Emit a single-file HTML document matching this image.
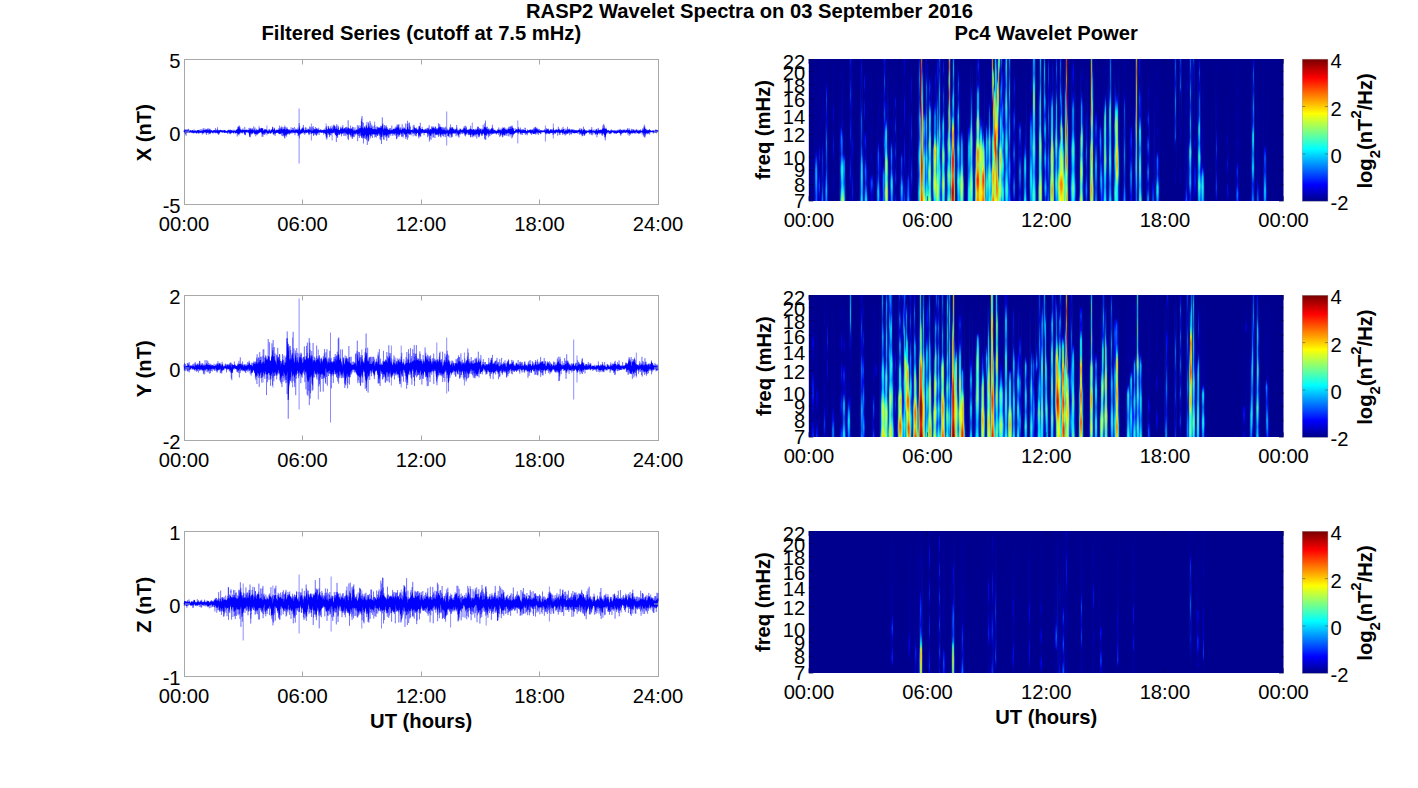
<!DOCTYPE html><html><head><meta charset="utf-8"><style>html,body{margin:0;padding:0;background:#fff;width:1418px;height:788px;overflow:hidden;position:relative}i{position:absolute;width:1px;display:block}</style></head><body><svg width="1418" height="788" viewBox="0 0 1418 788" font-family='"Liberation Sans", sans-serif' style="position:absolute;left:0;top:0">
<rect width="1418" height="788" fill="#fff"/>
<defs><linearGradient id="cb" x1="0" y1="0" x2="0" y2="1"><stop offset="0.0078" stop-color="#800000"/><stop offset="0.0234" stop-color="#8f0000"/><stop offset="0.0391" stop-color="#9f0000"/><stop offset="0.0547" stop-color="#af0000"/><stop offset="0.0703" stop-color="#bf0000"/><stop offset="0.0859" stop-color="#cf0000"/><stop offset="0.1016" stop-color="#df0000"/><stop offset="0.1172" stop-color="#ef0000"/><stop offset="0.1328" stop-color="#ff0000"/><stop offset="0.1484" stop-color="#ff1000"/><stop offset="0.1641" stop-color="#ff2000"/><stop offset="0.1797" stop-color="#ff3000"/><stop offset="0.1953" stop-color="#ff4000"/><stop offset="0.2109" stop-color="#ff5000"/><stop offset="0.2266" stop-color="#ff6000"/><stop offset="0.2422" stop-color="#ff7000"/><stop offset="0.2578" stop-color="#ff8000"/><stop offset="0.2734" stop-color="#ff8f00"/><stop offset="0.2891" stop-color="#ff9f00"/><stop offset="0.3047" stop-color="#ffaf00"/><stop offset="0.3203" stop-color="#ffbf00"/><stop offset="0.3359" stop-color="#ffcf00"/><stop offset="0.3516" stop-color="#ffdf00"/><stop offset="0.3672" stop-color="#ffef00"/><stop offset="0.3828" stop-color="#ffff00"/><stop offset="0.3984" stop-color="#efff10"/><stop offset="0.4141" stop-color="#dfff20"/><stop offset="0.4297" stop-color="#cfff30"/><stop offset="0.4453" stop-color="#bfff40"/><stop offset="0.4609" stop-color="#afff50"/><stop offset="0.4766" stop-color="#9fff60"/><stop offset="0.4922" stop-color="#8fff70"/><stop offset="0.5078" stop-color="#80ff80"/><stop offset="0.5234" stop-color="#70ff8f"/><stop offset="0.5391" stop-color="#60ff9f"/><stop offset="0.5547" stop-color="#50ffaf"/><stop offset="0.5703" stop-color="#40ffbf"/><stop offset="0.5859" stop-color="#30ffcf"/><stop offset="0.6016" stop-color="#20ffdf"/><stop offset="0.6172" stop-color="#10ffef"/><stop offset="0.6328" stop-color="#00ffff"/><stop offset="0.6484" stop-color="#00efff"/><stop offset="0.6641" stop-color="#00dfff"/><stop offset="0.6797" stop-color="#00cfff"/><stop offset="0.6953" stop-color="#00bfff"/><stop offset="0.7109" stop-color="#00afff"/><stop offset="0.7266" stop-color="#009fff"/><stop offset="0.7422" stop-color="#008fff"/><stop offset="0.7578" stop-color="#0080ff"/><stop offset="0.7734" stop-color="#0070ff"/><stop offset="0.7891" stop-color="#0060ff"/><stop offset="0.8047" stop-color="#0050ff"/><stop offset="0.8203" stop-color="#0040ff"/><stop offset="0.8359" stop-color="#0030ff"/><stop offset="0.8516" stop-color="#0020ff"/><stop offset="0.8672" stop-color="#0010ff"/><stop offset="0.8828" stop-color="#0000ff"/><stop offset="0.8984" stop-color="#0000ef"/><stop offset="0.9141" stop-color="#0000df"/><stop offset="0.9297" stop-color="#0000cf"/><stop offset="0.9453" stop-color="#0000bf"/><stop offset="0.9609" stop-color="#0000af"/><stop offset="0.9766" stop-color="#00009f"/><stop offset="0.9922" stop-color="#00008f"/></linearGradient></defs>
<text x="749.5" y="17.6" font-size="20.2" font-weight="bold" text-anchor="middle">RASP2 Wavelet Spectra on 03 September 2016</text>
<text x="421.3" y="39.7" font-size="20.2" font-weight="bold" text-anchor="middle">Filtered Series (cutoff at 7.5 mHz)</text>
<text x="1046.2" y="39.7" font-size="20.2" font-weight="bold" text-anchor="middle">Pc4 Wavelet Power</text>
<rect x="184.5" y="59.5" width="474.0" height="145.0" fill="none" stroke="#a8a8a8" stroke-width="1"/>
<polygon points="184.5,130.5 185.5,130.4 186.5,130.5 187.5,130.5 188.5,131.0 189.5,131.1 190.5,130.7 191.5,131.2 192.5,130.4 193.5,131.0 194.5,131.1 195.5,131.0 196.5,131.3 197.5,130.4 198.5,130.5 199.5,131.0 200.5,131.1 201.5,131.3 202.5,130.8 203.5,130.2 204.5,130.2 205.5,130.3 206.5,129.7 207.5,130.3 208.5,130.6 209.5,130.3 210.5,130.9 211.5,130.7 212.5,131.2 213.5,130.6 214.5,130.7 215.5,130.7 216.5,130.8 217.5,129.9 218.5,131.0 219.5,130.6 220.5,130.3 221.5,130.7 222.5,130.8 223.5,130.7 224.5,130.2 225.5,130.9 226.5,131.4 227.5,131.4 228.5,130.2 229.5,131.2 230.5,130.3 231.5,130.6 232.5,131.2 233.5,131.1 234.5,130.8 235.5,131.3 236.5,130.3 237.5,129.8 238.5,127.9 239.5,128.8 240.5,129.8 241.5,130.5 242.5,130.3 243.5,130.1 244.5,130.0 245.5,130.6 246.5,130.5 247.5,130.5 248.5,130.4 249.5,130.2 250.5,129.8 251.5,130.0 252.5,129.9 253.5,131.0 254.5,130.4 255.5,131.0 256.5,130.3 257.5,130.5 258.5,130.7 259.5,128.6 260.5,130.4 261.5,128.3 262.5,128.7 263.5,131.3 264.5,130.1 265.5,129.8 266.5,130.3 267.5,131.1 268.5,131.1 269.5,130.3 270.5,131.4 271.5,130.1 272.5,128.7 273.5,130.6 274.5,129.1 275.5,131.3 276.5,130.3 277.5,130.2 278.5,130.3 279.5,129.5 280.5,130.0 281.5,128.7 282.5,130.3 283.5,129.5 284.5,129.0 285.5,130.0 286.5,129.3 287.5,129.6 288.5,130.2 289.5,130.7 290.5,130.9 291.5,129.8 292.5,130.6 293.5,130.4 294.5,131.0 295.5,130.1 296.5,130.1 297.5,129.8 298.5,130.7 299.5,126.8 300.5,131.0 301.5,130.3 302.5,128.7 303.5,128.5 304.5,130.9 305.5,129.9 306.5,130.1 307.5,130.8 308.5,129.8 309.5,129.8 310.5,129.9 311.5,131.5 312.5,131.3 313.5,130.0 314.5,129.7 315.5,129.5 316.5,129.1 317.5,130.0 318.5,129.8 319.5,131.0 320.5,130.2 321.5,130.5 322.5,130.4 323.5,130.4 324.5,130.0 325.5,130.5 326.5,129.0 327.5,130.4 328.5,127.9 329.5,129.4 330.5,129.7 331.5,129.0 332.5,130.6 333.5,129.1 334.5,127.0 335.5,129.4 336.5,128.5 337.5,129.4 338.5,130.2 339.5,130.5 340.5,128.7 341.5,129.5 342.5,128.2 343.5,129.9 344.5,128.6 345.5,129.7 346.5,130.0 347.5,129.3 348.5,127.8 349.5,129.4 350.5,129.6 351.5,128.7 352.5,129.8 353.5,131.0 354.5,130.4 355.5,131.1 356.5,130.0 357.5,130.0 358.5,129.7 359.5,128.6 360.5,128.2 361.5,127.8 362.5,127.2 363.5,129.0 364.5,127.5 365.5,129.2 366.5,126.1 367.5,129.2 368.5,126.8 369.5,127.4 370.5,128.8 371.5,127.4 372.5,129.2 373.5,129.6 374.5,129.3 375.5,129.5 376.5,130.1 377.5,128.8 378.5,128.5 379.5,128.4 380.5,128.1 381.5,127.7 382.5,124.7 383.5,130.0 384.5,128.2 385.5,129.0 386.5,128.5 387.5,129.4 388.5,130.3 389.5,130.2 390.5,130.6 391.5,130.2 392.5,130.4 393.5,129.0 394.5,129.7 395.5,128.9 396.5,128.2 397.5,128.1 398.5,126.9 399.5,130.4 400.5,129.6 401.5,130.6 402.5,128.5 403.5,129.2 404.5,128.7 405.5,129.7 406.5,131.1 407.5,126.5 408.5,129.6 409.5,129.9 410.5,130.5 411.5,130.3 412.5,130.5 413.5,130.3 414.5,127.7 415.5,129.0 416.5,129.3 417.5,130.3 418.5,130.7 419.5,126.6 420.5,128.8 421.5,129.9 422.5,129.1 423.5,130.6 424.5,130.5 425.5,130.4 426.5,130.2 427.5,130.0 428.5,129.3 429.5,130.7 430.5,129.5 431.5,130.0 432.5,128.4 433.5,128.0 434.5,129.1 435.5,128.7 436.5,129.8 437.5,129.8 438.5,128.4 439.5,127.4 440.5,128.0 441.5,129.4 442.5,130.3 443.5,129.7 444.5,130.1 445.5,130.6 446.5,131.0 447.5,130.6 448.5,130.9 449.5,130.2 450.5,128.3 451.5,129.3 452.5,127.8 453.5,129.4 454.5,130.7 455.5,130.1 456.5,129.1 457.5,131.4 458.5,131.3 459.5,130.7 460.5,129.1 461.5,130.6 462.5,130.6 463.5,129.7 464.5,128.3 465.5,129.7 466.5,129.8 467.5,130.5 468.5,130.8 469.5,129.9 470.5,128.9 471.5,130.4 472.5,130.4 473.5,129.7 474.5,130.7 475.5,130.7 476.5,130.0 477.5,129.3 478.5,129.6 479.5,130.1 480.5,129.2 481.5,131.0 482.5,130.0 483.5,129.6 484.5,127.3 485.5,127.9 486.5,129.3 487.5,129.8 488.5,130.1 489.5,131.0 490.5,130.4 491.5,129.0 492.5,129.0 493.5,130.6 494.5,130.2 495.5,131.2 496.5,131.2 497.5,131.0 498.5,129.9 499.5,130.5 500.5,130.5 501.5,131.0 502.5,129.1 503.5,128.3 504.5,129.3 505.5,130.1 506.5,130.3 507.5,130.6 508.5,129.6 509.5,129.2 510.5,129.1 511.5,129.0 512.5,127.7 513.5,130.1 514.5,131.5 515.5,130.4 516.5,130.3 517.5,130.3 518.5,129.1 519.5,130.2 520.5,130.1 521.5,130.7 522.5,130.7 523.5,130.0 524.5,130.4 525.5,129.5 526.5,131.5 527.5,130.9 528.5,130.8 529.5,130.4 530.5,129.9 531.5,130.7 532.5,130.1 533.5,131.0 534.5,130.3 535.5,129.2 536.5,129.2 537.5,129.9 538.5,131.2 539.5,130.9 540.5,130.6 541.5,130.8 542.5,131.1 543.5,130.9 544.5,130.7 545.5,130.7 546.5,129.5 547.5,129.7 548.5,130.1 549.5,131.3 550.5,129.8 551.5,130.6 552.5,131.0 553.5,129.8 554.5,131.0 555.5,130.6 556.5,129.9 557.5,130.8 558.5,129.2 559.5,130.3 560.5,130.5 561.5,130.3 562.5,130.0 563.5,129.2 564.5,132.0 565.5,130.9 566.5,130.4 567.5,130.6 568.5,130.2 569.5,129.6 570.5,130.9 571.5,130.6 572.5,130.3 573.5,130.8 574.5,130.8 575.5,130.4 576.5,130.7 577.5,131.0 578.5,130.4 579.5,129.9 580.5,131.1 581.5,129.8 582.5,131.7 583.5,129.9 584.5,130.0 585.5,131.1 586.5,131.5 587.5,131.1 588.5,130.7 589.5,131.1 590.5,130.0 591.5,129.9 592.5,130.9 593.5,131.0 594.5,131.1 595.5,130.9 596.5,129.8 597.5,131.0 598.5,130.6 599.5,130.4 600.5,130.1 601.5,130.3 602.5,129.0 603.5,128.9 604.5,129.0 605.5,128.9 606.5,129.8 607.5,130.7 608.5,130.7 609.5,131.1 610.5,131.3 611.5,130.7 612.5,131.0 613.5,131.2 614.5,130.7 615.5,131.1 616.5,131.8 617.5,130.4 618.5,131.4 619.5,130.6 620.5,130.8 621.5,130.3 622.5,131.1 623.5,130.3 624.5,130.7 625.5,130.7 626.5,130.2 627.5,130.7 628.5,130.5 629.5,130.2 630.5,131.6 631.5,130.8 632.5,131.1 633.5,130.3 634.5,130.8 635.5,131.0 636.5,130.2 637.5,130.9 638.5,131.0 639.5,130.7 640.5,130.7 641.5,131.1 642.5,130.8 643.5,130.3 644.5,126.9 645.5,129.4 646.5,131.0 647.5,130.6 648.5,130.8 649.5,130.4 650.5,130.8 651.5,131.2 652.5,131.0 653.5,131.0 654.5,131.4 655.5,130.5 656.5,130.5 657.5,130.5 657.5,131.8 656.5,132.5 655.5,132.4 654.5,132.3 653.5,132.1 652.5,131.9 651.5,132.0 650.5,132.0 649.5,131.9 648.5,133.1 647.5,133.1 646.5,132.6 645.5,133.7 644.5,132.6 643.5,133.6 642.5,132.6 641.5,131.8 640.5,132.2 639.5,133.2 638.5,132.7 637.5,132.9 636.5,131.6 635.5,132.2 634.5,132.8 633.5,132.4 632.5,132.6 631.5,132.6 630.5,133.1 629.5,133.4 628.5,132.7 627.5,132.0 626.5,132.1 625.5,132.2 624.5,132.3 623.5,131.4 622.5,132.4 621.5,132.2 620.5,133.9 619.5,132.6 618.5,132.0 617.5,132.5 616.5,133.2 615.5,132.6 614.5,133.1 613.5,132.0 612.5,131.9 611.5,132.2 610.5,133.1 609.5,132.5 608.5,131.5 607.5,132.0 606.5,132.9 605.5,136.8 604.5,135.0 603.5,132.6 602.5,133.9 601.5,132.5 600.5,132.4 599.5,132.5 598.5,132.5 597.5,134.2 596.5,133.2 595.5,133.4 594.5,132.4 593.5,131.8 592.5,132.2 591.5,133.1 590.5,132.6 589.5,132.4 588.5,132.0 587.5,132.0 586.5,132.8 585.5,132.8 584.5,134.9 583.5,133.3 582.5,134.1 581.5,132.8 580.5,133.1 579.5,132.0 578.5,131.8 577.5,132.4 576.5,132.7 575.5,132.8 574.5,133.1 573.5,132.8 572.5,132.2 571.5,132.3 570.5,132.0 569.5,132.3 568.5,131.8 567.5,133.3 566.5,133.2 565.5,132.7 564.5,133.4 563.5,132.3 562.5,133.1 561.5,131.8 560.5,132.6 559.5,132.7 558.5,131.4 557.5,132.6 556.5,131.9 555.5,132.8 554.5,132.8 553.5,131.9 552.5,132.3 551.5,132.9 550.5,132.2 549.5,133.1 548.5,133.1 547.5,132.5 546.5,133.0 545.5,133.2 544.5,131.8 543.5,132.0 542.5,131.9 541.5,132.1 540.5,132.5 539.5,132.4 538.5,132.6 537.5,132.3 536.5,131.9 535.5,133.1 534.5,133.2 533.5,133.4 532.5,132.2 531.5,132.8 530.5,133.0 529.5,132.0 528.5,132.3 527.5,132.6 526.5,132.5 525.5,132.4 524.5,132.7 523.5,132.6 522.5,132.6 521.5,132.9 520.5,133.0 519.5,131.6 518.5,132.5 517.5,132.1 516.5,131.6 515.5,132.3 514.5,133.2 513.5,133.5 512.5,134.3 511.5,133.4 510.5,134.0 509.5,132.7 508.5,132.7 507.5,132.6 506.5,133.8 505.5,132.4 504.5,134.7 503.5,133.8 502.5,134.9 501.5,132.8 500.5,134.6 499.5,132.4 498.5,132.7 497.5,132.8 496.5,133.3 495.5,133.0 494.5,132.2 493.5,133.0 492.5,133.3 491.5,132.9 490.5,133.3 489.5,133.5 488.5,133.9 487.5,132.6 486.5,134.4 485.5,135.0 484.5,134.7 483.5,132.8 482.5,133.7 481.5,133.5 480.5,132.5 479.5,135.1 478.5,134.5 477.5,133.2 476.5,134.3 475.5,133.4 474.5,134.0 473.5,135.3 472.5,134.3 471.5,133.1 470.5,135.0 469.5,133.6 468.5,133.6 467.5,132.1 466.5,133.3 465.5,134.3 464.5,133.2 463.5,132.3 462.5,132.2 461.5,132.2 460.5,131.7 459.5,133.7 458.5,135.1 457.5,133.2 456.5,132.1 455.5,133.3 454.5,132.6 453.5,132.8 452.5,133.0 451.5,134.0 450.5,133.2 449.5,133.1 448.5,135.6 447.5,132.7 446.5,132.7 445.5,133.8 444.5,133.5 443.5,133.1 442.5,134.0 441.5,134.0 440.5,134.9 439.5,132.8 438.5,134.6 437.5,133.3 436.5,134.3 435.5,133.4 434.5,132.1 433.5,133.1 432.5,133.1 431.5,133.0 430.5,135.6 429.5,134.6 428.5,133.1 427.5,133.5 426.5,132.3 425.5,132.6 424.5,132.9 423.5,132.0 422.5,132.6 421.5,132.5 420.5,132.1 419.5,134.9 418.5,134.5 417.5,132.2 416.5,133.6 415.5,132.9 414.5,132.2 413.5,132.7 412.5,132.1 411.5,131.9 410.5,133.2 409.5,133.5 408.5,133.4 407.5,133.0 406.5,134.1 405.5,134.1 404.5,133.2 403.5,132.6 402.5,132.2 401.5,133.9 400.5,132.2 399.5,134.8 398.5,133.3 397.5,133.1 396.5,134.5 395.5,132.7 394.5,133.3 393.5,133.2 392.5,133.0 391.5,133.1 390.5,133.6 389.5,133.6 388.5,134.1 387.5,134.2 386.5,136.1 385.5,134.5 384.5,134.8 383.5,135.0 382.5,130.7 381.5,137.0 380.5,134.1 379.5,133.0 378.5,132.8 377.5,134.8 376.5,133.8 375.5,134.5 374.5,133.8 373.5,133.9 372.5,134.0 371.5,134.0 370.5,134.6 369.5,133.7 368.5,138.5 367.5,135.6 366.5,136.4 365.5,134.3 364.5,135.2 363.5,136.6 362.5,134.7 361.5,136.3 360.5,131.9 359.5,133.7 358.5,133.3 357.5,134.1 356.5,132.6 355.5,133.3 354.5,133.5 353.5,133.6 352.5,136.6 351.5,132.1 350.5,135.0 349.5,133.0 348.5,133.5 347.5,134.0 346.5,133.2 345.5,132.5 344.5,132.3 343.5,132.7 342.5,132.8 341.5,133.4 340.5,132.4 339.5,134.2 338.5,132.7 337.5,135.1 336.5,136.0 335.5,134.6 334.5,131.2 333.5,132.2 332.5,132.5 331.5,133.1 330.5,132.6 329.5,134.0 328.5,133.0 327.5,132.2 326.5,135.8 325.5,133.3 324.5,132.4 323.5,132.5 322.5,132.1 321.5,132.5 320.5,132.0 319.5,132.2 318.5,132.0 317.5,133.1 316.5,133.0 315.5,132.8 314.5,133.0 313.5,133.0 312.5,133.0 311.5,132.6 310.5,131.9 309.5,132.1 308.5,133.1 307.5,131.7 306.5,132.5 305.5,132.6 304.5,132.7 303.5,131.9 302.5,132.2 301.5,132.9 300.5,133.3 299.5,133.7 298.5,133.7 297.5,132.7 296.5,131.7 295.5,132.4 294.5,132.4 293.5,132.3 292.5,131.8 291.5,131.9 290.5,133.0 289.5,133.1 288.5,132.5 287.5,133.2 286.5,134.3 285.5,134.3 284.5,135.4 283.5,133.6 282.5,132.6 281.5,132.5 280.5,133.4 279.5,133.5 278.5,132.9 277.5,132.2 276.5,132.4 275.5,133.4 274.5,132.8 273.5,133.6 272.5,131.4 271.5,132.4 270.5,133.0 269.5,132.0 268.5,133.4 267.5,132.7 266.5,131.3 265.5,132.2 264.5,133.2 263.5,133.0 262.5,134.3 261.5,132.2 260.5,131.8 259.5,132.3 258.5,132.8 257.5,133.4 256.5,133.5 255.5,133.8 254.5,132.9 253.5,132.2 252.5,133.2 251.5,132.7 250.5,133.0 249.5,134.9 248.5,131.8 247.5,131.6 246.5,131.8 245.5,132.3 244.5,133.2 243.5,132.0 242.5,132.0 241.5,132.4 240.5,131.7 239.5,132.9 238.5,134.1 237.5,132.9 236.5,132.4 235.5,133.0 234.5,132.1 233.5,133.0 232.5,131.9 231.5,132.6 230.5,132.8 229.5,132.8 228.5,131.8 227.5,132.5 226.5,132.3 225.5,132.1 224.5,132.6 223.5,131.9 222.5,132.0 221.5,132.0 220.5,131.7 219.5,132.5 218.5,133.2 217.5,132.8 216.5,132.1 215.5,132.4 214.5,132.0 213.5,132.1 212.5,132.6 211.5,131.8 210.5,132.8 209.5,132.9 208.5,131.7 207.5,132.6 206.5,132.8 205.5,132.1 204.5,131.7 203.5,132.5 202.5,133.2 201.5,132.3 200.5,132.4 199.5,131.9 198.5,132.9 197.5,132.2 196.5,132.8 195.5,132.4 194.5,132.2 193.5,132.5 192.5,132.3 191.5,132.2 190.5,132.1 189.5,132.3 188.5,132.0 187.5,132.0 186.5,132.9 185.5,132.8 184.5,131.7" fill="#0000ff"/><path transform="translate(184.0 131.50) scale(0.071439 0.1)" vector-effect="non-scaling-stroke" d="M0 -3l1 9 1 -13 1 7 1 -16 1 10 1 9 1 -5 1 12 1 -11 1 -2 1 -7 1 -12 1 15 1 16 1 -13 1 16 1 9 1 -32 1 -1 1 9 1 31 1 -39 1 8 1 17 1 -26 1 7 1 5 1 -12 1 -11 1 66 1 -44 1 8 1 8 1 -26 1 25 1 -17 1 0 1 -5 1 14 1 8 1 -19 1 0 1 5 1 4 1 -8 1 -6 1 24 1 -23 1 -14 1 3 1 17 1 3 1 6 1 -10 1 9 1 8 1 -16 1 4 1 0 1 1 1 -8 1 8 1 -29 1 25 1 -7 1 12 1 -4 1 7 1 -1 1 -23 1 34 1 -19 1 11 1 -8 1 1 1 -5 1 12 1 -9 1 8 1 -7 1 -1 1 -1 1 -5 1 -1 1 14 1 -5 1 -13 1 8 1 10 1 -6 1 -3 1 -11 1 11 1 17 1 -8 1 -14 1 10 1 -1 1 -4 1 2 1 -13 1 15 1 2 1 4 1 -1 1 -8 1 -2 1 3 1 3 1 10 1 1 1 4 1 -15 1 10 1 -23 1 5 1 -4 1 8 1 12 1 -9 1 -12 1 5 1 -9 1 0 1 12 1 14 1 -10 1 -5 1 13 1 -11 1 17 1 -21 1 1 1 6 1 19 1 -15 1 3 1 -5 1 -12 1 22 1 -18 1 17 1 -32 1 21 1 -1 1 5 1 -3 1 -3 1 0 1 8 1 -19 1 14 1 -2 1 16 1 -7 1 -6 1 4 1 3 1 -11 1 -3 1 6 1 -2 1 -9 1 9 1 -5 1 -5 1 17 1 -15 1 5 1 12 1 -4 1 12 1 -14 1 -4 1 5 1 3 1 15 1 -26 1 18 1 -7 1 -2 1 -3 1 10 1 -22 1 -4 1 7 1 14 1 -2 1 -11 1 -1 1 -4 1 -4 1 11 1 11 1 -10 1 -9 1 23 1 -27 1 25 1 13 1 -30 1 -2 1 14 1 -14 1 9 1 19 1 -28 1 24 1 -8 1 -11 1 9 1 -15 1 8 1 -2 1 2 1 -10 1 28 1 4 1 -15 1 -6 1 2 1 -4 1 1 1 -1 1 15 1 -14 1 2 1 -22 1 28 1 2 1 2 1 -11 1 10 1 -14 1 13 1 3 1 -13 1 15 1 -12 1 1 1 5 1 -9 1 4 1 8 1 -1 1 -10 1 -20 1 21 1 -1 1 7 1 -6 1 -5 1 6 1 -6 1 30 1 6 1 -35 1 -2 1 -2 1 12 1 -1 1 4 1 11 1 0 1 -37 1 13 1 2 1 4 1 11 1 -45 1 16 1 39 1 -21 1 15 1 -29 1 23 1 -6 1 -7 1 -4 1 5 1 9 1 -2 1 -5 1 -1 1 0 1 -10 1 8 1 -8 1 4 1 -3 1 24 1 -14 1 -29 1 38 1 -12 1 26 1 -33 1 15 1 -19 1 11 1 -6 1 9 1 5 1 4 1 -9 1 7 1 -17 1 -12 1 38 1 -4 1 -10 1 0 1 11 1 -30 1 33 1 21 1 -33 1 -19 1 12 1 -13 1 12 1 -4 1 9 1 -11 1 28 1 0 1 -18 1 2 1 -3 1 -22 1 36 1 -2 1 -12 1 -5 1 -9 1 -18 1 35 1 -9 1 9 1 12 1 -17 1 -1 1 8 1 -8 1 35 1 -36 1 4 1 -20 1 25 1 -10 1 -2 1 22 1 -17 1 -2 1 8 1 -22 1 14 1 -5 1 26 1 -43 1 46 1 10 1 -14 1 -15 1 26 1 -29 1 -2 1 21 1 -4 1 -28 1 31 1 -13 1 5 1 -24 1 14 1 5 1 3 1 -9 1 5 1 -11 1 15 1 -7 1 2 1 -2 1 2 1 -13 1 24 1 -18 1 7 1 14 1 -11 1 -10 1 3 1 15 1 -8 1 -1 1 8 1 7 1 -3 1 -3 1 -9 1 -4 1 8 1 -1 1 20 1 -28 1 4 1 -10 1 2 1 4 1 15 1 -15 1 2 1 10 1 -7 1 -14 1 5 1 5 1 17 1 -7 1 -9 1 -1 1 10 1 -22 1 14 1 -2 1 6 1 8 1 -15 1 -8 1 5 1 2 1 0 1 16 1 -1 1 -24 1 11 1 22 1 -26 1 11 1 -37 1 26 1 6 1 18 1 -18 1 1 1 7 1 -4 1 2 1 -5 1 3 1 3 1 -8 1 7 1 6 1 -6 1 -14 1 19 1 -29 1 26 1 -13 1 20 1 -6 1 -4 1 1 1 18 1 -40 1 11 1 -25 1 -10 1 55 1 -10 1 -1 1 11 1 -21 1 13 1 -15 1 24 1 -13 1 -1 1 29 1 -11 1 -19 1 7 1 25 1 -47 1 10 1 20 1 -1 1 -7 1 -14 1 2 1 2 1 -7 1 22 1 12 1 -13 1 -19 1 0 1 0 1 21 1 -9 1 -4 1 4 1 -5 1 6 1 -22 1 14 1 8 1 -5 1 -4 1 2 1 -12 1 14 1 -12 1 11 1 -7 1 13 1 -8 1 7 1 -3 1 5 1 -9 1 -2 1 5 1 -11 1 3 1 -5 1 27 1 -4 1 -8 1 2 1 -7 1 9 1 -16 1 13 1 -11 1 2 1 20 1 -7 1 -2 1 -4 1 2 1 -4 1 4 1 9 1 -13 1 5 1 -4 1 -5 1 10 1 -7 1 -4 1 3 1 0 1 -5 1 15 1 -16 1 2 1 19 1 -7 1 -18 1 19 1 -10 1 19 1 -3 1 -1 1 -23 1 27 1 -26 1 10 1 -13 1 25 1 -17 1 4 1 -2 1 -1 1 7 1 13 1 -14 1 -1 1 -1 1 14 1 -16 1 -4 1 3 1 12 1 -10 1 9 1 2 1 -1 1 -1 1 -7 1 4 1 6 1 -9 1 9 1 -14 1 10 1 3 1 0 1 -3 1 5 1 1 1 -6 1 2 1 -3 1 -17 1 20 1 -7 1 -4 1 7 1 23 1 -28 1 12 1 -11 1 -14 1 18 1 -5 1 13 1 -9 1 -12 1 -4 1 2 1 7 1 -13 1 22 1 -4 1 -3 1 2 1 8 1 -6 1 16 1 -5 1 -5 1 -11 1 24 1 -23 1 -11 1 12 1 15 1 -30 1 17 1 -10 1 -9 1 2 1 45 1 -40 1 21 1 5 1 -21 1 6 1 5 1 -2 1 -2 1 23 1 -28 1 -1 1 3 1 4 1 14 1 -25 1 -3 1 14 1 12 1 -11 1 -8 1 -7 1 9 1 -2 1 21 1 -27 1 -1 1 10 1 8 1 -6 1 -2 1 3 1 -1 1 6 1 -3 1 9 1 -8 1 -6 1 0 1 9 1 -8 1 -16 1 31 1 -15 1 -6 1 20 1 3 1 0 1 6 1 -13 1 -13 1 10 1 -6 1 5 1 0 1 -21 1 8 1 9 1 0 1 6 1 2 1 0 1 -11 1 5 1 -2 1 -2 1 -6 1 10 1 1 1 -5 1 23 1 -30 1 12 1 4 1 -9 1 0 1 19 1 -15 1 10 1 4 1 -28 1 18 1 -7 1 2 1 9 1 -16 1 -7 1 2 1 -1 1 22 1 -34 1 36 1 -16 1 -7 1 0 1 4 1 7 1 -10 1 60 1 -53 1 -20 1 16 1 26 1 -22 1 -7 1 -9 1 37 1 -21 1 -44 1 77 1 -71 1 63 1 -15 1 3 1 -27 1 31 1 0 1 -22 1 -36 1 71 1 -7 1 -70 1 89 1 -88 1 65 1 -36 1 -41 1 56 1 11 1 15 1 -25 1 12 1 -35 1 28 1 -9 1 -19 1 47 1 -38 1 -24 1 42 1 -17 1 19 1 -15 1 21 1 -23 1 11 1 1 1 -5 1 9 1 16 1 -24 1 7 1 11 1 -23 1 7 1 -11 1 14 1 7 1 -9 1 8 1 -10 1 11 1 7 1 -2 1 -30 1 14 1 1 1 -2 1 26 1 -25 1 -13 1 36 1 -30 1 9 1 10 1 -14 1 -6 1 19 1 -7 1 -29 1 22 1 2 1 13 1 0 1 -18 1 -2 1 12 1 8 1 -2 1 -12 1 12 1 -18 1 17 1 -10 1 19 1 6 1 -22 1 -12 1 11 1 4 1 28 1 -16 1 -21 1 7 1 -43 1 18 1 62 1 -29 1 25 1 -40 1 4 1 14 1 29 1 -35 1 -2 1 -3 1 -9 1 16 1 -22 1 24 1 -4 1 -14 1 8 1 8 1 -7 1 -5 1 12 1 9 1 -31 1 11 1 6 1 0 1 -9 1 0 1 3 1 7 1 0 1 -19 1 21 1 -8 1 0 1 2 1 3 1 2 1 -2 1 -3 1 -10 1 3 1 22 1 -27 1 8 1 25 1 -28 1 0 1 4 1 0 1 3 1 0 1 -1 1 10 1 -8 1 -30 1 52 1 -9 1 -8 1 -12 1 13 1 1 1 7 1 -4 1 44 1 -65 1 -7 1 62 1 -50 1 -29 1 90 1 -42 1 48 1 -61 1 -14 1 36 1 -33 1 -13 1 18 1 -7 1 30 1 -45 1 47 1 -26 1 16 1 6 1 -17 1 26 1 -20 1 31 1 -53 1 5 1 4 1 6 1 5 1 10 1 -2 1 -7 1 -19 1 38 1 -51 1 54 1 -25 1 14 1 10 1 -49 1 29 1 -4 1 1 1 -2 1 8 1 -23 1 18 1 6 1 -5 1 8 1 -17 1 16 1 -12 1 3 1 4 1 -2 1 -51 1 48 1 -2 1 14 1 -13 1 -10 1 22 1 -9 1 -11 1 12 1 27 1 -55 1 42 1 -5 1 19 1 -19 1 4 1 -7 1 -15 1 16 1 -47 1 64 1 -22 1 -2 1 -15 1 8 1 24 1 8 1 -6 1 -16 1 45 1 -34 1 -15 1 -7 1 0 1 32 1 -24 1 -7 1 -6 1 12 1 -15 1 -11 1 32 1 29 1 -38 1 28 1 -17 1 -4 1 -13 1 26 1 -10 1 -7 1 20 1 -8 1 -12 1 33 1 -45 1 5 1 4 1 25 1 -39 1 7 1 9 1 16 1 -22 1 14 1 -8 1 -18 1 31 1 9 1 -23 1 20 1 -19 1 -5 1 11 1 5 1 -61 1 49 1 17 1 -31 1 28 1 -15 1 -25 1 1 1 34 1 -12 1 -24 1 28 1 -5 1 -1 1 -21 1 30 1 -8 1 -2 1 5 1 10 1 2 1 -32 1 27 1 -2 1 1 1 -13 1 4 1 -29 1 52 1 -28 1 -24 1 12 1 31 1 0 1 -8 1 -23 1 31 1 -8 1 -4 1 9 1 -38 1 27 1 60 1 -38 1 14 1 -58 1 39 1 -11 1 -24 1 -7 1 28 1 28 1 -10 1 -45 1 83 1 -52 1 21 1 -9 1 3 1 -22 1 -7 1 13 1 29 1 -15 1 -8 1 10 1 -1 1 -15 1 -2 1 -9 1 8 1 37 1 -26 1 -3 1 -12 1 -7 1 20 1 14 1 -45 1 30 1 28 1 -49 1 18 1 3 1 -22 1 9 1 5 1 19 1 -36 1 27 1 1 1 -19 1 35 1 -16 1 -25 1 22 1 -6 1 -10 1 10 1 -15 1 12 1 19 1 -23 1 5 1 -16 1 17 1 -7 1 0 1 7 1 -8 1 22 1 -16 1 17 1 0 1 -6 1 -5 1 6 1 -6 1 23 1 -29 1 12 1 4 1 0 1 -12 1 -11 1 13 1 -2 1 24 1 -28 1 -1 1 12 1 10 1 -16 1 -5 1 11 1 -7 1 15 1 9 1 -3 1 -46 1 30 1 -3 1 0 1 -15 1 20 1 -26 1 21 1 3 1 7 1 -16 1 5 1 0 1 10 1 8 1 -13 1 8 1 -5 1 -2 1 1 1 -15 1 23 1 10 1 -27 1 -9 1 23 1 -7 1 -1 1 -6 1 -3 1 3 1 -17 1 30 1 -26 1 7 1 -9 1 18 1 -2 1 13 1 5 1 -18 1 -1 1 -6 1 7 1 -3 1 1 1 -1 1 -19 1 12 1 -35 1 40 1 -40 1 50 1 -3 1 -1 1 -30 1 40 1 13 1 -29 1 -4 1 11 1 18 1 -32 1 22 1 22 1 -41 1 4 1 27 1 -18 1 -6 1 36 1 -51 1 -8 1 34 1 -8 1 -38 1 23 1 22 1 -37 1 25 1 27 1 -16 1 -14 1 23 1 -22 1 52 1 -39 1 -1 1 1 1 -20 1 27 1 -15 1 24 1 -2 1 -19 1 8 1 -10 1 7 1 -9 1 4 1 9 1 -4 1 -23 1 9 1 18 1 -7 1 -17 1 27 1 -32 1 26 1 -9 1 5 1 2 1 4 1 -25 1 6 1 18 1 3 1 -28 1 12 1 0 1 -3 1 2 1 -7 1 18 1 -1 1 6 1 -22 1 13 1 14 1 -25 1 15 1 -21 1 15 1 18 1 -23 1 1 1 -25 1 36 1 11 1 8 1 -44 1 -13 1 32 1 28 1 -24 1 -1 1 5 1 -67 1 51 1 31 1 -14 1 -29 1 9 1 5 1 -10 1 31 1 -13 1 -4 1 -3 1 25 1 -59 1 28 1 23 1 8 1 -9 1 -39 1 56 1 -40 1 16 1 2 1 4 1 -4 1 4 1 -18 1 -21 1 -22 1 92 1 -78 1 33 1 15 1 -37 1 37 1 -13 1 -6 1 -5 1 15 1 8 1 2 1 -3 1 -10 1 -12 1 8 1 48 1 -89 1 41 1 -22 1 75 1 -70 1 23 1 -11 1 5 1 8 1 -4 1 -25 1 49 1 14 1 -25 1 -25 1 -2 1 -6 1 13 1 -9 1 59 1 -86 1 48 1 57 1 -87 1 51 1 -20 1 17 1 48 1 -129 1 54 1 -5 1 27 1 14 1 -38 1 -36 1 36 1 53 1 -58 1 -4 1 1 1 2 1 6 1 12 1 33 1 0 1 -22 1 -30 1 23 1 -6 1 -31 1 -11 1 45 1 46 1 -75 1 21 1 21 1 11 1 -29 1 3 1 -23 1 37 1 -27 1 -31 1 65 1 -23 1 9 1 -30 1 47 1 -41 1 -10 1 29 1 -9 1 -6 1 14 1 -16 1 18 1 -15 1 9 1 19 1 -33 1 6 1 30 1 -12 1 -22 1 -13 1 6 1 23 1 -5 1 8 1 -6 1 29 1 -52 1 21 1 -11 1 3 1 13 1 12 1 9 1 -15 1 -19 1 29 1 -5 1 -21 1 -1 1 15 1 5 1 -14 1 10 1 5 1 -32 1 21 1 -11 1 14 1 -6 1 -4 1 -39 1 23 1 1 1 23 1 -2 1 -15 1 -3 1 28 1 -29 1 13 1 2 1 20 1 -32 1 11 1 5 1 -11 1 27 1 -29 1 6 1 -5 1 -28 1 35 1 -6 1 2 1 -2 1 9 1 8 1 -5 1 -10 1 22 1 -27 1 -24 1 38 1 6 1 -6 1 -8 1 -18 1 18 1 1 1 16 1 -23 1 16 1 5 1 -13 1 7 1 -6 1 -43 1 40 1 -5 1 22 1 -9 1 -8 1 2 1 8 1 32 1 -43 1 3 1 13 1 1 1 -5 1 -15 1 15 1 -21 1 -3 1 -11 1 46 1 -21 1 -1 1 13 1 -30 1 20 1 2 1 3 1 -6 1 1 1 15 1 -5 1 -31 1 12 1 8 1 -5 1 -6 1 6 1 20 1 -21 1 17 1 10 1 -24 1 -6 1 13 1 -13 1 29 1 -10 1 -19 1 -11 1 4 1 -20 1 62 1 23 1 -35 1 -19 1 15 1 -8 1 -1 1 22 1 21 1 -23 1 -26 1 -17 1 18 1 27 1 12 1 -103 1 -12 1 74 1 5 1 15 1 57 1 -55 1 -70 1 81 1 -14 1 7 1 -19 1 3 1 -19 1 52 1 -20 1 -24 1 12 1 5 1 -14 1 24 1 -7 1 0 1 7 1 -14 1 17 1 -2 1 -13 1 -17 1 7 1 -17 1 13 1 29 1 -47 1 31 1 11 1 -27 1 16 1 -4 1 15 1 -1 1 -27 1 31 1 -31 1 -23 1 35 1 -26 1 -4 1 40 1 -13 1 12 1 -2 1 -35 1 10 1 -4 1 -23 1 34 1 30 1 -48 1 36 1 -72 1 67 1 -10 1 1 1 12 1 -1 1 -33 1 25 1 -2 1 28 1 -13 1 -10 1 5 1 0 1 -2 1 -8 1 12 1 5 1 -20 1 13 1 30 1 -21 1 -20 1 6 1 3 1 -7 1 12 1 -17 1 -28 1 27 1 8 1 15 1 -1 1 9 1 -8 1 -53 1 25 1 21 1 -5 1 -1 1 -12 1 -2 1 29 1 -16 1 -9 1 21 1 6 1 -6 1 0 1 1 1 -39 1 11 1 17 1 0 1 -4 1 11 1 -6 1 3 1 -4 1 -15 1 11 1 -2 1 0 1 23 1 -18 1 -25 1 22 1 -8 1 0 1 21 1 -26 1 4 1 16 1 -29 1 39 1 6 1 -22 1 21 1 10 1 -33 1 43 1 -36 1 -7 1 -12 1 19 1 21 1 -15 1 -20 1 4 1 -42 1 54 1 -20 1 1 1 14 1 -4 1 -12 1 2 1 -27 1 46 1 4 1 -6 1 -1 1 -16 1 12 1 8 1 0 1 21 1 -21 1 -4 1 5 1 -4 1 23 1 -13 1 -9 1 7 1 -15 1 23 1 -12 1 -33 1 30 1 2 1 13 1 -17 1 -47 1 57 1 -24 1 23 1 6 1 -2 1 -2 1 8 1 -21 1 7 1 0 1 -6 1 16 1 -14 1 -55 1 50 1 17 1 -14 1 -33 1 80 1 -55 1 41 1 -44 1 -4 1 6 1 -4 1 19 1 -14 1 -7 1 -2 1 -9 1 43 1 1 1 -38 1 28 1 -12 1 12 1 4 1 25 1 -34 1 3 1 -22 1 8 1 12 1 -25 1 -23 1 31 1 -7 1 15 1 30 1 -38 1 0 1 29 1 17 1 -58 1 10 1 53 1 -24 1 -2 1 4 1 -5 1 32 1 -49 1 7 1 -36 1 31 1 -26 1 13 1 7 1 -3 1 35 1 -26 1 -7 1 5 1 -17 1 40 1 -3 1 -13 1 30 1 -46 1 3 1 -3 1 20 1 5 1 -12 1 -3 1 8 1 -22 1 24 1 9 1 -8 1 -34 1 -8 1 29 1 8 1 -8 1 13 1 -9 1 38 1 -39 1 9 1 -16 1 9 1 0 1 10 1 -4 1 6 1 -7 1 -15 1 10 1 -9 1 -5 1 23 1 -20 1 18 1 -2 1 -6 1 -17 1 30 1 -18 1 -1 1 1 1 16 1 -10 1 -5 1 21 1 -30 1 7 1 -7 1 13 1 15 1 -10 1 1 1 11 1 -14 1 -1 1 5 1 -2 1 1 1 8 1 -11 1 7 1 -12 1 -7 1 23 1 -17 1 -9 1 15 1 -12 1 12 1 -6 1 12 1 -16 1 7 1 12 1 -10 1 12 1 -20 1 -4 1 -6 1 51 1 -27 1 -10 1 6 1 10 1 -19 1 6 1 13 1 -12 1 10 1 -25 1 30 1 -22 1 15 1 -2 1 13 1 -15 1 3 1 -35 1 10 1 7 1 19 1 18 1 -26 1 -13 1 36 1 -32 1 17 1 2 1 -13 1 0 1 2 1 31 1 -36 1 40 1 15 1 -99 1 50 1 -28 1 22 1 -35 1 46 1 -5 1 58 1 -64 1 88 1 -78 1 25 1 34 1 -50 1 -22 1 2 1 3 1 14 1 -5 1 -9 1 1 1 -20 1 29 1 -8 1 -20 1 14 1 22 1 -17 1 -51 1 90 1 -34 1 17 1 -36 1 -19 1 42 1 -55 1 67 1 -34 1 -7 1 22 1 -21 1 51 1 -42 1 16 1 -2 1 -10 1 -19 1 85 1 -68 1 50 1 -55 1 7 1 26 1 -37 1 3 1 25 1 -6 1 6 1 -43 1 74 1 -14 1 -10 1 -12 1 -54 1 51 1 -10 1 10 1 -11 1 52 1 -51 1 -14 1 44 1 -4 1 -9 1 -16 1 -15 1 3 1 -11 1 51 1 -27 1 9 1 -9 1 18 1 10 1 -7 1 -14 1 10 1 7 1 -15 1 -41 1 50 1 -8 1 7 1 -17 1 14 1 -20 1 -1 1 32 1 -20 1 -3 1 2 1 0 1 -15 1 31 1 -35 1 42 1 -74 1 52 1 -63 1 52 1 -16 1 -9 1 -22 1 76 1 -53 1 38 1 -53 1 19 1 22 1 -18 1 27 1 -17 1 -24 1 69 1 -73 1 48 1 31 1 -54 1 18 1 10 1 3 1 1 1 25 1 -57 1 42 1 22 1 -8 1 0 1 -14 1 -69 1 26 1 1 1 111 1 19 1 -64 1 -11 1 -2 1 -101 1 119 1 -77 1 15 1 13 1 5 1 -23 1 28 1 -30 1 2 1 86 1 -31 1 -47 1 68 1 -19 1 -42 1 -55 1 91 1 -23 1 -1 1 -21 1 14 1 -4 1 38 1 -69 1 51 1 -7 1 -58 1 58 1 -12 1 7 1 -3 1 13 1 -25 1 14 1 27 1 -9 1 11 1 -39 1 44 1 -24 1 -21 1 -2 1 15 1 -8 1 26 1 -39 1 0 1 10 1 -4 1 11 1 11 1 -26 1 14 1 -36 1 5 1 23 1 27 1 -67 1 41 1 35 1 -36 1 -13 1 17 1 -20 1 22 1 16 1 -27 1 62 1 -80 1 24 1 -2 1 37 1 -18 1 11 1 -5 1 -25 1 -29 1 45 1 -19 1 10 1 -4 1 25 1 -62 1 42 1 22 1 -85 1 65 1 -4 1 25 1 -30 1 -9 1 15 1 15 1 -13 1 4 1 -9 1 8 1 -25 1 16 1 19 1 33 1 -69 1 15 1 -25 1 53 1 -45 1 -7 1 15 1 22 1 -34 1 12 1 19 1 -9 1 14 1 2 1 30 1 -31 1 3 1 7 1 -9 1 -7 1 6 1 -50 1 40 1 -6 1 19 1 -47 1 20 1 64 1 -65 1 30 1 -16 1 -35 1 56 1 -11 1 3 1 -9 1 22 1 -15 1 -25 1 -29 1 63 1 14 1 -23 1 -23 1 -20 1 30 1 -18 1 0 1 38 1 12 1 7 1 -22 1 -5 1 14 1 -1 1 -12 1 64 1 -112 1 18 1 -89 1 36 1 70 1 92 1 -89 1 -21 1 22 1 38 1 -50 1 36 1 -11 1 -28 1 6 1 -11 1 23 1 -10 1 21 1 17 1 -26 1 -32 1 14 1 29 1 2 1 3 1 -37 1 -16 1 13 1 27 1 29 1 2 1 -41 1 29 1 -35 1 -11 1 -38 1 112 1 -47 1 -8 1 1 1 36 1 -44 1 52 1 -64 1 2 1 15 1 11 1 -19 1 11 1 1 1 3 1 -34 1 2 1 -6 1 105 1 -66 1 49 1 -61 1 49 1 -44 1 1 1 1 1 -47 1 103 1 18 1 -49 1 -44 1 -6 1 41 1 -30 1 8 1 60 1 -52 1 -45 1 52 1 9 1 -2 1 35 1 -41 1 -2 1 15 1 -7 1 -10 1 0 1 18 1 -15 1 -10 1 31 1 25 1 -61 1 -5 1 7 1 8 1 -22 1 27 1 0 1 -49 1 47 1 -10 1 2 1 -1 1 23 1 -16 1 7 1 26 1 -44 1 6 1 26 1 -28 1 -2 1 11 1 -18 1 7 1 -11 1 12 1 17 1 3 1 -17 1 -15 1 22 1 -2 1 -3 1 2 1 19 1 -48 1 31 1 10 1 21 1 -40 1 28 1 -88 1 63 1 27 1 -13 1 84 1 -115 1 -4 1 30 1 6 1 -20 1 24 1 -21 1 30 1 -18 1 -56 1 44 1 7 1 40 1 -29 1 -36 1 34 1 0 1 -40 1 -36 1 72 1 -44 1 30 1 31 1 39 1 -96 1 41 1 -28 1 23 1 -3 1 45 1 -41 1 5 1 -10 1 3 1 -6 1 8 1 -7 1 42 1 -38 1 -46 1 -14 1 51 1 -21 1 16 1 -24 1 37 1 -2 1 31 1 -11 1 30 1 -16 1 -139 1 118 1 -54 1 -88 1 194 1 -22 1 -36 1 52 1 -79 1 -135 1 110 1 70 1 -118 1 115 1 48 1 -104 1 1 1 67 1 -17 1 -42 1 63 1 -49 1 29 1 34 1 -11 1 -49 1 24 1 -64 1 -41 1 209 1 -73 1 1 1 -56 1 -5 1 77 1 -32 1 -60 1 68 1 -27 1 56 1 -108 1 89 1 -24 1 -10 1 -56 1 -12 1 73 1 -28 1 -39 1 37 1 15 1 64 1 -106 1 67 1 -44 1 -2 1 -13 1 3 1 17 1 28 1 -4 1 59 1 -61 1 -25 1 8 1 11 1 -76 1 78 1 -56 1 63 1 41 1 -114 1 142 1 -88 1 13 1 -48 1 32 1 72 1 -163 1 121 1 -38 1 4 1 5 1 138 1 -88 1 2 1 -46 1 -26 1 21 1 -29 1 40 1 -43 1 16 1 35 1 -55 1 -9 1 66 1 77 1 -64 1 -122 1 86 1 105 1 -86 1 -93 1 65 1 42 1 52 1 -88 1 -35 1 -16 1 24 1 32 1 -3 1 28 1 -15 1 22 1 7 1 -47 1 33 1 -53 1 -76 1 79 1 25 1 -1 1 7 1 -25 1 58 1 -52 1 12 1 8 1 45 1 -83 1 46 1 -45 1 82 1 -38 1 -3 1 10 1 8 1 -55 1 7 1 12 1 52 1 -7 1 -88 1 9 1 -25 1 88 1 -36 1 -6 1 54 1 -76 1 3 1 37 1 20 1 7 1 42 1 -39 1 -47 1 1 1 45 1 -18 1 -16 1 14 1 -14 1 -41 1 -2 1 79 1 -45 1 30 1 9 1 -39 1 10 1 34 1 -43 1 52 1 -29 1 -20 1 30 1 0 1 15 1 0 1 -36 1 -17 1 -2 1 19 1 -13 1 44 1 -91 1 76 1 1 1 6 1 -7 1 2 1 -35 1 14 1 27 1 -38 1 74 1 -21 1 -50 1 20 1 35 1 -81 1 39 1 9 1 -30 1 39 1 -29 1 76 1 -45 1 -32 1 40 1 -12 1 -23 1 18 1 -2 1 18 1 11 1 -86 1 56 1 1 1 3 1 26 1 9 1 -56 1 -1 1 -13 1 71 1 -71 1 11 1 -28 1 75 1 -76 1 56 1 -27 1 16 1 -36 1 41 1 -37 1 9 1 37 1 13 1 -18 1 -14 1 8 1 18 1 -4 1 -49 1 39 1 -41 1 19 1 58 1 -87 1 17 1 10 1 52 1 -62 1 13 1 -1 1 15 1 77 1 -98 1 21 1 6 1 2 1 2 1 -14 1 -13 1 104 1 -144 1 23 1 2 1 -9 1 71 1 27 1 -92 1 40 1 -47 1 -14 1 112 1 -62 1 132 1 -87 1 -8 1 -61 1 -9 1 31 1 62 1 -65 1 62 1 -59 1 1 1 -134 1 113 1 -42 1 42 1 -16 1 78 1 -87 1 -8 1 22 1 -42 1 61 1 -9 1 14 1 39 1 -10 1 -28 1 92 1 -42 1 -5 1 -31 1 -15 1 33 1 28 1 -36 1 -43 1 116 1 -81 1 36 1 -40 1 18 1 -45 1 -36 1 52 1 23 1 -7 1 -46 1 81 1 -33 1 -29 1 13 1 38 1 -52 1 55 1 4 1 22 1 -26 1 -22 1 -64 1 -1 1 84 1 -45 1 44 1 -59 1 31 1 11 1 9 1 -78 1 81 1 27 1 -20 1 11 1 -51 1 106 1 -137 1 28 1 77 1 -22 1 -78 1 38 1 -21 1 0 1 26 1 24 1 -18 1 -2 1 36 1 -68 1 35 1 -33 1 44 1 -36 1 28 1 -8 1 21 1 -29 1 5 1 3 1 -22 1 77 1 -42 1 -11 1 -23 1 75 1 -69 1 16 1 -23 1 18 1 -36 1 27 1 35 1 -17 1 -15 1 -24 1 54 1 -23 1 -3 1 22 1 -31 1 8 1 0 1 -9 1 51 1 -3 1 -30 1 -18 1 1 1 -27 1 31 1 8 1 -21 1 41 1 -15 1 4 1 -16 1 15 1 -9 1 -1 1 -9 1 31 1 -8 1 -16 1 17 1 -48 1 -28 1 48 1 -2 1 20 1 4 1 -26 1 59 1 -63 1 17 1 17 1 -23 1 22 1 14 1 -40 1 9 1 2 1 9 1 4 1 6 1 -31 1 -6 1 -7 1 49 1 -49 1 13 1 -14 1 35 1 -12 1 -18 1 10 1 52 1 -49 1 15 1 -9 1 28 1 -52 1 8 1 -7 1 57 1 -14 1 -27 1 1 1 28 1 -34 1 12 1 8 1 -46 1 52 1 10 1 -24 1 -26 1 15 1 -13 1 31 1 8 1 -4 1 35 1 -64 1 34 1 -63 1 24 1 10 1 4 1 45 1 -37 1 81 1 -66 1 -46 1 -7 1 37 1 77 1 -92 1 37 1 2 1 -89 1 65 1 9 1 -39 1 30 1 -4 1 37 1 -36 1 -20 1 3 1 23 1 -59 1 96 1 -40 1 -11 1 -24 1 -28 1 43 1 0 1 3 1 6 1 64 1 -96 1 55 1 13 1 8 1 -101 1 126 1 -69 1 38 1 -10 1 -42 1 53 1 -19 1 4 1 -22 1 19 1 31 1 -37 1 36 1 -29 1 -19 1 -2 1 -6 1 -14 1 42 1 -4 1 -1 1 -2 1 16 1 -15 1 -44 1 63 1 -13 1 -2 1 7 1 -22 1 12 1 -9 1 5 1 -16 1 13 1 30 1 -15 1 11 1 32 1 -71 1 28 1 38 1 -46 1 -40 1 -34 1 48 1 31 1 12 1 -11 1 -23 1 -16 1 35 1 -21 1 -8 1 71 1 -48 1 -21 1 83 1 -86 1 26 1 -22 1 30 1 -7 1 -3 1 -10 1 13 1 -8 1 19 1 -58 1 67 1 -56 1 53 1 -20 1 -17 1 29 1 -38 1 53 1 -34 1 -9 1 52 1 -43 1 -18 1 -2 1 15 1 -15 1 29 1 -4 1 1 1 1 1 30 1 -30 1 19 1 -20 1 -77 1 137 1 -46 1 64 1 -97 1 65 1 -55 1 38 1 -26 1 26 1 28 1 -73 1 25 1 -9 1 7 1 -9 1 17 1 -4 1 3 1 -22 1 17 1 10 1 -93 1 26 1 133 1 -45 1 -144 1 94 1 -31 1 56 1 -24 1 13 1 1 1 7 1 36 1 16 1 -74 1 20 1 -6 1 -15 1 35 1 -22 1 -20 1 14 1 7 1 -84 1 51 1 39 1 -4 1 14 1 8 1 -16 1 -97 1 87 1 -15 1 33 1 -27 1 46 1 -95 1 53 1 28 1 -20 1 -3 1 17 1 16 1 -34 1 -44 1 64 1 -4 1 10 1 -33 1 -3 1 25 1 -15 1 -7 1 5 1 -5 1 49 1 -53 1 15 1 -14 1 -1 1 17 1 1 1 1 1 -13 1 6 1 0 1 -5 1 10 1 3 1 -13 1 32 1 -26 1 -24 1 15 1 4 1 -6 1 10 1 16 1 -23 1 2 1 -1 1 3 1 11 1 -2 1 -17 1 2 1 30 1 -5 1 -19 1 4 1 21 1 -15 1 -12 1 -24 1 -36 1 24 1 42 1 -46 1 53 1 -14 1 -26 1 17 1 38 1 -60 1 25 1 22 1 -44 1 77 1 -45 1 33 1 -23 1 -21 1 30 1 -11 1 -29 1 -8 1 28 1 -16 1 32 1 -40 1 6 1 24 1 42 1 -28 1 33 1 -37 1 -22 1 33 1 -8 1 9 1 -31 1 -18 1 -13 1 46 1 -34 1 35 1 12 1 -18 1 8 1 -29 1 28 1 -9 1 -6 1 -11 1 4 1 9 1 -3 1 -4 1 19 1 -10 1 -2 1 3 1 -6 1 19 1 -17 1 -3 1 11 1 46 1 -77 1 12 1 30 1 -19 1 39 1 34 1 -62 1 -59 1 70 1 34 1 -101 1 54 1 -49 1 82 1 -91 1 75 1 -49 1 29 1 -25 1 67 1 -52 1 -1 1 2 1 1 1 -67 1 -13 1 133 1 -75 1 8 1 22 1 53 1 -65 1 13 1 5 1 -13 1 14 1 -15 1 -5 1 29 1 -30 1 35 1 -46 1 14 1 -12 1 32 1 -7 1 -20 1 12 1 1 1 21 1 -63 1 4 1 36 1 3 1 13 1 -34 1 20 1 -17 1 13 1 -16 1 20 1 15 1 3 1 -12 1 0 1 -2 1 18 1 -28 1 16 1 -16 1 5 1 0 1 5 1 3 1 2 1 -21 1 20 1 -11 1 45 1 -63 1 40 1 -27 1 17 1 -2 1 1 1 10 1 -8 1 -16 1 1 1 21 1 -4 1 -4 1 7 1 -1 1 -17 1 22 1 -42 1 30 1 2 1 4 1 7 1 -42 1 34 1 -20 1 8 1 20 1 -19 1 -2 1 -17 1 20 1 6 1 -7 1 -12 1 16 1 0 1 8 1 -12 1 -30 1 46 1 0 1 4 1 -35 1 16 1 23 1 -9 1 -7 1 52 1 -32 1 -8 1 -52 1 12 1 21 1 -1 1 7 1 -43 1 25 1 4 1 57 1 -46 1 -29 1 42 1 -28 1 10 1 23 1 -43 1 40 1 -19 1 35 1 -41 1 -54 1 88 1 -23 1 99 1 -107 1 6 1 0 1 1 1 -21 1 31 1 -9 1 76 1 -93 1 28 1 -22 1 50 1 -2 1 -27 1 -31 1 -3 1 35 1 -40 1 70 1 -63 1 63 1 -9 1 -52 1 101 1 -94 1 13 1 4 1 -22 1 18 1 1 1 -8 1 -2 1 25 1 -69 1 50 1 32 1 -79 1 67 1 -23 1 -1 1 -28 1 40 1 -33 1 24 1 19 1 -17 1 14 1 -29 1 76 1 -94 1 33 1 -49 1 59 1 -42 1 57 1 -60 1 40 1 13 1 -34 1 74 1 -56 1 -49 1 54 1 -17 1 6 1 9 1 -23 1 -18 1 18 1 -1 1 20 1 11 1 -6 1 -20 1 -14 1 31 1 -29 1 91 1 -68 1 28 1 -18 1 23 1 -24 1 -56 1 72 1 -30 1 -38 1 17 1 28 1 -8 1 -16 1 31 1 31 1 -17 1 15 1 -58 1 6 1 48 1 -12 1 -21 1 6 1 1 1 -22 1 -13 1 33 1 17 1 -54 1 16 1 8 1 7 1 21 1 -15 1 -13 1 26 1 -37 1 17 1 41 1 -49 1 37 1 -31 1 30 1 -46 1 59 1 -74 1 70 1 -23 1 -93 1 137 1 -48 1 -40 1 26 1 21 1 -16 1 11 1 -58 1 29 1 13 1 10 1 14 1 -32 1 38 1 -31 1 12 1 -78 1 78 1 -49 1 26 1 64 1 -51 1 -38 1 38 1 44 1 -6 1 -82 1 103 1 -18 1 -74 1 35 1 35 1 -30 1 -15 1 17 1 59 1 -20 1 -35 1 -47 1 37 1 -39 1 62 1 -15 1 3 1 7 1 -19 1 32 1 -51 1 14 1 -3 1 8 1 19 1 -12 1 -42 1 67 1 -35 1 25 1 -19 1 3 1 40 1 -27 1 -27 1 57 1 -89 1 43 1 5 1 -21 1 -14 1 40 1 -9 1 -8 1 36 1 -43 1 33 1 -32 1 69 1 -62 1 5 1 12 1 -38 1 13 1 42 1 -65 1 32 1 26 1 -19 1 12 1 -15 1 23 1 6 1 -23 1 19 1 12 1 -43 1 0 1 3 1 1 1 28 1 -11 1 44 1 -56 1 -49 1 37 1 9 1 9 1 -44 1 49 1 -2 1 -13 1 31 1 -32 1 22 1 -13 1 -22 1 27 1 3 1 -15 1 12 1 -10 1 7 1 -10 1 5 1 0 1 14 1 -2 1 -6 1 -17 1 55 1 -72 1 26 1 -1 1 -13 1 27 1 -8 1 -15 1 16 1 4 1 40 1 -45 1 42 1 -22 1 -33 1 14 1 46 1 -68 1 37 1 -15 1 23 1 -21 1 -4 1 13 1 -27 1 14 1 -17 1 -9 1 14 1 -34 1 59 1 -22 1 7 1 61 1 -59 1 14 1 -22 1 -29 1 50 1 -24 1 40 1 -103 1 54 1 29 1 -38 1 -9 1 61 1 -23 1 -22 1 4 1 -10 1 28 1 -8 1 10 1 -28 1 82 1 -54 1 -47 1 89 1 -63 1 46 1 -30 1 -43 1 10 1 90 1 -39 1 -39 1 13 1 -31 1 45 1 -29 1 -17 1 60 1 -35 1 -6 1 25 1 6 1 -23 1 27 1 -35 1 39 1 -19 1 7 1 12 1 -22 1 -18 1 18 1 -25 1 9 1 1 1 31 1 -3 1 -13 1 -4 1 32 1 -30 1 11 1 -5 1 -11 1 -1 1 8 1 21 1 -13 1 6 1 -36 1 30 1 -17 1 35 1 -8 1 -9 1 -3 1 -16 1 20 1 -28 1 20 1 -6 1 27 1 6 1 22 1 -74 1 23 1 -12 1 22 1 -11 1 35 1 -37 1 -58 1 70 1 -8 1 4 1 -3 1 -38 1 48 1 -9 1 4 1 4 1 10 1 -27 1 22 1 16 1 -11 1 -1 1 -3 1 -35 1 22 1 -1 1 41 1 -3 1 -16 1 29 1 -39 1 17 1 4 1 -2 1 -43 1 14 1 -13 1 24 1 1 1 -15 1 63 1 -40 1 -30 1 6 1 1 1 5 1 -7 1 26 1 -38 1 31 1 -15 1 -11 1 4 1 30 1 -52 1 25 1 -12 1 -11 1 5 1 52 1 -43 1 5 1 19 1 -13 1 2 1 2 1 -1 1 -25 1 25 1 -16 1 23 1 -16 1 -1 1 12 1 -8 1 3 1 -1 1 5 1 6 1 -4 1 20 1 -37 1 14 1 -1 1 -8 1 9 1 -8 1 33 1 -36 1 4 1 15 1 -29 1 11 1 5 1 11 1 -1 1 -13 1 3 1 -24 1 36 1 6 1 -8 1 -6 1 -20 1 -13 1 22 1 13 1 1 1 -5 1 19 1 -67 1 38 1 39 1 -18 1 -31 1 4 1 -13 1 24 1 17 1 -43 1 51 1 23 1 -45 1 -52 1 25 1 26 1 10 1 4 1 1 1 21 1 -8 1 26 1 -24 1 -7 1 -35 1 -40 1 86 1 -48 1 14 1 -30 1 31 1 -40 1 49 1 15 1 -7 1 1 1 5 1 -32 1 -5 1 48 1 -28 1 6 1 -5 1 13 1 -13 1 -8 1 -9 1 23 1 -5 1 -14 1 12 1 -6 1 -5 1 4 1 -16 1 27 1 -21 1 8 1 17 1 23 1 -22 1 9 1 -25 1 8 1 2 1 -27 1 36 1 23 1 -41 1 25 1 1 1 -34 1 18 1 -22 1 28 1 -28 1 -3 1 46 1 -24 1 33 1 -17 1 -1 1 -15 1 -32 1 28 1 23 1 -48 1 59 1 -25 1 18 1 -47 1 79 1 -50 1 -65 1 93 1 -63 1 81 1 -79 1 13 1 -13 1 18 1 9 1 8 1 23 1 -27 1 -1 1 5 1 6 1 -30 1 32 1 -20 1 18 1 -36 1 26 1 -17 1 3 1 -3 1 33 1 -37 1 44 1 -31 1 -1 1 -7 1 21 1 40 1 -13 1 -39 1 0 1 40 1 10 1 -45 1 -27 1 57 1 -13 1 -46 1 22 1 -17 1 9 1 54 1 -38 1 -4 1 -24 1 37 1 -13 1 8 1 -24 1 42 1 -12 1 17 1 -40 1 13 1 -12 1 8 1 37 1 -32 1 46 1 -56 1 0 1 -14 1 13 1 15 1 2 1 -20 1 20 1 23 1 -63 1 49 1 -21 1 -14 1 16 1 -18 1 26 1 -12 1 17 1 15 1 -12 1 -34 1 27 1 59 1 -15 1 -54 1 -19 1 11 1 12 1 -13 1 -20 1 24 1 15 1 -55 1 21 1 47 1 -1 1 -33 1 28 1 -36 1 31 1 -64 1 69 1 19 1 -36 1 51 1 -46 1 -50 1 25 1 2 1 -1 1 50 1 -10 1 -38 1 9 1 65 1 -43 1 -3 1 27 1 -51 1 39 1 22 1 -84 1 21 1 -1 1 41 1 -17 1 -18 1 10 1 10 1 -2 1 15 1 -39 1 -9 1 32 1 -22 1 23 1 -34 1 21 1 -8 1 -17 1 13 1 32 1 -7 1 -17 1 39 1 -16 1 -17 1 9 1 -10 1 21 1 22 1 -20 1 -9 1 -16 1 19 1 -43 1 51 1 23 1 -24 1 -3 1 -22 1 -13 1 47 1 -35 1 26 1 -14 1 -3 1 -26 1 -1 1 18 1 25 1 -13 1 -75 1 45 1 1 1 15 1 5 1 -1 1 16 1 -2 1 11 1 -8 1 -6 1 -16 1 36 1 -23 1 -19 1 -30 1 38 1 5 1 -33 1 106 1 -70 1 38 1 -122 1 115 1 -82 1 61 1 -45 1 114 1 -112 1 -10 1 45 1 -41 1 36 1 -108 1 99 1 11 1 83 1 -62 1 16 1 -18 1 0 1 12 1 -54 1 21 1 -37 1 17 1 52 1 12 1 -19 1 -8 1 -61 1 69 1 -44 1 3 1 11 1 29 1 -20 1 -52 1 62 1 -30 1 5 1 32 1 -18 1 -4 1 2 1 -24 1 8 1 15 1 -1 1 41 1 -14 1 -28 1 3 1 58 1 -62 1 -25 1 13 1 19 1 -21 1 39 1 -5 1 -13 1 8 1 -40 1 42 1 -15 1 6 1 9 1 -21 1 3 1 1 1 43 1 -17 1 25 1 -48 1 -3 1 19 1 4 1 -5 1 -25 1 -10 1 24 1 -14 1 32 1 -11 1 1 1 8 1 -20 1 -20 1 23 1 -24 1 42 1 -36 1 25 1 -29 1 36 1 -44 1 3 1 -9 1 69 1 -31 1 -26 1 21 1 -20 1 36 1 10 1 -64 1 20 1 18 1 -67 1 48 1 18 1 26 1 -51 1 28 1 -19 1 37 1 -15 1 12 1 5 1 -16 1 -17 1 -20 1 38 1 -15 1 18 1 -3 1 17 1 -28 1 -3 1 21 1 -3 1 1 1 -10 1 -17 1 16 1 5 1 2 1 10 1 -9 1 -6 1 -15 1 2 1 8 1 -15 1 16 1 27 1 -7 1 -7 1 -5 1 -1 1 -5 1 10 1 -21 1 5 1 22 1 -3 1 -15 1 14 1 -15 1 8 1 11 1 1 1 -5 1 16 1 -10 1 -21 1 0 1 18 1 12 1 -30 1 2 1 -7 1 25 1 2 1 -10 1 -5 1 -10 1 -10 1 28 1 2 1 -15 1 8 1 -28 1 30 1 -1 1 9 1 -17 1 0 1 -15 1 5 1 13 1 9 1 -3 1 -25 1 40 1 10 1 -29 1 -45 1 5 1 46 1 -15 1 -21 1 34 1 -2 1 -14 1 7 1 -1 1 -10 1 9 1 6 1 45 1 6 1 -61 1 -9 1 17 1 -7 1 -9 1 19 1 -13 1 14 1 -13 1 22 1 31 1 -41 1 -11 1 41 1 1 1 -64 1 17 1 6 1 -6 1 24 1 -1 1 -14 1 -6 1 29 1 -13 1 -6 1 2 1 -5 1 8 1 -10 1 41 1 -63 1 32 1 -29 1 -17 1 44 1 19 1 34 1 -63 1 19 1 -4 1 27 1 -61 1 6 1 71 1 -55 1 26 1 -66 1 9 1 42 1 -37 1 59 1 -43 1 38 1 -30 1 -27 1 30 1 -31 1 52 1 -21 1 11 1 -9 1 28 1 11 1 -43 1 7 1 29 1 -75 1 81 1 -64 1 13 1 -15 1 39 1 -2 1 -19 1 28 1 -33 1 20 1 33 1 -45 1 -2 1 8 1 -12 1 7 1 -25 1 -2 1 37 1 3 1 -20 1 40 1 -18 1 -1 1 -29 1 10 1 -2 1 21 1 -6 1 12 1 29 1 -18 1 -46 1 27 1 14 1 3 1 -25 1 3 1 -11 1 6 1 15 1 -32 1 18 1 7 1 -8 1 -4 1 -22 1 38 1 -14 1 -11 1 35 1 29 1 -90 1 37 1 -14 1 6 1 -5 1 27 1 3 1 -4 1 -36 1 47 1 -44 1 40 1 -26 1 -37 1 42 1 36 1 -30 1 2 1 -8 1 -8 1 -12 1 29 1 -7 1 -1 1 55 1 -48 1 -53 1 74 1 -47 1 10 1 3 1 35 1 -67 1 69 1 -49 1 35 1 21 1 -48 1 -10 1 -31 1 76 1 -4 1 -24 1 -9 1 -7 1 49 1 -49 1 18 1 -40 1 115 1 -59 1 19 1 -34 1 -55 1 75 1 7 1 7 1 -22 1 47 1 -43 1 -50 1 -1 1 35 1 0 1 -28 1 34 1 -31 1 56 1 -19 1 -17 1 32 1 16 1 -38 1 -2 1 -26 1 13 1 12 1 2 1 12 1 7 1 -13 1 -8 1 26 1 -6 1 -7 1 -10 1 13 1 -5 1 -10 1 4 1 1 1 14 1 -7 1 1 1 5 1 -15 1 -33 1 21 1 14 1 7 1 -19 1 7 1 -11 1 5 1 8 1 -4 1 5 1 13 1 -28 1 8 1 1 1 -17 1 21 1 3 1 -27 1 32 1 -10 1 -4 1 3 1 4 1 -7 1 21 1 -32 1 8 1 18 1 -14 1 -7 1 7 1 17 1 -13 1 -6 1 8 1 -7 1 -17 1 19 1 -21 1 15 1 21 1 17 1 -24 1 -47 1 42 1 -26 1 38 1 1 1 -11 1 -16 1 11 1 -8 1 0 1 0 1 16 1 -5 1 -18 1 32 1 -24 1 12 1 -13 1 2 1 4 1 9 1 -29 1 23 1 1 1 -5 1 12 1 22 1 -58 1 -7 1 52 1 -13 1 4 1 -1 1 -17 1 30 1 -27 1 44 1 -40 1 18 1 -1 1 -12 1 -6 1 27 1 -1 1 -24 1 0 1 5 1 15 1 -31 1 21 1 -29 1 18 1 15 1 -10 1 37 1 -42 1 12 1 1 1 -5 1 15 1 -16 1 -15 1 6 1 21 1 -20 1 -10 1 31 1 -19 1 -17 1 39 1 -19 1 -13 1 22 1 -19 1 27 1 -20 1 7 1 -2 1 -5 1 11 1 -7 1 -7 1 16 1 -5 1 3 1 -16 1 5 1 24 1 -27 1 23 1 -1 1 -27 1 -24 1 14 1 -1 1 -8 1 27 1 39 1 -36 1 8 1 -10 1 14 1 13 1 -27 1 10 1 -10 1 14 1 -9 1 1 1 -1 1 10 1 -3 1 -1 1 8 1 -17 1 0 1 30 1 -27 1 1 1 4 1 4 1 13 1 -14 1 3 1 27 1 -60 1 33 1 -20 1 3 1 0 1 3 1 -3 1 0 1 6 1 9 1 -4 1 -19 1 30 1 -13 1 -1 1 -2 1 -6 1 15 1 -15 1 4 1 -5 1 6 1 11 1 -23 1 8 1 -7 1 5 1 4 1 6 1 -6 1 8 1 -10 1 -2 1 -9 1 25 1 -7 1 -14 1 21 1 -28 1 38 1 -17 1 1 1 -17 1 2 1 17 1 -13 1 -10 1 25 1 -23 1 33 1 5 1 -18 1 -1 1 12 1 -34 1 25 1 -1 1 29 1 -39 1 -4 1 13 1 0 1 -7 1 21 1 -29 1 7 1 3 1 10 1 -6 1 -10 1 -8 1 22 1 -26 1 25 1 -8 1 -1 1 3 1 5 1 21 1 -49 1 18 1 25 1 -19 1 2 1 -8 1 11 1 -10 1 28 1 -16 1 9 1 -46 1 55 1 -15 1 -7 1 14 1 -58 1 47 1 4 1 9 1 -24 1 -9 1 25 1 10 1 -50 1 29 1 13 1 -9 1 -11 1 17 1 -52 1 31 1 1 1 -18 1 39 1 -16 1 -43 1 72 1 -20 1 -6 1 33 1 -28 1 13 1 -37 1 27 1 -45 1 42 1 -1 1 -32 1 10 1 5 1 9 1 3 1 -2 1 13 1 -12 1 -21 1 20 1 -33 1 45 1 16 1 -17 1 3 1 -1 1 -29 1 8 1 17 1 -15 1 3 1 -7 1 -2 1 24 1 -11 1 13 1 1 1 25 1 -62 1 23 1 -14 1 16 1 0 1 2 1 1 1 11 1 -15 1 11 1 -7 1 7 1 5 1 -20 1 1 1 9 1 -30 1 22 1 -3 1 2 1 13 1 0 1 -8 1 9 1 -1 1 -17 1 -2 1 38 1 -35 1 -3 1 6 1 0 1 1 1 14 1 15 1 -22 1 -5 1 -5 1 14 1 -20 1 14 1 8 1 -5 1 -8 1 1 1 -9 1 7 1 10 1 -5 1 2 1 5 1 -4 1 -12 1 11 1 4 1 -7 1 10 1 -6 1 -15 1 9 1 6 1 1 1 -9 1 7 1 0 1 -6 1 12 1 -14 1 1 1 -6 1 10 1 7 1 -11 1 -1 1 4 1 0 1 7 1 -14 1 10 1 3 1 -11 1 -1 1 14 1 -3 1 -26 1 27 1 -17 1 9 1 5 1 2 1 -5 1 -1 1 0 1 11 1 2 1 -17 1 24 1 1 1 -25 1 -1 1 3 1 19 1 -7 1 11 1 -1 1 -32 1 7 1 24 1 -14 1 27 1 -64 1 14 1 0 1 35 1 -7 1 -26 1 34 1 -14 1 -16 1 26 1 -10 1 -10 1 8 1 24 1 -24 1 -18 1 17 1 7 1 6 1 -34 1 27 1 -2 1 -17 1 28 1 -39 1 8 1 14 1 -3 1 -22 1 55 1 -7 1 -12 1 -5 1 -11 1 -5 1 7 1 -3 1 10 1 22 1 -27 1 9 1 0 1 6 1 8 1 -20 1 4 1 24 1 -24 1 5 1 2 1 -10 1 -5 1 24 1 -9 1 -28 1 27 1 -6 1 -6 1 20 1 -17 1 -19 1 19 1 -9 1 7 1 6 1 -7 1 -19 1 1 1 38 1 0 1 -1 1 -18 1 -18 1 23 1 -1 1 3 1 -10 1 7 1 11 1 -12 1 -9 1 11 1 3 1 4 1 -10 1 -8 1 12 1 -2 1 13 1 -36 1 16 1 17 1 -13 1 2 1 1 1 32 1 -36 1 9 1 24 1 -51 1 10 1 -7 1 -19 1 26 1 -2 1 0 1 2 1 9 1 -4 1 -5 1 7 1 -1 1 17 1 -13 1 4 1 16 1 -6 1 -25 1 8 1 1 1 15 1 -18 1 26 1 -23 1 15 1 -21 1 8 1 -19 1 40 1 -20 1 8 1 -19 1 9 1 3 1 17 1 -4 1 -21 1 2 1 11 1 -10 1 -16 1 16 1 8 1 -6 1 4 1 -9 1 -12 1 20 1 -23 1 23 1 8 1 -15 1 -6 1 9 1 -12 1 7 1 3 1 3 1 11 1 -2 1 35 1 -23 1 -7 1 -5 1 -6 1 -2 1 14 1 -21 1 -39 1 13 1 28 1 -6 1 -13 1 16 1 5 1 -10 1 -4 1 12 1 21 1 -44 1 42 1 -25 1 12 1 -11 1 42 1 -12 1 -38 1 24 1 -8 1 -1 1 11 1 -4 1 5 1 26 1 -35 1 -3 1 -1 1 2 1 3 1 -5 1 2 1 -9 1 26 1 -31 1 5 1 7 1 20 1 -22 1 1 1 6 1 -7 1 14 1 -5 1 -1 1 -7 1 10 1 -5 1 -13 1 24 1 -33 1 -7 1 36 1 -28 1 14 1 15 1 9 1 -31 1 19 1 11 1 1 1 -18 1 36 1 -47 1 25 1 -38 1 -21 1 29 1 41 1 1 1 -28 1 13 1 -14 1 -20 1 8 1 -7 1 23 1 -1 1 -7 1 11 1 4 1 0 1 -1 1 -10 1 22 1 9 1 -19 1 7 1 11 1 -52 1 33 1 13 1 -2 1 -12 1 -5 1 40 1 -42 1 16 1 -14 1 2 1 -9 1 14 1 -12 1 5 1 -15 1 11 1 38 1 -63 1 9 1 20 1 -12 1 6 1 25 1 2 1 -15 1 14 1 -29 1 -4 1 21 1 0 1 -10 1 10 1 -1 1 11 1 -20 1 21 1 -15 1 -28 1 37 1 -60 1 65 1 -27 1 30 1 -15 1 9 1 -20 1 -3 1 27 1 -32 1 -6 1 29 1 -15 1 -3 1 -14 1 14 1 4 1 -9 1 13 1 4 1 -13 1 24 1 -39 1 34 1 -9 1 -22 1 -8 1 29 1 -8 1 45 1 -38 1 -6 1 9 1 -12 1 -1 1 9 1 0 1 2 1 -6 1 10 1 1 1 18 1 -20 1 -24 1 17 1 6 1 9 1 -25 1 13 1 5 1 -5 1 -3 1 26 1 -23 1 -15 1 17 1 -6 1 35 1 -24 1 -16 1 -14 1 33 1 -8 1 -5 1 -2 1 7 1 2 1 -24 1 29 1 -23 1 10 1 14 1 -22 1 12 1 -2 1 2 1 11 1 -19 1 12 1 10 1 -34 1 28 1 -4 1 5 1 -20 1 26 1 -11 1 -4 1 13 1 6 1 2 1 -2 1 -27 1 -9 1 25 1 -5 1 -3 1 9 1 -22 1 31 1 -3 1 3 1 -8 1 4 1 -13 1 -3 1 13 1 -5 1 -19 1 0 1 16 1 14 1 0 1 -12 1 1 1 8 1 -27 1 17 1 -4 1 -8 1 24 1 2 1 -17 1 -9 1 7 1 3 1 1 1 10 1 -11 1 5 1 6 1 -27 1 8 1 17 1 -6 1 -17 1 18 1 0 1 -1 1 -6 1 -6 1 11 1 -7 1 4 1 -5 1 21 1 8 1 -25 1 -6 1 2 1 2 1 -9 1 6 1 -7 1 21 1 -10 1 -1 1 7 1 -8 1 -12 1 25 1 -17 1 -4 1 -10 1 25 1 1 1 -21 1 49 1 -42 1 15 1 -6 1 -3 1 10 1 -41 1 33 1 -12 1 17 1 9 1 15 1 -39 1 12 1 14 1 -4 1 7 1 -11 1 14 1 -11 1 -12 1 -1 1 -14 1 16 1 3 1 8 1 21 1 -57 1 14 1 2 1 22 1 2 1 -41 1 27 1 37 1 -32 1 -4 1 -18 1 30 1 36 1 -40 1 18 1 -24 1 23 1 -8 1 28 1 -28 1 -15 1 12 1 -12 1 -1 1 -15 1 38 1 -11 1 -10 1 -19 1 -32 1 53 1 14 1 -11 1 -25 1 37 1 -23 1 13 1 -8 1 40 1 -48 1 -15 1 55 1 -2 1 -58 1 67 1 -57 1 33 1 -11 1 -19 1 23 1 -13 1 -10 1 12 1 15 1 -11 1 4 1 9 1 12 1 -38 1 5 1 3 1 -1 1 7 1 2 1 2 1 -7 1 3 1 10 1 -11 1 19 1 -22 1 12 1 -6 1 1 1 4 1 -25 1 18 1 9 1 -14 1 -8 1 10 1 -9 1 10 1 -4 1 3 1 1 1 4 1 -10 1 2 1 -2 1 1 1 8 1 1 1 -9 1 2 1 8 1 -1 1 -6 1 3 1 -4 1 14 1 -16 1 1 1 -17 1 9 1 -3 1 12 1 3 1 -6 1 12 1 -8 1 -3 1 12 1 4 1 13 1 -47 1 22 1 -15 1 18 1 -3 1 8 1 4 1 17 1 -30 1 -7 1 -2 1 20 1 -26 1 -1 1 7 1 9 1 -15 1 25 1 0 1 -25 1 28 1 -8 1 -11 1 -13 1 21 1 -6 1 35 1 -9 1 -41 1 20 1 -45 1 60 1 -6 1 2 1 -9 1 35 1 -31 1 -2 1 -8 1 -3 1 9 1 -8 1 -1 1 -4 1 9 1 -4 1 7 1 27 1 -27 1 -5 1 -16 1 21 1 1 1 -8 1 7 1 12 1 -25 1 14 1 -5 1 -3 1 6 1 -1 1 4 1 -4 1 7 1 -1 1 -4 1 -1 1 9 1 -10 1 16 1 -21 1 19 1 -34 1 21 1 -6 1 1 1 7 1 17 1 11 1 -24 1 -10 1 8 1 25 1 -13 1 -25 1 2 1 17 1 -4 1 -21 1 32 1 -36 1 28 1 -3 1 6 1 -7 1 10 1 -22 1 -8 1 -10 1 44 1 -47 1 85 1 -59 1 10 1 -8 1 -9 1 37 1 -30 1 19 1 13 1 -18 1 15 1 -32 1 -1 1 5 1 -8 1 32 1 -19 1 -1 1 8 1 -48 1 30 1 0 1 -13 1 33 1 -16 1 -6 1 20 1 -22 1 9 1 4 1 -5 1 11 1 -25 1 2 1 24 1 -26 1 22 1 -9 1 6 1 25 1 -30 1 11 1 9 1 -15 1 -18 1 24 1 -9 1 -7 1 7 1 18 1 -30 1 27 1 -32 1 25 1 -28 1 11 1 5 1 2 1 20 1 -16 1 -8 1 2 1 9 1 2 1 -24 1 20 1 -16 1 45 1 -45 1 16 1 1 1 6 1 2 1 -26 1 37 1 22 1 -54 1 9 1 -28 1 17 1 9 1 15 1 11 1 -58 1 -26 1 92 1 -17 1 -9 1 -42 1 35 1 -27 1 15 1 20 1 -19 1 -8 1 -55 1 87 1 -8 1 -16 1 35 1 -59 1 55 1 -4 1 -16 1 -58 1 70 1 47 1 -2 1 -58 1 35 1 -64 1 65 1 -29 1 30 1 -40 1 6 1 -17 1 105 1 -52 1 24 1 -4 1 -41 1 -25 1 43 1 -66 1 3 1 -9 1 37 1 -17 1 8 1 15 1 -17 1 -14 1 40 1 -36 1 16 1 8 1 9 1 10 1 -22 1 13 1 4 1 -18 1 4 1 -6 1 10 1 3 1 -16 1 8 1 -9 1 0 1 3 1 -4 1 -1 1 11 1 5 1 -4 1 -18 1 15 1 16 1 -22 1 7 1 -1 1 0 1 -7 1 2 1 -1 1 -3 1 10 1 -8 1 15 1 -13 1 30 1 -29 1 14 1 15 1 -22 1 2 1 -9 1 12 1 -10 1 13 1 -1 1 0 1 -8 1 2 1 -5 1 21 1 -11 1 -10 1 1 1 -11 1 11 1 5 1 23 1 -25 1 -5 1 22 1 -14 1 -26 1 28 1 1 1 4 1 -15 1 -14 1 20 1 0 1 -10 1 12 1 9 1 -22 1 9 1 -7 1 8 1 -4 1 6 1 -19 1 22 1 -14 1 11 1 -8 1 5 1 2 1 -1 1 6 1 -3 1 -1 1 -2 1 -1 1 -3 1 4 1 -13 1 21 1 -14 1 16 1 -15 1 -6 1 12 1 -6 1 8 1 13 1 2 1 -28 1 -5 1 20 1 -3 1 0 1 3 1 -6 1 1 1 -7 1 -3 1 14 1 18 1 -6 1 -15 1 -14 1 30 1 -11 1 4 1 -10 1 -6 1 5 1 4 1 -6 1 4 1 -7 1 -5 1 25 1 -8 1 -4 1 -1 1 14 1 -18 1 4 1 16 1 -11 1 13 1 -14 1 0 1 -15 1 20 1 -16 1 -10 1 19 1 -10 1 0 1 16 1 -14 1 16 1 -12 1 0 1 -12 1 1 1 -7 1 31 1 -15 1 4 1 7 1 -11 1 3 1 3 1 -22 1 20 1 1 1 -2 1 -1 1 6 1 -5 1 -14 1 26 1 -3 1 -8 1 -5 1 13 1 -16 1 13 1 -26 1 22 1 -1 1 5 1 -24 1 31 1 -26 1 13 1 -9 1 -19 1 56 1 -2 1 -23 1 -16 1 22 1 -16 1 0 1 47 1 -37 1 -5 1 6 1 -12 1 -4 1 17 1 -23 1 19 1 2 1 -18 1 35 1 -26 1 10 1 21 1 -20 1 -2 1 -18 1 15 1 -8 1 2 1 14 1 -10 1 -1 1 16 1 -18 1 8 1 9 1 -16 1 3 1 -14 1 17 1 -16 1 -10 1 13 1 22 1 -25 1 28 1 -23 1 0 1 1 1 -1 1 6 1 -3 1 3 1 -15 1 16 1 5 1 -13 1 -1 1 11 1 3 1 -14 1 10 1 -7 1 -16 1 34 1 -13 1 15 1 -6 1 -15 1 -4 1 5 1 13 1 -2 1 -7 1 18 1 -26 1 2 1 8 1 -4 1 13 1 -7 1 -3 1 12 1 -23 1 2 1 6 1 -6 1 10 1 -13 1 1 1 16 1 -10 1 12 1 8 1 -29 1 -5 1 15 1 13 1 -3 1 -1 1 -10 1 -25 1 29 1 -6 1 6 1 -2 1 9 1 25 1 -36 1 -25 1 20 1 28 1 -30 1 15 1 -1 1 1 1 -19 1 22 1 9 1 4 1 -27 1 9 1 -7 1 4 1 -10 1 7 1 49 1 -46 1 -5 1 -22 1 52 1 2 1 -19 1 -13 1 16 1 -21 1 2 1 -4 1 32 1 -14 1 0 1 6 1 -4 1 27 1 -27 1 3 1 -9 1 5 1 -11 1 7 1 20 1 -10 1 3 1 -11 1 7 1 -16 1 19 1 -39 1 44 1 -19 1 -4 1 -8 1 9 1 6 1 4 1 -6 1 0 1 3 1 18 1 -29 1 9 1 11 1 -5 1 -30 1 22 1 22 1 -23 1 -2 1 10 1 6 1 -11 1 -6 1 13 1 6 1 -21 1 -5 1 -6 1 18 1 8 1 -29 1 30 1 1 1 1 1 -6 1 -12 1 3 1 7 1 9 1 6 1 5 1 -15 1 7 1 -24 1 13 1 -3 1 10 1 1 1 -26 1 21 1 -4 1 4 1 -1 1 -11 1 14 1 -7 1 6 1 -7 1 -6 1 30 1 -29 1 11 1 -10 1 -9 1 5 1 6 1 -24 1 24 1 -12 1 1 1 21 1 -7 1 -5 1 6 1 0 1 -3 1 -10 1 27 1 -7 1 -12 1 -2 1 -5 1 18 1 -14 1 14 1 2 1 -4 1 11 1 -2 1 -34 1 30 1 -6 1 12 1 -18 1 3 1 -7 1 1 1 10 1 20 1 -19 1 6 1 -21 1 8 1 -3 1 -6 1 23 1 -8 1 -5 1 10 1 -20 1 10 1 10 1 -10 1 17 1 1 1 -35 1 36 1 -28 1 0 1 -1 1 4 1 -5 1 14 1 -9 1 4 1 9 1 7 1 -36 1 22 1 7 1 -13 1 -1 1 9 1 -3 1 0 1 1 1 9 1 -10 1 -5 1 4 1 4 1 -2 1 1 1 -4 1 -8 1 4 1 11 1 -7 1 -5 1 37 1 -31 1 2 1 -8 1 5 1 7 1 11 1 -48 1 28 1 -15 1 12 1 19 1 -2 1 -11 1 5 1 -3 1 -20 1 68 1 -58 1 15 1 18 1 -26 1 -10 1 -31 1 77 1 -45 1 23 1 -17 1 -47 1 -16 1 65 1 59 1 -74 1 7 1 -12 1 33 1 -63 1 55 1 -27 1 86 1 -60 1 42 1 -33 1 17 1 -43 1 -8 1 1 1 16 1 0 1 12 1 21 1 -55 1 32 1 -7 1 13 1 -10 1 0 1 9 1 -4 1 -4 1 -17 1 28 1 -9 1 -8 1 21 1 -35 1 49 1 -27 1 8 1 -20 1 -1 1 31 1 -27 1 25 1 -22 1 12 1 -1 1 11 1 -14 1 -1 1 -14 1 20 1 -7 1 -13 1 14 1 -4 1 10 1 -18 1 20 1 -12 1 -14 1 37 1 -20 1 17 1 -2 1 -4 1 -21 1 8 1 -12 1 2 1 -14 1 30 1 -3 1 -23 1 51 1 -40 1 13 1 -9 1 -1 1 2 1 13 1 -24 1 17 1 -9 1 5 1 6 1 -9 1 11 1 -13 1 13 1 -14 1 3 1 1 1 9 1 -9 1 6 1 6 1 -4 1 -3 1 2 1 -6 1 7 1 3 1 -14 1 7 1 3 1 2 1 -4 1 -4 1 7 1 -6 1 -2 1 -10 1 21 1 -4 1 2 1 -1 1 -9 1 4 1 1 1 -6 1 7 1 -1 1 18 1 -18 1 0 1 -1 1 -14 1 20 1 -11 1 24 1 -12 1 -9 1 -2 1 0 1 10 1 3 1 -2 1 1 1 2 1 -2 1 -3 1 -3 1 10 1 -12 1 -5 1 -7 1 16 1 0 1 2 1 -14 1 -1 1 20 1 0 1 -13 1 8 1 7 1 -23 1 3 1 -13 1 24 1 2 1 -9 1 12 1 -1 1 -23 1 32 1 -11 1 -1 1 7 1 -6 1 12 1 -33 1 15 1 -2 1 8 1 -17 1 8 1 -9 1 8 1 5 1 0 1 -10 1 15 1 -1 1 -5 1 4 1 -11 1 5 1 -9 1 2 1 11" fill="none" stroke="#0000ff" stroke-width="0.55" stroke-opacity="0.6"/><path d="M299.1 108.5V163.5M311.4 123.5V140.5M332.1 125.5V140.5M370.6 122.5V138.5M374.6 121.5V137.5M446.7 111.5V145.5M472.3 122.5V137.5M517.8 120.5V143.5M545.4 125.5V141.5M553.3 123.5V138.5M266.9 125.5V135.5M326.2 123.5V138.5M397.3 126.5V137.5M413.1 125.5V136.5" stroke="#0000ff" stroke-width="0.6" stroke-opacity="0.75" fill="none"/>
<path d="M184.5 60.0v4.5M184.5 204.0v-4.5" stroke="#a8a8a8" stroke-width="1"/>
<text x="184.0" y="230.7" font-size="20.2" font-weight="normal" text-anchor="middle">00:00</text>
<path d="M302.5 60.0v4.5M302.5 204.0v-4.5" stroke="#a8a8a8" stroke-width="1"/>
<text x="302.5" y="230.7" font-size="20.2" font-weight="normal" text-anchor="middle">06:00</text>
<path d="M421.5 60.0v4.5M421.5 204.0v-4.5" stroke="#a8a8a8" stroke-width="1"/>
<text x="421.0" y="230.7" font-size="20.2" font-weight="normal" text-anchor="middle">12:00</text>
<path d="M539.5 60.0v4.5M539.5 204.0v-4.5" stroke="#a8a8a8" stroke-width="1"/>
<text x="539.5" y="230.7" font-size="20.2" font-weight="normal" text-anchor="middle">18:00</text>
<path d="M658.5 60.0v4.5M658.5 204.0v-4.5" stroke="#a8a8a8" stroke-width="1"/>
<text x="658.0" y="230.7" font-size="20.2" font-weight="normal" text-anchor="middle">24:00</text>
<path d="M185.0 59.5h4.5M658.5 59.5h-4.5" stroke="#a8a8a8" stroke-width="1"/>
<text x="180.6" y="68.1" font-size="20.2" font-weight="normal" text-anchor="end">5</text>
<path d="M185.0 132.0h4.5M658.5 132.0h-4.5" stroke="#a8a8a8" stroke-width="1"/>
<text x="180.6" y="140.6" font-size="20.2" font-weight="normal" text-anchor="end">0</text>
<path d="M185.0 204.5h4.5M658.5 204.5h-4.5" stroke="#a8a8a8" stroke-width="1"/>
<text x="180.6" y="213.1" font-size="20.2" font-weight="normal" text-anchor="end">-5</text>
<text x="151.3" y="132.7" font-size="20.2" font-weight="bold" text-anchor="middle" transform="rotate(-90 151.3 132.7)">X (nT)</text>
<rect x="184.5" y="295.5" width="474.0" height="145.0" fill="none" stroke="#a8a8a8" stroke-width="1"/>
<polygon points="184.5,365.6 185.5,367.5 186.5,366.3 187.5,366.1 188.5,365.3 189.5,366.9 190.5,366.1 191.5,366.4 192.5,366.4 193.5,366.1 194.5,367.0 195.5,365.3 196.5,365.7 197.5,365.3 198.5,365.7 199.5,364.3 200.5,366.3 201.5,364.8 202.5,365.7 203.5,366.6 204.5,365.7 205.5,365.8 206.5,364.5 207.5,365.1 208.5,365.4 209.5,365.1 210.5,365.6 211.5,366.3 212.5,365.5 213.5,366.2 214.5,365.9 215.5,366.1 216.5,365.8 217.5,364.0 218.5,365.8 219.5,364.0 220.5,365.7 221.5,366.1 222.5,364.5 223.5,367.0 224.5,366.5 225.5,365.7 226.5,366.9 227.5,365.1 228.5,366.1 229.5,365.3 230.5,364.9 231.5,368.1 232.5,365.2 233.5,365.5 234.5,365.2 235.5,365.8 236.5,366.1 237.5,365.9 238.5,364.2 239.5,364.2 240.5,364.5 241.5,365.0 242.5,365.2 243.5,366.9 244.5,365.2 245.5,365.9 246.5,366.6 247.5,365.3 248.5,365.1 249.5,363.7 250.5,365.6 251.5,365.5 252.5,366.8 253.5,364.6 254.5,363.6 255.5,364.8 256.5,363.2 257.5,364.2 258.5,362.1 259.5,362.9 260.5,360.8 261.5,364.0 262.5,364.3 263.5,362.3 264.5,364.1 265.5,358.6 266.5,360.1 267.5,360.8 268.5,356.3 269.5,360.8 270.5,361.5 271.5,358.3 272.5,354.9 273.5,357.4 274.5,360.0 275.5,361.8 276.5,365.4 277.5,357.5 278.5,361.0 279.5,358.9 280.5,367.3 281.5,363.9 282.5,360.7 283.5,365.1 284.5,365.4 285.5,363.0 286.5,362.0 287.5,343.5 288.5,352.3 289.5,361.6 290.5,359.8 291.5,360.1 292.5,355.0 293.5,359.7 294.5,363.3 295.5,355.8 296.5,363.1 297.5,359.2 298.5,364.0 299.5,358.5 300.5,357.9 301.5,360.1 302.5,363.5 303.5,362.2 304.5,359.2 305.5,361.0 306.5,357.0 307.5,359.1 308.5,360.1 309.5,353.9 310.5,359.0 311.5,356.5 312.5,364.0 313.5,360.5 314.5,360.6 315.5,363.0 316.5,360.5 317.5,360.0 318.5,360.1 319.5,361.3 320.5,364.4 321.5,360.3 322.5,363.9 323.5,359.5 324.5,359.4 325.5,357.5 326.5,360.2 327.5,364.7 328.5,361.7 329.5,363.5 330.5,362.8 331.5,361.8 332.5,363.3 333.5,362.2 334.5,360.9 335.5,364.5 336.5,360.2 337.5,359.4 338.5,352.6 339.5,361.1 340.5,358.3 341.5,363.2 342.5,366.9 343.5,359.0 344.5,365.6 345.5,360.6 346.5,359.2 347.5,361.8 348.5,362.8 349.5,362.5 350.5,363.6 351.5,364.8 352.5,365.3 353.5,365.0 354.5,363.8 355.5,363.7 356.5,366.7 357.5,355.4 358.5,362.1 359.5,359.1 360.5,365.9 361.5,360.9 362.5,361.9 363.5,362.8 364.5,363.4 365.5,356.0 366.5,355.2 367.5,361.6 368.5,361.2 369.5,364.3 370.5,363.6 371.5,364.6 372.5,363.0 373.5,360.7 374.5,366.3 375.5,364.4 376.5,361.5 377.5,365.2 378.5,360.7 379.5,365.7 380.5,364.7 381.5,364.9 382.5,365.3 383.5,362.0 384.5,361.9 385.5,362.3 386.5,361.3 387.5,363.6 388.5,358.8 389.5,357.1 390.5,363.1 391.5,363.2 392.5,365.4 393.5,362.8 394.5,363.5 395.5,364.9 396.5,362.7 397.5,365.2 398.5,361.6 399.5,362.4 400.5,362.4 401.5,360.4 402.5,364.4 403.5,363.1 404.5,366.0 405.5,363.7 406.5,362.7 407.5,363.7 408.5,360.1 409.5,364.0 410.5,361.5 411.5,363.2 412.5,360.8 413.5,361.8 414.5,360.6 415.5,360.8 416.5,359.8 417.5,360.6 418.5,360.6 419.5,361.2 420.5,360.3 421.5,362.3 422.5,364.6 423.5,361.5 424.5,363.8 425.5,354.6 426.5,360.7 427.5,359.8 428.5,361.4 429.5,362.2 430.5,360.0 431.5,364.1 432.5,364.8 433.5,361.6 434.5,361.9 435.5,361.4 436.5,363.5 437.5,360.0 438.5,364.0 439.5,359.3 440.5,362.8 441.5,362.6 442.5,367.0 443.5,365.8 444.5,361.0 445.5,363.1 446.5,360.6 447.5,363.1 448.5,360.1 449.5,363.8 450.5,365.8 451.5,363.6 452.5,367.2 453.5,363.6 454.5,366.9 455.5,363.6 456.5,363.3 457.5,365.2 458.5,361.8 459.5,361.4 460.5,362.5 461.5,366.4 462.5,363.9 463.5,363.9 464.5,365.1 465.5,364.2 466.5,362.0 467.5,358.7 468.5,363.1 469.5,363.1 470.5,364.4 471.5,362.8 472.5,364.0 473.5,364.5 474.5,363.1 475.5,363.5 476.5,361.9 477.5,363.8 478.5,360.5 479.5,362.9 480.5,361.6 481.5,367.3 482.5,365.3 483.5,364.3 484.5,366.2 485.5,366.2 486.5,365.1 487.5,365.7 488.5,363.8 489.5,365.3 490.5,363.4 491.5,359.7 492.5,365.0 493.5,363.9 494.5,364.0 495.5,365.4 496.5,364.9 497.5,364.1 498.5,366.2 499.5,366.7 500.5,365.4 501.5,364.3 502.5,366.0 503.5,364.3 504.5,363.6 505.5,366.9 506.5,367.3 507.5,364.0 508.5,361.4 509.5,365.8 510.5,364.6 511.5,363.9 512.5,363.4 513.5,365.0 514.5,365.9 515.5,366.6 516.5,363.4 517.5,365.1 518.5,364.7 519.5,366.1 520.5,365.5 521.5,365.9 522.5,366.2 523.5,366.3 524.5,364.0 525.5,365.9 526.5,366.0 527.5,366.9 528.5,364.9 529.5,364.7 530.5,364.2 531.5,366.5 532.5,364.3 533.5,366.0 534.5,365.9 535.5,362.7 536.5,365.5 537.5,365.0 538.5,364.8 539.5,364.1 540.5,363.1 541.5,363.4 542.5,361.9 543.5,364.4 544.5,363.2 545.5,366.1 546.5,366.3 547.5,364.0 548.5,363.7 549.5,364.7 550.5,366.4 551.5,364.5 552.5,366.7 553.5,364.8 554.5,366.0 555.5,365.7 556.5,365.8 557.5,362.9 558.5,361.4 559.5,364.6 560.5,364.2 561.5,366.3 562.5,366.5 563.5,365.0 564.5,365.4 565.5,364.4 566.5,364.8 567.5,362.6 568.5,364.7 569.5,365.8 570.5,365.9 571.5,367.2 572.5,365.5 573.5,363.8 574.5,366.2 575.5,365.1 576.5,366.7 577.5,365.9 578.5,364.9 579.5,364.6 580.5,365.1 581.5,363.8 582.5,361.9 583.5,363.9 584.5,366.6 585.5,366.4 586.5,365.2 587.5,366.6 588.5,365.9 589.5,365.7 590.5,364.5 591.5,367.3 592.5,366.1 593.5,366.5 594.5,366.5 595.5,367.0 596.5,365.9 597.5,366.1 598.5,365.2 599.5,366.5 600.5,366.4 601.5,366.0 602.5,364.2 603.5,366.5 604.5,365.7 605.5,367.1 606.5,367.6 607.5,364.9 608.5,366.3 609.5,367.1 610.5,366.7 611.5,366.2 612.5,366.1 613.5,364.6 614.5,364.3 615.5,363.9 616.5,366.1 617.5,365.3 618.5,364.8 619.5,365.5 620.5,366.2 621.5,366.6 622.5,366.6 623.5,366.2 624.5,365.9 625.5,364.8 626.5,365.0 627.5,364.5 628.5,362.0 629.5,360.8 630.5,362.1 631.5,366.4 632.5,362.3 633.5,362.0 634.5,361.8 635.5,363.4 636.5,365.7 637.5,364.9 638.5,366.1 639.5,366.1 640.5,365.4 641.5,364.9 642.5,364.7 643.5,365.6 644.5,365.6 645.5,365.1 646.5,364.5 647.5,366.3 648.5,364.8 649.5,366.9 650.5,365.5 651.5,362.0 652.5,364.9 653.5,365.9 654.5,365.9 655.5,366.0 656.5,366.2 657.5,367.8 657.5,369.3 656.5,369.4 655.5,368.5 654.5,368.6 653.5,369.0 652.5,369.6 651.5,369.9 650.5,368.5 649.5,368.6 648.5,369.5 647.5,371.1 646.5,372.7 645.5,370.3 644.5,371.4 643.5,370.1 642.5,369.6 641.5,370.2 640.5,368.3 639.5,369.1 638.5,370.0 637.5,368.4 636.5,369.9 635.5,370.0 634.5,371.5 633.5,373.4 632.5,370.9 631.5,372.3 630.5,372.5 629.5,370.6 628.5,369.3 627.5,369.9 626.5,368.7 625.5,367.8 624.5,368.6 623.5,368.7 622.5,368.0 621.5,367.9 620.5,369.5 619.5,369.6 618.5,368.6 617.5,368.9 616.5,367.4 615.5,369.8 614.5,371.4 613.5,370.1 612.5,369.8 611.5,368.4 610.5,369.5 609.5,368.5 608.5,368.9 607.5,368.1 606.5,369.3 605.5,368.6 604.5,369.1 603.5,370.8 602.5,368.4 601.5,369.7 600.5,370.0 599.5,370.3 598.5,368.4 597.5,368.5 596.5,368.6 595.5,369.3 594.5,369.3 593.5,368.6 592.5,368.9 591.5,368.2 590.5,369.2 589.5,367.7 588.5,368.7 587.5,369.3 586.5,369.0 585.5,369.3 584.5,368.4 583.5,369.7 582.5,369.3 581.5,371.3 580.5,369.9 579.5,368.1 578.5,369.8 577.5,371.2 576.5,369.8 575.5,368.4 574.5,369.6 573.5,369.2 572.5,369.1 571.5,369.6 570.5,370.0 569.5,369.9 568.5,368.3 567.5,369.1 566.5,371.8 565.5,369.3 564.5,369.9 563.5,368.5 562.5,368.4 561.5,369.6 560.5,369.6 559.5,372.9 558.5,371.3 557.5,369.9 556.5,370.3 555.5,371.3 554.5,369.6 553.5,368.7 552.5,368.5 551.5,370.9 550.5,370.7 549.5,370.4 548.5,368.4 547.5,369.0 546.5,369.4 545.5,370.4 544.5,368.9 543.5,370.6 542.5,369.7 541.5,370.0 540.5,369.3 539.5,368.5 538.5,369.9 537.5,370.0 536.5,369.6 535.5,368.4 534.5,371.3 533.5,368.6 532.5,368.9 531.5,372.2 530.5,369.3 529.5,371.9 528.5,370.2 527.5,370.9 526.5,369.0 525.5,369.3 524.5,370.5 523.5,369.0 522.5,369.6 521.5,369.7 520.5,368.6 519.5,368.6 518.5,368.9 517.5,369.5 516.5,369.8 515.5,370.2 514.5,370.2 513.5,369.7 512.5,370.0 511.5,369.4 510.5,368.4 509.5,369.9 508.5,371.2 507.5,369.3 506.5,373.7 505.5,370.5 504.5,369.6 503.5,369.4 502.5,372.4 501.5,369.1 500.5,369.9 499.5,371.6 498.5,373.3 497.5,370.0 496.5,369.7 495.5,371.0 494.5,371.5 493.5,373.1 492.5,370.7 491.5,372.0 490.5,371.5 489.5,372.1 488.5,370.5 487.5,369.3 486.5,372.5 485.5,370.5 484.5,368.9 483.5,368.1 482.5,371.0 481.5,371.5 480.5,373.1 479.5,367.7 478.5,371.9 477.5,373.9 476.5,374.3 475.5,372.6 474.5,370.1 473.5,370.8 472.5,370.4 471.5,368.4 470.5,369.1 469.5,372.1 468.5,374.2 467.5,372.5 466.5,370.8 465.5,372.6 464.5,370.5 463.5,374.3 462.5,369.9 461.5,372.3 460.5,370.3 459.5,371.6 458.5,368.5 457.5,373.7 456.5,369.8 455.5,371.8 454.5,370.6 453.5,369.8 452.5,371.4 451.5,373.0 450.5,371.4 449.5,374.2 448.5,382.2 447.5,373.7 446.5,369.8 445.5,370.2 444.5,371.6 443.5,373.9 442.5,373.5 441.5,373.5 440.5,372.2 439.5,372.7 438.5,369.4 437.5,374.1 436.5,377.8 435.5,369.2 434.5,369.2 433.5,371.0 432.5,368.9 431.5,370.3 430.5,372.0 429.5,371.5 428.5,371.4 427.5,377.1 426.5,376.2 425.5,372.5 424.5,370.9 423.5,374.4 422.5,372.6 421.5,376.5 420.5,369.7 419.5,373.7 418.5,372.5 417.5,371.4 416.5,369.1 415.5,371.9 414.5,373.5 413.5,369.9 412.5,368.8 411.5,374.2 410.5,371.5 409.5,369.8 408.5,373.3 407.5,380.7 406.5,376.0 405.5,373.6 404.5,369.7 403.5,369.1 402.5,371.4 401.5,373.3 400.5,369.7 399.5,379.4 398.5,374.1 397.5,373.7 396.5,370.4 395.5,372.9 394.5,371.7 393.5,371.8 392.5,374.4 391.5,375.5 390.5,370.1 389.5,372.9 388.5,374.3 387.5,371.8 386.5,371.8 385.5,379.1 384.5,373.6 383.5,374.1 382.5,371.6 381.5,371.6 380.5,369.1 379.5,377.8 378.5,378.1 377.5,371.8 376.5,369.7 375.5,370.2 374.5,374.7 373.5,372.7 372.5,368.2 371.5,371.2 370.5,370.1 369.5,372.3 368.5,376.0 367.5,372.8 366.5,384.8 365.5,378.0 364.5,371.6 363.5,369.1 362.5,375.6 361.5,371.4 360.5,378.1 359.5,376.7 358.5,375.3 357.5,374.8 356.5,373.3 355.5,369.9 354.5,369.6 353.5,369.3 352.5,368.4 351.5,370.5 350.5,372.0 349.5,375.3 348.5,375.1 347.5,373.0 346.5,374.7 345.5,381.6 344.5,375.7 343.5,369.7 342.5,373.3 341.5,374.7 340.5,372.0 339.5,370.2 338.5,376.2 337.5,372.0 336.5,372.7 335.5,372.0 334.5,369.1 333.5,375.1 332.5,371.3 331.5,375.0 330.5,371.5 329.5,369.8 328.5,371.1 327.5,372.6 326.5,368.9 325.5,367.8 324.5,376.0 323.5,374.7 322.5,373.5 321.5,373.5 320.5,375.2 319.5,372.6 318.5,373.7 317.5,371.2 316.5,373.4 315.5,372.9 314.5,370.0 313.5,372.5 312.5,385.0 311.5,374.3 310.5,376.8 309.5,377.0 308.5,382.0 307.5,381.5 306.5,371.1 305.5,372.2 304.5,369.1 303.5,370.4 302.5,372.5 301.5,374.6 300.5,373.2 299.5,370.4 298.5,372.6 297.5,369.9 296.5,373.7 295.5,372.4 294.5,377.5 293.5,373.7 292.5,374.8 291.5,368.1 290.5,376.8 289.5,379.3 288.5,399.9 287.5,370.1 286.5,375.2 285.5,375.7 284.5,372.7 283.5,371.6 282.5,375.2 281.5,376.0 280.5,378.4 279.5,372.4 278.5,369.3 277.5,372.9 276.5,374.8 275.5,371.6 274.5,371.4 273.5,373.0 272.5,371.1 271.5,374.0 270.5,375.4 269.5,372.5 268.5,372.7 267.5,374.6 266.5,374.0 265.5,371.1 264.5,374.1 263.5,371.1 262.5,374.9 261.5,371.2 260.5,372.9 259.5,377.1 258.5,373.8 257.5,372.5 256.5,375.7 255.5,375.3 254.5,371.5 253.5,369.4 252.5,371.1 251.5,373.2 250.5,368.3 249.5,370.1 248.5,368.0 247.5,369.2 246.5,369.7 245.5,369.0 244.5,370.2 243.5,369.9 242.5,369.2 241.5,369.3 240.5,367.9 239.5,369.2 238.5,370.4 237.5,369.2 236.5,369.1 235.5,368.5 234.5,367.8 233.5,368.4 232.5,371.0 231.5,373.1 230.5,369.5 229.5,369.3 228.5,369.0 227.5,368.1 226.5,368.8 225.5,367.8 224.5,368.0 223.5,369.5 222.5,368.7 221.5,370.7 220.5,368.3 219.5,368.8 218.5,369.3 217.5,370.0 216.5,369.6 215.5,367.6 214.5,368.5 213.5,368.6 212.5,368.4 211.5,368.8 210.5,369.4 209.5,369.0 208.5,370.1 207.5,368.7 206.5,368.7 205.5,369.5 204.5,369.3 203.5,370.1 202.5,369.4 201.5,368.6 200.5,368.9 199.5,369.2 198.5,369.1 197.5,368.7 196.5,369.8 195.5,368.7 194.5,369.6 193.5,368.2 192.5,368.8 191.5,367.7 190.5,368.6 189.5,369.4 188.5,368.5 187.5,368.5 186.5,368.7 185.5,369.1 184.5,368.5" fill="#0000ff"/><path transform="translate(184.0 367.50) scale(0.071439 0.1)" vector-effect="non-scaling-stroke" d="M0 -2l1 -28 1 9 1 21 1 13 1 17 1 -34 1 -40 1 42 1 0 1 4 1 27 1 -31 1 -10 1 14 1 -3 1 15 1 -10 1 7 1 -7 1 4 1 -43 1 38 1 0 1 14 1 20 1 -53 1 33 1 -29 1 25 1 -14 1 8 1 -6 1 5 1 12 1 -32 1 22 1 10 1 -30 1 5 1 -7 1 18 1 7 1 -23 1 18 1 -7 1 -42 1 52 1 -23 1 10 1 1 1 -7 1 43 1 -75 1 80 1 -52 1 54 1 -50 1 11 1 -4 1 13 1 -33 1 13 1 -8 1 7 1 -27 1 57 1 -10 1 -10 1 -27 1 31 1 4 1 -61 1 103 1 -37 1 5 1 3 1 -20 1 -13 1 14 1 7 1 -4 1 23 1 -35 1 -3 1 28 1 -7 1 -24 1 25 1 -6 1 -5 1 3 1 4 1 -5 1 -23 1 7 1 -7 1 42 1 -17 1 -7 1 -11 1 6 1 -8 1 18 1 -7 1 2 1 2 1 -11 1 19 1 -7 1 -7 1 9 1 -8 1 2 1 -19 1 18 1 1 1 17 1 6 1 -31 1 29 1 -12 1 -2 1 -3 1 -14 1 28 1 -45 1 32 1 -37 1 33 1 -4 1 -7 1 24 1 -15 1 5 1 7 1 -17 1 14 1 2 1 15 1 -21 1 -3 1 28 1 -24 1 -15 1 -28 1 54 1 -17 1 1 1 6 1 21 1 2 1 -14 1 -4 1 -29 1 59 1 -15 1 -42 1 -34 1 40 1 27 1 -12 1 2 1 -40 1 37 1 8 1 -11 1 -5 1 -6 1 4 1 7 1 -4 1 34 1 -39 1 -3 1 46 1 12 1 -69 1 7 1 28 1 -12 1 -24 1 27 1 11 1 -47 1 46 1 19 1 -17 1 -21 1 -16 1 60 1 -67 1 41 1 -19 1 14 1 6 1 -54 1 61 1 -15 1 -1 1 -4 1 54 1 -26 1 -29 1 -3 1 11 1 -25 1 34 1 -33 1 10 1 24 1 -35 1 14 1 -27 1 24 1 10 1 27 1 -93 1 84 1 16 1 -48 1 18 1 -68 1 76 1 -3 1 3 1 -52 1 50 1 -31 1 7 1 25 1 -15 1 18 1 -15 1 23 1 -9 1 8 1 -23 1 9 1 24 1 -20 1 -15 1 26 1 -47 1 -3 1 39 1 -10 1 0 1 -34 1 -10 1 26 1 -3 1 1 1 27 1 -26 1 28 1 9 1 11 1 -17 1 -23 1 -20 1 61 1 -74 1 43 1 19 1 -28 1 19 1 -17 1 -2 1 11 1 24 1 -44 1 85 1 -90 1 41 1 0 1 6 1 -4 1 30 1 -36 1 -13 1 -33 1 61 1 -47 1 0 1 20 1 -16 1 17 1 18 1 -14 1 61 1 -79 1 -17 1 31 1 17 1 -94 1 57 1 2 1 22 1 -8 1 28 1 -7 1 -1 1 12 1 -44 1 -9 1 13 1 -2 1 -12 1 2 1 4 1 7 1 -21 1 41 1 -54 1 16 1 40 1 -37 1 44 1 -1 1 -91 1 68 1 50 1 -74 1 42 1 -9 1 -9 1 2 1 5 1 -32 1 26 1 0 1 36 1 -28 1 -66 1 70 1 -11 1 24 1 29 1 -73 1 43 1 6 1 -25 1 -5 1 -19 1 54 1 -76 1 29 1 42 1 0 1 7 1 -17 1 -15 1 10 1 -14 1 -22 1 31 1 -11 1 -14 1 8 1 15 1 58 1 -88 1 -12 1 49 1 -31 1 -4 1 23 1 56 1 -43 1 -13 1 -13 1 7 1 6 1 14 1 8 1 12 1 -69 1 25 1 23 1 1 1 20 1 -38 1 9 1 1 1 -30 1 26 1 8 1 7 1 -18 1 -11 1 -4 1 1 1 -7 1 27 1 -30 1 65 1 -29 1 -25 1 17 1 -8 1 -7 1 -7 1 32 1 -7 1 -7 1 -18 1 29 1 -21 1 -1 1 3 1 22 1 -14 1 6 1 17 1 -25 1 21 1 -9 1 -25 1 16 1 -37 1 38 1 -19 1 3 1 22 1 -8 1 34 1 -26 1 5 1 -20 1 -1 1 9 1 -15 1 34 1 -21 1 35 1 -32 1 18 1 -17 1 -16 1 -16 1 25 1 -4 1 -8 1 14 1 3 1 -9 1 3 1 0 1 -13 1 12 1 -13 1 40 1 13 1 6 1 -43 1 11 1 -45 1 45 1 9 1 -5 1 12 1 -37 1 66 1 -40 1 28 1 -76 1 15 1 -14 1 31 1 17 1 -4 1 -13 1 34 1 -62 1 -29 1 76 1 -9 1 21 1 -40 1 8 1 -13 1 15 1 -35 1 67 1 -40 1 10 1 -7 1 28 1 -37 1 19 1 5 1 -1 1 -10 1 -40 1 64 1 -57 1 52 1 -47 1 41 1 17 1 -61 1 47 1 -9 1 8 1 -57 1 32 1 17 1 53 1 -67 1 8 1 -5 1 -3 1 -24 1 17 1 8 1 -2 1 71 1 -52 1 -6 1 -14 1 13 1 -26 1 4 1 61 1 -52 1 4 1 24 1 -2 1 47 1 -59 1 37 1 -67 1 10 1 -36 1 68 1 -40 1 37 1 -19 1 18 1 24 1 -69 1 7 1 22 1 33 1 -27 1 -4 1 -14 1 40 1 -26 1 2 1 21 1 -22 1 1 1 4 1 1 1 20 1 -15 1 5 1 18 1 -34 1 -5 1 -6 1 7 1 -4 1 17 1 -1 1 -4 1 5 1 -5 1 6 1 -2 1 4 1 6 1 -33 1 21 1 -3 1 -29 1 42 1 1 1 -51 1 39 1 -9 1 5 1 7 1 -14 1 14 1 -11 1 9 1 12 1 -1 1 -14 1 6 1 -23 1 -6 1 74 1 -36 1 -19 1 0 1 30 1 -30 1 18 1 -45 1 31 1 -31 1 40 1 -8 1 -7 1 3 1 19 1 -34 1 4 1 26 1 -35 1 27 1 -13 1 34 1 -11 1 3 1 0 1 -33 1 17 1 -33 1 24 1 7 1 9 1 7 1 -11 1 5 1 -22 1 17 1 -24 1 0 1 15 1 -1 1 47 1 -18 1 -40 1 48 1 -60 1 12 1 -23 1 47 1 -21 1 8 1 -7 1 -6 1 -5 1 1 1 -24 1 95 1 -65 1 43 1 -30 1 13 1 -17 1 37 1 -76 1 86 1 11 1 8 1 -58 1 110 1 -103 1 13 1 4 1 -61 1 71 1 -19 1 113 1 -72 1 -44 1 6 1 -16 1 -25 1 80 1 -91 1 72 1 -51 1 31 1 38 1 -84 1 35 1 8 1 15 1 -9 1 -2 1 -38 1 15 1 5 1 -16 1 22 1 4 1 -22 1 28 1 -8 1 -29 1 27 1 -30 1 17 1 -12 1 -4 1 20 1 1 1 8 1 -65 1 42 1 5 1 6 1 -25 1 53 1 -23 1 2 1 4 1 -23 1 33 1 -4 1 -16 1 -22 1 11 1 16 1 10 1 -22 1 27 1 -16 1 -7 1 9 1 0 1 -14 1 14 1 -13 1 15 1 -17 1 16 1 7 1 10 1 -10 1 -26 1 11 1 48 1 -1 1 -49 1 0 1 23 1 -31 1 16 1 34 1 -38 1 -2 1 24 1 30 1 -46 1 -2 1 -25 1 26 1 -37 1 35 1 19 1 -56 1 8 1 83 1 2 1 -42 1 14 1 -19 1 -5 1 28 1 -45 1 -19 1 -33 1 30 1 -3 1 20 1 11 1 56 1 53 1 -113 1 15 1 -30 1 41 1 4 1 -52 1 28 1 -18 1 18 1 -19 1 82 1 -55 1 -103 1 67 1 6 1 1 1 32 1 -17 1 49 1 -67 1 30 1 -24 1 14 1 -33 1 47 1 -9 1 35 1 -18 1 -12 1 -32 1 4 1 19 1 33 1 -29 1 -5 1 32 1 -12 1 -35 1 45 1 -8 1 -24 1 11 1 23 1 -35 1 -47 1 50 1 16 1 31 1 -50 1 -19 1 26 1 -12 1 56 1 -12 1 -5 1 -24 1 -6 1 27 1 -2 1 12 1 -24 1 2 1 -1 1 -7 1 -21 1 5 1 10 1 -16 1 40 1 -50 1 13 1 56 1 -31 1 -11 1 -1 1 40 1 -42 1 50 1 -56 1 -1 1 33 1 28 1 -50 1 20 1 -8 1 -1 1 -35 1 21 1 66 1 -44 1 2 1 -4 1 -14 1 23 1 -29 1 42 1 -38 1 -25 1 54 1 -29 1 -3 1 27 1 -14 1 28 1 -19 1 -12 1 -18 1 36 1 -23 1 -20 1 8 1 12 1 -48 1 18 1 29 1 15 1 18 1 -41 1 6 1 53 1 -48 1 10 1 -15 1 3 1 -20 1 30 1 14 1 -38 1 -31 1 47 1 -22 1 25 1 -29 1 17 1 45 1 -44 1 -58 1 44 1 10 1 21 1 -48 1 43 1 25 1 -77 1 71 1 -27 1 -11 1 51 1 -32 1 -22 1 68 1 13 1 -74 1 20 1 1 1 -1 1 -16 1 8 1 -23 1 15 1 10 1 -30 1 79 1 31 1 -22 1 -79 1 33 1 -34 1 6 1 5 1 -8 1 77 1 -106 1 70 1 -17 1 -23 1 35 1 7 1 -32 1 -4 1 57 1 -28 1 15 1 21 1 -52 1 35 1 -29 1 9 1 -25 1 -40 1 65 1 3 1 -49 1 -13 1 67 1 -15 1 4 1 -53 1 52 1 -42 1 46 1 -8 1 28 1 -54 1 -45 1 20 1 32 1 -42 1 41 1 28 1 -10 1 45 1 6 1 -75 1 56 1 1 1 -68 1 5 1 4 1 65 1 7 1 -101 1 19 1 132 1 -77 1 2 1 -19 1 1 1 75 1 -146 1 187 1 -98 1 -19 1 52 1 -116 1 122 1 -113 1 130 1 9 1 -124 1 103 1 -11 1 -160 1 95 1 29 1 140 1 -248 1 95 1 -145 1 133 1 0 1 53 1 30 1 -60 1 29 1 -55 1 -2 1 28 1 18 1 -82 1 7 1 -2 1 35 1 77 1 28 1 -8 1 -197 1 42 1 54 1 -15 1 -11 1 33 1 -99 1 108 1 -2 1 -55 1 61 1 179 1 -48 1 -46 1 -52 1 -33 1 -56 1 15 1 -128 1 231 1 -121 1 -32 1 134 1 50 1 -39 1 -144 1 50 1 31 1 31 1 -78 1 -35 1 46 1 -6 1 69 1 -141 1 147 1 -7 1 -139 1 100 1 -24 1 18 1 -23 1 22 1 119 1 -98 1 31 1 113 1 -137 1 -19 1 -46 1 150 1 -91 1 4 1 -31 1 -13 1 130 1 -130 1 -23 1 61 1 0 1 79 1 -112 1 61 1 -106 1 -46 1 147 1 -19 1 -22 1 -39 1 105 1 3 1 -109 1 49 1 16 1 24 1 -220 1 192 1 -10 1 92 1 -155 1 87 1 1 1 1 1 19 1 -32 1 60 1 -71 1 -44 1 -57 1 101 1 113 1 -106 1 60 1 -15 1 -42 1 26 1 -13 1 -113 1 2 1 -13 1 133 1 -156 1 157 1 -33 1 5 1 -30 1 -88 1 59 1 86 1 32 1 -88 1 -56 1 -12 1 367 1 -316 1 52 1 56 1 -103 1 99 1 -41 1 51 1 -65 1 25 1 78 1 -55 1 -125 1 215 1 -227 1 59 1 48 1 -111 1 82 1 -63 1 57 1 -110 1 174 1 -88 1 -253 1 296 1 40 1 -23 1 19 1 -153 1 158 1 -55 1 -27 1 -83 1 195 1 45 1 -76 1 -156 1 51 1 61 1 41 1 -300 1 285 1 -19 1 15 1 42 1 -141 1 28 1 68 1 47 1 -79 1 -3 1 90 1 -131 1 163 1 -61 1 -118 1 249 1 -151 1 -99 1 118 1 -91 1 -23 1 183 1 -54 1 -12 1 -118 1 54 1 66 1 -2 1 -165 1 140 1 57 1 -185 1 159 1 -51 1 -251 1 220 1 -48 1 100 1 -158 1 166 1 -20 1 54 1 107 1 -300 1 -52 1 150 1 5 1 -144 1 62 1 49 1 95 1 -319 1 377 1 -192 1 -11 1 13 1 146 1 -146 1 -26 1 16 1 98 1 137 1 -124 1 -37 1 -44 1 154 1 -290 1 184 1 104 1 -160 1 -36 1 66 1 0 1 100 1 -91 1 18 1 -6 1 -117 1 180 1 -116 1 104 1 35 1 -48 1 29 1 -8 1 -75 1 60 1 -12 1 -20 1 86 1 -135 1 91 1 56 1 -101 1 4 1 -10 1 -106 1 60 1 60 1 1 1 125 1 -34 1 -94 1 42 1 -25 1 14 1 -48 1 -94 1 72 1 128 1 -15 1 -5 1 -99 1 -17 1 -22 1 -117 1 227 1 -21 1 -115 1 160 1 -88 1 5 1 47 1 -7 1 -77 1 -34 1 112 1 -74 1 -2 1 -43 1 97 1 15 1 63 1 -38 1 -26 1 51 1 -16 1 1 1 -6 1 -122 1 -48 1 143 1 13 1 -151 1 181 1 -133 1 161 1 52 1 -88 1 -46 1 72 1 50 1 -54 1 -126 1 208 1 -143 1 25 1 -94 1 88 1 7 1 5 1 -39 1 23 1 -84 1 18 1 208 1 -188 1 -11 1 140 1 -82 1 -46 1 23 1 9 1 -5 1 195 1 -118 1 -119 1 87 1 28 1 -58 1 68 1 -116 1 -103 1 126 1 -71 1 100 1 -96 1 49 1 172 1 -136 1 34 1 -64 1 15 1 92 1 -91 1 28 1 9 1 -56 1 36 1 -84 1 22 1 156 1 -95 1 -130 1 139 1 -8 1 120 1 -116 1 50 1 -92 1 38 1 -4 1 3 1 1 1 -62 1 111 1 -64 1 41 1 5 1 -32 1 81 1 -145 1 88 1 2 1 -32 1 -22 1 140 1 -220 1 254 1 -143 1 -124 1 188 1 -110 1 68 1 -52 1 139 1 -46 1 -138 1 82 1 -312 1 339 1 -39 1 -3 1 -130 1 274 1 -123 1 239 1 -243 1 -384 1 225 1 74 1 -131 1 -100 1 172 1 -132 1 170 1 41 1 96 1 -181 1 451 1 -380 1 12 1 556 1 -109 1 -507 1 -131 1 557 1 -487 1 167 1 25 1 -231 1 384 1 -252 1 104 1 24 1 -274 1 377 1 -169 1 98 1 35 1 -135 1 -60 1 171 1 -187 1 84 1 80 1 61 1 -131 1 42 1 -60 1 -8 1 -195 1 351 1 -163 1 71 1 -134 1 190 1 -276 1 241 1 62 1 -127 1 -65 1 7 1 -31 1 92 1 -13 1 -59 1 113 1 -120 1 -45 1 127 1 -8 1 -26 1 180 1 -177 1 80 1 -81 1 -113 1 93 1 123 1 -225 1 67 1 53 1 116 1 -114 1 113 1 -26 1 -194 1 40 1 68 1 26 1 -358 1 492 1 -129 1 62 1 -5 1 -5 1 -41 1 -16 1 -93 1 102 1 -36 1 -166 1 88 1 129 1 -63 1 114 1 -28 1 -72 1 125 1 -5 1 -144 1 243 1 -184 1 141 1 -113 1 -83 1 29 1 43 1 4 1 -173 1 174 1 -203 1 249 1 -134 1 -66 1 175 1 223 1 -279 1 -83 1 -14 1 171 1 -66 1 106 1 -142 1 11 1 97 1 -53 1 -44 1 -29 1 -4 1 -142 1 208 1 2 1 -42 1 -12 1 -62 1 43 1 -89 1 56 1 153 1 -83 1 17 1 26 1 -58 1 68 1 -67 1 58 1 -52 1 -25 1 21 1 25 1 24 1 10 1 79 1 -88 1 36 1 -92 1 79 1 -77 1 39 1 57 1 -35 1 -165 1 225 1 -114 1 -73 1 84 1 73 1 -58 1 36 1 -51 1 31 1 -8 1 -8 1 -104 1 62 1 82 1 -72 1 -18 1 -54 1 49 1 124 1 -74 1 58 1 -36 1 -143 1 131 1 155 1 -306 1 208 1 -68 1 -52 1 -16 1 92 1 -115 1 175 1 -90 1 21 1 -145 1 230 1 -109 1 1 1 84 1 5 1 -46 1 -69 1 124 1 21 1 -64 1 -130 1 88 1 26 1 -24 1 45 1 -89 1 97 1 -54 1 -27 1 13 1 47 1 30 1 -84 1 20 1 -101 1 95 1 -9 1 57 1 -11 1 -80 1 -51 1 61 1 -9 1 56 1 -14 1 -96 1 96 1 -61 1 -140 1 288 1 -92 1 31 1 -2 1 -80 1 -20 1 233 1 -167 1 70 1 -15 1 -90 1 90 1 -40 1 21 1 -36 1 -49 1 15 1 -26 1 12 1 32 1 100 1 155 1 -332 1 99 1 49 1 27 1 -54 1 -124 1 43 1 -143 1 211 1 -20 1 20 1 19 1 23 1 64 1 -151 1 196 1 124 1 -416 1 177 1 -280 1 254 1 -66 1 41 1 -70 1 209 1 -118 1 -53 1 335 1 -379 1 26 1 42 1 -3 1 6 1 -66 1 50 1 157 1 -192 1 33 1 23 1 241 1 13 1 -81 1 -70 1 37 1 -234 1 -180 1 670 1 -314 1 -51 1 -153 1 240 1 -131 1 20 1 -236 1 214 1 35 1 -78 1 -100 1 489 1 -306 1 -1 1 -14 1 99 1 -130 1 297 1 -209 1 47 1 -214 1 91 1 -58 1 51 1 -17 1 89 1 -118 1 163 1 -5 1 -190 1 139 1 12 1 -135 1 -67 1 130 1 196 1 -287 1 113 1 -28 1 55 1 219 1 -76 1 -234 1 118 1 -24 1 163 1 -290 1 131 1 45 1 -16 1 172 1 -294 1 -173 1 129 1 55 1 136 1 -93 1 69 1 -13 1 11 1 -68 1 67 1 -65 1 116 1 -84 1 -91 1 176 1 -166 1 76 1 23 1 -55 1 -11 1 21 1 -96 1 114 1 9 1 -85 1 48 1 50 1 29 1 -78 1 -72 1 124 1 -92 1 75 1 -23 1 3 1 75 1 -32 1 2 1 -67 1 92 1 -114 1 21 1 47 1 50 1 -143 1 53 1 117 1 -128 1 25 1 -43 1 -169 1 243 1 -24 1 -110 1 230 1 -80 1 6 1 -14 1 -103 1 -18 1 162 1 -64 1 -25 1 -59 1 4 1 60 1 15 1 -90 1 32 1 117 1 -108 1 95 1 -141 1 63 1 -11 1 20 1 -61 1 145 1 -28 1 25 1 -38 1 165 1 -302 1 118 1 -5 1 11 1 118 1 -152 1 -100 1 61 1 230 1 -195 1 -73 1 162 1 -47 1 -69 1 27 1 70 1 -34 1 -12 1 35 1 51 1 160 1 -272 1 -56 1 184 1 -113 1 75 1 -91 1 16 1 -41 1 78 1 44 1 6 1 -33 1 -42 1 -86 1 86 1 -95 1 88 1 9 1 117 1 -145 1 -53 1 45 1 90 1 -49 1 -73 1 131 1 -82 1 43 1 -16 1 -2 1 -45 1 -23 1 79 1 99 1 -47 1 -67 1 70 1 1 1 -124 1 293 1 -355 1 170 1 -133 1 69 1 -5 1 13 1 -97 1 32 1 171 1 -187 1 -5 1 115 1 62 1 -232 1 248 1 -134 1 114 1 -24 1 -247 1 259 1 -97 1 -41 1 12 1 38 1 -77 1 68 1 12 1 5 1 -84 1 238 1 -235 1 39 1 -56 1 88 1 20 1 159 1 -269 1 -47 1 130 1 33 1 4 1 -93 1 -16 1 56 1 -12 1 144 1 -144 1 9 1 84 1 -97 1 18 1 -147 1 226 1 -9 1 20 1 -69 1 -15 1 212 1 -95 1 -65 1 -41 1 38 1 -29 1 -49 1 84 1 -108 1 110 1 -68 1 -8 1 -10 1 9 1 -3 1 75 1 63 1 -46 1 -38 1 55 1 -146 1 -9 1 46 1 77 1 -114 1 47 1 25 1 -7 1 58 1 -57 1 19 1 67 1 -92 1 -136 1 152 1 34 1 -16 1 31 1 29 1 -88 1 -56 1 145 1 -88 1 -45 1 70 1 -28 1 4 1 13 1 35 1 -79 1 94 1 -93 1 141 1 -153 1 -33 1 59 1 196 1 51 1 -240 1 45 1 -57 1 68 1 -83 1 70 1 -14 1 73 1 -127 1 68 1 -57 1 15 1 39 1 -8 1 -4 1 4 1 64 1 -127 1 69 1 27 1 5 1 12 1 32 1 -112 1 138 1 46 1 -170 1 28 1 38 1 -110 1 96 1 -40 1 -56 1 36 1 -83 1 94 1 27 1 -99 1 101 1 -27 1 -21 1 58 1 -44 1 12 1 -47 1 119 1 -62 1 -74 1 -37 1 82 1 71 1 -28 1 -154 1 161 1 9 1 35 1 -156 1 54 1 96 1 -69 1 -19 1 12 1 51 1 -118 1 132 1 -67 1 -96 1 110 1 -51 1 99 1 45 1 -58 1 -47 1 23 1 56 1 -186 1 105 1 115 1 -183 1 -43 1 84 1 -117 1 122 1 11 1 -54 1 88 1 10 1 121 1 -119 1 -30 1 61 1 -39 1 96 1 -263 1 -135 1 197 1 62 1 16 1 121 1 55 1 -208 1 26 1 -281 1 292 1 -119 1 115 1 99 1 -81 1 -49 1 147 1 -174 1 100 1 -97 1 63 1 -65 1 93 1 -69 1 18 1 39 1 20 1 -32 1 -97 1 145 1 -115 1 46 1 60 1 40 1 -57 1 -202 1 62 1 100 1 44 1 29 1 -4 1 43 1 10 1 -153 1 -9 1 14 1 11 1 7 1 26 1 35 1 -39 1 28 1 55 1 -107 1 137 1 -100 1 23 1 61 1 -99 1 -37 1 -137 1 219 1 2 1 -44 1 40 1 27 1 -47 1 12 1 -13 1 -51 1 -57 1 64 1 132 1 -80 1 -125 1 39 1 115 1 -43 1 -49 1 -28 1 -21 1 82 1 88 1 -32 1 -41 1 13 1 -43 1 105 1 77 1 -108 1 -46 1 -15 1 -22 1 236 1 -187 1 -51 1 24 1 49 1 -160 1 214 1 -145 1 74 1 119 1 29 1 -155 1 122 1 -212 1 -20 1 272 1 -175 1 -90 1 94 1 -16 1 -59 1 174 1 -32 1 -168 1 118 1 -134 1 83 1 113 1 -23 1 -87 1 63 1 -75 1 -54 1 97 1 -52 1 33 1 16 1 20 1 39 1 146 1 -211 1 -84 1 97 1 147 1 -219 1 74 1 55 1 -160 1 120 1 17 1 48 1 -92 1 86 1 -31 1 -115 1 138 1 -76 1 -218 1 260 1 -60 1 -2 1 112 1 -147 1 152 1 -118 1 -85 1 274 1 -212 1 23 1 29 1 -43 1 -1 1 -72 1 58 1 94 1 -81 1 54 1 -66 1 142 1 -85 1 26 1 2 1 -55 1 11 1 -35 1 112 1 -96 1 -4 1 -1 1 -79 1 149 1 -55 1 16 1 -9 1 15 1 56 1 -30 1 -19 1 -12 1 -26 1 19 1 12 1 -10 1 -54 1 64 1 1 1 -31 1 29 1 18 1 -20 1 1 1 -22 1 64 1 -69 1 -7 1 57 1 -58 1 8 1 34 1 -40 1 -34 1 46 1 33 1 -35 1 2 1 22 1 13 1 -28 1 25 1 9 1 -5 1 -74 1 22 1 2 1 25 1 -35 1 37 1 22 1 -31 1 62 1 -50 1 -16 1 -35 1 33 1 -8 1 73 1 -55 1 -33 1 83 1 -177 1 158 1 -63 1 17 1 3 1 -15 1 17 1 41 1 -18 1 -149 1 133 1 19 1 51 1 6 1 5 1 -54 1 36 1 -56 1 34 1 -47 1 52 1 -36 1 -164 1 76 1 128 1 -100 1 -209 1 186 1 37 1 128 1 -70 1 -38 1 -104 1 89 1 198 1 -56 1 -95 1 36 1 87 1 -43 1 -147 1 68 1 -62 1 107 1 -42 1 74 1 -240 1 121 1 -13 1 49 1 -43 1 112 1 7 1 -45 1 64 1 -54 1 -194 1 157 1 29 1 62 1 57 1 -237 1 3 1 -23 1 88 1 38 1 -87 1 -37 1 88 1 190 1 -137 1 79 1 67 1 -126 1 -20 1 7 1 14 1 -64 1 -122 1 133 1 -62 1 40 1 98 1 -45 1 -12 1 -126 1 104 1 -19 1 2 1 52 1 36 1 -144 1 48 1 70 1 -9 1 -97 1 147 1 -211 1 221 1 -118 1 -66 1 64 1 -32 1 54 1 151 1 -132 1 -11 1 -32 1 38 1 -46 1 -13 1 82 1 4 1 -68 1 5 1 35 1 -63 1 -20 1 43 1 -24 1 26 1 37 1 29 1 -42 1 -34 1 55 1 19 1 0 1 -2 1 -135 1 78 1 -25 1 131 1 -134 1 -106 1 142 1 -9 1 233 1 -149 1 -21 1 -98 1 95 1 -233 1 315 1 -18 1 0 1 -236 1 212 1 13 1 -434 1 475 1 -284 1 149 1 201 1 -244 1 226 1 51 1 -154 1 -100 1 -125 1 273 1 -164 1 79 1 3 1 18 1 -72 1 63 1 -91 1 147 1 -172 1 12 1 -149 1 199 1 -62 1 38 1 -28 1 102 1 200 1 -180 1 21 1 -161 1 81 1 76 1 -136 1 82 1 -82 1 -18 1 -24 1 102 1 24 1 -35 1 39 1 -50 1 -27 1 -68 1 192 1 -58 1 -129 1 104 1 46 1 74 1 -127 1 44 1 -23 1 45 1 -8 1 -31 1 -25 1 14 1 -21 1 14 1 9 1 -28 1 -31 1 -59 1 129 1 -135 1 93 1 32 1 8 1 -56 1 45 1 -43 1 5 1 112 1 -70 1 -55 1 40 1 54 1 -71 1 16 1 40 1 -103 1 19 1 -62 1 74 1 27 1 4 1 -23 1 8 1 22 1 3 1 -43 1 40 1 35 1 -87 1 73 1 -55 1 79 1 -161 1 39 1 29 1 96 1 -5 1 -112 1 98 1 -2 1 36 1 -173 1 103 1 66 1 -43 1 65 1 -64 1 -38 1 131 1 -71 1 -20 1 -106 1 74 1 80 1 -77 1 5 1 -21 1 53 1 -6 1 -59 1 -17 1 69 1 -48 1 67 1 -59 1 -6 1 34 1 16 1 -81 1 75 1 -10 1 -8 1 -60 1 88 1 -69 1 73 1 -121 1 9 1 27 1 22 1 31 1 24 1 -12 1 -20 1 -53 1 53 1 45 1 -28 1 7 1 25 1 19 1 -113 1 126 1 -90 1 4 1 54 1 1 1 -68 1 -99 1 128 1 155 1 -109 1 -201 1 183 1 0 1 14 1 -87 1 -67 1 96 1 133 1 -75 1 -122 1 232 1 -48 1 52 1 -190 1 42 1 74 1 -270 1 224 1 -66 1 81 1 -40 1 101 1 -89 1 60 1 -5 1 -85 1 188 1 -196 1 -19 1 62 1 -30 1 -7 1 -67 1 -17 1 69 1 0 1 30 1 -32 1 39 1 3 1 -50 1 60 1 -12 1 -4 1 -56 1 107 1 -80 1 59 1 -52 1 58 1 -31 1 -37 1 -10 1 25 1 -13 1 16 1 42 1 -6 1 -39 1 123 1 -131 1 20 1 52 1 -86 1 -40 1 42 1 5 1 -2 1 132 1 -112 1 72 1 -109 1 -15 1 -114 1 79 1 182 1 -122 1 69 1 -22 1 -15 1 -60 1 79 1 14 1 -104 1 15 1 -6 1 94 1 30 1 -56 1 -13 1 93 1 -149 1 49 1 -38 1 120 1 -92 1 -3 1 92 1 81 1 -168 1 51 1 -115 1 147 1 -139 1 222 1 -21 1 -86 1 -102 1 118 1 -91 1 68 1 -22 1 -79 1 86 1 -7 1 -85 1 112 1 3 1 35 1 54 1 -287 1 107 1 72 1 -16 1 -23 1 50 1 -110 1 -39 1 161 1 -41 1 39 1 -16 1 -16 1 79 1 -63 1 -12 1 -62 1 184 1 -239 1 140 1 -132 1 117 1 -74 1 106 1 34 1 -83 1 -8 1 -69 1 -154 1 183 1 111 1 -124 1 39 1 3 1 -135 1 199 1 25 1 73 1 -259 1 85 1 7 1 7 1 -109 1 30 1 142 1 -41 1 -43 1 -38 1 158 1 -81 1 -53 1 54 1 56 1 -75 1 -134 1 147 1 -13 1 -33 1 72 1 -66 1 -55 1 61 1 50 1 81 1 -92 1 -54 1 50 1 -66 1 105 1 56 1 -67 1 57 1 -100 1 85 1 -23 1 18 1 -14 1 -83 1 7 1 40 1 44 1 -81 1 47 1 -52 1 40 1 66 1 -106 1 46 1 -38 1 -67 1 58 1 -31 1 94 1 4 1 -11 1 -42 1 -4 1 75 1 -68 1 60 1 -174 1 72 1 21 1 94 1 -74 1 57 1 -67 1 136 1 -140 1 -23 1 54 1 -7 1 -77 1 48 1 17 1 -91 1 149 1 -76 1 82 1 -79 1 3 1 23 1 70 1 -72 1 -6 1 -12 1 12 1 -33 1 120 1 -70 1 18 1 -53 1 6 1 -13 1 -29 1 28 1 -28 1 8 1 75 1 -1 1 30 1 -26 1 39 1 -76 1 80 1 -59 1 -102 1 106 1 -2 1 5 1 -43 1 99 1 -66 1 55 1 -123 1 68 1 53 1 -105 1 -16 1 163 1 -29 1 -121 1 -31 1 48 1 -43 1 129 1 -6 1 20 1 -58 1 -12 1 29 1 -91 1 83 1 5 1 -115 1 39 1 52 1 138 1 -132 1 -57 1 42 1 52 1 123 1 -207 1 180 1 -147 1 64 1 107 1 -163 1 -55 1 -27 1 5 1 47 1 45 1 -10 1 -41 1 13 1 46 1 -62 1 72 1 -39 1 -10 1 -95 1 50 1 50 1 77 1 -141 1 60 1 54 1 -187 1 226 1 -85 1 68 1 -96 1 78 1 49 1 -149 1 34 1 11 1 97 1 -84 1 19 1 -53 1 49 1 -44 1 28 1 -10 1 21 1 -9 1 -46 1 13 1 40 1 -7 1 139 1 -198 1 11 1 71 1 -52 1 -57 1 101 1 -30 1 -2 1 34 1 -37 1 56 1 -43 1 -11 1 10 1 59 1 -49 1 -2 1 7 1 12 1 -55 1 22 1 -26 1 2 1 20 1 100 1 -19 1 -23 1 -44 1 -32 1 -5 1 32 1 -27 1 -15 1 195 1 -215 1 19 1 -55 1 139 1 20 1 66 1 -96 1 67 1 -49 1 170 1 -255 1 32 1 -145 1 146 1 -33 1 113 1 33 1 -55 1 -79 1 20 1 -70 1 219 1 13 1 -202 1 225 1 -212 1 52 1 -53 1 4 1 94 1 -151 1 20 1 123 1 -13 1 -2 1 -41 1 -179 1 249 1 -141 1 145 1 -61 1 21 1 1 1 -169 1 175 1 -13 1 -56 1 53 1 -16 1 -1 1 -39 1 -1 1 56 1 -48 1 15 1 -9 1 96 1 -33 1 -7 1 10 1 -14 1 -13 1 -87 1 4 1 -128 1 157 1 22 1 47 1 -49 1 -10 1 127 1 -150 1 121 1 -161 1 137 1 3 1 -47 1 -20 1 40 1 89 1 -227 1 111 1 52 1 124 1 -150 1 -4 1 -24 1 21 1 -8 1 -43 1 -7 1 52 1 -6 1 -36 1 -19 1 -131 1 111 1 1 1 108 1 -92 1 54 1 -57 1 44 1 -25 1 133 1 -116 1 4 1 -55 1 37 1 63 1 71 1 -241 1 155 1 -55 1 50 1 58 1 -288 1 253 1 105 1 -243 1 294 1 -187 1 43 1 -53 1 -65 1 114 1 -79 1 17 1 -8 1 48 1 64 1 -44 1 -84 1 -89 1 65 1 144 1 -26 1 -66 1 53 1 -27 1 -122 1 101 1 -124 1 60 1 11 1 86 1 -242 1 322 1 -55 1 -101 1 69 1 -12 1 10 1 -17 1 -19 1 30 1 21 1 -120 1 139 1 -50 1 -74 1 73 1 95 1 -77 1 -60 1 55 1 -79 1 149 1 -60 1 58 1 -65 1 -79 1 98 1 43 1 -90 1 -70 1 146 1 -108 1 38 1 5 1 -20 1 -56 1 26 1 12 1 -3 1 -2 1 127 1 -65 1 -76 1 16 1 45 1 129 1 -12 1 -182 1 -91 1 137 1 37 1 -35 1 -72 1 -42 1 149 1 11 1 -45 1 36 1 -13 1 48 1 67 1 -99 1 -103 1 92 1 -23 1 -12 1 21 1 -11 1 62 1 -96 1 63 1 -62 1 7 1 -35 1 130 1 -116 1 173 1 62 1 -70 1 -160 1 110 1 -69 1 77 1 -44 1 -37 1 74 1 -19 1 -11 1 -13 1 -42 1 143 1 -121 1 -19 1 36 1 -131 1 240 1 -50 1 6 1 -131 1 1 1 82 1 -103 1 159 1 -120 1 52 1 17 1 -24 1 11 1 -36 1 -38 1 72 1 -30 1 43 1 -64 1 75 1 7 1 -69 1 62 1 -29 1 2 1 -67 1 13 1 -156 1 224 1 -45 1 -46 1 36 1 125 1 -162 1 127 1 -63 1 -140 1 -3 1 122 1 123 1 -211 1 77 1 64 1 -14 1 39 1 -38 1 -14 1 -77 1 -13 1 63 1 21 1 103 1 35 1 -17 1 -170 1 -52 1 144 1 150 1 -148 1 42 1 -209 1 228 1 -183 1 26 1 104 1 54 1 -106 1 6 1 6 1 -69 1 4 1 242 1 -116 1 -31 1 -41 1 37 1 6 1 -157 1 90 1 42 1 -28 1 -48 1 14 1 63 1 -112 1 159 1 -79 1 34 1 -43 1 -29 1 97 1 -8 1 64 1 -209 1 131 1 13 1 113 1 -233 1 49 1 29 1 62 1 -41 1 9 1 -38 1 -105 1 108 1 -18 1 -16 1 -34 1 134 1 -102 1 76 1 -43 1 7 1 51 1 -41 1 28 1 0 1 -7 1 -41 1 93 1 -48 1 -62 1 -27 1 62 1 -6 1 48 1 -95 1 49 1 -21 1 65 1 -130 1 74 1 23 1 3 1 7 1 -40 1 3 1 57 1 -51 1 19 1 -64 1 46 1 -16 1 57 1 9 1 16 1 -191 1 304 1 -256 1 108 1 -69 1 80 1 -43 1 -53 1 65 1 -10 1 8 1 -40 1 84 1 -50 1 -47 1 16 1 -43 1 104 1 -8 1 -67 1 -6 1 35 1 63 1 -106 1 1 1 32 1 24 1 -12 1 53 1 -4 1 -39 1 9 1 -35 1 108 1 -70 1 -74 1 168 1 -74 1 8 1 5 1 78 1 27 1 -164 1 44 1 -57 1 -27 1 247 1 -198 1 55 1 -14 1 41 1 52 1 -46 1 -131 1 15 1 96 1 -131 1 7 1 125 1 28 1 -155 1 57 1 8 1 106 1 -76 1 0 1 61 1 -57 1 -78 1 57 1 -6 1 -56 1 25 1 38 1 -18 1 41 1 33 1 -18 1 -87 1 -59 1 130 1 -106 1 -60 1 97 1 125 1 -153 1 97 1 35 1 -69 1 -147 1 165 1 -15 1 -67 1 78 1 56 1 21 1 -81 1 -24 1 20 1 12 1 66 1 -76 1 -48 1 23 1 86 1 -57 1 -69 1 90 1 -106 1 36 1 47 1 63 1 -107 1 135 1 -63 1 -55 1 94 1 -3 1 16 1 -37 1 -14 1 -5 1 -12 1 -19 1 -20 1 -129 1 304 1 -121 1 14 1 13 1 -12 1 39 1 -39 1 -62 1 26 1 2 1 11 1 -43 1 50 1 -78 1 159 1 -40 1 -63 1 60 1 -61 1 2 1 22 1 -102 1 106 1 -41 1 60 1 -62 1 2 1 56 1 -92 1 -22 1 212 1 -281 1 163 1 3 1 -18 1 21 1 -52 1 11 1 37 1 -30 1 -42 1 9 1 83 1 -154 1 131 1 -10 1 -59 1 27 1 -52 1 76 1 9 1 -74 1 2 1 -69 1 130 1 -100 1 35 1 87 1 24 1 -102 1 161 1 -150 1 116 1 -242 1 181 1 -54 1 100 1 -47 1 32 1 -181 1 92 1 110 1 -2 1 -70 1 -34 1 -39 1 27 1 102 1 101 1 -190 1 191 1 -150 1 238 1 -242 1 -118 1 46 1 65 1 -63 1 206 1 -122 1 50 1 -27 1 17 1 21 1 -84 1 79 1 -1 1 -119 1 24 1 37 1 -47 1 -26 1 169 1 -115 1 48 1 -39 1 -8 1 -20 1 73 1 -59 1 -1 1 16 1 -17 1 38 1 -4 1 40 1 -16 1 -42 1 -22 1 28 1 54 1 -66 1 85 1 -34 1 -17 1 -73 1 32 1 74 1 -102 1 -27 1 62 1 29 1 -57 1 88 1 -25 1 -19 1 43 1 -40 1 22 1 -31 1 27 1 -33 1 -62 1 107 1 -14 1 -78 1 35 1 16 1 11 1 -26 1 24 1 2 1 -32 1 9 1 -32 1 70 1 20 1 -91 1 80 1 -42 1 -13 1 19 1 72 1 -66 1 -2 1 -16 1 22 1 26 1 -22 1 20 1 -18 1 -11 1 20 1 -65 1 3 1 82 1 -59 1 -27 1 44 1 88 1 -52 1 -29 1 28 1 -14 1 -48 1 116 1 -131 1 -44 1 111 1 -29 1 6 1 -46 1 32 1 35 1 -27 1 48 1 -69 1 -18 1 9 1 48 1 -96 1 89 1 -36 1 -12 1 36 1 -6 1 70 1 -40 1 -116 1 157 1 0 1 6 1 -79 1 42 1 -25 1 -32 1 37 1 -52 1 15 1 32 1 -31 1 -97 1 129 1 -17 1 12 1 67 1 -130 1 -5 1 97 1 -79 1 -56 1 130 1 -131 1 148 1 -12 1 -35 1 -61 1 39 1 135 1 -74 1 75 1 -85 1 -51 1 49 1 -41 1 23 1 -18 1 -11 1 53 1 16 1 -38 1 -29 1 -35 1 -4 1 157 1 -237 1 122 1 91 1 -114 1 78 1 -46 1 -1 1 39 1 -34 1 3 1 78 1 -127 1 103 1 -45 1 12 1 14 1 -56 1 45 1 -28 1 -71 1 109 1 -52 1 -9 1 -1 1 51 1 -60 1 50 1 33 1 -81 1 63 1 -42 1 -37 1 64 1 19 1 74 1 -52 1 -91 1 112 1 -118 1 77 1 -26 1 -25 1 143 1 -104 1 12 1 -53 1 16 1 6 1 -15 1 50 1 -47 1 -6 1 -7 1 -23 1 73 1 -116 1 190 1 -112 1 35 1 75 1 -134 1 21 1 67 1 -67 1 40 1 -69 1 109 1 -14 1 -110 1 64 1 -17 1 -2 1 -1 1 156 1 -185 1 74 1 -30 1 121 1 -184 1 65 1 -76 1 21 1 8 1 80 1 -80 1 -10 1 64 1 -12 1 27 1 19 1 68 1 -220 1 162 1 -63 1 -66 1 32 1 -46 1 -98 1 155 1 103 1 -117 1 46 1 -16 1 -13 1 -117 1 146 1 -21 1 128 1 -97 1 -73 1 142 1 16 1 -63 1 -22 1 -80 1 -14 1 148 1 -84 1 11 1 21 1 -10 1 41 1 -19 1 25 1 -26 1 -46 1 -24 1 113 1 -96 1 -34 1 40 1 13 1 28 1 -39 1 40 1 16 1 -23 1 -3 1 -57 1 90 1 -27 1 -36 1 20 1 31 1 -132 1 90 1 78 1 -61 1 -19 1 11 1 -59 1 34 1 30 1 -50 1 53 1 9 1 -9 1 19 1 -20 1 69 1 -53 1 14 1 -33 1 -42 1 66 1 -27 1 24 1 60 1 -149 1 12 1 29 1 23 1 -15 1 -52 1 175 1 -88 1 -25 1 -7 1 0 1 -12 1 -7 1 75 1 19 1 -50 1 -35 1 11 1 -1 1 -8 1 62 1 23 1 -79 1 -19 1 -6 1 146 1 -113 1 -42 1 -35 1 64 1 133 1 -154 1 130 1 -59 1 -57 1 8 1 -5 1 19 1 -79 1 109 1 -16 1 -28 1 -19 1 101 1 -49 1 -71 1 139 1 -7 1 -70 1 -82 1 49 1 95 1 -14 1 -148 1 122 1 2 1 -19 1 83 1 -100 1 -29 1 127 1 -112 1 68 1 -100 1 18 1 83 1 -58 1 84 1 14 1 -81 1 -27 1 28 1 51 1 8 1 -82 1 -19 1 -119 1 160 1 -45 1 -30 1 -5 1 64 1 -45 1 63 1 -60 1 156 1 -127 1 11 1 19 1 -34 1 19 1 16 1 -24 1 -30 1 45 1 -6 1 31 1 -110 1 59 1 -21 1 46 1 68 1 -80 1 78 1 -104 1 -18 1 42 1 19 1 63 1 -132 1 103 1 -81 1 -76 1 168 1 1 1 -23 1 11 1 5 1 -41 1 2 1 45 1 -4 1 -18 1 -46 1 35 1 -7 1 -8 1 33 1 -35 1 -21 1 51 1 45 1 -74 1 23 1 -16 1 26 1 -66 1 75 1 -20 1 22 1 -96 1 58 1 9 1 -42 1 48 1 -26 1 -73 1 89 1 -1 1 -29 1 -11 1 6 1 35 1 -33 1 18 1 -12 1 46 1 -26 1 -2 1 6 1 -9 1 -19 1 39 1 -2 1 -14 1 11 1 -64 1 86 1 -46 1 9 1 50 1 -12 1 -35 1 17 1 -68 1 40 1 36 1 -39 1 32 1 -13 1 21 1 -34 1 83 1 -59 1 -21 1 -26 1 24 1 64 1 -85 1 33 1 -29 1 19 1 41 1 -42 1 71 1 -52 1 56 1 -81 1 32 1 -51 1 31 1 22 1 -34 1 57 1 -41 1 -32 1 34 1 -3 1 20 1 -31 1 10 1 -18 1 20 1 -11 1 2 1 -26 1 -3 1 71 1 -45 1 23 1 -10 1 -56 1 -42 1 100 1 41 1 2 1 -46 1 -29 1 49 1 22 1 -94 1 99 1 -60 1 -8 1 30 1 -10 1 47 1 39 1 -108 1 13 1 -33 1 16 1 67 1 -54 1 124 1 -162 1 79 1 13 1 -5 1 -33 1 -3 1 -75 1 93 1 -56 1 103 1 -157 1 13 1 107 1 -62 1 95 1 -96 1 -62 1 133 1 -112 1 100 1 1 1 12 1 10 1 -28 1 -13 1 42 1 -49 1 34 1 -118 1 -41 1 154 1 -21 1 -17 1 -18 1 36 1 36 1 -31 1 -62 1 166 1 -109 1 -44 1 74 1 -54 1 61 1 15 1 -76 1 12 1 10 1 53 1 -104 1 10 1 30 1 13 1 -36 1 81 1 -3 1 -53 1 -34 1 19 1 24 1 42 1 -104 1 39 1 -28 1 32 1 48 1 -35 1 -65 1 87 1 -7 1 -34 1 -48 1 76 1 61 1 -37 1 -54 1 15 1 10 1 32 1 -21 1 -12 1 24 1 -25 1 -73 1 94 1 -52 1 24 1 37 1 -47 1 19 1 15 1 -28 1 -87 1 141 1 -41 1 -39 1 34 1 -2 1 -25 1 59 1 -64 1 -7 1 88 1 -46 1 -9 1 -49 1 48 1 17 1 56 1 -93 1 36 1 -2 1 60 1 51 1 -170 1 84 1 -46 1 15 1 -2 1 -5 1 31 1 -2 1 -31 1 15 1 -7 1 9 1 8 1 -15 1 35 1 60 1 -53 1 -126 1 170 1 -72 1 -30 1 6 1 33 1 -24 1 -1 1 -26 1 -22 1 72 1 -22 1 33 1 -28 1 33 1 -64 1 16 1 8 1 8 1 -18 1 24 1 18 1 -14 1 -15 1 11 1 -59 1 -50 1 109 1 -31 1 -18 1 29 1 64 1 -42 1 35 1 -40 1 40 1 -87 1 110 1 -83 1 25 1 -1 1 18 1 -53 1 5 1 63 1 -17 1 -27 1 -7 1 -36 1 53 1 24 1 -17 1 -49 1 9 1 0 1 -37 1 52 1 16 1 -44 1 80 1 -47 1 22 1 -65 1 -1 1 42 1 21 1 -5 1 26 1 -55 1 51 1 -27 1 -33 1 44 1 -92 1 129 1 -88 1 64 1 -23 1 -1 1 3 1 -1 1 9 1 -9 1 -1 1 -12 1 46 1 -52 1 -35 1 2 1 67 1 -65 1 50 1 14 1 -31 1 70 1 30 1 -39 1 46 1 -90 1 35 1 -22 1 -14 1 4 1 -15 1 70 1 -101 1 -31 1 64 1 -22 1 -30 1 52 1 -9 1 -28 1 122 1 -81 1 14 1 -80 1 106 1 -6 1 -31 1 -49 1 -40 1 96 1 -11 1 -80 1 16 1 125 1 -33 1 -37 1 18 1 -12 1 -8 1 26 1 -33 1 -3 1 27 1 11 1 0 1 -58 1 91 1 -29 1 2 1 -40 1 -7 1 9 1 -19 1 -5 1 55 1 -21 1 -18 1 24 1 5 1 -51 1 23 1 -10 1 26 1 -16 1 54 1 -52 1 16 1 -25 1 37 1 -13 1 -5 1 27 1 40 1 -55 1 -82 1 22 1 15 1 71 1 -36 1 36 1 -80 1 34 1 14 1 68 1 -35 1 -87 1 42 1 -30 1 12 1 16 1 2 1 -24 1 14 1 -50 1 68 1 -8 1 8 1 20 1 -75 1 81 1 -37 1 50 1 -50 1 58 1 -56 1 -15 1 49 1 -39 1 1 1 6 1 7 1 -10 1 41 1 -15 1 33 1 -55 1 3 1 25 1 9 1 2 1 -49 1 12 1 41 1 -67 1 17 1 45 1 0 1 -5 1 -15 1 16 1 -22 1 20 1 -8 1 -23 1 14 1 -35 1 -17 1 6 1 5 1 51 1 -23 1 51 1 -89 1 69 1 17 1 -82 1 35 1 30 1 -33 1 -5 1 -6 1 -4 1 58 1 -34 1 -28 1 50 1 -4 1 -18 1 2 1 -28 1 22 1 14 1 13 1 4 1 -101 1 60 1 46 1 -61 1 26 1 -19 1 -7 1 29 1 -13 1 22 1 -18 1 1 1 25 1 -19 1 2 1 12 1 -9 1 -6 1 -7 1 11 1 9 1 32 1 -94 1 114 1 -75 1 2 1 -21 1 22 1 13 1 3 1 -64 1 58 1 3 1 -23 1 13 1 33 1 -62 1 48 1 0 1 -1 1 -24 1 7 1 -10 1 -39 1 65 1 -52 1 52 1 10 1 -22 1 28 1 -37 1 50 1 -15 1 -29 1 24 1 -23 1 56 1 -24 1 -13 1 -3 1 -63 1 37 1 38 1 -51 1 25 1 12 1 -7 1 -8 1 24 1 -9 1 -22 1 -10 1 38 1 -6 1 -3 1 -5 1 7 1 6 1 -12 1 16 1 2 1 -33 1 6 1 53 1 -41 1 -9 1 -35 1 34 1 -16 1 52 1 -18 1 39 1 -110 1 56 1 -57 1 85 1 -34 1 40 1 -51 1 39 1 -21 1 -15 1 25 1 -25 1 37 1 -56 1 29 1 -3 1 21 1 -18 1 7 1 -11 1 6 1 29 1 -24 1 26 1 -50 1 24 1 -12 1 -5 1 -9 1 39 1 1 1 -19 1 11 1 -33 1 68 1 -41 1 33 1 -24 1 24 1 -37 1 18 1 -27 1 17 1 -12 1 36 1 -21 1 95 1 -73 1 -70 1 68 1 -43 1 -36 1 93 1 -70 1 51 1 -21 1 -5 1 17 1 0 1 -8 1 9 1 -81 1 149 1 -113 1 50 1 4 1 2 1 -57 1 23 1 -15 1 20 1 54 1 -4 1 -13 1 -9 1 -7 1 -93 1 10 1 92 1 -34 1 -23 1 17 1 31 1 -51 1 37 1 14 1 -3 1 -36 1 36 1 37 1 -20 1 -17 1 -28 1 5 1 63 1 -6 1 -8 1 -8 1 -38 1 -6 1 32 1 -21 1 -16 1 16 1 8 1 1 1 -18 1 -55 1 89 1 -24 1 -21 1 11 1 11 1 -37 1 50 1 4 1 -71 1 61 1 -12 1 -38 1 3 1 48 1 26 1 -38 1 11 1 3 1 -8 1 -20 1 22 1 -17 1 44 1 -21 1 29 1 -34 1 22 1 -35 1 -22 1 46 1 -2 1 -33 1 -10 1 17 1 20 1 63 1 -32 1 -91 1 61 1 -34 1 49 1 45 1 -107 1 -18 1 12 1 -33 1 77 1 -12 1 -15 1 6 1 23 1 -18 1 32 1 -77 1 80 1 -51 1 23 1 51 1 -26 1 -7 1 -33 1 94 1 -52 1 -27 1 11 1 4 1 5 1 12 1 -1 1 -20 1 -33 1 18 1 -70 1 98 1 63 1 -82 1 -57 1 132 1 -70 1 -26 1 -6 1 50 1 16 1 -70 1 53 1 -61 1 40 1 12 1 3 1 10 1 9 1 -51 1 -1 1 23 1 21 1 -48 1 15 1 -6 1 0 1 24 1 22 1 -22 1 -32 1 23 1 -59 1 7 1 14 1 19 1 -27 1 44 1 47 1 -37 1 -44 1 -16 1 12 1 -65 1 197 1 -105 1 0 1 33 1 -60 1 92 1 -90 1 36 1 27 1 -48 1 -33 1 13 1 61 1 -78 1 39 1 40 1 34 1 -65 1 -1 1 -33 1 70 1 -88 1 52 1 88 1 -138 1 3 1 106 1 -38 1 -6 1 -5 1 -18 1 -15 1 16 1 -19 1 116 1 -82 1 -56 1 38 1 38 1 -38 1 -13 1 15 1 23 1 -3 1 -13 1 47 1 2 1 -16 1 -66 1 -50 1 30 1 34 1 39 1 -35 1 -9 1 44 1 19 1 -45 1 -5 1 8 1 31 1 7 1 -21 1 -67 1 81 1 -27 1 35 1 38 1 -59 1 33 1 -94 1 88 1 -37 1 3 1 -11 1 5 1 15 1 -11 1 -2 1 25 1 -16 1 -13 1 36 1 -36 1 18 1 16 1 -60 1 9 1 49 1 -27 1 42 1 -12 1 -27 1 4 1 -61 1 48 1 29 1 -65 1 63 1 -14 1 -29 1 -7 1 43 1 -49 1 52 1 3 1 -13 1 -19 1 -36 1 109 1 -57 1 -40 1 52 1 -34 1 33 1 -4 1 -3 1 27 1 -40 1 -24 1 66 1 -47 1 32 1 -25 1 -52 1 32 1 30 1 5 1 29 1 33 1 -58 1 11 1 25 1 -47 1 -15 1 5 1 -38 1 78 1 -5 1 25 1 -15 1 -29 1 -14 1 31 1 -8 1 25 1 -76 1 88 1 -30 1 -53 1 25 1 13 1 11 1 -20 1 -13 1 26 1 -45 1 76 1 -57 1 -9 1 37 1 -7 1 -9 1 13 1 -13 1 0 1 0 1 1 1 27 1 -33 1 15 1 -14 1 35 1 -48 1 26 1 -15 1 24 1 -15 1 3 1 16 1 -3 1 -74 1 32 1 29 1 5 1 4 1 -58 1 70 1 1 1 -30 1 21 1 -13 1 31 1 -35 1 13 1 -20 1 19 1 4 1 -40 1 -28 1 38 1 62 1 -31 1 31 1 -48 1 -14 1 24 1 0 1 -32 1 6 1 9 1 -19 1 40 1 43 1 -50 1 35 1 -73 1 26 1 8 1 8 1 -10 1 -17 1 0 1 50 1 -32 1 15 1 -12 1 46 1 -57 1 37 1 -76 1 38 1 -31 1 -48 1 130 1 -52 1 -18 1 27 1 -38 1 70 1 -22 1 -16 1 -52 1 112 1 -59 1 -56 1 -44 1 114 1 -20 1 29 1 8 1 18 1 -32 1 126 1 -188 1 -20 1 90 1 -3 1 -7 1 53 1 -69 1 25 1 7 1 1 1 107 1 -170 1 8 1 119 1 -115 1 -82 1 97 1 -36 1 69 1 -108 1 122 1 -28 1 -1 1 -18 1 -20 1 7 1 38 1 -48 1 68 1 -56 1 18 1 14 1 57 1 -43 1 -26 1 2 1 -28 1 23 1 -8 1 -13 1 35 1 -11 1 27 1 -20 1 -12 1 22 1 -17 1 -62 1 71 1 -8 1 4 1 -6 1 2 1 -10 1 -16 1 29 1 8 1 -17 1 18 1 -37 1 9 1 26 1 -2 1 -10 1 17 1 19 1 -42 1 -4 1 -1 1 -31 1 12 1 13 1 31 1 -12 1 1 1 8 1 20 1 -29 1 -17 1 -4 1 28 1 -101 1 126 1 0 1 -30 1 -6 1 -19 1 25 1 24 1 -12 1 -11 1 -35 1 7 1 45 1 -28 1 -28 1 22 1 15 1 -68 1 108 1 -45 1 119 1 -181 1 123 1 -53 1 -31 1 54 1 -9 1 -24 1 21 1 -147 1 149 1 -36 1 68 1 -71 1 -29 1 39 1 27 1 0 1 -16 1 -8 1 39 1 -33 1 0 1 -66 1 87 1 -80 1 84 1 -58 1 41 1 -1 1 35 1 -85 1 60 1 -26 1 22 1 -34 1 30 1 -1 1 -53 1 48 1 -28 1 36 1 -24 1 81 1 -71 1 12 1 19 1 -35 1 13 1 -38 1 41 1 -29 1 46 1 -36 1 41 1 -28 1 2 1 -26 1 20 1 36 1 -42 1 10 1 -8 1 -6 1 45 1 -1 1 -32 1 14 1 -47 1 19 1 28 1 13 1 -25 1 -13 1 27 1 -11 1 6 1 4 1 -15 1 33 1 -73 1 94 1 -42 1 -12 1 16 1 -46 1 46 1 -4 1 21 1 -49 1 34 1 -34 1 36 1 2 1 -40 1 19 1 -6 1 -16 1 25 1 35 1 -74 1 55 1 -53 1 19 1 3 1 28 1 -57 1 6 1 3 1 69 1 -19 1 -1 1 -23 1 -5 1 11 1 36 1 -51 1 42 1 -31 1 -6 1 -3 1 29 1 0 1 -9 1 10 1 7 1 -13 1 -5 1 20 1 -22 1 -2 1 -35 1 34 1 14 1 -9 1 -51 1 21 1 8 1 27 1 -13 1 3 1 -9 1 16 1 -1 1 -10 1 26 1 -29 1 45 1 -83 1 51 1 -13 1 31 1 -18 1 19 1 -36 1 43 1 -17 1 37 1 -35 1 34 1 -11 1 -47 1 -64 1 26 1 31 1 -1 1 5 1 28 1 -42 1 48 1 -1 1 -14 1 16 1 -13 1 -66 1 75 1 -46 1 -13 1 79 1 -37 1 -13 1 -6 1 18 1 -20 1 10 1 14 1 -54 1 59 1 -22 1 50 1 -45 1 -16 1 -10 1 26 1 1 1 -26 1 99 1 -67 1 6 1 22 1 -46 1 6 1 -16 1 20 1 -19 1 25 1 32 1 -25 1 -26 1 -8 1 37 1 36 1 -59 1 11 1 9 1 -5 1 40 1 -66 1 83 1 -116 1 18 1 33 1 36 1 -92 1 -19 1 80 1 -52 1 -3 1 -36 1 93 1 65 1 -94 1 42 1 -7 1 -5 1 28 1 -53 1 43 1 -58 1 49 1 -1 1 19 1 -39 1 3 1 23 1 30 1 -95 1 63 1 11 1 -64 1 34 1 -20 1 27 1 -9 1 -2 1 8 1 23 1 -33 1 12 1 -8 1 9 1 7 1 1 1 -28 1 18 1 60 1 -67 1 14 1 -15 1 28 1 -17 1 -22 1 9 1 21 1 1 1 -44 1 57 1 -9 1 -25 1 31 1 -11 1 -9 1 -35 1 36 1 23 1 -30 1 -30 1 34 1 17 1 -30 1 5 1 25 1 -4 1 -37 1 44 1 -13 1 17 1 -5 1 -23 1 -2 1 11 1 13 1 -27 1 12 1 -20 1 18 1 -36 1 36 1 5 1 -18 1 21 1 -63 1 68 1 6 1 -16 1 18 1 -38 1 25 1 -17 1 11 1 4 1 -35 1 19 1 -4 1 27 1 -40 1 29 1 -20 1 4 1 4 1 -11 1 40 1 -37 1 20 1 -5 1 0 1 -43 1 46 1 -18 1 46 1 -38 1 19 1 -24 1 34 1 -52 1 56 1 -63 1 29 1 19 1 2 1 -13 1 8 1 -3 1 -6 1 -8 1 14 1 7 1 -1 1 -4 1 14 1 -20 1 3 1 5 1 -8 1 -17 1 34 1 -21 1 17 1 -26 1 32 1 -34 1 9 1 7 1 -1 1 37 1 -31 1 -7 1 -3 1 -1 1 -3 1 12 1 -18 1 27 1 -29 1 10 1 32 1 -33 1 27 1 -14 1 -10 1 16 1 -20 1 29 1 -29 1 30 1 2 1 -49 1 41 1 -23 1 -3 1 14 1 -3 1 -6 1 3 1 10 1 -1 1 4 1 6 1 -23 1 6 1 20 1 -21 1 16 1 -5 1 -8 1 -5 1 28 1 8 1 -19 1 -25 1 -14 1 20 1 -3 1 10 1 -3 1 15 1 -7 1 22 1 -18 1 -12 1 47 1 -62 1 13 1 -16 1 6 1 18 1 -18 1 11 1 -9 1 -5 1 13 1 0 1 17 1 -7 1 9 1 1 1 -28 1 8 1 -3 1 14 1 -30 1 68 1 -104 1 49 1 -1 1 38 1 -39 1 -5 1 -6 1 29 1 -19 1 23 1 10 1 -31 1 16 1 -22 1 12 1 -1 1 37 1 -36 1 28 1 -32 1 59 1 -20 1 -22 1 1 1 -13 1 1 1 8 1 22 1 -46 1 39 1 -15 1 -14 1 40 1 -62 1 21 1 21 1 -14 1 48 1 -60 1 33 1 -44 1 20 1 28 1 6 1 -31 1 -8 1 7 1 -14 1 42 1 -12 1 12 1 -20 1 -17 1 -7 1 10 1 2 1 -47 1 19 1 71 1 -36 1 -16 1 8 1 21 1 -47 1 36 1 46 1 -52 1 39 1 -23 1 30 1 -9 1 -41 1 10 1 -9 1 -15 1 15 1 27 1 -28 1 1 1 56 1 -33 1 -32 1 -2 1 29 1 7 1 -12 1 1 1 11 1 -70 1 54 1 16 1 -29 1 -3 1 46 1 -34 1 15 1 14 1 -27 1 16 1 -18 1 -17 1 27 1 -1 1 -2 1 -7 1 6 1 9 1 -6 1 -3 1 16 1 -10 1 -11 1 11 1 -9 1 19 1 6 1 -23 1 8 1 22 1 -20 1 -9 1 7 1 -5 1 23 1 -63 1 36 1 -28 1 33 1 -7 1 -15 1 2 1 3 1 31 1 -12 1 -11 1 -26 1 23 1 26 1 -38 1 23 1 4 1 -19 1 0 1 -1 1 27 1 -6 1 -4 1 -4 1 -24 1 41 1 -8 1 -2 1 -12 1 15 1 -13 1 7 1 -3 1 8 1 -14 1 5 1 15 1 -11 1 -17 1 -9 1 72 1 -27 1 -17 1 -9 1 -6 1 12 1 -35 1 34 1 -5 1 38 1 -42 1 -45 1 42 1 9 1 -11 1 5 1 -7 1 7 1 29 1 -14 1 9 1 -32 1 -13 1 31 1 4 1 -15 1 11 1 -15 1 -5 1 -12 1 52 1 -29 1 38 1 -27 1 15 1 -59 1 62 1 -1 1 0 1 0 1 0 1 -18 1 23 1 -17 1 -43 1 -8 1 48 1 -12 1 8 1 -26 1 76 1 -18 1 -66 1 46 1 4 1 -43 1 6 1 56 1 8 1 -80 1 69 1 -73 1 53 1 -70 1 25 1 64 1 -29 1 15 1 55 1 -90 1 0 1 82 1 -135 1 29 1 62 1 -40 1 13 1 18 1 -20 1 -31 1 18 1 14 1 -31 1 63 1 -42 1 10 1 -20 1 11 1 0 1 13 1 -7 1 23 1 -28 1 29 1 -19 1 -12 1 3 1 6 1 -9 1 -6 1 3 1 53 1 -42 1 -17 1 -29 1 51 1 5 1 0 1 -27 1 29 1 10 1 20 1 -61 1 20 1 -1 1 -27 1 43 1 -16 1 -31 1 28 1 26 1 -44 1 32 1 -1 1 19 1 -12 1 -82 1 95 1 4 1 -26 1 -34 1 60 1 -16 1 -13 1 -1 1 -16 1 4 1 6 1 -12 1 32 1 -8 1 10 1 -18 1 -9 1 33 1 3 1 -39 1 30 1 -27 1 32 1 6 1 -26 1 18 1 -39 1 13 1 -2 1 10 1 23 1 -24 1 3 1 -9 1 -12 1 16 1 30 1 -28 1 6 1 -13 1 4 1 -1 1 2 1 0 1 3 1 -4 1 11 1 -14 1 2 1 -48 1 64 1 4 1 -37 1 22 1 -9 1 16 1 16 1 -21 1 1 1 13 1 -27 1 4 1 -7 1 2 1 19 1 2 1 -26 1 14 1 17 1 -3 1 -29 1 16 1 25 1 -29 1 -3 1 27 1 -6 1 -4 1 -25 1 2 1 0 1 8 1 17 1 -17 1 -13 1 13 1 13 1 2 1 4 1 -21 1 3 1 -41 1 33 1 -13 1 26 1 -12 1 -23 1 43 1 -13 1 14 1 -55 1 91 1 -43 1 40 1 -31 1 -7 1 -25 1 -22 1 46 1 -27 1 38 1 16 1 -6 1 -21 1 47 1 -77 1 -1 1 53 1 -27 1 -34 1 62 1 -45 1 15 1 -27 1 37 1 69 1 -82 1 3 1 28 1 -17 1 -26 1 21 1 -52 1 40 1 -67 1 23 1 -1 1 56 1 68 1 -38 1 -134 1 147 1 -107 1 -24 1 113 1 -41 1 -15 1 63 1 -44 1 -45 1 74 1 38 1 -121 1 14 1 30 1 -40 1 -17 1 45 1 95 1 -114 1 94 1 12 1 -70 1 59 1 -48 1 71 1 -74 1 76 1 -69 1 -101 1 162 1 -65 1 -2 1 -3 1 78 1 -77 1 24 1 -8 1 -7 1 7 1 6 1 -64 1 6 1 45 1 -57 1 172 1 -65 1 -96 1 77 1 -51 1 11 1 -8 1 54 1 -120 1 104 1 -24 1 -59 1 97 1 -54 1 87 1 -67 1 -70 1 57 1 26 1 3 1 20 1 64 1 -28 1 -151 1 104 1 -22 1 42 1 -84 1 42 1 46 1 -146 1 60 1 -46 1 24 1 86 1 54 1 -123 1 -6 1 6 1 37 1 -67 1 26 1 31 1 66 1 -48 1 -14 1 -14 1 -9 1 89 1 -67 1 43 1 -23 1 3 1 -45 1 17 1 10 1 22 1 69 1 -100 1 -11 1 29 1 26 1 -33 1 39 1 -36 1 6 1 17 1 -48 1 44 1 -15 1 -27 1 7 1 17 1 -22 1 35 1 -15 1 0 1 -11 1 -12 1 4 1 8 1 17 1 33 1 -9 1 -40 1 -15 1 52 1 41 1 -77 1 32 1 -20 1 -1 1 -17 1 33 1 -1 1 -19 1 -10 1 39 1 -7 1 -19 1 15 1 -17 1 -31 1 30 1 -57 1 73 1 -13 1 47 1 -90 1 0 1 56 1 31 1 -35 1 -27 1 10 1 -7 1 12 1 10 1 2 1 -19 1 -7 1 28 1 -7 1 14 1 -4 1 -39 1 18 1 26 1 60 1 -37 1 -79 1 24 1 37 1 8 1 -136 1 126 1 -6 1 9 1 -43 1 111 1 -122 1 49 1 -4 1 -14 1 -20 1 -43 1 35 1 39 1 -8 1 36 1 -26 1 -15 1 12 1 -8 1 22 1 3 1 -16 1 -24 1 64 1 -107 1 37 1 53 1 -38 1 -32 1 77 1 -39 1 5 1 32 1 -51 1 52 1 -29 1 64 1 -50 1 -44 1 26 1 -19 1 -81 1 12 1 69 1 23 1 -12 1 -2 1 -29 1 72 1 -96 1 104 1 -69 1 55 1 -44 1 -14 1 24 1 -14 1 80 1 -122 1 27 1 3 1 56 1 54 1 -25 1 -90 1 26 1 25 1 -44 1 13 1 43 1 -4 1 -38 1 37 1 11 1 -37 1 65 1 -77 1 29 1 21 1 -45 1 -4 1 47 1 -60 1 48 1 -60 1 43 1 -42 1 66 1 -51 1 0 1 4 1 73 1 -49 1 -36 1 2 1 37 1 -10 1 -43 1 64 1 -11 1 -8 1 -32 1 40 1 -12 1 11 1 -16 1 10 1 29 1 -6 1 -31 1 2 1 0 1 -35 1 26 1 24 1 -47 1 43 1 -2 1 -8 1 12 1 -47 1 26 1 10 1 -20 1 50 1 -50 1 24 1 21 1 -40 1 34 1 13 1 -88 1 14 1 -28 1 138 1 -125 1 5 1 72 1 -64 1 5 1 45 1 -34 1 31 1 0 1 36 1 3 1 -29 1 -57 1 27 1 -25 1 63 1 -36 1 35 1 -16 1 -9 1 -23 1 28 1 2 1 -4 1 6 1 19 1 -10 1 3 1 -43 1 28 1 8 1 21 1 -16 1 -34 1 25 1 -15 1 5 1 -8 1 -4 1 22 1 -14 1 21 1 7 1 -21 1 14 1 -30 1 16 1 -41 1 34 1 7 1 -3 1 -27 1 42 1 -15 1 -11 1 21 1 9 1 -4 1 -16 1 -10 1 40 1 -25 1 39 1 -44 1 15 1 2 1 -7 1 11 1 -30 1 6 1 29 1 -8 1 -38 1 23 1 30 1 -60 1 68 1 -19 1 1 1 -3 1 -21 1 18 1 -5 1 -1 1 -25 1 27 1 13 1 -7 1 5 1 -16" fill="none" stroke="#0000ff" stroke-width="0.55" stroke-opacity="0.6"/><path d="M299.1 298.5V409.5M330.5 332.5V422.5M292.6 337.5V387.5M318.3 349.5V399.5M272.9 347.5V387.5M391.4 345.5V385.5M401.2 345.5V387.5M446.7 337.5V393.5M436.8 342.5V382.5M464.4 352.5V385.5M573.7 339.5V399.5M577.0 355.5V382.5M636.3 352.5V377.5M263.0 349.5V382.5M361.8 349.5V382.5" stroke="#0000ff" stroke-width="0.6" stroke-opacity="0.75" fill="none"/>
<path d="M184.5 296.0v4.5M184.5 440.0v-4.5" stroke="#a8a8a8" stroke-width="1"/>
<text x="184.0" y="466.7" font-size="20.2" font-weight="normal" text-anchor="middle">00:00</text>
<path d="M302.5 296.0v4.5M302.5 440.0v-4.5" stroke="#a8a8a8" stroke-width="1"/>
<text x="302.5" y="466.7" font-size="20.2" font-weight="normal" text-anchor="middle">06:00</text>
<path d="M421.5 296.0v4.5M421.5 440.0v-4.5" stroke="#a8a8a8" stroke-width="1"/>
<text x="421.0" y="466.7" font-size="20.2" font-weight="normal" text-anchor="middle">12:00</text>
<path d="M539.5 296.0v4.5M539.5 440.0v-4.5" stroke="#a8a8a8" stroke-width="1"/>
<text x="539.5" y="466.7" font-size="20.2" font-weight="normal" text-anchor="middle">18:00</text>
<path d="M658.5 296.0v4.5M658.5 440.0v-4.5" stroke="#a8a8a8" stroke-width="1"/>
<text x="658.0" y="466.7" font-size="20.2" font-weight="normal" text-anchor="middle">24:00</text>
<path d="M185.0 295.5h4.5M658.5 295.5h-4.5" stroke="#a8a8a8" stroke-width="1"/>
<text x="180.6" y="304.1" font-size="20.2" font-weight="normal" text-anchor="end">2</text>
<path d="M185.0 368.0h4.5M658.5 368.0h-4.5" stroke="#a8a8a8" stroke-width="1"/>
<text x="180.6" y="376.6" font-size="20.2" font-weight="normal" text-anchor="end">0</text>
<path d="M185.0 440.5h4.5M658.5 440.5h-4.5" stroke="#a8a8a8" stroke-width="1"/>
<text x="180.6" y="449.1" font-size="20.2" font-weight="normal" text-anchor="end">-2</text>
<text x="151.3" y="368.7" font-size="20.2" font-weight="bold" text-anchor="middle" transform="rotate(-90 151.3 368.7)">Y (nT)</text>
<rect x="184.5" y="531.5" width="474.0" height="145.0" fill="none" stroke="#a8a8a8" stroke-width="1"/>
<polygon points="184.5,602.0 185.5,601.8 186.5,602.3 187.5,601.7 188.5,602.3 189.5,601.5 190.5,603.2 191.5,601.6 192.5,602.2 193.5,602.2 194.5,600.1 195.5,602.5 196.5,603.1 197.5,601.7 198.5,602.6 199.5,602.8 200.5,601.7 201.5,601.6 202.5,602.6 203.5,602.6 204.5,601.8 205.5,602.9 206.5,602.6 207.5,601.5 208.5,601.7 209.5,603.2 210.5,601.7 211.5,601.7 212.5,602.1 213.5,601.9 214.5,601.3 215.5,600.0 216.5,600.4 217.5,600.8 218.5,600.5 219.5,602.4 220.5,599.9 221.5,602.1 222.5,598.3 223.5,600.7 224.5,599.5 225.5,599.8 226.5,600.7 227.5,598.9 228.5,597.8 229.5,599.6 230.5,595.6 231.5,597.8 232.5,597.7 233.5,597.6 234.5,596.3 235.5,597.9 236.5,599.1 237.5,598.7 238.5,598.1 239.5,596.6 240.5,590.6 241.5,596.8 242.5,598.4 243.5,598.8 244.5,598.2 245.5,598.4 246.5,599.2 247.5,597.7 248.5,598.3 249.5,594.1 250.5,600.5 251.5,596.8 252.5,594.4 253.5,600.7 254.5,597.6 255.5,597.3 256.5,599.5 257.5,595.1 258.5,594.4 259.5,599.6 260.5,597.9 261.5,598.8 262.5,600.7 263.5,600.0 264.5,597.7 265.5,599.7 266.5,600.5 267.5,598.3 268.5,600.8 269.5,596.2 270.5,596.6 271.5,598.7 272.5,604.5 273.5,599.9 274.5,595.4 275.5,594.8 276.5,600.3 277.5,601.6 278.5,596.9 279.5,598.3 280.5,597.3 281.5,599.0 282.5,598.9 283.5,602.5 284.5,600.6 285.5,594.7 286.5,600.5 287.5,597.6 288.5,596.1 289.5,595.1 290.5,597.3 291.5,600.0 292.5,598.8 293.5,601.6 294.5,599.1 295.5,597.7 296.5,594.9 297.5,600.0 298.5,601.8 299.5,601.4 300.5,597.1 301.5,595.6 302.5,600.3 303.5,603.5 304.5,595.8 305.5,599.6 306.5,591.2 307.5,601.4 308.5,595.0 309.5,598.5 310.5,596.0 311.5,596.6 312.5,599.2 313.5,596.3 314.5,595.4 315.5,592.0 316.5,594.1 317.5,600.4 318.5,595.7 319.5,592.2 320.5,597.3 321.5,596.9 322.5,600.9 323.5,598.8 324.5,600.5 325.5,596.9 326.5,600.0 327.5,599.7 328.5,601.7 329.5,599.1 330.5,598.9 331.5,601.5 332.5,596.8 333.5,603.0 334.5,597.7 335.5,598.3 336.5,596.2 337.5,593.2 338.5,597.2 339.5,598.5 340.5,600.2 341.5,597.7 342.5,598.4 343.5,600.1 344.5,599.0 345.5,602.2 346.5,592.8 347.5,599.0 348.5,601.4 349.5,597.5 350.5,593.8 351.5,602.1 352.5,596.7 353.5,588.9 354.5,598.2 355.5,599.1 356.5,599.7 357.5,601.3 358.5,598.8 359.5,593.5 360.5,598.3 361.5,598.8 362.5,600.4 363.5,600.6 364.5,597.8 365.5,599.5 366.5,600.7 367.5,600.2 368.5,597.2 369.5,600.8 370.5,598.8 371.5,600.5 372.5,600.1 373.5,601.4 374.5,600.7 375.5,598.8 376.5,600.5 377.5,597.4 378.5,599.3 379.5,598.9 380.5,594.2 381.5,598.8 382.5,595.0 383.5,594.8 384.5,597.7 385.5,598.0 386.5,600.8 387.5,598.0 388.5,599.6 389.5,597.7 390.5,596.8 391.5,597.3 392.5,599.0 393.5,597.0 394.5,600.5 395.5,595.0 396.5,600.0 397.5,596.2 398.5,597.6 399.5,600.1 400.5,597.6 401.5,599.1 402.5,600.7 403.5,597.7 404.5,587.4 405.5,596.8 406.5,596.6 407.5,603.3 408.5,599.6 409.5,599.2 410.5,597.7 411.5,595.7 412.5,591.7 413.5,598.2 414.5,599.0 415.5,595.5 416.5,597.8 417.5,596.9 418.5,595.4 419.5,599.6 420.5,601.6 421.5,595.2 422.5,599.8 423.5,600.5 424.5,597.8 425.5,600.0 426.5,596.7 427.5,596.7 428.5,600.0 429.5,599.0 430.5,597.7 431.5,600.3 432.5,600.0 433.5,598.2 434.5,598.5 435.5,599.5 436.5,596.4 437.5,597.9 438.5,593.9 439.5,595.7 440.5,599.3 441.5,598.1 442.5,596.4 443.5,602.3 444.5,597.2 445.5,603.9 446.5,596.1 447.5,594.2 448.5,602.5 449.5,599.8 450.5,599.2 451.5,598.5 452.5,599.8 453.5,600.1 454.5,600.8 455.5,594.6 456.5,593.7 457.5,599.0 458.5,597.8 459.5,599.1 460.5,602.2 461.5,603.4 462.5,599.7 463.5,599.3 464.5,598.5 465.5,598.7 466.5,598.8 467.5,597.0 468.5,593.3 469.5,600.0 470.5,597.6 471.5,601.7 472.5,598.6 473.5,600.3 474.5,598.3 475.5,594.2 476.5,595.3 477.5,597.5 478.5,597.8 479.5,599.9 480.5,595.2 481.5,596.2 482.5,600.4 483.5,599.6 484.5,599.5 485.5,596.0 486.5,597.1 487.5,600.0 488.5,600.1 489.5,597.0 490.5,600.2 491.5,599.4 492.5,598.9 493.5,598.8 494.5,596.7 495.5,599.7 496.5,599.3 497.5,598.6 498.5,600.7 499.5,596.8 500.5,598.8 501.5,598.6 502.5,599.3 503.5,592.1 504.5,600.3 505.5,600.7 506.5,597.3 507.5,599.4 508.5,599.8 509.5,600.7 510.5,599.7 511.5,601.2 512.5,600.3 513.5,599.1 514.5,600.6 515.5,599.3 516.5,598.8 517.5,598.9 518.5,596.0 519.5,597.6 520.5,601.1 521.5,602.8 522.5,599.0 523.5,597.4 524.5,597.8 525.5,600.3 526.5,596.4 527.5,600.5 528.5,598.5 529.5,600.1 530.5,599.3 531.5,600.0 532.5,599.7 533.5,598.3 534.5,599.6 535.5,595.4 536.5,599.6 537.5,601.3 538.5,602.3 539.5,597.5 540.5,601.6 541.5,602.9 542.5,599.1 543.5,602.4 544.5,599.8 545.5,600.0 546.5,602.1 547.5,598.5 548.5,598.5 549.5,596.4 550.5,593.5 551.5,600.4 552.5,601.7 553.5,602.0 554.5,600.6 555.5,600.2 556.5,599.3 557.5,602.9 558.5,597.3 559.5,600.7 560.5,596.3 561.5,599.4 562.5,593.6 563.5,599.7 564.5,598.8 565.5,599.1 566.5,601.1 567.5,599.0 568.5,600.2 569.5,598.9 570.5,600.7 571.5,599.8 572.5,600.4 573.5,597.4 574.5,599.6 575.5,595.1 576.5,601.2 577.5,599.3 578.5,598.0 579.5,596.4 580.5,594.9 581.5,594.9 582.5,598.5 583.5,595.9 584.5,598.9 585.5,600.3 586.5,601.2 587.5,597.8 588.5,600.0 589.5,597.1 590.5,599.3 591.5,600.6 592.5,602.6 593.5,600.7 594.5,597.3 595.5,601.9 596.5,600.8 597.5,599.0 598.5,600.0 599.5,601.4 600.5,597.1 601.5,599.6 602.5,600.4 603.5,602.0 604.5,600.1 605.5,597.2 606.5,601.2 607.5,597.4 608.5,600.1 609.5,603.9 610.5,598.8 611.5,601.4 612.5,602.0 613.5,599.9 614.5,594.8 615.5,600.3 616.5,598.5 617.5,599.2 618.5,599.4 619.5,599.0 620.5,598.9 621.5,600.3 622.5,600.0 623.5,598.1 624.5,600.1 625.5,598.0 626.5,596.4 627.5,600.9 628.5,597.9 629.5,597.6 630.5,598.5 631.5,599.7 632.5,594.6 633.5,600.6 634.5,598.8 635.5,601.2 636.5,601.8 637.5,601.2 638.5,601.8 639.5,600.6 640.5,599.1 641.5,600.4 642.5,599.2 643.5,599.7 644.5,600.0 645.5,597.5 646.5,601.0 647.5,600.5 648.5,596.9 649.5,596.8 650.5,600.0 651.5,598.9 652.5,600.2 653.5,600.8 654.5,600.6 655.5,600.9 656.5,599.8 657.5,599.0 657.5,606.3 656.5,607.2 655.5,605.8 654.5,606.8 653.5,605.7 652.5,606.8 651.5,605.5 650.5,607.9 649.5,604.1 648.5,607.0 647.5,607.1 646.5,608.6 645.5,605.4 644.5,608.2 643.5,608.0 642.5,605.7 641.5,608.8 640.5,604.7 639.5,606.5 638.5,606.3 637.5,607.5 636.5,606.7 635.5,608.2 634.5,603.9 633.5,605.8 632.5,609.0 631.5,605.4 630.5,609.1 629.5,606.7 628.5,606.3 627.5,605.7 626.5,604.3 625.5,608.0 624.5,606.0 623.5,605.4 622.5,604.2 621.5,606.9 620.5,605.2 619.5,608.3 618.5,607.9 617.5,606.6 616.5,609.5 615.5,607.5 614.5,604.7 613.5,608.7 612.5,607.0 611.5,606.9 610.5,606.9 609.5,609.5 608.5,610.2 607.5,605.5 606.5,606.5 605.5,606.6 604.5,607.2 603.5,606.8 602.5,612.3 601.5,608.0 600.5,607.8 599.5,607.9 598.5,606.1 597.5,606.8 596.5,606.9 595.5,611.3 594.5,606.0 593.5,605.4 592.5,607.1 591.5,609.0 590.5,606.5 589.5,610.5 588.5,605.3 587.5,608.3 586.5,610.9 585.5,605.8 584.5,607.2 583.5,609.8 582.5,606.4 581.5,605.7 580.5,607.5 579.5,604.1 578.5,606.8 577.5,606.7 576.5,606.9 575.5,607.1 574.5,606.5 573.5,609.8 572.5,606.0 571.5,606.3 570.5,607.8 569.5,605.9 568.5,608.4 567.5,606.2 566.5,606.5 565.5,606.5 564.5,604.3 563.5,605.4 562.5,609.3 561.5,605.7 560.5,603.7 559.5,609.4 558.5,605.8 557.5,606.5 556.5,608.2 555.5,606.9 554.5,604.9 553.5,607.5 552.5,607.9 551.5,606.3 550.5,604.1 549.5,607.0 548.5,605.8 547.5,604.0 546.5,607.5 545.5,609.5 544.5,607.2 543.5,605.9 542.5,605.3 541.5,606.4 540.5,607.1 539.5,607.4 538.5,607.3 537.5,606.7 536.5,604.2 535.5,605.6 534.5,606.5 533.5,606.1 532.5,608.3 531.5,605.6 530.5,606.9 529.5,604.2 528.5,606.8 527.5,609.5 526.5,603.9 525.5,607.5 524.5,605.1 523.5,606.4 522.5,608.4 521.5,608.4 520.5,612.5 519.5,607.3 518.5,607.5 517.5,607.7 516.5,606.8 515.5,608.1 514.5,605.9 513.5,606.8 512.5,608.2 511.5,607.4 510.5,609.0 509.5,610.8 508.5,605.8 507.5,608.4 506.5,606.0 505.5,606.8 504.5,607.0 503.5,610.1 502.5,610.0 501.5,611.6 500.5,607.0 499.5,604.5 498.5,609.9 497.5,618.1 496.5,608.7 495.5,606.5 494.5,605.9 493.5,609.6 492.5,608.7 491.5,605.2 490.5,608.6 489.5,608.9 488.5,605.9 487.5,612.5 486.5,609.3 485.5,609.9 484.5,607.8 483.5,605.7 482.5,607.7 481.5,608.1 480.5,610.7 479.5,610.1 478.5,612.3 477.5,608.0 476.5,604.8 475.5,604.6 474.5,606.2 473.5,608.2 472.5,606.8 471.5,606.3 470.5,609.8 469.5,607.0 468.5,607.6 467.5,607.9 466.5,609.8 465.5,609.2 464.5,605.5 463.5,604.5 462.5,607.8 461.5,608.2 460.5,608.6 459.5,610.7 458.5,617.5 457.5,606.9 456.5,609.4 455.5,605.6 454.5,609.7 453.5,606.4 452.5,608.8 451.5,609.1 450.5,608.9 449.5,608.0 448.5,608.4 447.5,609.3 446.5,612.0 445.5,616.2 444.5,610.2 443.5,609.7 442.5,609.6 441.5,608.2 440.5,603.5 439.5,612.2 438.5,606.5 437.5,612.6 436.5,605.5 435.5,608.6 434.5,605.9 433.5,606.3 432.5,607.4 431.5,609.4 430.5,608.6 429.5,609.9 428.5,611.4 427.5,605.8 426.5,608.8 425.5,607.5 424.5,608.5 423.5,609.4 422.5,607.9 421.5,604.6 420.5,608.3 419.5,610.4 418.5,608.6 417.5,610.3 416.5,611.3 415.5,610.8 414.5,608.8 413.5,609.7 412.5,611.0 411.5,608.2 410.5,609.5 409.5,611.2 408.5,608.4 407.5,611.9 406.5,610.0 405.5,611.6 404.5,607.6 403.5,606.8 402.5,609.7 401.5,612.0 400.5,613.9 399.5,607.6 398.5,610.1 397.5,610.1 396.5,608.6 395.5,604.3 394.5,611.4 393.5,611.1 392.5,608.8 391.5,612.3 390.5,607.2 389.5,606.7 388.5,608.0 387.5,612.0 386.5,610.4 385.5,605.4 384.5,610.0 383.5,609.5 382.5,610.4 381.5,608.5 380.5,610.2 379.5,605.9 378.5,609.2 377.5,607.8 376.5,607.9 375.5,605.1 374.5,605.5 373.5,609.5 372.5,609.0 371.5,608.3 370.5,609.9 369.5,606.6 368.5,618.4 367.5,610.6 366.5,612.7 365.5,606.7 364.5,613.5 363.5,609.6 362.5,606.5 361.5,610.7 360.5,611.3 359.5,610.5 358.5,611.4 357.5,610.2 356.5,607.9 355.5,608.0 354.5,608.0 353.5,607.2 352.5,607.6 351.5,610.2 350.5,607.4 349.5,615.4 348.5,610.7 347.5,611.1 346.5,607.2 345.5,610.4 344.5,606.6 343.5,609.6 342.5,611.4 341.5,609.2 340.5,605.3 339.5,605.2 338.5,609.9 337.5,604.7 336.5,610.3 335.5,608.5 334.5,607.0 333.5,611.3 332.5,606.7 331.5,605.6 330.5,606.8 329.5,608.4 328.5,610.6 327.5,610.0 326.5,610.8 325.5,607.2 324.5,606.8 323.5,605.0 322.5,606.4 321.5,608.2 320.5,610.2 319.5,612.2 318.5,608.5 317.5,607.2 316.5,615.9 315.5,610.8 314.5,609.9 313.5,611.1 312.5,605.7 311.5,610.2 310.5,609.4 309.5,607.6 308.5,603.6 307.5,609.1 306.5,616.6 305.5,612.1 304.5,611.4 303.5,612.9 302.5,607.0 301.5,608.6 300.5,604.1 299.5,608.6 298.5,607.4 297.5,607.7 296.5,608.1 295.5,607.6 294.5,614.5 293.5,612.0 292.5,608.5 291.5,611.7 290.5,607.2 289.5,609.8 288.5,604.1 287.5,608.3 286.5,609.9 285.5,607.9 284.5,607.7 283.5,610.1 282.5,607.8 281.5,606.0 280.5,606.3 279.5,614.6 278.5,610.3 277.5,610.5 276.5,607.2 275.5,606.1 274.5,606.4 273.5,610.1 272.5,614.7 271.5,614.8 270.5,606.8 269.5,605.9 268.5,607.7 267.5,608.0 266.5,609.3 265.5,611.0 264.5,604.1 263.5,606.9 262.5,610.4 261.5,607.7 260.5,607.4 259.5,607.8 258.5,607.8 257.5,610.6 256.5,609.2 255.5,611.0 254.5,607.3 253.5,606.0 252.5,607.2 251.5,607.2 250.5,612.3 249.5,605.8 248.5,609.8 247.5,606.1 246.5,605.4 245.5,607.7 244.5,607.7 243.5,610.6 242.5,614.6 241.5,607.3 240.5,606.8 239.5,609.5 238.5,609.2 237.5,609.2 236.5,606.8 235.5,610.1 234.5,610.7 233.5,606.8 232.5,606.6 231.5,610.1 230.5,604.0 229.5,610.2 228.5,607.0 227.5,607.9 226.5,607.8 225.5,607.3 224.5,605.6 223.5,610.7 222.5,607.6 221.5,609.7 220.5,607.3 219.5,610.2 218.5,605.3 217.5,608.0 216.5,607.8 215.5,605.1 214.5,605.0 213.5,604.7 212.5,605.6 211.5,604.1 210.5,604.5 209.5,605.2 208.5,606.0 207.5,605.3 206.5,604.6 205.5,604.5 204.5,604.1 203.5,604.6 202.5,604.7 201.5,603.8 200.5,603.6 199.5,604.8 198.5,604.3 197.5,604.9 196.5,605.2 195.5,604.8 194.5,603.6 193.5,605.3 192.5,605.0 191.5,605.0 190.5,604.7 189.5,603.9 188.5,605.1 187.5,604.6 186.5,605.7 185.5,604.1 184.5,604.6" fill="#0000ff"/><path transform="translate(184.0 603.50) scale(0.071439 0.1)" vector-effect="non-scaling-stroke" d="M0 0l1 2 1 -3 1 -6 1 30 1 -29 1 -2 1 20 1 -23 1 -15 1 39 1 -29 1 -8 1 29 1 -24 1 24 1 -15 1 7 1 6 1 -26 1 15 1 10 1 4 1 -14 1 -17 1 42 1 2 1 -22 1 13 1 -9 1 21 1 -38 1 43 1 -22 1 -9 1 -8 1 1 1 31 1 -18 1 -23 1 16 1 48 1 -33 1 -15 1 -14 1 10 1 20 1 3 1 -6 1 -14 1 0 1 31 1 -60 1 21 1 -5 1 7 1 34 1 -10 1 -21 1 25 1 0 1 -19 1 -9 1 2 1 -3 1 -5 1 21 1 -3 1 -8 1 23 1 -56 1 4 1 33 1 11 1 -20 1 17 1 -5 1 -11 1 10 1 -19 1 14 1 -5 1 24 1 -11 1 1 1 2 1 -3 1 14 1 -9 1 -4 1 7 1 14 1 -28 1 1 1 1 1 3 1 13 1 -4 1 -23 1 37 1 -30 1 1 1 -14 1 1 1 30 1 4 1 -23 1 -9 1 18 1 -20 1 43 1 -16 1 -4 1 12 1 -20 1 -15 1 22 1 -4 1 -18 1 30 1 1 1 3 1 -30 1 29 1 -7 1 37 1 -29 1 10 1 16 1 -38 1 -1 1 -3 1 -14 1 21 1 -5 1 18 1 -8 1 -35 1 19 1 -31 1 25 1 6 1 -31 1 0 1 33 1 -26 1 -6 1 37 1 -15 1 31 1 -27 1 -9 1 19 1 -16 1 -2 1 6 1 11 1 3 1 7 1 -21 1 34 1 -8 1 -20 1 7 1 -4 1 16 1 -4 1 -13 1 26 1 5 1 -40 1 27 1 -16 1 18 1 -18 1 7 1 -19 1 8 1 4 1 3 1 0 1 -5 1 -4 1 17 1 -11 1 0 1 -43 1 65 1 -29 1 31 1 -13 1 5 1 -34 1 -6 1 28 1 -18 1 31 1 -10 1 -4 1 -4 1 13 1 -44 1 40 1 -8 1 8 1 1 1 -31 1 17 1 12 1 -16 1 21 1 -15 1 2 1 11 1 25 1 -42 1 3 1 19 1 -1 1 -29 1 19 1 3 1 -15 1 12 1 -18 1 15 1 -12 1 -4 1 -2 1 -10 1 41 1 -11 1 -3 1 37 1 -45 1 9 1 -6 1 -23 1 26 1 7 1 -22 1 15 1 13 1 33 1 -62 1 10 1 -6 1 -13 1 -10 1 25 1 10 1 -2 1 34 1 -38 1 10 1 15 1 -22 1 18 1 -29 1 11 1 4 1 3 1 -12 1 9 1 3 1 11 1 -13 1 -4 1 18 1 -23 1 13 1 10 1 -21 1 2 1 4 1 -10 1 6 1 29 1 -43 1 16 1 9 1 -22 1 44 1 -31 1 10 1 -16 1 -6 1 33 1 -56 1 26 1 13 1 -27 1 21 1 -11 1 13 1 0 1 -5 1 10 1 -1 1 -12 1 13 1 9 1 6 1 -10 1 -12 1 13 1 23 1 -27 1 -13 1 33 1 -18 1 -21 1 28 1 -12 1 -11 1 13 1 1 1 5 1 -6 1 -2 1 14 1 -19 1 -1 1 -17 1 13 1 -20 1 48 1 -14 1 21 1 -27 1 3 1 35 1 -60 1 41 1 -24 1 7 1 -18 1 43 1 -42 1 30 1 -39 1 60 1 -59 1 46 1 -19 1 18 1 -14 1 -21 1 40 1 -1 1 -4 1 -4 1 -16 1 -12 1 60 1 -58 1 20 1 -14 1 19 1 -10 1 13 1 -6 1 -8 1 5 1 -27 1 19 1 -11 1 3 1 -12 1 30 1 -8 1 -19 1 10 1 13 1 13 1 -30 1 54 1 -73 1 30 1 7 1 -19 1 -7 1 16 1 0 1 -7 1 -11 1 17 1 -30 1 43 1 -20 1 20 1 -28 1 -5 1 26 1 33 1 -31 1 -20 1 9 1 -17 1 14 1 34 1 -33 1 15 1 -9 1 36 1 -32 1 -23 1 28 1 -6 1 4 1 8 1 -18 1 -12 1 13 1 5 1 -16 1 37 1 10 1 -48 1 14 1 6 1 -32 1 29 1 0 1 -37 1 50 1 -53 1 55 1 20 1 -27 1 -12 1 13 1 -1 1 71 1 -102 1 63 1 -86 1 26 1 32 1 13 1 -64 1 -12 1 49 1 18 1 -36 1 29 1 -5 1 -15 1 -22 1 -25 1 57 1 -19 1 27 1 -13 1 -50 1 70 1 1 1 -25 1 78 1 23 1 -42 1 -76 1 67 1 -59 1 10 1 32 1 -19 1 -16 1 -18 1 47 1 28 1 20 1 -17 1 -95 1 13 1 49 1 -3 1 -32 1 1 1 3 1 -4 1 -14 1 33 1 -19 1 23 1 -118 1 142 1 -8 1 45 1 -121 1 93 1 -18 1 -17 1 68 1 -29 1 -21 1 -34 1 70 1 -33 1 -46 1 107 1 -68 1 57 1 -117 1 4 1 42 1 37 1 -41 1 -44 1 62 1 -1 1 -34 1 52 1 -162 1 113 1 -8 1 84 1 20 1 -67 1 15 1 -88 1 27 1 104 1 -61 1 104 1 -40 1 -91 1 23 1 -9 1 10 1 9 1 10 1 16 1 -24 1 -21 1 -57 1 133 1 -44 1 -8 1 -85 1 10 1 35 1 -24 1 81 1 -4 1 44 1 -71 1 36 1 -36 1 -27 1 106 1 -84 1 -43 1 -13 1 98 1 88 1 -118 1 -32 1 97 1 -110 1 158 1 -165 1 -29 1 22 1 37 1 109 1 -85 1 -20 1 -6 1 -31 1 52 1 11 1 -43 1 -3 1 101 1 -85 1 -26 1 78 1 -27 1 24 1 -48 1 12 1 12 1 -97 1 18 1 87 1 -63 1 50 1 79 1 -44 1 -17 1 -54 1 26 1 -36 1 8 1 87 1 -57 1 1 1 -21 1 15 1 -28 1 1 1 93 1 62 1 -99 1 -2 1 -78 1 85 1 14 1 -30 1 -40 1 -55 1 11 1 81 1 4 1 -35 1 59 1 -41 1 -31 1 -35 1 -98 1 136 1 63 1 128 1 -325 1 132 1 51 1 -2 1 -41 1 51 1 57 1 -96 1 -58 1 139 1 -101 1 51 1 23 1 -134 1 137 1 -45 1 -44 1 137 1 -118 1 55 1 -79 1 67 1 -21 1 36 1 -34 1 -81 1 3 1 78 1 -46 1 50 1 -60 1 13 1 -86 1 19 1 -35 1 108 1 -28 1 52 1 -15 1 49 1 1 1 97 1 39 1 -169 1 62 1 -112 1 129 1 -120 1 80 1 7 1 -62 1 -35 1 93 1 -31 1 -65 1 -25 1 103 1 -33 1 50 1 -86 1 10 1 41 1 137 1 -106 1 -9 1 -42 1 25 1 -63 1 6 1 -81 1 170 1 49 1 -73 1 -43 1 17 1 -58 1 -9 1 99 1 46 1 -30 1 23 1 24 1 -47 1 95 1 -82 1 30 1 -163 1 106 1 -151 1 101 1 21 1 -23 1 76 1 -39 1 153 1 -97 1 -119 1 90 1 -64 1 154 1 -184 1 -41 1 65 1 108 1 -58 1 -19 1 -16 1 -86 1 143 1 -86 1 44 1 -9 1 53 1 91 1 -74 1 -25 1 -72 1 7 1 95 1 -73 1 48 1 27 1 -64 1 -42 1 5 1 100 1 -37 1 -68 1 -35 1 29 1 70 1 92 1 -15 1 -101 1 -21 1 35 1 -3 1 -76 1 17 1 20 1 46 1 -56 1 87 1 20 1 -200 1 256 1 -170 1 40 1 -117 1 191 1 -65 1 19 1 -86 1 77 1 -67 1 164 1 -122 1 77 1 -166 1 262 1 -188 1 -3 1 -95 1 120 1 47 1 -248 1 97 1 143 1 -66 1 -35 1 128 1 -67 1 -144 1 391 1 -129 1 -176 1 28 1 46 1 -39 1 39 1 -54 1 -61 1 87 1 15 1 145 1 -88 1 -45 1 -84 1 33 1 145 1 -174 1 201 1 -137 1 196 1 -68 1 -165 1 106 1 -48 1 60 1 -113 1 -33 1 28 1 67 1 -21 1 -13 1 -6 1 81 1 18 1 15 1 -5 1 -138 1 88 1 -143 1 160 1 -152 1 122 1 -42 1 -14 1 -30 1 16 1 102 1 -47 1 -61 1 37 1 30 1 -74 1 106 1 -43 1 29 1 37 1 26 1 -125 1 17 1 58 1 -13 1 -19 1 -50 1 -17 1 34 1 56 1 -101 1 43 1 83 1 -221 1 141 1 -81 1 85 1 2 1 -73 1 91 1 15 1 55 1 -106 1 -11 1 17 1 58 1 -76 1 60 1 -78 1 64 1 -6 1 -106 1 172 1 -86 1 -5 1 60 1 -23 1 -50 1 -65 1 105 1 8 1 84 1 28 1 -115 1 3 1 -86 1 74 1 87 1 -122 1 35 1 13 1 -59 1 -1 1 131 1 -104 1 -107 1 103 1 57 1 2 1 43 1 -114 1 -65 1 95 1 -12 1 -80 1 45 1 68 1 -47 1 -98 1 102 1 -156 1 217 1 -3 1 34 1 -26 1 29 1 -25 1 -109 1 40 1 16 1 218 1 -105 1 56 1 -153 1 23 1 -90 1 175 1 -156 1 89 1 36 1 -162 1 112 1 -113 1 25 1 47 1 23 1 -62 1 75 1 13 1 18 1 -187 1 131 1 -2 1 -58 1 97 1 5 1 -134 1 144 1 -121 1 91 1 -185 1 124 1 56 1 -24 1 37 1 41 1 -70 1 16 1 -45 1 96 1 -45 1 -63 1 -31 1 79 1 -12 1 -6 1 21 1 -97 1 123 1 6 1 -78 1 -15 1 95 1 -203 1 103 1 6 1 -5 1 85 1 -22 1 67 1 -140 1 101 1 79 1 -113 1 -35 1 -89 1 100 1 77 1 -173 1 188 1 -86 1 2 1 95 1 24 1 -101 1 -76 1 116 1 -124 1 56 1 24 1 -38 1 31 1 -27 1 117 1 -16 1 -89 1 22 1 65 1 -11 1 21 1 -115 1 55 1 -110 1 184 1 21 1 -41 1 -58 1 -99 1 132 1 -99 1 -35 1 127 1 -21 1 46 1 -155 1 52 1 77 1 13 1 114 1 -148 1 -13 1 -117 1 47 1 79 1 -207 1 198 1 -53 1 -34 1 107 1 15 1 -46 1 21 1 20 1 131 1 -99 1 -51 1 -8 1 -44 1 87 1 -74 1 -3 1 -26 1 35 1 -24 1 52 1 -33 1 95 1 -9 1 -48 1 -159 1 84 1 40 1 72 1 -73 1 -8 1 -7 1 91 1 -63 1 -36 1 -50 1 185 1 -65 1 -40 1 24 1 11 1 27 1 -103 1 100 1 36 1 -103 1 -125 1 223 1 -62 1 89 1 -38 1 -64 1 2 1 -25 1 -1 1 63 1 10 1 -221 1 175 1 148 1 -186 1 74 1 -122 1 52 1 27 1 38 1 -19 1 -46 1 19 1 124 1 -80 1 -24 1 -5 1 -97 1 87 1 -57 1 45 1 20 1 -69 1 56 1 5 1 30 1 51 1 -67 1 2 1 1 1 76 1 -42 1 9 1 -24 1 9 1 -67 1 -6 1 83 1 57 1 -145 1 49 1 123 1 -217 1 79 1 88 1 -72 1 -37 1 -1 1 27 1 -11 1 18 1 -30 1 39 1 -28 1 81 1 -26 1 -85 1 122 1 -131 1 -13 1 174 1 -161 1 103 1 -29 1 -23 1 6 1 29 1 -35 1 44 1 18 1 -58 1 -34 1 56 1 16 1 12 1 -14 1 8 1 -26 1 -64 1 58 1 -41 1 53 1 -39 1 -23 1 68 1 26 1 -144 1 64 1 26 1 15 1 -96 1 35 1 12 1 149 1 -124 1 26 1 -119 1 74 1 54 1 -1 1 -25 1 -17 1 20 1 -12 1 19 1 27 1 -65 1 76 1 -107 1 12 1 -26 1 122 1 -152 1 -61 1 93 1 67 1 -57 1 188 1 -94 1 -4 1 18 1 61 1 -114 1 119 1 -173 1 84 1 131 1 -114 1 -25 1 14 1 54 1 -58 1 25 1 34 1 -163 1 174 1 -89 1 -15 1 36 1 87 1 70 1 33 1 -307 1 97 1 112 1 -65 1 -17 1 30 1 -21 1 -43 1 -9 1 194 1 -231 1 8 1 -4 1 26 1 127 1 -119 1 -80 1 65 1 -19 1 -40 1 49 1 -7 1 71 1 61 1 -113 1 18 1 -143 1 40 1 -54 1 148 1 34 1 -115 1 259 1 -160 1 -18 1 -7 1 -62 1 97 1 -105 1 86 1 -180 1 220 1 -22 1 -53 1 33 1 23 1 25 1 -95 1 16 1 30 1 -48 1 87 1 6 1 -44 1 27 1 6 1 -38 1 -2 1 -28 1 48 1 -36 1 100 1 -163 1 95 1 30 1 56 1 -24 1 -60 1 45 1 12 1 3 1 -108 1 95 1 -165 1 143 1 -84 1 -23 1 85 1 -35 1 169 1 -225 1 134 1 81 1 -137 1 -97 1 98 1 -59 1 145 1 20 1 -44 1 -123 1 171 1 -125 1 171 1 -191 1 198 1 -162 1 54 1 -25 1 22 1 -41 1 -15 1 -1 1 -58 1 -5 1 56 1 -99 1 55 1 87 1 -95 1 18 1 45 1 -4 1 -53 1 174 1 -111 1 -27 1 40 1 -24 1 -28 1 45 1 -40 1 53 1 -74 1 87 1 -125 1 94 1 4 1 -5 1 37 1 -42 1 -83 1 -33 1 125 1 -58 1 91 1 -59 1 54 1 -81 1 97 1 1 1 -53 1 19 1 86 1 -92 1 -149 1 121 1 80 1 -69 1 54 1 -47 1 73 1 -67 1 -59 1 80 1 -130 1 95 1 23 1 15 1 -41 1 -25 1 74 1 30 1 -87 1 -75 1 61 1 75 1 -58 1 -29 1 98 1 -80 1 70 1 -149 1 181 1 -179 1 46 1 67 1 -132 1 121 1 19 1 -24 1 18 1 -154 1 267 1 -69 1 -67 1 19 1 -56 1 75 1 -3 1 10 1 81 1 -148 1 -3 1 95 1 -42 1 -58 1 85 1 -5 1 -103 1 35 1 -38 1 67 1 -32 1 -58 1 105 1 51 1 -39 1 56 1 -147 1 -57 1 172 1 -75 1 -70 1 104 1 -28 1 1 1 -40 1 62 1 -89 1 68 1 -22 1 0 1 -1 1 5 1 81 1 -142 1 155 1 -44 1 -119 1 140 1 -37 1 108 1 -174 1 -59 1 122 1 68 1 -27 1 21 1 -16 1 -52 1 -64 1 58 1 47 1 -41 1 -66 1 57 1 -27 1 76 1 -107 1 57 1 51 1 117 1 -34 1 -36 1 -139 1 19 1 93 1 -19 1 -48 1 1 1 14 1 66 1 -135 1 36 1 48 1 4 1 -63 1 68 1 -84 1 109 1 -100 1 -52 1 51 1 98 1 -61 1 20 1 97 1 -64 1 -6 1 5 1 -117 1 158 1 -105 1 221 1 -167 1 -91 1 54 1 74 1 70 1 -117 1 25 1 -39 1 77 1 -46 1 21 1 61 1 -120 1 70 1 -162 1 110 1 -69 1 195 1 -228 1 129 1 -70 1 30 1 119 1 -147 1 75 1 -120 1 82 1 176 1 -227 1 8 1 72 1 -67 1 3 1 -42 1 89 1 -78 1 -9 1 0 1 -23 1 75 1 66 1 56 1 -200 1 61 1 -95 1 59 1 55 1 -112 1 169 1 -22 1 -51 1 -24 1 109 1 -76 1 90 1 -101 1 70 1 -18 1 -54 1 -3 1 -8 1 60 1 -66 1 58 1 -40 1 44 1 4 1 17 1 -15 1 -38 1 -46 1 29 1 57 1 -42 1 62 1 37 1 -50 1 -29 1 -22 1 -100 1 77 1 40 1 28 1 -50 1 105 1 -31 1 -19 1 -21 1 69 1 -98 1 4 1 59 1 -13 1 -89 1 1 1 -28 1 72 1 -54 1 73 1 28 1 -26 1 -38 1 -32 1 55 1 -106 1 111 1 -30 1 -79 1 132 1 -106 1 43 1 50 1 85 1 -65 1 -25 1 51 1 -55 1 90 1 -86 1 -70 1 -18 1 120 1 -39 1 -148 1 177 1 -6 1 19 1 -36 1 -11 1 -32 1 86 1 -36 1 -79 1 86 1 6 1 -73 1 107 1 6 1 -6 1 -60 1 60 1 81 1 -182 1 145 1 -63 1 -29 1 51 1 -20 1 123 1 -159 1 -83 1 166 1 -42 1 -120 1 -52 1 37 1 58 1 26 1 115 1 -154 1 86 1 54 1 -161 1 214 1 -50 1 7 1 -100 1 -8 1 -75 1 11 1 50 1 -24 1 81 1 -14 1 -61 1 0 1 54 1 109 1 -256 1 -63 1 202 1 144 1 17 1 -322 1 42 1 52 1 7 1 73 1 106 1 -45 1 -187 1 185 1 -109 1 24 1 12 1 22 1 -37 1 -29 1 82 1 -20 1 28 1 -5 1 6 1 -188 1 124 1 -53 1 -69 1 131 1 -10 1 -58 1 -22 1 82 1 -16 1 -58 1 82 1 -54 1 40 1 -84 1 202 1 -170 1 90 1 -59 1 53 1 -26 1 49 1 45 1 -103 1 68 1 -83 1 -26 1 -14 1 40 1 52 1 13 1 -79 1 52 1 -91 1 86 1 -95 1 84 1 -93 1 174 1 17 1 -26 1 -111 1 74 1 -37 1 -64 1 -26 1 168 1 -109 1 -52 1 60 1 166 1 -129 1 91 1 -92 1 -14 1 0 1 -45 1 114 1 -100 1 108 1 -60 1 19 1 -19 1 -69 1 66 1 -32 1 11 1 -27 1 39 1 10 1 46 1 -114 1 23 1 -59 1 176 1 138 1 -145 1 -161 1 136 1 -6 1 100 1 -116 1 -16 1 -84 1 23 1 116 1 -41 1 -39 1 66 1 -132 1 152 1 -151 1 49 1 2 1 111 1 30 1 -103 1 -9 1 -68 1 -20 1 -14 1 213 1 -134 1 -92 1 -116 1 227 1 118 1 -79 1 46 1 -75 1 -102 1 80 1 -100 1 172 1 83 1 -93 1 -194 1 200 1 -24 1 142 1 -33 1 -238 1 169 1 -107 1 128 1 -223 1 78 1 45 1 57 1 -184 1 148 1 28 1 35 1 -93 1 19 1 -134 1 105 1 29 1 1 1 40 1 -12 1 -7 1 -24 1 -65 1 -18 1 -1 1 166 1 -156 1 58 1 -17 1 90 1 -66 1 135 1 -163 1 87 1 -4 1 -190 1 98 1 129 1 171 1 -313 1 107 1 56 1 -120 1 -82 1 -151 1 188 1 157 1 -56 1 -149 1 122 1 121 1 -184 1 74 1 54 1 -64 1 105 1 -176 1 -21 1 7 1 125 1 -3 1 3 1 -96 1 -23 1 -10 1 144 1 -60 1 6 1 128 1 -153 1 48 1 -6 1 -72 1 96 1 -176 1 163 1 -66 1 51 1 -11 1 -37 1 50 1 -130 1 101 1 -71 1 121 1 -16 1 0 1 -29 1 29 1 13 1 -68 1 -27 1 37 1 32 1 -75 1 37 1 29 1 25 1 -57 1 53 1 -53 1 30 1 -88 1 89 1 5 1 -28 1 -11 1 66 1 -9 1 -23 1 -83 1 98 1 7 1 -11 1 -23 1 -25 1 160 1 -200 1 105 1 -139 1 56 1 54 1 49 1 -15 1 -84 1 -105 1 125 1 53 1 -79 1 -19 1 93 1 8 1 40 1 -25 1 32 1 -36 1 -79 1 11 1 22 1 57 1 -162 1 188 1 -48 1 52 1 -88 1 44 1 -124 1 258 1 -120 1 -45 1 21 1 -67 1 -109 1 215 1 -80 1 130 1 -120 1 -33 1 -17 1 95 1 -28 1 40 1 -74 1 142 1 -16 1 -119 1 -88 1 37 1 90 1 -37 1 83 1 -8 1 -41 1 -13 1 -26 1 -23 1 116 1 -87 1 -29 1 -6 1 61 1 -3 1 -101 1 142 1 -31 1 87 1 -226 1 96 1 -25 1 77 1 -1 1 -80 1 58 1 -9 1 86 1 -100 1 19 1 98 1 -109 1 -32 1 -32 1 56 1 -37 1 27 1 59 1 -83 1 43 1 -4 1 9 1 22 1 -13 1 3 1 -23 1 -44 1 61 1 131 1 -135 1 -84 1 137 1 -130 1 67 1 3 1 -37 1 39 1 -53 1 -16 1 60 1 185 1 -158 1 21 1 -35 1 78 1 -43 1 0 1 19 1 -64 1 -2 1 15 1 116 1 -128 1 141 1 -120 1 8 1 -22 1 71 1 -108 1 -37 1 153 1 -102 1 -91 1 103 1 52 1 -93 1 -7 1 71 1 -39 1 14 1 -3 1 78 1 32 1 -179 1 113 1 28 1 29 1 -167 1 59 1 -21 1 46 1 -56 1 30 1 52 1 -34 1 5 1 2 1 -118 1 118 1 21 1 187 1 -282 1 161 1 -11 1 -41 1 -147 1 41 1 5 1 56 1 7 1 -204 1 218 1 1 1 -95 1 44 1 44 1 -121 1 7 1 75 1 12 1 126 1 26 1 -120 1 -22 1 197 1 -237 1 89 1 -140 1 35 1 133 1 53 1 -64 1 -149 1 93 1 -21 1 14 1 55 1 -55 1 26 1 -56 1 16 1 53 1 -20 1 5 1 -60 1 -22 1 14 1 123 1 -56 1 -8 1 -41 1 -27 1 88 1 -130 1 87 1 -18 1 -5 1 20 1 26 1 30 1 -16 1 -50 1 0 1 29 1 0 1 -10 1 90 1 -22 1 -38 1 -101 1 21 1 134 1 -123 1 7 1 88 1 -27 1 34 1 -7 1 -115 1 119 1 87 1 -202 1 49 1 -6 1 87 1 32 1 -48 1 -147 1 65 1 49 1 -71 1 134 1 -49 1 46 1 -93 1 28 1 -29 1 -86 1 174 1 -46 1 -52 1 20 1 -28 1 27 1 -48 1 149 1 -16 1 -50 1 -61 1 117 1 -130 1 26 1 -2 1 33 1 103 1 -185 1 79 1 27 1 -17 1 -76 1 85 1 -1 1 -24 1 3 1 2 1 48 1 -55 1 140 1 -93 1 -126 1 175 1 -104 1 -4 1 -56 1 100 1 43 1 -42 1 -54 1 -4 1 -104 1 169 1 10 1 -59 1 -14 1 51 1 -37 1 -61 1 127 1 -171 1 -54 1 247 1 10 1 -90 1 -21 1 97 1 -30 1 -58 1 30 1 -51 1 -32 1 163 1 -180 1 38 1 120 1 6 1 -48 1 -24 1 17 1 64 1 -79 1 2 1 -45 1 131 1 -68 1 -58 1 76 1 -247 1 234 1 -38 1 -66 1 102 1 -52 1 126 1 17 1 -94 1 194 1 -62 1 -285 1 125 1 -108 1 191 1 -109 1 11 1 -47 1 82 1 -230 1 63 1 123 1 -12 1 -70 1 208 1 -59 1 -110 1 3 1 122 1 -97 1 -20 1 43 1 4 1 22 1 45 1 -27 1 -9 1 -3 1 68 1 -16 1 -11 1 -39 1 112 1 -197 1 -99 1 329 1 -195 1 31 1 -69 1 -73 1 145 1 -68 1 98 1 -70 1 81 1 -96 1 33 1 126 1 -230 1 130 1 -182 1 147 1 -24 1 104 1 -203 1 299 1 -109 1 -6 1 -30 1 -194 1 185 1 24 1 -158 1 135 1 3 1 -88 1 38 1 81 1 -82 1 102 1 -23 1 -32 1 -5 1 14 1 123 1 -48 1 -92 1 34 1 -6 1 -23 1 61 1 13 1 -100 1 33 1 -63 1 55 1 -37 1 103 1 -60 1 -63 1 190 1 -138 1 -54 1 57 1 86 1 -46 1 -73 1 33 1 17 1 41 1 -138 1 106 1 22 1 -9 1 -11 1 -43 1 98 1 -15 1 85 1 -96 1 -35 1 -34 1 11 1 -17 1 167 1 -153 1 34 1 -12 1 79 1 -133 1 -63 1 233 1 -69 1 -59 1 -45 1 144 1 -120 1 -1 1 76 1 -31 1 -3 1 -56 1 125 1 29 1 -95 1 72 1 -72 1 -55 1 -68 1 45 1 -96 1 0 1 80 1 34 1 53 1 -25 1 -46 1 -88 1 147 1 22 1 78 1 2 1 -66 1 50 1 -230 1 181 1 23 1 -46 1 -29 1 0 1 -65 1 87 1 35 1 -9 1 -36 1 84 1 -114 1 24 1 107 1 -112 1 131 1 -190 1 25 1 96 1 16 1 -57 1 162 1 -142 1 -31 1 -41 1 77 1 -7 1 -47 1 45 1 -118 1 81 1 46 1 -63 1 119 1 -165 1 49 1 48 1 -17 1 -14 1 43 1 -89 1 49 1 192 1 -166 1 40 1 6 1 -86 1 223 1 -86 1 -7 1 -170 1 80 1 25 1 -109 1 87 1 -53 1 80 1 -25 1 -119 1 175 1 -25 1 -128 1 127 1 -19 1 -25 1 24 1 14 1 -13 1 -18 1 -50 1 55 1 11 1 -38 1 -100 1 67 1 48 1 -46 1 7 1 133 1 -128 1 -1 1 72 1 -15 1 13 1 52 1 42 1 -50 1 -95 1 23 1 -82 1 173 1 -72 1 45 1 -37 1 -127 1 133 1 -19 1 20 1 -22 1 -7 1 80 1 -64 1 -82 1 233 1 -151 1 -76 1 -9 1 126 1 -161 1 254 1 -235 1 -13 1 75 1 1 1 -17 1 212 1 -234 1 43 1 97 1 -21 1 -69 1 10 1 -114 1 108 1 1 1 19 1 -75 1 66 1 -52 1 11 1 46 1 -30 1 156 1 -81 1 13 1 -124 1 9 1 -13 1 45 1 -52 1 80 1 -63 1 -108 1 5 1 156 1 -52 1 54 1 -35 1 -16 1 56 1 -109 1 98 1 76 1 -232 1 162 1 46 1 -78 1 63 1 -39 1 14 1 -42 1 17 1 10 1 51 1 49 1 -78 1 -64 1 60 1 -67 1 64 1 -77 1 10 1 98 1 -81 1 23 1 66 1 -59 1 -71 1 77 1 57 1 -192 1 150 1 -47 1 14 1 153 1 -170 1 49 1 -23 1 83 1 -71 1 -4 1 -80 1 52 1 22 1 -2 1 43 1 -116 1 82 1 5 1 -51 1 17 1 139 1 -180 1 20 1 -22 1 101 1 -67 1 -25 1 32 1 -2 1 -27 1 42 1 -6 1 1 1 29 1 113 1 -148 1 58 1 -76 1 14 1 35 1 -40 1 122 1 -196 1 -33 1 156 1 -36 1 54 1 -67 1 29 1 -50 1 100 1 -85 1 73 1 -53 1 -47 1 97 1 -16 1 -115 1 22 1 169 1 -163 1 30 1 41 1 4 1 -20 1 20 1 48 1 -18 1 -165 1 143 1 50 1 -113 1 0 1 9 1 109 1 -158 1 85 1 8 1 -151 1 186 1 -81 1 44 1 -70 1 92 1 -3 1 -77 1 24 1 25 1 -8 1 -24 1 -10 1 60 1 59 1 -108 1 82 1 -32 1 -58 1 110 1 -191 1 128 1 -66 1 -170 1 126 1 188 1 -211 1 79 1 96 1 -62 1 50 1 0 1 -53 1 -32 1 97 1 16 1 -206 1 149 1 47 1 -18 1 -168 1 179 1 -82 1 53 1 29 1 51 1 -359 1 173 1 160 1 -98 1 98 1 -119 1 58 1 -93 1 -176 1 312 1 -108 1 -36 1 -71 1 214 1 24 1 121 1 -284 1 43 1 2 1 100 1 -102 1 0 1 -60 1 145 1 -100 1 60 1 161 1 -125 1 -115 1 159 1 -137 1 17 1 52 1 35 1 -109 1 126 1 -136 1 74 1 -19 1 -44 1 7 1 36 1 -3 1 -7 1 -2 1 9 1 -43 1 125 1 -25 1 -18 1 -38 1 49 1 -61 1 123 1 -52 1 -22 1 -71 1 78 1 -6 1 54 1 -119 1 86 1 58 1 -127 1 103 1 -40 1 -2 1 -119 1 217 1 -96 1 -205 1 263 1 -8 1 -65 1 -6 1 49 1 -138 1 122 1 -84 1 54 1 72 1 -130 1 60 1 30 1 -132 1 -9 1 58 1 176 1 -148 1 16 1 2 1 -52 1 9 1 3 1 59 1 -6 1 -85 1 178 1 -59 1 -133 1 39 1 -24 1 65 1 -71 1 39 1 42 1 -55 1 29 1 -69 1 2 1 127 1 -58 1 6 1 -2 1 -1 1 -19 1 -55 1 75 1 100 1 -51 1 31 1 15 1 -148 1 -22 1 122 1 -35 1 -9 1 -32 1 213 1 -197 1 106 1 -154 1 43 1 -52 1 46 1 11 1 -34 1 51 1 15 1 -1 1 14 1 41 1 -207 1 184 1 7 1 -77 1 99 1 -174 1 131 1 -10 1 44 1 -119 1 75 1 54 1 -68 1 74 1 -152 1 40 1 -88 1 204 1 -121 1 -43 1 46 1 119 1 -83 1 59 1 -35 1 76 1 -116 1 -51 1 124 1 -116 1 65 1 -42 1 112 1 -45 1 -151 1 24 1 99 1 -74 1 263 1 -96 1 -158 1 -10 1 41 1 19 1 -97 1 38 1 71 1 -73 1 119 1 -45 1 41 1 -152 1 188 1 -47 1 0 1 38 1 -57 1 19 1 -38 1 -51 1 60 1 -52 1 -68 1 49 1 56 1 5 1 -62 1 136 1 -206 1 92 1 89 1 11 1 9 1 -103 1 115 1 -154 1 103 1 -89 1 140 1 -25 1 -106 1 4 1 -26 1 13 1 47 1 83 1 -76 1 197 1 -171 1 25 1 45 1 -75 1 -28 1 55 1 -19 1 -79 1 -32 1 155 1 -75 1 16 1 -46 1 59 1 2 1 18 1 -38 1 -113 1 53 1 -50 1 226 1 -20 1 -158 1 158 1 -70 1 78 1 -69 1 26 1 128 1 -145 1 -43 1 -53 1 54 1 -101 1 144 1 -57 1 72 1 99 1 -148 1 83 1 -144 1 18 1 57 1 64 1 34 1 -75 1 97 1 -180 1 12 1 76 1 -12 1 -122 1 49 1 40 1 53 1 -83 1 48 1 -26 1 -121 1 116 1 -12 1 124 1 -169 1 35 1 37 1 68 1 -45 1 -51 1 43 1 -21 1 -54 1 -137 1 194 1 -157 1 100 1 126 1 -155 1 98 1 -195 1 163 1 35 1 -6 1 -187 1 214 1 -209 1 398 1 -145 1 -85 1 -19 1 -62 1 159 1 -2 1 -108 1 104 1 -14 1 -170 1 121 1 139 1 -87 1 -185 1 75 1 -23 1 75 1 -45 1 81 1 76 1 -185 1 -57 1 -130 1 184 1 184 1 -44 1 -54 1 -65 1 154 1 -68 1 46 1 -57 1 57 1 132 1 -218 1 31 1 -29 1 8 1 -48 1 110 1 -42 1 -157 1 107 1 -43 1 24 1 68 1 -37 1 60 1 52 1 -143 1 11 1 225 1 -147 1 -63 1 27 1 -19 1 65 1 -101 1 132 1 -30 1 -57 1 -3 1 5 1 -21 1 99 1 68 1 -202 1 81 1 -77 1 9 1 -23 1 48 1 63 1 27 1 -39 1 27 1 -23 1 100 1 -183 1 -70 1 52 1 13 1 61 1 -65 1 -85 1 10 1 200 1 5 1 -34 1 -123 1 106 1 -76 1 9 1 55 1 -35 1 63 1 3 1 -123 1 50 1 -139 1 86 1 41 1 99 1 69 1 -55 1 -82 1 -6 1 -116 1 -87 1 274 1 14 1 48 1 -115 1 68 1 58 1 -67 1 -118 1 58 1 -65 1 46 1 69 1 -43 1 -11 1 -56 1 85 1 -79 1 58 1 -55 1 16 1 182 1 -162 1 5 1 68 1 -115 1 133 1 -131 1 44 1 26 1 -7 1 -53 1 -87 1 109 1 -98 1 212 1 -19 1 -158 1 59 1 17 1 65 1 19 1 -150 1 13 1 38 1 61 1 50 1 -130 1 95 1 27 1 -190 1 171 1 -72 1 1 1 -54 1 268 1 -240 1 -84 1 109 1 -7 1 76 1 110 1 -208 1 121 1 -46 1 32 1 -143 1 140 1 -80 1 -109 1 26 1 110 1 3 1 -39 1 -100 1 76 1 -35 1 82 1 50 1 5 1 -49 1 -79 1 125 1 -9 1 8 1 -79 1 21 1 -82 1 76 1 110 1 -141 1 94 1 -157 1 177 1 89 1 -141 1 -39 1 30 1 -1 1 -116 1 112 1 59 1 -55 1 79 1 -42 1 -30 1 -25 1 1 1 57 1 -83 1 136 1 -70 1 -91 1 39 1 20 1 5 1 -88 1 135 1 -66 1 -101 1 37 1 42 1 27 1 -7 1 48 1 -19 1 -102 1 73 1 0 1 25 1 32 1 -45 1 -36 1 33 1 62 1 -41 1 58 1 -96 1 56 1 -84 1 45 1 -117 1 170 1 -59 1 79 1 -51 1 -19 1 36 1 -16 1 21 1 -30 1 69 1 -83 1 -65 1 31 1 6 1 104 1 -74 1 40 1 18 1 9 1 -86 1 -2 1 38 1 59 1 -74 1 -41 1 -17 1 1 1 -24 1 84 1 46 1 -39 1 25 1 6 1 -30 1 77 1 -58 1 -2 1 -133 1 179 1 -116 1 36 1 50 1 -82 1 80 1 -66 1 -37 1 53 1 -47 1 -9 1 14 1 112 1 -129 1 106 1 -46 1 105 1 -24 1 -63 1 -99 1 30 1 5 1 -54 1 59 1 25 1 34 1 -76 1 106 1 -19 1 -2 1 -46 1 -123 1 178 1 79 1 -178 1 158 1 39 1 -164 1 50 1 65 1 7 1 -136 1 79 1 10 1 -15 1 53 1 -84 1 39 1 -30 1 -3 1 -61 1 46 1 -24 1 145 1 -35 1 -108 1 118 1 -68 1 54 1 -123 1 126 1 -18 1 -84 1 226 1 -252 1 80 1 -184 1 221 1 -76 1 -52 1 115 1 -30 1 -24 1 132 1 -112 1 -21 1 -20 1 -15 1 50 1 7 1 3 1 5 1 56 1 -137 1 89 1 -18 1 53 1 11 1 -92 1 82 1 -25 1 -22 1 7 1 -22 1 -4 1 0 1 84 1 -36 1 -126 1 132 1 -213 1 133 1 2 1 -4 1 49 1 -51 1 62 1 173 1 -254 1 85 1 -140 1 158 1 -90 1 54 1 -38 1 7 1 15 1 -92 1 80 1 -23 1 25 1 5 1 35 1 -43 1 23 1 25 1 33 1 -128 1 12 1 69 1 -144 1 100 1 -4 1 -16 1 75 1 -53 1 27 1 50 1 -1 1 13 1 -86 1 -19 1 -46 1 180 1 -52 1 -66 1 62 1 -61 1 49 1 30 1 -61 1 -11 1 -103 1 127 1 -48 1 29 1 -64 1 28 1 54 1 -126 1 162 1 -128 1 113 1 40 1 -81 1 -193 1 188 1 37 1 160 1 -223 1 -12 1 155 1 17 1 -163 1 28 1 -170 1 237 1 -36 1 -116 1 46 1 51 1 41 1 -136 1 49 1 74 1 -15 1 -67 1 95 1 -45 1 106 1 -152 1 122 1 -149 1 233 1 -227 1 122 1 -35 1 -79 1 92 1 -71 1 -77 1 224 1 -97 1 -7 1 8 1 -31 1 2 1 -15 1 -91 1 131 1 -20 1 -29 1 43 1 9 1 86 1 -47 1 -25 1 -22 1 48 1 60 1 -99 1 -108 1 158 1 28 1 -135 1 68 1 -53 1 72 1 -16 1 -80 1 -8 1 -101 1 150 1 -71 1 48 1 204 1 -162 1 -52 1 45 1 75 1 -4 1 -6 1 -101 1 195 1 -140 1 9 1 -4 1 -46 1 176 1 -21 1 -84 1 -50 1 23 1 -61 1 121 1 -74 1 24 1 18 1 -50 1 21 1 -81 1 -3 1 50 1 87 1 1 1 94 1 -120 1 -43 1 -13 1 88 1 -144 1 159 1 -51 1 117 1 -175 1 27 1 20 1 111 1 -88 1 62 1 75 1 -281 1 117 1 90 1 -55 1 -22 1 96 1 -142 1 57 1 -9 1 65 1 -116 1 30 1 107 1 -126 1 -134 1 65 1 0 1 84 1 -73 1 83 1 -126 1 152 1 -54 1 34 1 -52 1 17 1 49 1 76 1 -51 1 0 1 -220 1 125 1 -80 1 149 1 14 1 -99 1 7 1 42 1 -11 1 23 1 31 1 -40 1 62 1 -14 1 -27 1 -32 1 27 1 23 1 -32 1 -31 1 64 1 21 1 -101 1 2 1 115 1 -43 1 -75 1 -36 1 83 1 37 1 -83 1 117 1 -149 1 58 1 -18 1 54 1 -1 1 -39 1 42 1 -82 1 68 1 -59 1 148 1 -64 1 20 1 -141 1 44 1 15 1 81 1 -4 1 -85 1 -21 1 150 1 5 1 -56 1 -135 1 127 1 6 1 -84 1 0 1 61 1 61 1 -67 1 -40 1 27 1 -32 1 54 1 47 1 -95 1 85 1 -100 1 19 1 -37 1 67 1 20 1 -31 1 24 1 -59 1 10 1 47 1 16 1 31 1 -75 1 7 1 -22 1 -23 1 -15 1 141 1 -97 1 51 1 -101 1 81 1 26 1 -56 1 81 1 -95 1 52 1 25 1 -131 1 152 1 -30 1 -130 1 94 1 -114 1 126 1 36 1 -32 1 -87 1 80 1 -5 1 15 1 -102 1 -14 1 121 1 -38 1 50 1 22 1 -72 1 90 1 -166 1 -15 1 25 1 85 1 -29 1 75 1 -155 1 170 1 -23 1 -225 1 132 1 17 1 25 1 -21 1 26 1 32 1 3 1 -90 1 162 1 -135 1 -10 1 71 1 4 1 -210 1 354 1 -134 1 -122 1 69 1 -67 1 244 1 -127 1 -101 1 89 1 -38 1 66 1 -117 1 218 1 -178 1 94 1 -223 1 286 1 -174 1 48 1 21 1 70 1 -152 1 -42 1 141 1 -7 1 -5 1 -42 1 -10 1 21 1 -23 1 7 1 19 1 13 1 5 1 -86 1 122 1 -46 1 51 1 -71 1 56 1 -118 1 53 1 38 1 -129 1 269 1 -170 1 13 1 69 1 -46 1 -17 1 -83 1 65 1 27 1 -22 1 27 1 19 1 -25 1 -18 1 -48 1 83 1 -58 1 -19 1 88 1 -132 1 69 1 16 1 -82 1 118 1 -66 1 160 1 -135 1 7 1 -19 1 15 1 3 1 -50 1 -9 1 61 1 -51 1 51 1 -33 1 42 1 -12 1 -71 1 69 1 -47 1 15 1 1 1 57 1 -10 1 -34 1 8 1 -9 1 -71 1 33 1 68 1 -75 1 96 1 106 1 -182 1 20 1 68 1 -11 1 -99 1 107 1 32 1 -111 1 -17 1 53 1 -64 1 120 1 -18 1 -122 1 -25 1 76 1 29 1 29 1 -49 1 -30 1 84 1 -43 1 3 1 165 1 -87 1 -63 1 117 1 -29 1 -102 1 -83 1 77 1 50 1 51 1 -108 1 5 1 12 1 -19 1 -156 1 112 1 111 1 -111 1 64 1 80 1 -160 1 0 1 103 1 -135 1 252 1 -290 1 132 1 -89 1 94 1 59 1 -19 1 -99 1 90 1 -91 1 111 1 -57 1 66 1 -62 1 5 1 -82 1 87 1 -31 1 9 1 30 1 68 1 -41 1 -44 1 -45 1 -113 1 182 1 -22 1 -36 1 114 1 40 1 -163 1 114 1 -202 1 179 1 -52 1 98 1 -87 1 175 1 -145 1 -41 1 -26 1 61 1 -3 1 -2 1 -2 1 20 1 -89 1 44 1 88 1 -75 1 117 1 -110 1 -31 1 59 1 -31 1 -56 1 39 1 46 1 -12 1 61 1 -84 1 -51 1 90 1 -176 1 191 1 -47 1 81 1 -116 1 70 1 -64 1 -24 1 59 1 94 1 -142 1 29 1 -4 1 25 1 29 1 -107 1 -52 1 102 1 -15 1 36 1 24 1 -31 1 -2 1 -4 1 -48 1 159 1 41 1 -116 1 -4 1 -24 1 -28 1 42 1 -74 1 -90 1 124 1 40 1 -107 1 190 1 -87 1 -94 1 -46 1 110 1 22 1 -75 1 78 1 -18 1 31 1 -100 1 45 1 -53 1 55 1 8 1 -133 1 111 1 123 1 -49 1 -37 1 202 1 -282 1 134 1 -24 1 102 1 -75 1 -93 1 -11 1 81 1 -80 1 106 1 -94 1 -51 1 72 1 92 1 -57 1 9 1 67 1 -180 1 79 1 115 1 -9 1 -90 1 90 1 -67 1 -165 1 120 1 -42 1 66 1 -62 1 8 1 21 1 96 1 -84 1 87 1 -70 1 38 1 -73 1 85 1 32 1 122 1 -150 1 25 1 35 1 -98 1 40 1 -94 1 -61 1 131 1 -73 1 0 1 191 1 -233 1 -30 1 127 1 -83 1 53 1 -61 1 127 1 -3 1 61 1 -103 1 19 1 -66 1 -85 1 114 1 150 1 -146 1 38 1 -212 1 137 1 138 1 -48 1 -54 1 -9 1 73 1 -74 1 -10 1 75 1 -65 1 45 1 -170 1 187 1 -33 1 -9 1 -113 1 106 1 47 1 -76 1 34 1 -14 1 10 1 38 1 -68 1 -56 1 165 1 -105 1 4 1 -45 1 44 1 62 1 54 1 -102 1 -9 1 -15 1 42 1 7 1 40 1 -77 1 25 1 -96 1 148 1 -13 1 -60 1 111 1 -163 1 70 1 49 1 -102 1 -105 1 167 1 119 1 -152 1 103 1 -47 1 -197 1 219 1 13 1 -114 1 27 1 -55 1 139 1 -27 1 -85 1 -61 1 163 1 37 1 -119 1 -30 1 165 1 -49 1 -39 1 107 1 -98 1 81 1 -103 1 45 1 -49 1 43 1 -100 1 -7 1 105 1 -77 1 184 1 -186 1 63 1 -8 1 -43 1 -14 1 53 1 12 1 -29 1 85 1 -7 1 -84 1 -19 1 42 1 18 1 -80 1 58 1 9 1 -79 1 37 1 -40 1 140 1 24 1 -119 1 2 1 61 1 -45 1 65 1 -154 1 137 1 -67 1 -44 1 35 1 9 1 48 1 32 1 -25 1 -49 1 92 1 -114 1 23 1 78 1 -66 1 -25 1 20 1 -13 1 38 1 -6 1 156 1 -206 1 141 1 -179 1 91 1 -20 1 19 1 -112 1 121 1 -88 1 116 1 8 1 -48 1 -66 1 140 1 -71 1 14 1 -1 1 60 1 -41 1 -16 1 -7 1 -104 1 150 1 41 1 -173 1 36 1 35 1 74 1 -88 1 7 1 29 1 -72 1 84 1 16 1 -117 1 17 1 13 1 34 1 41 1 -52 1 13 1 -21 1 -58 1 107 1 -46 1 3 1 -92 1 102 1 -108 1 203 1 -85 1 -24 1 5 1 -164 1 136 1 34 1 -22 1 58 1 46 1 -137 1 71 1 -17 1 38 1 60 1 -171 1 53 1 -15 1 114 1 -7 1 -55 1 -32 1 76 1 -71 1 -43 1 106 1 -53 1 -33 1 80 1 -94 1 93 1 -74 1 50 1 -68 1 41 1 186 1 -108 1 105 1 -250 1 115 1 23 1 108 1 -118 1 16 1 -37 1 6 1 -160 1 97 1 124 1 -63 1 24 1 -68 1 -18 1 168 1 -162 1 85 1 -53 1 -64 1 60 1 -73 1 81 1 -76 1 103 1 67 1 -116 1 -58 1 -109 1 136 1 -3 1 39 1 -48 1 44 1 20 1 -62 1 -19 1 45 1 77 1 -15 1 -68 1 70 1 -198 1 188 1 -29 1 29 1 -12 1 -20 1 -14 1 26 1 138 1 -146 1 -98 1 80 1 107 1 -183 1 45 1 155 1 -58 1 -98 1 30 1 -124 1 212 1 -168 1 63 1 88 1 -95 1 53 1 -11 1 -14 1 82 1 38 1 -144 1 44 1 55 1 14 1 -110 1 -98 1 8 1 82 1 76 1 -136 1 171 1 -114 1 84 1 85 1 -194 1 135 1 -180 1 32 1 51 1 -24 1 129 1 -61 1 -23 1 15 1 32 1 -28 1 -29 1 77 1 -79 1 61 1 -23 1 -2 1 16 1 -80 1 34 1 -11 1 100 1 -108 1 67 1 75 1 -106 1 -5 1 25 1 16 1 -34 1 31 1 -100 1 77 1 -10 1 2 1 -77 1 53 1 -23 1 -18 1 66 1 -54 1 83 1 -43 1 108 1 -94 1 3 1 -31 1 7 1 73 1 -98 1 97 1 -30 1 -68 1 -42 1 85 1 16 1 25 1 77 1 -111 1 7 1 -64 1 9 1 54 1 10 1 38 1 -108 1 45 1 95 1 -88 1 -14 1 30 1 5 1 58 1 -52 1 50 1 -109 1 16 1 22 1 -82 1 83 1 -32 1 36 1 -82 1 103 1 43 1 -20 1 -35 1 -60 1 64 1 -33 1 45 1 21 1 -146 1 114 1 96 1 -88 1 29 1 -35 1 -66 1 -5 1 53 1 18 1 -132 1 144 1 -65 1 56 1 -50 1 4 1 27 1 -4 1 61 1 -99 1 99 1 -48 1 44 1 -67 1 -4 1 -26 1 -2 1 45 1 -41 1 50 1 -25 1 -33 1 -29 1 120 1 -40 1 42 1 -149 1 72 1 27 1 22 1 -188 1 167 1 0 1 48 1 -105 1 59 1 35 1 -29 1 -38 1 57 1 -78 1 68 1 -55 1 55 1 44 1 -56 1 -2 1 -10 1 2 1 71 1 -120 1 47 1 13 1 -32 1 44 1 -89 1 16 1 85 1 -39 1 -20 1 76 1 -62 1 -66 1 110 1 -52 1 65 1 18 1 -44 1 -15 1 -58 1 57 1 -43 1 60 1 -57 1 -57 1 126 1 -12 1 15 1 1 1 -109 1 37 1 4 1 73 1 -2 1 -76 1 132 1 -220 1 74 1 74 1 -105 1 33 1 44 1 -25 1 -4 1 69 1 -77 1 -39 1 89 1 -76 1 90 1 -76 1 -32 1 125 1 12 1 -55 1 17 1 -26 1 -79 1 65 1 73 1 -117 1 25 1 31 1 -61 1 12 1 4 1 71 1 45 1 -80 1 49 1 -56 1 68 1 11 1 -60 1 -16 1 -12 1 160 1 -145 1 5 1 58 1 -10 1 10 1 -21 1 -42 1 25 1 99 1 13 1 -251 1 218 1 -48 1 -20 1 1 1 35 1 -55 1 7 1 -22 1 9 1 65 1 -44 1 -19 1 48 1 -37 1 115 1 -167 1 24 1 -7 1 21 1 -108 1 126 1 -8 1 -11 1 -85 1 157 1 -71 1 18 1 93 1 -109 1 -53 1 32 1 0 1 57 1 -182 1 99 1 61 1 -27 1 121 1 -151 1 155 1 -73 1 -127 1 94 1 -30 1 35 1 -65 1 104 1 -15 1 -45 1 38 1 -17 1 -96 1 72 1 8 1 -1 1 -69 1 119 1 -22 1 28 1 -75 1 28 1 27 1 23 1 -97 1 55 1 98 1 -122 1 2 1 -21 1 18 1 -10 1 -30 1 -9 1 58 1 -39 1 138 1 -103 1 -53 1 13 1 67 1 -58 1 -34 1 -22 1 183 1 -97 1 58 1 -25 1 1 1 8 1 -62 1 54 1 -48 1 150 1 -28 1 -90 1 66 1 -115 1 42 1 69 1 -59 1 15 1 47 1 -74 1 -42 1 87 1 -10 1 -7 1 -21 1 -82 1 14 1 28 1 32 1 4 1 -10 1 105 1 -89 1 -79 1 198 1 -121 1 -11 1 13 1 -74 1 54 1 -4 1 34 1 -46 1 -37 1 155 1 -216 1 107 1 41 1 -49 1 66 1 -57 1 19 1 43 1 55 1 -134 1 43 1 -21 1 -94 1 128 1 10 1 -57 1 44 1 32 1 -76 1 15 1 31 1 0 1 -69 1 76 1 23 1 -46 1 12 1 2 1 -42 1 49 1 -55 1 45 1 26 1 -72 1 -11 1 104 1 2 1 -75 1 -2 1 76 1 -178 1 119 1 108 1 -76 1 -73 1 42 1 30 1 99 1 -179 1 47 1 25 1 -13 1 -69 1 27 1 28 1 27 1 -9 1 -37 1 51 1 9 1 -129 1 49 1 48 1 -42 1 15 1 24 1 59 1 -8 1 -148 1 149 1 -57 1 30 1 -21 1 -103 1 233 1 -117 1 -60 1 64 1 -7 1 -33 1 0 1 -68 1 46 1 29 1 -60 1 62 1 5 1 6 1 -43 1 64 1 -20 1 -21 1 7 1 7 1 100 1 -83 1 12 1 -26 1 9 1 -27 1 -52 1 72 1 56 1 17 1 -55 1 -31 1 -4 1 55 1 -109 1 88 1 -32 1 7 1 20 1 74 1 -95 1 43 1 13 1 -4 1 -13 1 -100 1 93 1 -9 1 -12 1 20 1 26 1 13 1 -42 1 -60 1 42 1 16 1 -106 1 28 1 72 1 -2 1 -39 1 141 1 -125 1 -61 1 118 1 -1 1 -57 1 49 1 -108 1 35 1 26 1 27 1 11 1 -41 1 38 1 -2 1 4 1 16 1 -40 1 24 1 25 1 -59 1 15 1 -8 1 11 1 25 1 -34 1 89 1 -83 1 -22 1 45 1 3 1 -88 1 163 1 -147 1 9 1 48 1 -18 1 -115 1 169 1 -44 1 -49 1 64 1 -60 1 32 1 17 1 54 1 -72 1 3 1 -4 1 48 1 -19 1 -32 1 38 1 -92 1 56 1 33 1 -14 1 -2 1 -10 1 31 1 -98 1 30 1 20 1 143 1 -83 1 -45 1 -35 1 35 1 1 1 33 1 -2 1 30 1 -30 1 5 1 53 1 -16 1 -129 1 62 1 -30 1 21 1 82 1 -112 1 39 1 -38 1 34 1 2 1 30 1 -41 1 23 1 77 1 -50 1 -30 1 -8 1 -44 1 30 1 -2 1 54 1 -21 1 24 1 -36 1 78 1 -99 1 -32 1 20 1 -19 1 152 1 -164 1 23 1 16 1 74 1 -105 1 -2 1 50 1 -29 1 39 1 -9 1 -23 1 -30 1 -38 1 57 1 38 1 67 1 -54 1 9 1 20 1 -28 1 -18 1 -52 1 61 1 -121 1 126 1 -27 1 31 1 77 1 -128 1 19 1 6 1 28 1 -121 1 142 1 19 1 -86 1 -52 1 -16 1 -23 1 72 1 6 1 -29 1 34 1 3 1 -71 1 152 1 -134 1 102 1 -70 1 161 1 -208 1 34 1 52 1 -15 1 5 1 62 1 -4 1 -22 1 36 1 -77 1 -1 1 35 1 -94 1 67 1 34 1 67 1 -62 1 -22 1 -81 1 67 1 21 1 52 1 -19 1 -44 1 27 1 -55 1 71 1 -10 1 24 1 -99 1 70 1 23 1 -29 1 87 1 -115 1 32 1 -28 1 7 1 107 1 -68 1 -81 1 49 1 31 1 -64 1 -50 1 81 1 15 1 16 1 -38 1 3 1 -9 1 21 1 -24 1 19 1 15 1 -43 1 -24 1 36 1 31 1 -12 1 -29 1 -11 1 36 1 -30 1 -28 1 59 1 -4 1 78 1 -39 1 24 1 -147 1 100 1 12 1 -64 1 29 1 -5 1 -13 1 2 1 90 1 -8 1 -101 1 95 1 -119 1 48 1 -84 1 138 1 -41 1 2 1 52 1 -102 1 67 1 -7 1 -8 1 -47 1 47 1 16 1 -4 1 76 1 -93 1 -57 1 85 1 7 1 -83 1 165 1 -107 1 -13 1 34 1 -22 1 -40 1 -39 1 62 1 10 1 -58 1 -30 1 88 1 -12 1 78 1 -87 1 55 1 -47 1 29 1 -29 1 -12 1 103 1 11 1 -33 1 -79 1 -20 1 116 1 -214 1 68 1 16 1 58 1 -28 1 36 1 -79 1 58 1 9 1 -42 1 77 1 -47 1 40 1 7 1 -19 1 0 1 82 1 -75 1 -93 1 46 1 -20 1 25 1 23 1 24 1 -63 1 66 1 -55 1 -53 1 121 1 4 1 45 1 -188 1 70 1 117 1 -217 1 151 1 -18 1 50 1 -190 1 200 1 -71 1 26 1 -47 1 -56 1 91 1 -97 1 93 1 -38 1 60 1 103 1 -119 1 33 1 -31 1 -16 1 -29 1 -12 1 84 1 -25 1 -11 1 32 1 -26 1 -2 1 -33 1 -85 1 94 1 26 1 -12 1 -67 1 48 1 35 1 -34 1 4 1 29 1 59 1 -138 1 24 1 38 1 -109 1 150 1 -6 1 8 1 -30 1 28 1 -48 1 34 1 -44 1 12 1 -14 1 56 1 9 1 -46 1 3 1 75 1 -76 1 -18 1 50 1 -117 1 46 1 -34 1 73 1 -4 1 -1 1 78 1 -37 1 23 1 -34 1 -54 1 62 1 -61 1 21 1 25 1 46 1 -62 1 70 1 -51 1 -142 1 110 1 -4 1 -35 1 57 1 86 1 -60 1 -54 1 -5 1 21 1 -41 1 68 1 2 1 -14 1 30 1 -6 1 -63 1 48 1 -12 1 -48 1 114 1 -120 1 68 1 -35 1 13 1 -20 1 32 1 -69 1 50 1 26 1 33 1 -2 1 -26 1 21 1 17 1 -3 1 -104 1 64 1 -12 1 -33 1 -37 1 78 1 -106 1 92 1 -29 1 104 1 -35 1 -20 1 1 1 121 1 -137 1 -7 1 40 1 -19 1 -7 1 -37 1 23 1 -53 1 59 1 -19 1 41 1 9 1 -18 1 -134 1 196 1 -57 1 19 1 32 1 -83 1 72 1 -19 1 -77 1 -45 1 118 1 99 1 -131 1 -78 1 165 1 -152 1 102 1 -48 1 46 1 -19 1 -48 1 19 1 94 1 -191 1 103 1 -76 1 97 1 -54 1 45 1 8 1 -116 1 124 1 20 1 14 1 -93 1 59 1 -4 1 -29 1 13 1 52 1 -128 1 -9 1 5 1 -32 1 168 1 -87 1 39 1 -26 1 4 1 25 1 20 1 -52 1 56 1 -7 1 36 1 -93 1 23 1 -17 1 -62 1 188 1 -195 1 129 1 -39 1 13 1 -53 1 46 1 -7 1 -33 1 18 1 19 1 -42 1 90 1 -49 1 18 1 65 1 -86 1 19 1 -8 1 -66 1 94 1 -66 1 51 1 47 1 -114 1 -28 1 -31 1 71 1 109 1 -93 1 -76 1 49 1 54 1 8 1 -37 1 -69 1 82 1 -1 1 -21 1 -49 1 72 1 -10 1 62 1 -83 1 42 1 -30 1 -71 1 20 1 58 1 37 1 69 1 -176 1 168 1 -182 1 75 1 45 1 45 1 -77 1 13 1 -18 1 58 1 -41 1 -115 1 20 1 -40 1 160 1 -38 1 -31 1 35 1 42 1 -82 1 8 1 57 1 -60 1 43 1 24 1 -127 1 198 1 -68 1 -93 1 48 1 46 1 17 1 -12 1 74 1 -45 1 -152 1 145 1 -38 1 -107 1 117 1 -109 1 100 1 -32 1 111 1 -138 1 108 1 -24 1 -35 1 -67 1 51 1 34 1 96 1 -90 1 -19 1 -59 1 30 1 145 1 -160 1 -30 1 88 1 -10 1 -32 1 -17 1 -15 1 66 1 -28 1 79 1 -43 1 -4 1 -13 1 -5 1 -3 1 98 1 -179 1 161 1 -30 1 108 1 -101 1 -79 1 4 1 105 1 -92 1 56 1 -35 1 31 1 -85 1 21 1 -105 1 104 1 92 1 -161 1 62 1 56 1 -120 1 84 1 58 1 -61 1 18 1 19 1 -44 1 69 1 -118 1 35 1 -119 1 103 1 67 1 -37 1 3 1 5 1 36 1 -39 1 -26 1 76 1 -39 1 -7 1 15 1 5 1 -26 1 -155 1 40 1 61 1 174 1 -156 1 24 1 106 1 28 1 -108 1 -6 1 33 1 -36 1 46 1 42 1 -153 1 39 1 29 1 -1 1 7 1 -20 1 127 1 -138 1 -37 1 67 1 -45 1 29 1 73 1 -58 1 50 1 -16 1 58 1 -94 1 -20 1 -7 1 10 1 102 1 -128 1 14 1 26 1 44 1 26 1 -100 1 28 1 20 1 -29 1 28 1 -11 1 51 1 -35 1 25 1 -50 1 2 1 23 1 -19 1 -12 1 -49 1 58 1 27 1 -91 1 52 1 42 1 -7 1 -5 1 8 1 -19 1 -8 1 -24 1 33 1 -100 1 118 1 6 1 -48 1 7 1 127 1 -177 1 18 1 -26 1 53 1 19 1 -8 1 20 1 29 1 -47 1 -1 1 1 1 20 1 -28 1 -16 1 28 1 87 1 -28 1 -79 1 40 1 90 1 -17 1 -106 1 50 1 -62 1 2 1 35 1 12 1 12 1 -66 1 17 1 17 1 -43 1 31 1 86 1 -66 1 86 1 -61 1 -68 1 74 1 -45 1 34 1 -107 1 92 1 5 1 -67 1 40 1 14 1 -19 1 64 1 -103 1 12 1 73 1 -18 1 -2 1 40 1 -96 1 56 1 9 1 -60 1 65 1 -12 1 -15 1 -23 1 -1 1 126 1 -139 1 30 1 -15 1 58 1 -44 1 52 1 -113 1 113 1 -60 1 12 1 83 1 -52 1 -28 1 6 1 -121 1 164 1 19 1 -43 1 -45 1 19 1 124 1 -172 1 61 1 -40 1 37 1 -163 1 87 1 70 1 -4 1 157 1 -196 1 23 1 66 1 -119 1 91 1 62 1 -102 1 -26 1 82 1 -70 1 66 1 -80 1 40 1 92 1 -47 1 59 1 -92 1 -39 1 44 1 30 1 -55 1 106 1 -56 1 108 1 -192 1 94 1 -21 1 -63 1 40 1 12 1 14 1 9 1 -26 1 -28 1 47 1 9 1 -55 1 33 1 -4 1 -90 1 88 1 -3 1 16 1 -31 1 -30 1 21 1 -65 1 80 1 120 1 -69 1 -53 1 20 1 26 1 -1 1 71 1 -109 1 0 1 31 1 -51 1 -64 1 88 1 15 1 -78 1 -7 1 37 1 -71 1 122 1 21 1 -69 1 15 1 5 1 2 1 -4 1 57 1 -103 1 83 1 -6 1 -32 1 31 1 -60 1 14 1 -44 1 40 1 -40 1 33 1 -11 1 41 1 1 1 36 1 -51 1 41 1 -18 1 76 1 -174 1 64 1 -20 1 72 1 -57 1 105 1 -46 1 -60 1 52 1 -33 1 -53 1 43 1 91 1 -72 1 91 1 -18 1 -62 1 76 1 -69 1 -7 1 59 1 -43 1 91 1 -87 1 -16 1 -5 1 44 1 -62 1 23 1 -22 1 30 1 -63 1 52 1 -33 1 42 1 68 1 -147 1 142 1 -125 1 39 1 43 1 -55 1 51 1 -97 1 101 1 -21 1 -76 1 94 1 -73 1 19 1 26 1 -4 1 63 1 -47 1 -35 1 12 1 121 1 -88 1 -2 1 -7 1 -40 1 79 1 -73 1 54 1 -42 1 0 1 3 1 61 1 -49 1 -42 1 60 1 -4 1 15 1 -59 1 -71 1 145 1 -42 1 -60 1 106 1 -96 1 83 1 -7 1 37 1 -37 1 -17 1 -49 1 23 1 -84 1 12 1 54 1 -18 1 101 1 -159 1 81 1 -1 1 -72 1 108 1 -53 1 63 1 -81 1 206 1 -75 1 -152 1 97 1 12 1 -14 1 21 1 -78 1 31 1 32 1 -23 1 -50 1 35 1 21 1 52 1 -37 1 33 1 -37 1 -78 1 15 1 19 1 -31 1 141 1 -80 1 62 1 -120 1 30 1 73 1 -80 1 61 1 -116 1 55 1 54 1 -32 1 -39 1 60 1 12 1 -13 1 45 1 -2 1 -63 1 -55 1 11 1 17 1 45 1 -15 1 -124 1 177 1 19 1 -91 1 117 1 -108 1 3 1 33 1 -63 1 2 1 90 1 -99 1 60 1 116 1 -144 1 36 1 -70 1 48 1 -34 1 61 1 50 1 -128 1 41 1 51 1 26 1 -48 1 -12 1 -44 1 38 1 3 1 -136 1 10 1 190 1 -114 1 18 1 44 1 3 1 -5 1 79 1 -114 1 -3 1 52 1 20 1 -79 1 25 1 -47 1 91 1 -27 1 -19 1 31 1 -45 1 -27 1 -11 1 31 1 12 1 -25 1 26 1 16 1 11 1 -45 1 26 1 -4 1 23 1 -25 1 27 1 -35 1 13 1 -59 1 7 1 55 1 -77 1 101 1 -11 1 15 1 -26 1 -2 1 38 1 16 1 -57 1 -9 1 24 1 10 1 3 1 -53 1 36 1 27 1 38 1 -53 1 -70 1 55 1 -25 1 94 1 -122 1 53 1 -32 1 30 1 14 1 -21 1 97 1 -167 1 38 1 91 1 -46 1 49 1 -149 1 43 1 1 1 92 1 -24 1 -27 1 -14 1 37 1 -28 1 32 1 -11 1 2 1 -32 1 2 1 -48 1 15 1 -25 1 -3 1 73 1 25 1 -14 1 39 1 -65 1 15 1 3 1 12 1 6 1 31 1 -17 1 2 1 -70 1 10 1 66 1 -54 1 63 1 -29 1 -10 1 96 1 -192 1 75 1 -23 1 70 1 -87 1 76 1 -74 1 32 1 -51 1 23 1 89 1 -43 1 65 1 -6 1 -59 1 29 1 -79 1 89 1 -116 1 47 1 49 1 -61 1 -62 1 122 1 -59 1 94 1 4 1 57 1 -119 1 24 1 23 1 77 1 -166 1 28 1 -18 1 106 1 -45 1 -45 1 13 1 141 1 -142 1 -21 1 50 1 9 1 35 1 -77 1 -8 1 -66 1 22 1 94 1 50 1 -85 1 -8 1 -9 1 -3 1 -68 1 87 1 73 1 -56 1 50 1 -188 1 238 1 -203 1 111 1 11 1 -83 1 60 1 56 1 -58 1 -20 1 -5 1 39 1 -20 1 75 1 -40 1 0 1 -52 1 35 1 -78 1 42 1 0 1 61 1 -33 1 -49 1 30 1 47 1 -53 1 22 1 8 1 -21 1 22 1 -70 1 60 1 -39 1 98 1 48 1 -126 1 -15 1 38 1 -12 1 2 1 18 1 8 1 88 1 -108 1 27 1 5 1 -37 1 1 1 -37 1 95 1 -31 1 16 1 -102 1 76 1 -26 1 74 1 -51 1 23 1 -11 1 20 1 -35 1 -1 1 18 1 -44 1 -43 1 131 1 -54 1 -25 1 -8 1 66 1 -58 1 28 1 36 1 -1 1 -64 1 9 1 -31 1 74 1 -35 1 -9 1 -5 1 9 1 9 1 50 1 -46 1 -67 1 53 1 -58 1 11 1 41 1 15 1 -28 1 35 1 -8 1 -27 1 84 1 -88 1 62 1 -9 1 17 1 -17 1 -50 1 -26 1 8 1 47 1 -21 1 37 1 60 1 -100 1 -106 1 140 1 -34 1 31 1 -51 1 27 1 137 1 -79 1 -58 1 -31 1 71 1 -61 1 92 1 -108 1 46 1 37 1 35 1 -59 1 4 1 -10 1 4 1 -38 1 29 1 -96 1 117 1 7 1 -128 1 93 1 -34 1 28 1 6 1 92 1 -1 1 -115 1 140 1 -14 1 -89 1 -3 1 -95 1 74 1 72 1 -90 1 -10 1 65 1 13 1 -28 1 -31 1 35 1 35 1 10 1 -34 1 1 1 -74 1 -3 1 49 1 -24 1 140 1 -135 1 61 1 25 1 -72 1 23 1 20 1 -44 1 -2 1 -8 1 -35 1 30 1 4 1 10 1 87 1 -133 1 14 1 -27 1 109 1 -41 1 51 1 -66 1 35 1 71 1 -112 1 85 1 16 1 -64 1 0 1 -15 1 -11 1 48 1 -52 1 -59 1 82 1 25 1 0 1 -55 1 31 1 -53 1 -4 1 159 1 -103 1 49 1 -77 1 40 1 28 1 -34 1 -8 1 49 1 -75 1 36 1 32 1 -114 1 93 1 54 1 -73 1 -66 1 -39 1 45 1 47 1 3 1 -8 1 -13 1 41 1 41 1 -80 1 -35 1 -7 1 63 1 -58 1 -1 1 38 1 13 1 11 1 38 1 -88 1 44 1 2 1 7 1 48 1 -27 1 -59 1 65 1 -4 1 -108 1 140 1 9 1 -17 1 -8 1 -73 1 59 1 -12 1 -14 1 1 1 -59 1 68 1 -60 1 64 1 -48 1 62 1 -9 1 27 1 -90 1 40 1 28 1 15 1 -51 1 -41 1 24 1 59 1 -75 1 129 1 -54 1 -55 1 66 1 -60 1 -8 1 9 1 -36 1 55 1 -27 1 21 1 -15 1 50 1 -22 1 86 1 -85 1 -33 1 123 1 -94 1 -7 1 22 1 -5 1 -55 1 10 1 68 1 -11 1 -5 1 -30 1 50 1 -20 1 32 1 -121 1 84 1 15 1 -32 1 10 1 -81 1 76 1 40 1 -40 1 3 1 21 1 -47 1 32 1 37 1 -29 1 -45 1 -44 1 33 1 52 1 -31 1 102 1 -106 1 63 1 -61 1 -20 1 85 1 -27 1 0 1 -9 1 -118 1 75 1 65 1 -1 1 -47 1 -1 1 18 1 -29 1 56 1 0 1 -78 1 36 1 -39 1 33 1 -85 1 84" fill="none" stroke="#0000ff" stroke-width="0.55" stroke-opacity="0.6"/><path d="M243.2 583.5V640.5M299.1 574.5V633.5M331.1 576.5V631.5M272.9 585.5V621.5M381.5 583.5V628.5M361.8 590.5V628.5M486.2 588.5V625.5M549.4 586.5V621.5M450.6 593.5V627.5M401.2 589.5V621.5" stroke="#0000ff" stroke-width="0.6" stroke-opacity="0.75" fill="none"/>
<path d="M184.5 532.0v4.5M184.5 676.0v-4.5" stroke="#a8a8a8" stroke-width="1"/>
<text x="184.0" y="702.7" font-size="20.2" font-weight="normal" text-anchor="middle">00:00</text>
<path d="M302.5 532.0v4.5M302.5 676.0v-4.5" stroke="#a8a8a8" stroke-width="1"/>
<text x="302.5" y="702.7" font-size="20.2" font-weight="normal" text-anchor="middle">06:00</text>
<path d="M421.5 532.0v4.5M421.5 676.0v-4.5" stroke="#a8a8a8" stroke-width="1"/>
<text x="421.0" y="702.7" font-size="20.2" font-weight="normal" text-anchor="middle">12:00</text>
<path d="M539.5 532.0v4.5M539.5 676.0v-4.5" stroke="#a8a8a8" stroke-width="1"/>
<text x="539.5" y="702.7" font-size="20.2" font-weight="normal" text-anchor="middle">18:00</text>
<path d="M658.5 532.0v4.5M658.5 676.0v-4.5" stroke="#a8a8a8" stroke-width="1"/>
<text x="658.0" y="702.7" font-size="20.2" font-weight="normal" text-anchor="middle">24:00</text>
<path d="M185.0 531.5h4.5M658.5 531.5h-4.5" stroke="#a8a8a8" stroke-width="1"/>
<text x="180.6" y="540.1" font-size="20.2" font-weight="normal" text-anchor="end">1</text>
<path d="M185.0 604.0h4.5M658.5 604.0h-4.5" stroke="#a8a8a8" stroke-width="1"/>
<text x="180.6" y="612.6" font-size="20.2" font-weight="normal" text-anchor="end">0</text>
<path d="M185.0 676.5h4.5M658.5 676.5h-4.5" stroke="#a8a8a8" stroke-width="1"/>
<text x="180.6" y="685.1" font-size="20.2" font-weight="normal" text-anchor="end">-1</text>
<text x="151.3" y="604.7" font-size="20.2" font-weight="bold" text-anchor="middle" transform="rotate(-90 151.3 604.7)">Z (nT)</text>
<text x="421.1" y="727.8" font-size="20.2" font-weight="bold" text-anchor="middle">UT (hours)</text>
<rect x="808.8" y="59" width="474.7" height="142" fill="#00008f"/>
<text x="805.3" y="208.0" font-size="20.2" font-weight="normal" text-anchor="end">7</text>
<text x="805.3" y="191.8" font-size="20.2" font-weight="normal" text-anchor="end">8</text>
<text x="805.3" y="177.4" font-size="20.2" font-weight="normal" text-anchor="end">9</text>
<text x="805.3" y="164.6" font-size="20.2" font-weight="normal" text-anchor="end">10</text>
<text x="805.3" y="142.4" font-size="20.2" font-weight="normal" text-anchor="end">12</text>
<text x="805.3" y="123.7" font-size="20.2" font-weight="normal" text-anchor="end">14</text>
<text x="805.3" y="107.4" font-size="20.2" font-weight="normal" text-anchor="end">16</text>
<text x="805.3" y="93.1" font-size="20.2" font-weight="normal" text-anchor="end">18</text>
<text x="805.3" y="80.3" font-size="20.2" font-weight="normal" text-anchor="end">20</text>
<text x="805.3" y="68.7" font-size="20.2" font-weight="normal" text-anchor="end">22</text>
<text x="808.9" y="226.9" font-size="20.2" font-weight="normal" text-anchor="middle">00:00</text>
<text x="927.6" y="226.9" font-size="20.2" font-weight="normal" text-anchor="middle">06:00</text>
<text x="1046.2" y="226.9" font-size="20.2" font-weight="normal" text-anchor="middle">12:00</text>
<text x="1164.9" y="226.9" font-size="20.2" font-weight="normal" text-anchor="middle">18:00</text>
<text x="1283.6" y="226.9" font-size="20.2" font-weight="normal" text-anchor="middle">00:00</text>
<text x="770.5" y="129.9" font-size="20.2" font-weight="bold" text-anchor="middle" transform="rotate(-90 770.5 129.95)">freq (mHz)</text>
<rect x="1302.3" y="59.2" width="25.600000000000136" height="142.0" fill="url(#cb)"/>
<rect x="1302.3" y="59.2" width="25.600000000000136" height="142.0" fill="none" stroke="#808080" stroke-width=".6" opacity=".6"/>
<text x="1330.5" y="68.2" font-size="20.2" font-weight="normal" text-anchor="start">4</text>
<text x="1330.5" y="115.5" font-size="20.2" font-weight="normal" text-anchor="start">2</text>
<path d="M1302.3 106.5h3M1327.9 106.5h-3" stroke="#404040" stroke-width="1" opacity=".5"/>
<text x="1330.5" y="162.9" font-size="20.2" font-weight="normal" text-anchor="start">0</text>
<path d="M1302.3 153.9h3M1327.9 153.9h-3" stroke="#404040" stroke-width="1" opacity=".5"/>
<text x="1330.5" y="210.2" font-size="20.2" font-weight="normal" text-anchor="start">-2</text>
<text x="1371.7" y="130.9" font-size="20.2" font-weight="bold" text-anchor="middle" transform="rotate(-90 1371.7 130.9)">log<tspan font-size="15" dy="8.5">2</tspan><tspan dy="-8.5">(nT</tspan><tspan font-size="15" dy="-10.5">2</tspan><tspan dy="10.5">/Hz)</tspan></text>
<rect x="808.8" y="295" width="474.7" height="142" fill="#00008f"/>
<text x="805.3" y="444.1" font-size="20.2" font-weight="normal" text-anchor="end">7</text>
<text x="805.3" y="427.9" font-size="20.2" font-weight="normal" text-anchor="end">8</text>
<text x="805.3" y="413.5" font-size="20.2" font-weight="normal" text-anchor="end">9</text>
<text x="805.3" y="400.7" font-size="20.2" font-weight="normal" text-anchor="end">10</text>
<text x="805.3" y="378.5" font-size="20.2" font-weight="normal" text-anchor="end">12</text>
<text x="805.3" y="359.8" font-size="20.2" font-weight="normal" text-anchor="end">14</text>
<text x="805.3" y="343.5" font-size="20.2" font-weight="normal" text-anchor="end">16</text>
<text x="805.3" y="329.2" font-size="20.2" font-weight="normal" text-anchor="end">18</text>
<text x="805.3" y="316.4" font-size="20.2" font-weight="normal" text-anchor="end">20</text>
<text x="805.3" y="304.8" font-size="20.2" font-weight="normal" text-anchor="end">22</text>
<text x="808.9" y="463.0" font-size="20.2" font-weight="normal" text-anchor="middle">00:00</text>
<text x="927.6" y="463.0" font-size="20.2" font-weight="normal" text-anchor="middle">06:00</text>
<text x="1046.2" y="463.0" font-size="20.2" font-weight="normal" text-anchor="middle">12:00</text>
<text x="1164.9" y="463.0" font-size="20.2" font-weight="normal" text-anchor="middle">18:00</text>
<text x="1283.6" y="463.0" font-size="20.2" font-weight="normal" text-anchor="middle">00:00</text>
<text x="770.5" y="366.1" font-size="20.2" font-weight="bold" text-anchor="middle" transform="rotate(-90 770.5 366.05)">freq (mHz)</text>
<rect x="1302.3" y="295.3" width="25.600000000000136" height="142.0" fill="url(#cb)"/>
<rect x="1302.3" y="295.3" width="25.600000000000136" height="142.0" fill="none" stroke="#808080" stroke-width=".6" opacity=".6"/>
<text x="1330.5" y="304.3" font-size="20.2" font-weight="normal" text-anchor="start">4</text>
<text x="1330.5" y="351.6" font-size="20.2" font-weight="normal" text-anchor="start">2</text>
<path d="M1302.3 342.6h3M1327.9 342.6h-3" stroke="#404040" stroke-width="1" opacity=".5"/>
<text x="1330.5" y="399.0" font-size="20.2" font-weight="normal" text-anchor="start">0</text>
<path d="M1302.3 390.0h3M1327.9 390.0h-3" stroke="#404040" stroke-width="1" opacity=".5"/>
<text x="1330.5" y="446.3" font-size="20.2" font-weight="normal" text-anchor="start">-2</text>
<text x="1371.7" y="367.1" font-size="20.2" font-weight="bold" text-anchor="middle" transform="rotate(-90 1371.7 367.1)">log<tspan font-size="15" dy="8.5">2</tspan><tspan dy="-8.5">(nT</tspan><tspan font-size="15" dy="-10.5">2</tspan><tspan dy="10.5">/Hz)</tspan></text>
<rect x="808.8" y="531" width="474.7" height="142" fill="#00008f"/>
<text x="805.3" y="680.1" font-size="20.2" font-weight="normal" text-anchor="end">7</text>
<text x="805.3" y="663.9" font-size="20.2" font-weight="normal" text-anchor="end">8</text>
<text x="805.3" y="649.5" font-size="20.2" font-weight="normal" text-anchor="end">9</text>
<text x="805.3" y="636.7" font-size="20.2" font-weight="normal" text-anchor="end">10</text>
<text x="805.3" y="614.5" font-size="20.2" font-weight="normal" text-anchor="end">12</text>
<text x="805.3" y="595.8" font-size="20.2" font-weight="normal" text-anchor="end">14</text>
<text x="805.3" y="579.5" font-size="20.2" font-weight="normal" text-anchor="end">16</text>
<text x="805.3" y="565.2" font-size="20.2" font-weight="normal" text-anchor="end">18</text>
<text x="805.3" y="552.4" font-size="20.2" font-weight="normal" text-anchor="end">20</text>
<text x="805.3" y="540.8" font-size="20.2" font-weight="normal" text-anchor="end">22</text>
<text x="808.9" y="699.0" font-size="20.2" font-weight="normal" text-anchor="middle">00:00</text>
<text x="927.6" y="699.0" font-size="20.2" font-weight="normal" text-anchor="middle">06:00</text>
<text x="1046.2" y="699.0" font-size="20.2" font-weight="normal" text-anchor="middle">12:00</text>
<text x="1164.9" y="699.0" font-size="20.2" font-weight="normal" text-anchor="middle">18:00</text>
<text x="1283.6" y="699.0" font-size="20.2" font-weight="normal" text-anchor="middle">00:00</text>
<text x="770.5" y="602.0" font-size="20.2" font-weight="bold" text-anchor="middle" transform="rotate(-90 770.5 602.05)">freq (mHz)</text>
<rect x="1302.3" y="531.3" width="25.600000000000136" height="142.0" fill="url(#cb)"/>
<rect x="1302.3" y="531.3" width="25.600000000000136" height="142.0" fill="none" stroke="#808080" stroke-width=".6" opacity=".6"/>
<text x="1330.5" y="540.3" font-size="20.2" font-weight="normal" text-anchor="start">4</text>
<text x="1330.5" y="587.6" font-size="20.2" font-weight="normal" text-anchor="start">2</text>
<path d="M1302.3 578.6h3M1327.9 578.6h-3" stroke="#404040" stroke-width="1" opacity=".5"/>
<text x="1330.5" y="635.0" font-size="20.2" font-weight="normal" text-anchor="start">0</text>
<path d="M1302.3 626.0h3M1327.9 626.0h-3" stroke="#404040" stroke-width="1" opacity=".5"/>
<text x="1330.5" y="682.3" font-size="20.2" font-weight="normal" text-anchor="start">-2</text>
<text x="1371.7" y="603.0" font-size="20.2" font-weight="bold" text-anchor="middle" transform="rotate(-90 1371.7 603.0)">log<tspan font-size="15" dy="8.5">2</tspan><tspan dy="-8.5">(nT</tspan><tspan font-size="15" dy="-10.5">2</tspan><tspan dy="10.5">/Hz)</tspan></text>
<text x="1046.2" y="723.7" font-size="20.2" font-weight="bold" text-anchor="middle">UT (hours)</text>
</svg>
<i style="left:814px;top:59px;height:142px;background:linear-gradient(#00008f,#00009d 98px,#0010a0 126px,#0006a0 141px)"></i><i style="left:815px;top:59px;height:142px;background:linear-gradient(#00008f,#000096 22px,#00009b 93px,#0014ee 100px,#0080ee 111px,#0078ee 122px,#0029ee 137px,#0030ee 141px)"></i><i style="left:816px;top:59px;height:142px;background:linear-gradient(#00008f,#000095 90px,#000be9 97px,#00a1f9 110px,#00aeff 120px,#0059fb 137px,#0061fe 141px)"></i><i style="left:817px;top:59px;height:142px;background:linear-gradient(#00008f,#00009d 95px,#0018aa 106px,#0025ee 115px,#0017f1 130px,#0013e6 140px,#0014eb 141px)"></i><i style="left:818px;top:59px;height:142px;background:linear-gradient(#00008f,#00009c 90px,#0005b1 119px,#0010f2 127px,#0000ab 139px,#0000ab 141px)"></i><i style="left:819px;top:59px;height:142px;background:linear-gradient(#00008f,#00009d 32px,#000099 60px,#0000ae 67px,#00008f 74px,#00009c 87px,#000fde 93px,#0022de 99px,#0000ca 105px,#0000ad 112px,#000cde 119px,#0047eb 127px,#0000ce 139px,#0000c7 141px)"></i><i style="left:820px;top:59px;height:142px;background:linear-gradient(#00008f,#00009c 90px,#0002aa 136px,#0001ac 141px)"></i><i style="left:821px;top:59px;height:142px;background:linear-gradient(#000091,#00009e 89px,#000fa9 132px,#0020ee 141px)"></i><i style="left:822px;top:59px;height:142px;background:linear-gradient(#000097,#000095 10px,#000099 43px,#0000b1 54px,#00008f 66px,#00009c 84px,#0009de 91px,#0034de 101px,#0005de 122px,#0084f2 141px)"></i><i style="left:823px;top:59px;height:142px;background:linear-gradient(#000091,#00009e 89px,#0014a0 135px,#001cb2 141px)"></i><i style="left:824px;top:59px;height:142px;background:linear-gradient(#00008f,#00009e 120px,#0007a4 141px)"></i><i style="left:825px;top:59px;height:142px;background:linear-gradient(#000090,#00009f 29px,#0001a0 55px,#001aac 83px,#0014aa 94px,#000dab 114px,#0025ee 122px,#0063ee 132px,#003fee 141px)"></i><i style="left:826px;top:59px;height:142px;background:linear-gradient(#000094,#00008f 25px,#0009de 30px,#0042de 41px,#0000d4 60px,#0016de 69px,#0079e1 84px,#0050de 96px,#0024de 108px,#0077f2 121px,#00b8ff 131px,#008cfc 141px)"></i><i style="left:827px;top:59px;height:142px;background:linear-gradient(#000090,#00009f 29px,#0001a0 55px,#0011a0 96px,#0018a8 120px,#0029ee 130px,#001ce0 141px)"></i><i style="left:828px;top:59px;height:142px;background:linear-gradient(#00008f,#00009e 127px,#00009d 141px)"></i><i style="left:832px;top:59px;height:142px;background:linear-gradient(#00008f,#000093 64px,#000094 100px,#00008f 141px)"></i><i style="left:833px;top:59px;height:142px;background:linear-gradient(#00008f,#0000a4 12px,#00008f 39px,#000099 44px,#0002de 52px,#0000cb 59px,#00008f 69px,#0000bd 78px,#0015de 85px,#0008de 93px,#00008f 103px,#00009f 118px,#0000bc 126px,#00008f 136px,#00008f 141px)"></i><i style="left:834px;top:59px;height:142px;background:linear-gradient(#00008f,#000093 64px,#000094 100px,#00008f 141px)"></i><i style="left:839px;top:59px;height:142px;background:linear-gradient(#00008f,#00009d 74px,#000fa0 135px,#0019a0 141px)"></i><i style="left:840px;top:59px;height:142px;background:linear-gradient(#00008f,#00009a 10px,#0000aa 17px,#00008f 25px,#00009f 68px,#001aee 76px,#0021ee 83px,#000eb5 95px,#0030ee 104px,#0464ea 111px,#002fee 119px,#001ee7 128px,#139ddb 141px)"></i><i style="left:841px;top:59px;height:142px;background:linear-gradient(#00008f,#0000a3 63px,#0008df 69px,#0082ff 79px,#0065fa 87px,#004af3 95px,#00a5ff 103px,#0ce4f3 108px,#15e4ea 114px,#00a3fc 125px,#18e2e7 133px,#77f288 141px)"></i><i style="left:842px;top:59px;height:142px;background:linear-gradient(#00008f,#0008a0 71px,#0018ee 76px,#0049ee 82px,#0034ee 95px,#008bff 101px,#04f0fb 107px,#26efd9 113px,#00d2ff 123px,#12f1ed 130px,#baff45 141px)"></i><i style="left:843px;top:59px;height:142px;background:linear-gradient(#00008f,#00009e 75px,#0008a1 95px,#001dff 98px,#0083ff 103px,#05adfa 109px,#0089ff 125px,#11edee 133px,#89fa76 141px)"></i><i style="left:844px;top:59px;height:142px;background:linear-gradient(#00008f,#000091 95px,#000fee 98px,#0067ee 103px,#0085ee 110px,#0043ee 123px,#15b6d9 140px,#17c1da 141px)"></i><i style="left:845px;top:59px;height:142px;background:linear-gradient(#00008f,#00009d 97px,#0012a0 115px,#0021aa 141px)"></i><i style="left:848px;top:59px;height:142px;background:linear-gradient(#00008f,#00008f 141px)"></i><i style="left:849px;top:59px;height:142px;background:linear-gradient(#0006a0,#0000a0 104px,#0005a9 117px,#000098 139px,#00009c 141px)"></i><i style="left:850px;top:59px;height:142px;background:linear-gradient(#001cde,#0000c3 8px,#0000aa 17px,#000ede 26px,#003ede 36px,#0000cf 47px,#0000ab 56px,#0012de 67px,#0026de 76px,#0000cb 84px,#00009c 94px,#000fde 106px,#0022e1 115px,#0000c6 123px,#000099 133px,#0000c9 141px)"></i><i style="left:851px;top:59px;height:142px;background:linear-gradient(#0006a3,#000da1 33px,#0006a5 78px,#0000aa 141px)"></i><i style="left:852px;top:59px;height:142px;background:linear-gradient(#00009b,#00009a 34px,#0000af 44px,#00008f 54px,#00009c 77px,#000ade 84px,#0000ce 94px,#00008f 106px,#0000b1 116px,#000fde 124px,#001cde 134px,#0000d0 141px)"></i><i style="left:853px;top:59px;height:142px;background:linear-gradient(#000092,#00009e 82px,#00009c 119px,#00009d 141px)"></i><i style="left:859px;top:59px;height:142px;background:linear-gradient(#00008f,#00009c 104px,#000da0 141px)"></i><i style="left:860px;top:59px;height:142px;background:linear-gradient(#000096,#0011a0 58px,#0018a0 96px,#0022bd 101px,#052fea 107px,#064ae8 118px,#0034ee 134px,#0462eb 141px)"></i><i style="left:861px;top:59px;height:142px;background:linear-gradient(#0000ad,#000ade 9px,#0000cb 23px,#00009b 37px,#000ade 49px,#005de3 62px,#0029e0 85px,#0072ee 96px,#0ac9f3 105px,#22d8dd 116px,#00b8ff 131px,#11ddee 141px)"></i><i style="left:862px;top:59px;height:142px;background:linear-gradient(#000096,#0011a1 58px,#0012be 69px,#0009ac 85px,#001cee 95px,#059cea 107px,#06ace8 118px,#0087ee 134px,#04afeb 141px)"></i><i style="left:863px;top:59px;height:142px;background:linear-gradient(#00008f,#000095 34px,#000fa0 101px,#0021b1 141px)"></i><i style="left:864px;top:59px;height:142px;background:linear-gradient(#00008f,#000090 14px,#0008de 20px,#0014de 26px,#0000b9 32px,#00009b 39px,#0012de 49px,#000dde 55px,#00008f 64px,#00009a 73px,#0006e1 80px,#0004bd 87px,#000099 93px,#000aae 104px,#0017e0 111px,#000ba0 123px,#0012ae 130px,#002aee 137px,#0039ee 141px)"></i><i style="left:865px;top:59px;height:142px;background:linear-gradient(#00008f,#000095 34px,#000094 61px,#000093 72px,#000be9 78px,#0023ea 84px,#0000c3 92px,#0000cc 99px,#002de1 104px,#0071fc 112px,#0034ee 125px,#008bf8 133px,#00d9ff 140px,#00d9ff 141px)"></i><i style="left:866px;top:59px;height:142px;background:linear-gradient(#00008f,#00009d 76px,#000aa2 104px,#0016ee 109px,#002bee 116px,#0013ee 125px,#007bee 133px,#00d5ff 140px,#00d8ff 141px)"></i><i style="left:867px;top:59px;height:142px;background:linear-gradient(#00008f,#00009e 108px,#0015a0 133px,#0027ee 139px,#0037ee 141px)"></i><i style="left:868px;top:59px;height:142px;background:linear-gradient(#00008f,#00009c 137px,#0004a0 141px)"></i><i style="left:869px;top:59px;height:142px;background:linear-gradient(#00008f,#00009b 120px,#000095 141px)"></i><i style="left:870px;top:59px;height:142px;background:linear-gradient(#00008f,#00009c 117px,#000ced 122px,#0012ee 127px,#00009f 137px,#0000ba 141px)"></i><i style="left:871px;top:59px;height:142px;background:linear-gradient(#00008f,#00009a 15px,#0000a0 21px,#00008f 33px,#0000a0 41px,#0000ad 47px,#00008f 53px,#000097 66px,#0000bb 72px,#00008f 79px,#00009e 93px,#0000bd 99px,#00008f 106px,#000096 114px,#0001ed 118px,#004aff 123px,#003bff 128px,#0000e1 134px,#0000d5 139px,#0000ec 141px)"></i><i style="left:872px;top:59px;height:142px;background:linear-gradient(#00008f,#000097 95px,#00009e 100px,#000094 115px,#0014ee 120px,#003bf2 125px,#0002e1 132px,#0000bd 138px,#0000d6 141px)"></i><i style="left:873px;top:59px;height:142px;background:linear-gradient(#00008f,#00009b 118px,#0008ab 127px,#00009b 141px)"></i><i style="left:874px;top:59px;height:142px;background:linear-gradient(#00008f,#00008f 141px)"></i><i style="left:876px;top:59px;height:142px;background:linear-gradient(#00008f,#00009e 94px,#0010a0 127px,#0014a0 141px)"></i><i style="left:877px;top:59px;height:142px;background:linear-gradient(#00008f,#00009d 85px,#0008af 89px,#0019ee 97px,#0007c3 114px,#0019ee 121px,#0096ee 132px,#0086ee 140px,#007eee 141px)"></i><i style="left:878px;top:59px;height:142px;background:linear-gradient(#00008f,#000092 24px,#00009b 52px,#0000ae 60px,#00008f 69px,#00009a 81px,#000ede 87px,#005fee 96px,#0047f0 104px,#0021e5 114px,#006bf2 123px,#00d1ff 133px,#00afff 141px)"></i><i style="left:879px;top:59px;height:142px;background:linear-gradient(#00008f,#00009d 85px,#000eca 107px,#0013a8 122px,#0029f1 129px,#0047fa 137px,#0033ff 141px)"></i><i style="left:880px;top:59px;height:142px;background:linear-gradient(#00008f,#000093 62px,#000096 92px,#0006df 100px,#0003e1 111px,#0000a5 125px,#0007e1 138px,#000eee 141px)"></i><i style="left:881px;top:59px;height:142px;background:linear-gradient(#00008f,#00009d 97px,#0000ae 140px,#0002b0 141px)"></i><i style="left:882px;top:59px;height:142px;background:linear-gradient(#000091,#00009c 107px,#0014b5 114px,#001ce7 122px,#0013cf 137px,#0018eb 141px)"></i><i style="left:883px;top:59px;height:142px;background:linear-gradient(#0006a9,#0000a5 9px,#0007a0 31px,#0003c0 45px,#0012a0 53px,#0000a3 72px,#000ccd 81px,#0008a0 92px,#0000a5 104px,#0010ed 109px,#007cf7 116px,#0086fd 125px,#006cf9 138px,#007afe 141px)"></i><i style="left:884px;top:59px;height:142px;background:linear-gradient(#001adf,#0000cd 6px,#0010de 14px,#0055de 23px,#0017de 32px,#0000cf 39px,#0018e9 46px,#0057de 55px,#000be8 67px,#001feb 74px,#0063f3 86px,#0226e5 96px,#1126b4 101px,#1433eb 110px,#0875f7 117px,#1564ea 128px,#1d8ce2 135px,#126bed 141px)"></i><i style="left:885px;top:59px;height:142px;background:linear-gradient(#0006a0,#0005a0 32px,#0000a4 42px,#000aca 48px,#0010b3 58px,#000efc 64px,#03b1f9 73px,#04bffb 80px,#00a1ff 89px,#19d9e4 96px,#7ad97f 102px,#89d976 108px,#35e4ca 119px,#6ce093 126px,#ace653 133px,#83e47c 140px,#75e28a 141px)"></i><i style="left:886px;top:59px;height:142px;background:linear-gradient(#00008f,#00009d 41px,#0000d5 47px,#0000c6 58px,#000ee7 62px,#04ceeb 72px,#1fd3d5 78px,#00bdf3 87px,#1cd3e3 93px,#b4fc4b 103px,#b5ff4a 109px,#66f799 119px,#93ff6c 125px,#def521 131px,#d0ff2f 139px,#b2ff4d 141px)"></i><i style="left:887px;top:59px;height:142px;background:linear-gradient(#00008f,#000ea0 65px,#0726ab 76px,#0025c1 89px,#093ce5 94px,#22cdcc 103px,#1dccd2 113px,#15b6da 120px,#26d9c8 125px,#7cd680 132px,#6dd991 139px,#55d9a6 141px)"></i><i style="left:888px;top:59px;height:142px;background:linear-gradient(#00008f,#000ca0 96px,#0025a0 112px,#0a26a1 128px,#1428da 135px,#0c26d0 141px)"></i><i style="left:889px;top:59px;height:142px;background:linear-gradient(#00008f,#00009d 116px,#0006af 133px,#0000ad 141px)"></i><i style="left:890px;top:59px;height:142px;background:linear-gradient(#00008f,#00009d 83px,#0018b3 91px,#001cc9 98px,#000fa0 108px,#0018c4 114px,#0032ee 118px,#0a74e5 125px,#003fee 133px,#001ce9 139px,#001dee 141px)"></i><i style="left:891px;top:59px;height:142px;background:linear-gradient(#00008f,#000099 30px,#00009e 37px,#00008f 57px,#0000bb 65px,#00008f 74px,#0000a6 80px,#0004de 84px,#0072e9 91px,#0081f5 98px,#0049e6 109px,#0082f9 115px,#0cd1f3 120px,#2ae2d5 127px,#00c3ff 133px,#0092fe 139px,#0098ff 141px)"></i><i style="left:892px;top:59px;height:142px;background:linear-gradient(#00008f,#00009d 83px,#0016b4 90px,#001de7 97px,#0010c8 109px,#0023ee 114px,#07a2e8 122px,#08b1e6 128px,#0063ee 139px,#006aee 141px)"></i><i style="left:893px;top:59px;height:142px;background:linear-gradient(#00008f,#000ca0 117px,#0015a0 133px,#0011a0 141px)"></i><i style="left:894px;top:59px;height:142px;background:linear-gradient(#00008f,#00009b 39px,#0007a0 141px)"></i><i style="left:895px;top:59px;height:142px;background:linear-gradient(#00008f,#000097 37px,#000dde 41px,#0012de 45px,#0000b8 50px,#00009e 56px,#0011de 63px,#0032de 69px,#0000d0 75px,#0000a9 81px,#0010de 88px,#0034df 94px,#0000c9 101px,#0000a8 107px,#0013de 114px,#0030e5 120px,#0000ce 126px,#0000a4 132px,#000ae0 139px,#0020e5 141px)"></i><i style="left:896px;top:59px;height:142px;background:linear-gradient(#00008f,#00009b 39px,#000aa0 91px,#0004a1 114px,#000ac4 120px,#000096 129px,#0002ad 139px,#0007c5 141px)"></i><i style="left:897px;top:59px;height:142px;background:linear-gradient(#00008f,#000097 141px)"></i><i style="left:899px;top:59px;height:142px;background:linear-gradient(#00008f,#00009d 125px,#000099 141px)"></i><i style="left:900px;top:59px;height:142px;background:linear-gradient(#00008f,#00009e 95px,#0007a0 110px,#0014a4 121px,#002bee 127px,#0035ee 133px,#0016cf 141px)"></i><i style="left:901px;top:59px;height:142px;background:linear-gradient(#00008f,#00009b 38px,#0000a3 44px,#00008f 54px,#00009d 66px,#0000b4 72px,#00008f 80px,#00009e 93px,#000dde 96px,#004ceb 100px,#001ee5 115px,#0071f3 122px,#00c8ff 129px,#00a9ff 135px,#0072f8 141px)"></i><i style="left:902px;top:59px;height:142px;background:linear-gradient(#00008f,#00009e 95px,#0010e1 100px,#0006c1 115px,#0017ee 120px,#008bee 128px,#0080f4 134px,#0044fc 141px)"></i><i style="left:903px;top:59px;height:142px;background:linear-gradient(#00009e,#00009c 39px,#00009e 85px,#0000a5 108px,#0017b0 130px,#0017f1 141px)"></i><i style="left:904px;top:59px;height:142px;background:linear-gradient(#0000d3,#0000bf 11px,#00008f 22px,#00009f 33px,#000ede 44px,#000bde 55px,#000095 73px,#000fde 89px,#0018de 100px,#0000c2 109px,#0000a2 120px,#000de0 132px,#003ceb 141px)"></i><i style="left:905px;top:59px;height:142px;background:linear-gradient(#00009e,#00009c 39px,#00009e 85px,#000da0 141px)"></i><i style="left:906px;top:59px;height:142px;background:linear-gradient(#00008f,#00009d 119px,#0013a0 141px)"></i><i style="left:907px;top:59px;height:142px;background:linear-gradient(#00008f,#00009e 115px,#000fee 121px,#004dee 137px,#0074ee 141px)"></i><i style="left:908px;top:59px;height:142px;background:linear-gradient(#00008f,#000094 21px,#000099 54px,#0000b3 64px,#00008f 76px,#00009c 99px,#0000b7 110px,#0000ae 113px,#000fe5 117px,#003cef 121px,#0074fd 137px,#009eff 141px)"></i><i style="left:909px;top:59px;height:142px;background:linear-gradient(#00008f,#0009a0 119px,#0016e4 137px,#0035ee 141px)"></i><i style="left:910px;top:59px;height:142px;background:linear-gradient(#00008f,#000095 42px,#0005a9 141px)"></i><i style="left:911px;top:59px;height:142px;background:linear-gradient(#00008f,#00009f 16px,#0009de 26px,#0000cb 37px,#000090 50px,#0011de 65px,#0025de 75px,#0000c9 84px,#0000a4 94px,#000ede 106px,#0036e6 116px,#0000cf 128px,#0000af 138px,#0000ba 141px)"></i><i style="left:912px;top:59px;height:142px;background:linear-gradient(#00008f,#000095 42px,#0006a4 108px,#000bc3 118px,#000098 132px,#000099 141px)"></i><i style="left:913px;top:59px;height:142px;background:linear-gradient(#00008f,#00008f 141px)"></i><i style="left:917px;top:59px;height:142px;background:linear-gradient(#00008f,#00009e 86px,#0007a0 108px,#0015a0 141px)"></i><i style="left:918px;top:59px;height:142px;background:linear-gradient(#0001a0,#0011a0 28px,#0011a0 49px,#001bcd 63px,#000ba1 77px,#0028ee 88px,#0075ee 97px,#0043ee 107px,#001aee 117px,#019ded 134px,#0084ee 141px)"></i><i style="left:919px;top:59px;height:142px;background:linear-gradient(#0005de,#0047de 11px,#0077de 20px,#0013de 39px,#0058ed 50px,#009ff8 59px,#006ef1 70px,#0056f0 79px,#0cd9f3 93px,#1ee0e1 101px,#227fdd 115px,#19ade6 124px,#1ff2e0 133px,#26dcd9 141px)"></i><i style="left:920px;top:59px;height:142px;background:linear-gradient(#26198b,#26168b 46px,#2620d9 51px,#1e9ad9 60px,#25abd9 70px,#26b8d9 83px,#37d8c8 89px,#bdd136 105px,#bcc53f 116px,#94e36b 130px,#d7d728 141px)"></i><i style="left:921px;top:59px;height:142px;background:linear-gradient(#b2722b,#b2203c 12px,#b2603c 27px,#b2813c 39px,#cb2f2c 53px,#b63f26 64px,#d95b26 74px,#d77f28 86px,#de3c11 97px,#c93101 109px,#f5490a 120px,#f07c0f 130px,#ff4100 141px)"></i><i style="left:922px;top:59px;height:142px;background:linear-gradient(#26187a,#260d7a 6px,#2615c8 11px,#2676c8 21px,#30c5bf 41px,#d3b926 56px,#d5b526 68px,#c7ce38 81px,#d9bd26 90px,#d9581a 106px,#de8021 118px,#e2bc1d 130px,#fe7b01 141px)"></i><i style="left:923px;top:59px;height:142px;background:linear-gradient(#00008f,#04269c 42px,#162696 49px,#2229dd 54px,#26a4d9 63px,#26bbd9 71px,#247edb 85px,#26c7d9 95px,#3ce9c3 100px,#71e38e 108px,#36f4c9 125px,#84f57b 133px,#f9ea06 141px)"></i><i style="left:924px;top:59px;height:142px;background:linear-gradient(#00008f,#00009b 49px,#0003ee 54px,#0084ff 63px,#009eff 70px,#0056f4 84px,#008cff 92px,#09e8f6 99px,#4ae1b5 107px,#0fdff0 125px,#5deda2 133px,#d7ff28 141px)"></i><i style="left:925px;top:59px;height:142px;background:linear-gradient(#0000a0,#0015a0 27px,#0016b1 54px,#002ec3 58px,#0744f8 64px,#0549fa 71px,#002bc9 83px,#0044ff 91px,#0e92f1 99px,#0f6af0 108px,#0249fd 122px,#1dade2 133px,#3cffc3 141px)"></i><i style="left:926px;top:59px;height:142px;background:linear-gradient(#0001de,#0000b8 13px,#000ade 19px,#006dde 29px,#0059de 37px,#002bde 46px,#0065de 54px,#08b2e2 61px,#22b6d5 69px,#009dec 76px,#0081e9 84px,#0cbef3 92px,#3ad8c5 100px,#00b1ff 111px,#008dff 118px,#12d7ed 127px,#3df0c2 135px,#21f9de 141px)"></i><i style="left:927px;top:59px;height:142px;background:linear-gradient(#0000a0,#0015a0 27px,#0016a0 54px,#0726a7 64px,#0326c5 72px,#002dca 84px,#0040ff 90px,#0c97f3 100px,#007cff 111px,#006eff 119px,#0dfaf2 135px,#15e2ea 141px)"></i><i style="left:928px;top:59px;height:142px;background:linear-gradient(#00008f,#0012a0 47px,#0226a3 65px,#0426af 74px,#1135e0 79px,#1b80dc 86px,#0867f7 100px,#22e3dd 112px,#26e1d9 118px,#0cc0f3 129px,#25feda 136px,#6af995 141px)"></i><i style="left:929px;top:59px;height:142px;background:linear-gradient(#00008f,#000097 17px,#0013e7 23px,#0036ed 29px,#0007e2 40px,#0042ee 46px,#05cbea 53px,#28d2c6 59px,#00c9ee 70px,#42d8bc 78px,#8beb74 85px,#5ae8a5 92px,#24dadb 99px,#57efa8 106px,#afff50 114px,#85fe7a 120px,#39f1c6 128px,#60fc9f 134px,#caff35 141px)"></i><i style="left:930px;top:59px;height:142px;background:linear-gradient(#00008f,#00009f 20px,#000be9 27px,#0001b4 40px,#000eed 46px,#04a5eb 54px,#08b8e6 60px,#0092ee 70px,#1ad9d4 79px,#55d99a 85px,#24d9ca 92px,#08b8e7 99px,#22d9cd 106px,#75d988 113px,#5ed99e 119px,#0dd3e3 127px,#21d9d5 133px,#89e676 141px)"></i><i style="left:931px;top:59px;height:142px;background:linear-gradient(#00008f,#000ea0 50px,#0017a0 67px,#0926a1 108px,#1226d8 116px,#0025a9 129px,#0d36e1 137px,#1663d8 141px)"></i><i style="left:932px;top:59px;height:142px;background:linear-gradient(#00008f,#00009c 84px,#0020a0 98px,#0226a6 122px,#001cb1 141px)"></i><i style="left:933px;top:59px;height:142px;background:linear-gradient(#00008f,#00009e 48px,#09269f 82px,#172dd8 85px,#26a7c8 91px,#26b4c8 100px,#1b9ed3 112px,#31d9bd 122px,#2ad9c4 129px,#046ceb 141px)"></i><i style="left:934px;top:59px;height:142px;background:linear-gradient(#00008f,#00009d 43px,#000bee 49px,#0074ee 58px,#0079ee 74px,#00c0ee 79px,#18d9d7 81px,#d6eb29 89px,#d9cc26 93px,#c3f53c 103px,#95f26a 112px,#d4ff2b 125px,#91fb6e 132px,#11e5ee 141px)"></i><i style="left:935px;top:59px;height:142px;background:linear-gradient(#00008f,#00009b 12px,#000ade 20px,#0000cb 31px,#0000ac 40px,#0009e9 47px,#007aee 57px,#007dee 65px,#0077ee 74px,#00baf9 79px,#10daef 81px,#d9eb26 90px,#d9d626 94px,#c4f03b 101px,#82ee7d 112px,#c0ff3f 126px,#79ff86 133px,#0ef9f1 140px,#0af0f5 141px)"></i><i style="left:936px;top:59px;height:142px;background:linear-gradient(#000098,#0003a7 25px,#0011b0 46px,#002fb1 65px,#003dba 76px,#0e51f1 81px,#44c1bb 90px,#39b9c6 101px,#25aada 111px,#49ffb6 122px,#82fb7d 129px,#5bffa4 138px,#3ffcc0 141px)"></i><i style="left:937px;top:59px;height:142px;background:linear-gradient(#0000b6,#0011de 7px,#0014de 16px,#0000bf 23px,#0000a2 31px,#000ede 40px,#0071de 51px,#0083ee 69px,#10bee7 78px,#92f36d 91px,#6aee95 101px,#49e6b6 111px,#8afc75 120px,#d3f62c 127px,#d5fa2a 136px,#aaff55 141px)"></i><i style="left:938px;top:59px;height:142px;background:linear-gradient(#0010a8,#001aa4 28px,#013fbf 62px,#0d50f2 68px,#1184ee 76px,#158eea 80px,#1df8e2 89px,#29f5d6 96px,#18dce7 110px,#33ffcc 118px,#92f76d 129px,#7ff780 138px,#66fa99 141px)"></i><i style="left:939px;top:59px;height:142px;background:linear-gradient(#004bde,#000ede 12px,#004ede 23px,#00a1de 35px,#0079de 53px,#0eb2dc 63px,#54c8ab 72px,#27ced8 82px,#00c7fd 88px,#01acfa 98px,#0dddf2 106px,#39f0c6 116px,#16d5e9 128px,#15b7ea 137px,#0fcff0 141px)"></i><i style="left:940px;top:59px;height:142px;background:linear-gradient(#0010a0,#0011a0 23px,#0019a0 50px,#0126ae 62px,#0d36e1 68px,#115fdd 76px,#0023e5 88px,#001cd7 97px,#003aee 103px,#0c93e2 114px,#0072ff 126px,#003dfd 135px,#005cfe 141px)"></i><i style="left:941px;top:59px;height:142px;background:linear-gradient(#00008f,#00009b 58px,#001cb1 76px,#0629ab 102px,#063ec0 116px,#124aed 121px,#155fea 127px,#042eec 136px,#0433f5 141px)"></i><i style="left:942px;top:59px;height:142px;background:linear-gradient(#000097,#000ca3 55px,#002cee 60px,#078ae7 66px,#068de8 72px,#0065ee 80px,#0cbde2 88px,#35d9b9 92px,#58d997 98px,#0bcae3 107px,#1ed9d2 115px,#85e07a 123px,#73e08c 129px,#1ad9e1 138px,#22d9dc 141px)"></i><i style="left:943px;top:59px;height:142px;background:linear-gradient(#0000b2,#0011de 5px,#001dde 11px,#0000c6 17px,#0000af 24px,#000ede 30px,#004cde 37px,#0019de 51px,#0068e9 58px,#05c1ea 63px,#29cbcf 69px,#00b1f2 78px,#0fc9ee 85px,#90f56f 95px,#82f57d 100px,#2fe4d0 108px,#41eebe 114px,#bbff44 124px,#93ff6c 130px,#40f4bf 138px,#47f6b8 141px)"></i><i style="left:944px;top:59px;height:142px;background:linear-gradient(#000097,#0013a0 57px,#0626ab 65px,#0626c5 72px,#0023ba 81px,#093de5 87px,#1caad2 95px,#18a0d7 101px,#096de5 110px,#1acad4 119px,#40d9ae 126px,#15c3da 133px,#0da8e1 140px,#0eade0 141px)"></i><i style="left:945px;top:59px;height:142px;background:linear-gradient(#00008f,#000ca0 89px,#0015a0 104px,#001da0 136px,#001da0 141px)"></i><i style="left:946px;top:59px;height:142px;background:linear-gradient(#00008f,#00009e 76px,#0008a0 94px,#0017a0 124px,#0021a0 141px)"></i><i style="left:947px;top:59px;height:142px;background:linear-gradient(#00009f,#0002a0 31px,#0013a0 49px,#0016a9 71px,#0037ee 78px,#0a78e4 85px,#004aee 94px,#0031ee 101px,#0fbcdf 115px,#079ce7 123px,#0065ee 131px,#09b3e6 140px,#0bbfe3 141px)"></i><i style="left:948px;top:59px;height:142px;background:linear-gradient(#2621c4,#26179f 7px,#262ec8 14px,#216ece 22px,#2649c8 28px,#2616c0 33px,#261db0 40px,#2536c9 44px,#24a5cb 53px,#267ec8 68px,#14c9eb 77px,#49e9b6 84px,#30e6cf 91px,#06b3f9 101px,#16ebe9 108px,#61f99e 116px,#30f2cf 123px,#04dbfb 128px,#01d9fe 134px,#29f4d6 139px,#44fabb 141px)"></i><i style="left:949px;top:59px;height:142px;background:linear-gradient(#b29b3b,#b26a33 7px,#a1bc4d 17px,#9ec251 23px,#b2a93c 27px,#b2633c 34px,#b2a03e 42px,#93c862 50px,#b2bc4c 57px,#b2b04c 64px,#a8d457 69px,#5ed6a1 76px,#86e879 83px,#a3f25c 89px,#3bdac4 98px,#0fd6f0 104px,#40e7bf 110px,#81f67e 117px,#53f0ac 123px,#03defc 130px,#16eae9 136px,#57f5a8 141px)"></i><i style="left:950px;top:59px;height:142px;background:linear-gradient(#26217a,#26167e 33px,#261b9b 39px,#1f268e 48px,#2637c8 55px,#2681c8 63px,#1e55d0 71px,#143aeb 77px,#21b2de 90px,#1a94e5 96px,#1d59e2 103px,#228fdd 110px,#2cd5d3 117px,#31aece 124px,#266ad9 131px,#32a8cd 139px,#37c3c8 141px)"></i><i style="left:951px;top:59px;height:142px;background:linear-gradient(#00008f,#00009c 32px,#000fa6 50px,#0027b1 59px,#183899 67px,#262a95 72px,#2622d9 77px,#2673d9 88px,#32cdcd 95px,#8bb66e 101px,#96bb68 108px,#80da7f 117px,#d5c126 125px,#c66726 132px,#cc7b26 139px,#d08e26 141px)"></i><i style="left:952px;top:59px;height:142px;background:linear-gradient(#0018a0,#001ba0 19px,#0016a9 29px,#0031ee 34px,#0689e8 41px,#0076ee 48px,#0053ee 56px,#07d4e7 62px,#d0d61e 70px,#d99526 77px,#d9bb26 86px,#d96b26 94px,#dd2714 99px,#df270d 106px,#ec6813 117px,#ec2800 125px,#9d1200 133px,#d51800 141px)"></i><i style="left:953px;top:59px;height:142px;background:linear-gradient(#0071de,#08b2d5 8px,#00a6de 15px,#0056de 25px,#0091ee 33px,#09c0e5 37px,#12c8dc 44px,#007eee 56px,#0ed3e1 61px,#d3d91f 69px,#d99826 75px,#d9b826 87px,#db4124 97px,#d6261a 101px,#e1381d 108px,#da7e25 116px,#e2591d 122px,#dd260e 127px,#b62603 134px,#e8260b 141px)"></i><i style="left:954px;top:59px;height:142px;background:linear-gradient(#0018a0,#001ba0 19px,#0c2694 63px,#262689 69px,#261ec8 73px,#263ac8 80px,#264ec8 88px,#31b8bd 97px,#62b28a 103px,#2cc3c3 117px,#8ab365 126px,#bfb224 133px,#a5b248 141px)"></i><i style="left:955px;top:59px;height:142px;background:linear-gradient(#00008f,#00009e 72px,#0021a0 95px,#15268b 126px,#1b2685 141px)"></i><i style="left:956px;top:59px;height:142px;background:linear-gradient(#00008f,#00009f 51px,#0015a0 84px,#0018a0 115px,#0010a0 135px,#000fa0 141px)"></i><i style="left:957px;top:59px;height:142px;background:linear-gradient(#000091,#0010aa 29px,#000da1 46px,#0025ee 52px,#015bed 58px,#001eee 74px,#0eaae0 89px,#0687e8 97px,#004cee 106px,#12c7dc 122px,#0692e9 131px,#0063ee 139px,#006aee 141px)"></i><i style="left:958px;top:59px;height:142px;background:linear-gradient(#000095,#00009a 10px,#0012de 17px,#0055e1 25px,#000fde 41px,#007fed 51px,#02bdec 57px,#00a2ee 65px,#007eee 74px,#0dc4f2 82px,#45e2ba 90px,#00b8ff 102px,#00aeff 108px,#1adee5 114px,#53faac 122px,#1be5e4 131px,#00c3ff 137px,#00caff 141px)"></i><i style="left:959px;top:59px;height:142px;background:linear-gradient(#000091,#0006a0 35px,#0020a0 66px,#001da7 76px,#032feb 82px,#0f7fe4 90px,#0057f5 100px,#0046ff 107px,#15f6ea 121px,#13dfec 129px,#00a5ff 139px,#00acff 141px)"></i><i style="left:960px;top:59px;height:142px;background:linear-gradient(#00008f,#00009e 73px,#0033ca 94px,#002bf3 105px,#0c74f3 111px,#21f8de 119px,#50f9af 128px,#18dfe7 141px)"></i><i style="left:961px;top:59px;height:142px;background:linear-gradient(#00008f,#00009d 41px,#00008f 69px,#0009e2 74px,#0094ee 83px,#00b3f3 92px,#00b6f9 103px,#13d8ec 108px,#b2fe4d 119px,#dbf824 126px,#c4ff3b 133px,#7ffc80 141px)"></i><i style="left:962px;top:59px;height:142px;background:linear-gradient(#00008f,#00009a 72px,#0021ee 78px,#007dee 86px,#0091ee 103px,#19d9d9 111px,#93e56c 119px,#bcef43 127px,#66e899 141px)"></i><i style="left:963px;top:59px;height:142px;background:linear-gradient(#00008f,#00009c 76px,#0326ac 111px,#102edf 115px,#2090cf 125px,#1781d7 136px,#116bdd 141px)"></i><i style="left:964px;top:59px;height:142px;background:linear-gradient(#00008f,#00009e 114px,#0012a0 137px,#000fa0 141px)"></i><i style="left:966px;top:59px;height:142px;background:linear-gradient(#00008f,#00009e 132px,#0003a0 141px)"></i><i style="left:967px;top:59px;height:142px;background:linear-gradient(#00008f,#00009d 70px,#001ca0 100px,#0021a5 125px,#072ee7 135px,#0633e8 141px)"></i><i style="left:968px;top:59px;height:142px;background:linear-gradient(#00008f,#000095 66px,#0004ee 72px,#00aaee 88px,#00a9ee 98px,#0061ee 112px,#009bee 122px,#10d9ea 130px,#29dcd6 139px,#21dbde 141px)"></i><i style="left:969px;top:59px;height:142px;background:linear-gradient(#00008f,#00009e 63px,#0009b6 67px,#001bff 72px,#00c5ff 87px,#00caff 96px,#007fff 111px,#0accf5 123px,#1cffe3 130px,#2bffd4 139px,#21ffde 141px)"></i><i style="left:970px;top:59px;height:142px;background:linear-gradient(#00008f,#0018a0 54px,#001fb3 59px,#0536e9 65px,#1bc1e4 77px,#18dbe7 87px,#09a7f6 105px,#2aeed5 118px,#5affa5 128px,#27ffd8 139px,#16ffe9 141px)"></i><i style="left:971px;top:59px;height:142px;background:linear-gradient(#00008f,#00009d 26px,#0010de 34px,#0093e2 59px,#0eb3e0 64px,#75da8a 75px,#76e689 86px,#28d3d7 103px,#65f59a 116px,#a3ff5c 127px,#5ef9a1 139px,#4df7b2 141px)"></i><i style="left:972px;top:59px;height:142px;background:linear-gradient(#00008f,#0018a0 54px,#0826a7 66px,#1432db 71px,#1c7cd2 82px,#0957e6 104px,#25d9c9 124px,#18cfd6 136px,#11b2de 141px)"></i><i style="left:973px;top:59px;height:142px;background:linear-gradient(#00008f,#00009d 69px,#000aa0 98px,#0022a0 138px,#001ea8 141px)"></i><i style="left:974px;top:59px;height:142px;background:linear-gradient(#00008f,#00009a 90px,#0023a0 115px,#0326a4 139px,#0826bb 141px)"></i><i style="left:975px;top:59px;height:142px;background:linear-gradient(#00008f,#00009c 56px,#0011a0 74px,#0e2699 88px,#1b2cd3 92px,#1f58cf 99px,#1957d5 107px,#33cdbb 117px,#5fc78f 123px,#25d3c9 135px,#4dd3a9 141px)"></i><i style="left:976px;top:59px;height:142px;background:linear-gradient(#00008f,#0010a0 31px,#0426aa 54px,#0f28df 57px,#1e8ad0 64px,#127edc 78px,#28d9c6 85px,#99c864 91px,#b9ce46 98px,#9bd864 107px,#d9cf26 114px,#e4871b 121px,#e1a81e 127px,#d5ed2a 134px,#dedb21 140px,#e1ce1e 141px)"></i><i style="left:977px;top:59px;height:142px;background:linear-gradient(#00009f,#0009de 7px,#0000a2 20px,#0008ee 27px,#009fee 35px,#00a7ee 42px,#00a5ee 49px,#04d9eb 53px,#94e86b 61px,#a5f05a 67px,#61ea9e 77px,#9df862 83px,#dcfc23 86px,#f68d09 93px,#f89107 99px,#f1c40e 106px,#fc8f03 112px,#ff1e00 120px,#ff2d00 125px,#fea601 134px,#ff9c00 139px,#ff8200 141px)"></i><i style="left:978px;top:59px;height:142px;background:linear-gradient(#0000d7,#0029eb 7px,#0000da 14px,#0000b8 20px,#0009ec 26px,#00a6ee 35px,#00aaee 42px,#00a4ee 49px,#01d9ed 53px,#8fe370 61px,#9dea62 67px,#58e3a7 77px,#92f06d 83px,#daf425 87px,#ec9913 93px,#ed9e12 99px,#e6d119 106px,#f19d0e 112px,#ff3400 121px,#ff6100 127px,#f2b80d 135px,#f99606 141px)"></i><i style="left:979px;top:59px;height:142px;background:linear-gradient(#00009f,#0010a0 30px,#03269f 54px,#1129e0 58px,#1d74e2 65px,#147feb 78px,#34dbcb 85px,#42febd 87px,#9fed60 93px,#9cf063 100px,#7df782 107px,#ebd614 118px,#f3c60c 124px,#e9e916 129px,#c3ee3c 137px,#e3e81c 141px)"></i><i style="left:980px;top:59px;height:142px;background:linear-gradient(#00008f,#00009a 56px,#001fff 66px,#05e3fa 77px,#b4ff4b 91px,#c0ff3f 99px,#77ff88 111px,#bbfa44 124px,#f3f40c 133px,#f9e006 141px)"></i><i style="left:981px;top:59px;height:142px;background:linear-gradient(#00008f,#000099 57px,#000eee 66px,#05d9f0 77px,#a6ff59 90px,#baff45 99px,#87ff78 110px,#a2e75d 121px,#ffeb00 133px,#ffcd00 141px)"></i><i style="left:982px;top:59px;height:142px;background:linear-gradient(#000090,#00009e 60px,#002bc1 76px,#0944f6 80px,#27efd8 87px,#7dff82 94px,#8eff71 105px,#eaf115 111px,#eb8514 117px,#f16e0e 123px,#ffc400 134px,#ff8900 141px)"></i><i style="left:983px;top:59px;height:142px;background:linear-gradient(#000090,#00009c 28px,#000098 35px,#00009a 56px,#000bde 73px,#0052ec 79px,#09c8f2 84px,#8ff470 92px,#adfe52 105px,#dce423 109px,#ff5300 117px,#ff3600 122px,#f9a006 134px,#ff7600 140px,#ff6500 141px)"></i><i style="left:984px;top:59px;height:142px;background:linear-gradient(#000090,#000ea0 78px,#001fac 82px,#062cee 85px,#1ca3da 92px,#29d9c6 106px,#d8be27 116px,#d9a226 123px,#c5d33a 131px,#ccd233 138px,#d9bf26 141px)"></i><i style="left:985px;top:59px;height:142px;background:linear-gradient(#00008f,#00009d 65px,#0226a7 82px,#0535d3 88px,#0b42b8 109px,#265ad9 116px,#318ece 123px,#2992d6 132px,#2288dd 137px,#26b2d9 141px)"></i><i style="left:986px;top:59px;height:142px;background:linear-gradient(#00008f,#00009e 40px,#0000a1 49px,#00008f 60px,#0000de 66px,#0064e8 72px,#0bc3e5 82px,#0ec7e8 91px,#0081ef 106px,#00befe 115px,#38e7c7 126px,#00c4ff 141px)"></i><i style="left:987px;top:59px;height:142px;background:linear-gradient(#00008f,#00009d 65px,#000ca4 69px,#001bfa 74px,#0390fc 83px,#0395fc 91px,#004eff 104px,#0090ff 113px,#0bedf4 124px,#04c5fb 135px,#009fff 141px)"></i><i style="left:988px;top:59px;height:142px;background:linear-gradient(#00008f,#00009e 45px,#0021ad 69px,#072cf7 74px,#169ce9 83px,#0f8cf0 91px,#0462fb 101px,#12b6ed 110px,#28f1d7 117px,#15eeea 125px,#08b5f7 135px,#0fd2f0 141px)"></i><i style="left:989px;top:59px;height:142px;background:linear-gradient(#00008f,#0000a2 10px,#0000a6 18px,#00008f 26px,#000095 42px,#0006de 46px,#005cde 54px,#007ade 66px,#0db2e9 72px,#69dd96 83px,#34d0cb 93px,#15caea 102px,#8dff72 118px,#26e3d9 135px,#46f4b9 141px)"></i><i style="left:990px;top:59px;height:142px;background:linear-gradient(#00009b,#00009e 45px,#0021ac 69px,#072ce7 74px,#168ad8 83px,#0d72e1 92px,#0459ea 101px,#10a3ef 109px,#24f2db 116px,#15e1ea 125px,#08b2f7 134px,#19e4e6 141px)"></i><i style="left:991px;top:59px;height:142px;background:linear-gradient(#261baf,#261a7a 2px,#0019a0 37px,#00008f 53px,#00009d 70px,#013baf 82px,#0935a8 104px,#173fe8 108px,#27b8d8 115px,#27c4d8 122px,#20a6df 131px,#37ebc8 139px,#54eaab 141px)"></i><i style="left:992px;top:59px;height:142px;background:linear-gradient(#b27f36,#b29b2b 8px,#91cf5d 14px,#49c9a5 28px,#26a7c8 34px,#2612bf 44px,#261b7a 48px,#0426ac 69px,#0138ed 73px,#0ebce0 79px,#2cd9c3 84px,#0fd4e0 100px,#7ed97d 107px,#d9db26 113px,#d9c926 120px,#bee841 127px,#ccec33 134px,#e0ad1f 140px,#e39f1c 141px)"></i><i style="left:993px;top:59px;height:142px;background:linear-gradient(#261b7a,#26217a 8px,#2627c8 10px,#1dc8d1 15px,#93d95b 21px,#c0d02e 24px,#b67d49 30px,#c96b36 38px,#d9851c 46px,#c9ca25 53px,#4dc5a1 65px,#26c8d9 75px,#91e16e 83px,#89ed76 90px,#58fea7 100px,#b3ff4c 107px,#e9c916 112px,#f4a10b 118px,#e2ec1d 130px,#f5b50a 137px,#ff7800 141px)"></i><i style="left:994px;top:59px;height:142px;background:linear-gradient(#0024a0,#1036a1 12px,#2b4c86 22px,#293d8c 28px,#274ad8 30px,#26dbd9 34px,#c9e636 41px,#ebbc14 51px,#db9a24 67px,#e74816 80px,#e58512 90px,#dbdb24 96px,#45f2ba 106px,#c1ea3e 115px,#c5ef3a 121px,#8ffb70 131px,#c2f03d 137px,#f4de0b 141px)"></i><i style="left:995px;top:59px;height:142px;background:linear-gradient(#00a7e8,#50cd9e 14px,#13c7db 27px,#00d3ff 32px,#44f1bb 44px,#9cf063 57px,#abec54 64px,#ffe100 68px,#ff3d00 77px,#ed2a00 81px,#d82a00 90px,#fd4502 96px,#ddc322 108px,#eee611 122px,#9cef63 135px,#cafd35 141px)"></i><i style="left:996px;top:59px;height:142px;background:linear-gradient(#0024d3,#0335eb 3px,#119ddd 13px,#0eacf1 27px,#269dd9 38px,#41ffbe 50px,#89fd76 60px,#fbe804 67px,#ffac00 73px,#e7c614 81px,#d8d51f 84px,#d36d26 92px,#eaac15 110px,#fa7505 127px,#eeac11 136px,#f4f40b 141px)"></i><i style="left:997px;top:59px;height:142px;background:linear-gradient(#0326a8,#263e8f 19px,#2644d9 21px,#26d1d9 25px,#8add75 29px,#d7de28 33px,#d2c62d 40px,#b2f64d 51px,#d9b526 72px,#bbce34 77px,#26d0c8 86px,#266fc8 93px,#30c8cd 103px,#d9c926 119px,#ec8813 131px,#f2c40d 140px,#f1d00e 141px)"></i><i style="left:998px;top:59px;height:142px;background:linear-gradient(#2bd9c3,#73d97b 6px,#b2a332 19px,#c2942c 28px,#d9c216 37px,#97d157 42px,#26cbc8 49px,#266fc8 58px,#2623c8 73px,#1d268f 78px,#0040b1 90px,#1742a0 97px,#204cda 104px,#2e58d1 116px,#3ef0c1 124px,#a9ea56 132px,#abf354 140px,#a6f559 141px)"></i><i style="left:999px;top:59px;height:142px;background:linear-gradient(#8fd95f,#1dd9d1 6px,#2426c9 15px,#261e7b 22px,#142e9d 43px,#0034b1 60px,#0931b2 65px,#0326d8 74px,#0026df 79px,#095be6 84px,#1dd7d1 90px,#88d267 96px,#acd051 103px,#58e0a7 117px,#9aff65 125px,#cbff34 131px,#a6ff59 137px,#65ff9a 141px)"></i><i style="left:1000px;top:59px;height:142px;background:linear-gradient(#1e3d93,#000eb1 12px,#000fa1 22px,#0023ee 27px,#0054ee 33px,#0027ee 47px,#007aee 55px,#0cc9e3 61px,#2acccb 68px,#00befc 79px,#44dfbb 86px,#baff45 92px,#e1cf1e 101px,#c1ff3e 109px,#7ff780 116px,#a5fc5a 124px,#c9ff36 130px,#92f86d 137px,#4debb2 141px)"></i><i style="left:1001px;top:59px;height:142px;background:linear-gradient(#006ce1,#000fe1 12px,#002eee 19px,#007df8 31px,#0020ff 46px,#0068ff 56px,#08adf7 64px,#039afc 74px,#0589fa 80px,#1ff2e0 90px,#6dee92 96px,#70f88f 105px,#20f2df 112px,#18cce7 119px,#35ffca 130px,#28e8d7 136px,#11a2ee 141px)"></i><i style="left:1002px;top:59px;height:142px;background:linear-gradient(#0017b1,#0005a0 10px,#0014ee 18px,#002bee 24px,#0012c9 36px,#0019ee 41px,#007cff 50px,#0054f7 64px,#00a2ff 71px,#0bd8f4 76px,#0cdbf3 82px,#0aa1f5 93px,#24f7db 102px,#32fdcd 108px,#00e2ff 114px,#00a8ff 120px,#00d9ff 126px,#1bfbe4 130px,#38fac7 136px,#0fe6f0 141px)"></i><i style="left:1003px;top:59px;height:142px;background:linear-gradient(#000093,#000daa 44px,#001dee 50px,#0010d0 59px,#000dcf 65px,#0023ee 69px,#049bea 77px,#008cee 84px,#0046ee 92px,#007aee 98px,#0acee5 106px,#00a7ee 113px,#0064f1 120px,#0090fc 126px,#12d9ed 133px,#06ccf1 140px,#03c1f2 141px)"></i><i style="left:1004px;top:59px;height:142px;background:linear-gradient(#0006a0,#0014a0 38px,#000ea9 61px,#001db1 73px,#0030b1 87px,#0029bc 120px,#0047fe 130px,#003ad3 141px)"></i><i style="left:1005px;top:59px;height:142px;background:linear-gradient(#0342eb,#096ce5 9px,#0028ee 26px,#098ee5 39px,#10b7de 48px,#0048ee 68px,#0cbee2 88px,#0084ee 99px,#004fee 109px,#04a5ef 121px,#0dd0f2 131px,#0098f6 141px)"></i><i style="left:1006px;top:59px;height:142px;background:linear-gradient(#10b8df,#2bc2c3 9px,#00a9ee 19px,#0092ee 28px,#10c3e4 36px,#4cdeb3 46px,#14d1eb 57px,#0099ff 66px,#00b8ff 74px,#2cecd3 83px,#2ff2d0 92px,#00c5ff 101px,#009aff 109px,#0bebf4 120px,#42fdbd 130px,#00ebff 141px)"></i><i style="left:1007px;top:59px;height:142px;background:linear-gradient(#03269d,#0226ac 35px,#0c39e2 41px,#0f6ddf 50px,#002ff1 68px,#0cc0e2 87px,#03a2ed 97px,#0068ff 107px,#009bff 117px,#19e3e6 126px,#1ce7e3 134px,#00c4ff 141px)"></i><i style="left:1008px;top:59px;height:142px;background:linear-gradient(#001ea0,#0017a0 23px,#0026c0 68px,#0031d4 76px,#0031b1 86px,#002cbf 98px,#003bff 106px,#0046ff 114px,#0034f5 120px,#0575fa 132px,#0058ff 141px)"></i><i style="left:1009px;top:59px;height:142px;background:linear-gradient(#008ede,#0039de 14px,#0073de 24px,#00adde 34px,#0042de 53px,#0095de 66px,#00a8ee 74px,#003bde 90px,#0069ec 100px,#00aaff 110px,#003cf2 127px,#0066fd 138px,#007fff 141px)"></i><i style="left:1010px;top:59px;height:142px;background:linear-gradient(#001ea0,#0017a0 23px,#0018a0 44px,#0021a6 67px,#0023c6 75px,#0010a0 86px,#0013af 98px,#002bee 106px,#0032ee 114px,#0013d0 121px,#000ab0 130px,#0022ee 140px,#002dee 141px)"></i><i style="left:1011px;top:59px;height:142px;background:linear-gradient(#00008f,#00009d 103px,#0004a0 141px)"></i><i style="left:1012px;top:59px;height:142px;background:linear-gradient(#00008f,#00009e 56px,#0003a0 138px,#00009d 141px)"></i><i style="left:1013px;top:59px;height:142px;background:linear-gradient(#00008f,#0005a5 25px,#0004ae 32px,#00009a 49px,#0014ee 58px,#0019ee 65px,#0000a8 78px,#0018ee 88px,#004bee 95px,#0004e5 105px,#0000c5 113px,#0018ee 120px,#005dee 128px,#002bee 136px,#0001e2 141px)"></i><i style="left:1014px;top:59px;height:142px;background:linear-gradient(#000090,#000095 16px,#0006de 23px,#001be2 30px,#0000bf 38px,#0000ad 46px,#000ee5 53px,#004bee 62px,#0000d4 74px,#0000d3 81px,#0027ee 87px,#0063ee 95px,#001cee 104px,#0000d6 111px,#0014ed 118px,#006cee 127px,#0051ee 134px,#0007ec 141px)"></i><i style="left:1015px;top:59px;height:142px;background:linear-gradient(#00008f,#0002a0 71px,#0006a0 104px,#0007a0 138px,#0001a0 141px)"></i><i style="left:1018px;top:59px;height:142px;background:linear-gradient(#00008f,#00009e 66px,#0013a0 111px,#0006a0 141px)"></i><i style="left:1019px;top:59px;height:142px;background:linear-gradient(#00008f,#00008f 62px,#0009ee 67px,#0047ee 71px,#0026ee 80px,#0000dc 87px,#0000d8 96px,#0014ee 101px,#0071ee 112px,#0055ee 121px,#0002ee 133px,#0023ee 141px)"></i><i style="left:1020px;top:59px;height:142px;background:linear-gradient(#00008f,#00008f 62px,#0009ee 67px,#0047ee 71px,#0026ee 80px,#0000dc 87px,#0000d8 96px,#0014ee 101px,#0071ee 112px,#0055ee 121px,#0002ee 133px,#0023ee 141px)"></i><i style="left:1021px;top:59px;height:142px;background:linear-gradient(#00008f,#00009e 66px,#0013a0 111px,#0006a0 141px)"></i><i style="left:1022px;top:59px;height:142px;background:linear-gradient(#00008f,#000093 141px)"></i><i style="left:1023px;top:59px;height:142px;background:linear-gradient(#00008f,#00009d 92px,#001ca0 113px,#0019a0 135px,#0025b2 141px)"></i><i style="left:1024px;top:59px;height:142px;background:linear-gradient(#00008f,#0000a1 84px,#001dee 94px,#0093ee 101px,#04b8ea 109px,#0054ee 126px,#0098ee 135px,#07d2eb 141px)"></i><i style="left:1025px;top:59px;height:142px;background:linear-gradient(#00008f,#00009c 65px,#000de2 88px,#0061ee 95px,#00cbf3 102px,#0ed1ed 111px,#0091f2 120px,#007cf1 128px,#09d8f6 138px,#20e3df 141px)"></i><i style="left:1026px;top:59px;height:142px;background:linear-gradient(#00008f,#000ea0 93px,#0024ad 101px,#0426db 110px,#0017a5 126px,#002aee 136px,#075ee7 141px)"></i><i style="left:1027px;top:59px;height:142px;background:linear-gradient(#00008f,#00009f 135px,#000ca0 141px)"></i><i style="left:1028px;top:59px;height:142px;background:linear-gradient(#00008f,#00008f 141px)"></i><i style="left:1029px;top:59px;height:142px;background:linear-gradient(#00008f,#00009f 58px,#0012a0 87px,#0226af 116px,#0022b2 128px,#0016a0 141px)"></i><i style="left:1030px;top:59px;height:142px;background:linear-gradient(#00008f,#00009c 19px,#0000bc 28px,#00008f 41px,#0000a1 52px,#0010ee 60px,#0076ee 71px,#007cee 82px,#0050ee 95px,#00a2ee 107px,#07d9ea 115px,#00c9f3 127px,#007aee 141px)"></i><i style="left:1031px;top:59px;height:142px;background:linear-gradient(#00008f,#00009c 19px,#0000bc 28px,#000097 39px,#0000b0 52px,#0010f8 60px,#0076fa 71px,#008aff 84px,#0067ff 96px,#00d5ff 112px,#08ecf7 123px,#009cff 141px)"></i><i style="left:1032px;top:59px;height:142px;background:linear-gradient(#001ba0,#0d269a 31px,#15269c 37px,#1426d7 48px,#0037e7 71px,#0353fc 76px,#0fa0f0 88px,#0067ff 113px,#0de0f2 135px,#0bd8f4 141px)"></i><i style="left:1033px;top:59px;height:142px;background:linear-gradient(#0096ee,#0075ee 15px,#0bd8e3 26px,#73d97e 37px,#71d98d 47px,#00ccf6 63px,#00c6fc 72px,#52f0ad 89px,#00d6ff 104px,#00acff 113px,#0feef0 125px,#47fbb8 136px,#3bfac4 141px)"></i><i style="left:1034px;top:59px;height:142px;background:linear-gradient(#0096ee,#006cee 15px,#0bd9e3 27px,#6dd982 39px,#55d99c 49px,#01c8ed 61px,#00afee 71px,#16d9e6 79px,#42e3bd 89px,#01cbfe 102px,#0095fa 113px,#00cdff 123px,#36efc9 134px,#2ceed3 141px)"></i><i style="left:1035px;top:59px;height:142px;background:linear-gradient(#001aa0,#0023a0 25px,#122699 45px,#0021a9 73px,#0733e7 82px,#0953e5 93px,#001ee0 106px,#001be4 117px,#0990e5 136px,#078be7 141px)"></i><i style="left:1036px;top:59px;height:142px;background:linear-gradient(#00008f,#00009d 79px,#0012a0 130px,#0016a0 141px)"></i><i style="left:1037px;top:59px;height:142px;background:linear-gradient(#00008f,#00009d 119px,#0012a0 141px)"></i><i style="left:1038px;top:59px;height:142px;background:linear-gradient(#00008f,#001ba0 71px,#01269f 102px,#0526aa 115px,#112ede 121px,#1e84d0 131px,#1778d7 141px)"></i><i style="left:1039px;top:59px;height:142px;background:linear-gradient(#02269f,#001faf 30px,#032feb 36px,#0c7be2 48px,#0377eb 65px,#23d9cb 78px,#65d989 88px,#18d9d7 102px,#18d9d7 113px,#ade952 129px,#9aec65 139px,#8cea73 141px)"></i><i style="left:1040px;top:59px;height:142px;background:linear-gradient(#08b2d6,#0096de 10px,#0066de 22px,#0fb4df 36px,#37c5b7 48px,#10c4df 65px,#6ee691 78px,#a7f658 88px,#3ae9c5 108px,#6df792 117px,#dbf924 128px,#ccff33 139px,#bbff44 141px)"></i><i style="left:1041px;top:59px;height:142px;background:linear-gradient(#02269f,#0021a0 31px,#0326a3 65px,#0e2ee0 73px,#20a8ce 86px,#1899d6 97px,#0d7be2 109px,#2bd9c4 122px,#6ad68a 130px,#54d9a2 140px,#4ed9a8 141px)"></i><i style="left:1042px;top:59px;height:142px;background:linear-gradient(#00008f,#00009d 71px,#0019a0 97px,#0d26a1 128px,#0b26bb 140px,#0a26b9 141px)"></i><i style="left:1043px;top:59px;height:142px;background:linear-gradient(#0012a0,#0021a0 20px,#0022a0 38px,#0013a0 64px,#0009a0 80px,#0006a0 107px,#00009e 141px)"></i><i style="left:1044px;top:59px;height:142px;background:linear-gradient(#0054de,#0bb2d3 11px,#00a5de 19px,#005dde 27px,#007be1 34px,#00bdee 42px,#008dee 48px,#0031ee 56px,#0052ee 62px,#00a2ee 70px,#0078ee 76px,#000fee 84px,#0024ee 90px,#0080ee 99px,#0056ee 105px,#0011e0 111px,#0011d8 117px,#0034ee 122px,#0067ee 128px,#0039ee 134px,#0012cf 139px,#000fbf 141px)"></i><i style="left:1045px;top:59px;height:142px;background:linear-gradient(#0012a0,#0021a0 20px,#0018a0 33px,#002fee 38px,#0065ee 43px,#003cee 50px,#0019ee 57px,#007bee 65px,#00b4ee 71px,#007bee 78px,#0039ee 85px,#0067ee 91px,#00c0f5 99px,#009cf5 105px,#0047e9 113px,#006bf9 120px,#00caff 128px,#009cff 134px,#0045f3 141px)"></i><i style="left:1046px;top:59px;height:142px;background:linear-gradient(#00008f,#00009b 36px,#0019a0 66px,#001aa6 93px,#0024c5 98px,#0024d5 104px,#000fad 114px,#0017d8 120px,#003ef1 124px,#0068f4 130px,#0015fa 140px,#0015f6 141px)"></i><i style="left:1047px;top:59px;height:142px;background:linear-gradient(#00009c,#0003a0 27px,#000ba0 71px,#000ca8 91px,#0020f7 101px,#001bee 110px,#000fbf 126px,#0021ff 139px,#0033fd 141px)"></i><i style="left:1048px;top:59px;height:142px;background:linear-gradient(#0000ca,#0036de 9px,#003dde 19px,#0000d3 32px,#000cde 43px,#006ade 58px,#003bde 70px,#000ade 82px,#007eee 104px,#0015e1 126px,#0052ee 138px,#006df0 141px)"></i><i style="left:1049px;top:59px;height:142px;background:linear-gradient(#00009c,#0003a0 27px,#000ba0 71px,#0012b1 90px,#0029b1 106px,#063bac 140px,#043cb6 141px)"></i><i style="left:1050px;top:59px;height:142px;background:linear-gradient(#00008f,#000fa0 44px,#112699 83px,#1e31d0 88px,#2681c8 97px,#1a6cd4 112px,#2dd2c1 125px,#57cd97 134px,#3ad6b6 141px)"></i><i style="left:1051px;top:59px;height:142px;background:linear-gradient(#00008f,#0000ad 33px,#0021ee 40px,#009eee 50px,#02bfec 70px,#1cd9d2 77px,#d4e12b 92px,#cbe934 102px,#99e866 112px,#d9e726 123px,#e3b51c 132px,#ddeb22 141px)"></i><i style="left:1052px;top:59px;height:142px;background:linear-gradient(#00008f,#0009de 10px,#0000d0 31px,#0026ea 37px,#00bdee 49px,#0ed4e0 71px,#59d9a2 80px,#d5eb2a 90px,#d9da26 99px,#bdf642 106px,#b0f74f 114px,#ddef22 121px,#eea811 131px,#e8d517 140px,#e7df18 141px)"></i><i style="left:1053px;top:59px;height:142px;background:linear-gradient(#00008f,#0010a0 40px,#06269a 74px,#1126c9 80px,#1c56d2 85px,#26b5c8 93px,#26c3c8 101px,#1fabcf 112px,#33d7bc 120px,#85c96e 130px,#70d185 140px,#69d28b 141px)"></i><i style="left:1054px;top:59px;height:142px;background:linear-gradient(#00008f,#000ea0 73px,#0035b1 97px,#0033b1 114px,#1345aa 129px,#1034be 140px,#0e33bc 141px)"></i><i style="left:1055px;top:59px;height:142px;background:linear-gradient(#0005a0,#0007a0 21px,#0014a0 39px,#0126aa 47px,#0026d6 60px,#053be9 68px,#19bbd6 84px,#0f9be0 93px,#004dee 104px,#037feb 113px,#10c7de 124px,#0086f7 135px,#005af4 141px)"></i><i style="left:1056px;top:59px;height:142px;background:linear-gradient(#0018de,#005bde 10px,#0029de 20px,#0000d5 28px,#002cde 35px,#04b2dc 47px,#05b2e3 57px,#0fb5df 67px,#73e48c 85px,#2fcfd0 95px,#00b4fd 101px,#00abfe 108px,#1ed6e1 115px,#48f1b7 125px,#00d0ff 136px,#00abff 141px)"></i><i style="left:1057px;top:59px;height:142px;background:linear-gradient(#0005a0,#0007a0 21px,#0014a0 39px,#0526a4 68px,#1033de 76px,#1877d6 86px,#0033f8 101px,#0045ff 110px,#1fb6e0 121px,#20d0df 129px,#089cf7 140px,#099ff6 141px)"></i><i style="left:1058px;top:59px;height:142px;background:linear-gradient(#00008f,#00009e 70px,#0026be 87px,#0039ff 91px,#0669f9 97px,#077bf7 108px,#21e7de 116px,#89ee76 124px,#7cf183 131px,#44ecbb 140px,#47ecb8 141px)"></i><i style="left:1059px;top:59px;height:142px;background:linear-gradient(#000ba0,#0011a0 44px,#0008a0 61px,#0019b8 68px,#0010d2 79px,#0033ee 83px,#12daed 92px,#32e7cd 99px,#37ebc8 108px,#d2f52d 119px,#efce10 125px,#ddf622 133px,#b1fe4e 140px,#b4fe4b 141px)"></i><i style="left:1060px;top:59px;height:142px;background:linear-gradient(#0032e2,#0067de 6px,#002cde 21px,#008dee 38px,#0033ee 48px,#0016e5 54px,#0032ee 59px,#24a9d1 70px,#1c70dd 79px,#19eee6 87px,#88ff77 95px,#92ff6d 109px,#f3f00c 116px,#ff8d00 124px,#ffa300 130px,#f5f70a 139px,#f5f60a 141px)"></i><i style="left:1061px;top:59px;height:142px;background:linear-gradient(#000bb5,#0009a0 20px,#0012af 28px,#001ad3 33px,#003bee 36px,#006aee 42px,#0065ec 54px,#04b8ec 60px,#a8e957 70px,#94ea6b 77px,#4affb5 87px,#74ff8b 91px,#c5ff3a 100px,#cbfc34 107px,#c7ff38 110px,#faf205 115px,#ff7900 124px,#ff9000 130px,#ffe600 138px,#ffe900 141px)"></i><i style="left:1062px;top:59px;height:142px;background:linear-gradient(#000094,#0010a0 40px,#0126a7 60px,#152cd9 65px,#25b2c9 71px,#1cd7d2 79px,#17e5e8 88px,#d3f82c 103px,#d1fc2e 115px,#f6ca09 120px,#fea101 126px,#f5ea0a 136px,#fbe904 141px)"></i><i style="left:1063px;top:59px;height:142px;background:linear-gradient(#00008f,#00009c 63px,#0025ac 81px,#0028ee 85px,#10b5e8 94px,#26cfd9 108px,#76f389 116px,#dcf023 125px,#baf745 132px,#acfc53 136px,#c4fa3b 141px)"></i><i style="left:1064px;top:59px;height:142px;background:linear-gradient(#00008f,#000da0 31px,#001ea0 50px,#172689 79px,#1040b6 92px,#1e48d9 99px,#1b5de4 108px,#24ffdb 120px,#61ff9e 127px,#3ef7c1 138px,#40fabf 141px)"></i><i style="left:1065px;top:59px;height:142px;background:linear-gradient(#260d7a,#261981 24px,#2616c8 28px,#2696c8 37px,#26a7c8 46px,#26b3c8 56px,#48c2a7 61px,#afb23f 70px,#99bc55 78px,#5fcd8f 88px,#bdbf42 102px,#99cf66 109px,#30ffcf 120px,#65ff9a 128px,#b5ef4a 139px,#b2f14d 141px)"></i><i style="left:1066px;top:59px;height:142px;background:linear-gradient(#b23b2b,#b2312b 7px,#b2852b 20px,#b22a44 37px,#b2904c 56px,#d84c27 72px,#bfc440 88px,#d1a42e 96px,#e4891b 103px,#cbd234 111px,#b7fb48 115px,#8bf674 122px,#c7f838 130px,#e5bf1a 139px,#e4c41b 141px)"></i><i style="left:1067px;top:59px;height:142px;background:linear-gradient(#260d7a,#26127a 28px,#260482 35px,#2605c2 42px,#262bc8 56px,#2eb4c0 68px,#46b6a8 75px,#26b1c8 84px,#30c9be 94px,#73bf7b 102px,#55c999 109px,#26cec8 114px,#1db1d1 123px,#30d9bf 129px,#81cb6e 138px,#81cc6d 141px)"></i><i style="left:1068px;top:59px;height:142px;background:linear-gradient(#00008f,#000fa0 60px,#02269e 79px,#05269b 111px,#13268e 137px,#14268d 141px)"></i><i style="left:1069px;top:59px;height:142px;background:linear-gradient(#00008f,#00009e 127px,#000098 141px)"></i><i style="left:1070px;top:59px;height:142px;background:linear-gradient(#00008f,#00009f 80px,#000ba0 102px,#0018ac 121px,#0025ee 130px,#0017c9 141px)"></i><i style="left:1071px;top:59px;height:142px;background:linear-gradient(#00008f,#0010a0 47px,#0014ac 75px,#0034ee 82px,#097fe5 91px,#005fee 101px,#003aee 110px,#0fcaf0 129px,#039bf5 140px,#0293f5 141px)"></i><i style="left:1072px;top:59px;height:142px;background:linear-gradient(#00008f,#0000b2 7px,#0004d7 15px,#00009b 31px,#000cee 41px,#007eee 51px,#006bee 61px,#005aee 70px,#00a4fb 79px,#14e4eb 85px,#34eccb 93px,#00d7ff 102px,#00abff 110px,#0decf2 119px,#58fca7 129px,#28f5d7 138px,#0af0f5 141px)"></i><i style="left:1073px;top:59px;height:142px;background:linear-gradient(#00008f,#0007e5 9px,#0008e8 18px,#0000b2 31px,#0009eb 39px,#008ef0 51px,#0079f2 61px,#0066f3 70px,#00a5ff 78px,#09e7f6 83px,#3ff4c0 91px,#00dcff 103px,#00bbff 111px,#09f0f6 118px,#60ff9f 129px,#2df9d2 138px,#10f5ef 141px)"></i><i style="left:1074px;top:59px;height:142px;background:linear-gradient(#00008f,#000099 25px,#001ab0 52px,#0013bc 71px,#0027ee 78px,#0a97e4 88px,#0898e7 97px,#0058ee 109px,#049cf1 119px,#17e0e8 128px,#0cd3f3 136px,#03a8fb 141px)"></i><i style="left:1075px;top:59px;height:142px;background:linear-gradient(#00008f,#000fa0 83px,#0015a9 117px,#002aee 124px,#024fed 132px,#001cec 141px)"></i><i style="left:1076px;top:59px;height:142px;background:linear-gradient(#00008f,#00009d 122px,#0000a0 141px)"></i><i style="left:1078px;top:59px;height:142px;background:linear-gradient(#00008f,#00009e 135px,#0010a0 141px)"></i><i style="left:1079px;top:59px;height:142px;background:linear-gradient(#00008f,#00009c 71px,#0016a0 90px,#072699 122px,#0526a5 131px,#1339dc 137px,#1b6fd3 141px)"></i><i style="left:1080px;top:59px;height:142px;background:linear-gradient(#00008f,#000ea0 41px,#0a26a2 69px,#1426d9 72px,#2297cc 80px,#1995d5 88px,#108adf 96px,#21d9cd 104px,#75d87a 111px,#60d98e 118px,#19d9d6 127px,#4ad9af 134px,#a3e85c 141px)"></i><i style="left:1081px;top:59px;height:142px;background:linear-gradient(#00008f,#00009e 14px,#0000bd 20px,#00009d 30px,#0011de 38px,#0098ee 48px,#009eee 57px,#00aaee 64px,#31c3c0 69px,#9cef63 79px,#7feb80 87px,#49dcb6 96px,#8ffb70 105px,#c9fb36 112px,#a3fd5c 118px,#4bedb4 127px,#72f48d 134px,#c4ff3b 141px)"></i><i style="left:1082px;top:59px;height:142px;background:linear-gradient(#00008f,#00009f 13px,#0000ab 19px,#000093 31px,#000bb1 40px,#0026ee 46px,#003cee 54px,#002fee 63px,#20d4ce 78px,#1dc2d1 86px,#1082df 96px,#33d9bc 109px,#2bd9c3 116px,#0f83df 128px,#1cc2d2 137px,#2fd9bf 141px)"></i><i style="left:1083px;top:59px;height:142px;background:linear-gradient(#00008f,#00009e 44px,#0017a0 71px,#001ba0 89px,#0017a0 124px,#02269e 141px)"></i><i style="left:1084px;top:59px;height:142px;background:linear-gradient(#00008f,#00009d 124px,#00009a 141px)"></i><i style="left:1085px;top:59px;height:142px;background:linear-gradient(#00008f,#0011a0 87px,#0017c1 98px,#0007a0 108px,#000ba9 119px,#0023ee 127px,#002cee 134px,#000ed0 141px)"></i><i style="left:1086px;top:59px;height:142px;background:linear-gradient(#00008f,#00009f 18px,#0000a2 26px,#00008f 39px,#00009c 52px,#000ade 62px,#0011de 72px,#0012de 80px,#0077e5 94px,#003ede 104px,#0013de 113px,#0088f8 131px,#0044e8 141px)"></i><i style="left:1087px;top:59px;height:142px;background:linear-gradient(#00008f,#0011a0 87px,#0011a0 122px,#001bcf 133px,#000ea0 141px)"></i><i style="left:1088px;top:59px;height:142px;background:linear-gradient(#00008f,#00008f 141px)"></i><i style="left:1089px;top:59px;height:142px;background:linear-gradient(#00008f,#00009e 49px,#000da0 83px,#02269e 102px,#192694 132px,#0f2691 141px)"></i><i style="left:1090px;top:59px;height:142px;background:linear-gradient(#182689,#262183 45px,#2624c8 51px,#264bc8 60px,#1426c2 72px,#1634d8 80px,#26c9c8 91px,#3cceb2 100px,#21c1cd 113px,#39d7b5 119px,#96c759 130px,#73d17b 140px,#6cd382 141px)"></i><i style="left:1091px;top:59px;height:142px;background:linear-gradient(#6eb270,#b2ab33 9px,#b2863c 18px,#a1c84d 33px,#b3c53c 44px,#c39a3c 53px,#bdd042 63px,#50d0a9 75px,#66d999 80px,#c5e93a 87px,#d9be26 97px,#b9fa46 108px,#bafd45 116px,#f1a60e 131px,#e1e41e 141px)"></i><i style="left:1092px;top:59px;height:142px;background:linear-gradient(#182689,#262689 8px,#262dc8 12px,#2685c8 21px,#239ecc 38px,#31d3bd 45px,#79ca75 55px,#4ed8a1 64px,#18c6d6 70px,#11b5dd 78px,#2ad9c5 82px,#a6ce48 91px,#bacc37 99px,#6ed980 112px,#d1d82e 125px,#d9d326 135px,#b9e346 141px)"></i><i style="left:1093px;top:59px;height:142px;background:linear-gradient(#00008f,#05269c 46px,#04269c 66px,#12268e 87px,#13268d 107px,#1426a5 116px,#1f39d0 122px,#2686c8 131px,#2070cf 141px)"></i><i style="left:1094px;top:59px;height:142px;background:linear-gradient(#00008f,#00009e 57px,#0016a2 100px,#0025b1 141px)"></i><i style="left:1095px;top:59px;height:142px;background:linear-gradient(#00008f,#000097 52px,#000aee 59px,#003bee 69px,#0002ee 83px,#0047ee 94px,#009fee 106px,#0079ee 117px,#0036ee 129px,#0064ee 139px,#0077ee 141px)"></i><i style="left:1096px;top:59px;height:142px;background:linear-gradient(#00008f,#000097 52px,#000aee 59px,#003bee 69px,#0002ee 83px,#0047ee 94px,#009fee 106px,#0079ee 117px,#0036ee 129px,#0064ee 139px,#0077ee 141px)"></i><i style="left:1097px;top:59px;height:142px;background:linear-gradient(#00008f,#00009e 57px,#0016a0 100px,#0015a0 141px)"></i><i style="left:1098px;top:59px;height:142px;background:linear-gradient(#00008f,#00009e 72px,#00008f 141px)"></i><i style="left:1099px;top:59px;height:142px;background:linear-gradient(#00008f,#00009d 36px,#0000ab 44px,#00008f 52px,#00009a 66px,#0013e5 72px,#0026ee 82px,#0012a0 93px,#0007a0 131px,#000096 141px)"></i><i style="left:1100px;top:59px;height:142px;background:linear-gradient(#00008f,#00009a 64px,#0010e2 68px,#0062ed 73px,#0099ff 82px,#006aee 91px,#0024ee 101px,#0058ee 111px,#008eee 120px,#005cee 128px,#0012e4 135px,#000dbf 141px)"></i><i style="left:1101px;top:59px;height:142px;background:linear-gradient(#00008f,#00009a 66px,#001dae 77px,#0026ee 83px,#0020ee 92px,#0010ee 102px,#00bdff 121px,#0096ff 129px,#0043f6 139px,#0041f5 141px)"></i><i style="left:1102px;top:59px;height:142px;background:linear-gradient(#00008f,#00009e 81px,#0017ac 113px,#0029f1 119px,#0046f1 127px,#001cff 139px,#0023ff 141px)"></i><i style="left:1103px;top:59px;height:142px;background:linear-gradient(#00008f,#00009e 48px,#0026a0 71px,#0c26a3 95px,#0d26d3 106px,#0022bf 128px,#0031ff 138px,#034dfc 141px)"></i><i style="left:1104px;top:59px;height:142px;background:linear-gradient(#00008f,#00009d 38px,#0017a9 45px,#002fee 49px,#12b2dc 58px,#12d7dc 71px,#09c4e5 82px,#29d9c5 90px,#5ed99c 101px,#24d9d4 111px,#00c4f3 117px,#0096f1 127px,#0adff5 140px,#12e1ed 141px)"></i><i style="left:1105px;top:59px;height:142px;background:linear-gradient(#00008f,#0000aa 13px,#00008f 25px,#0000a1 35px,#0017de 40px,#05b9e9 50px,#51cfa5 57px,#55d9aa 71px,#2ad4d1 82px,#79ea86 101px,#36e1c9 111px,#00c8fc 118px,#009df7 128px,#0bdff4 140px,#12e1ed 141px)"></i><i style="left:1106px;top:59px;height:142px;background:linear-gradient(#00008f,#00009d 38px,#0e269f 55px,#1426d9 67px,#0a26db 84px,#1676d8 102px,#0024e1 118px,#001cca 129px,#0035ee 138px,#034beb 141px)"></i><i style="left:1107px;top:59px;height:142px;background:linear-gradient(#00008f,#0010a0 98px,#0008a7 141px)"></i><i style="left:1108px;top:59px;height:142px;background:linear-gradient(#00008f,#0010a0 44px,#001ba0 71px,#0018a0 115px,#001ba9 138px,#001fc1 141px)"></i><i style="left:1109px;top:59px;height:142px;background:linear-gradient(#0010a0,#0010af 30px,#002cee 39px,#0cb1e3 51px,#0cc2e2 62px,#008dee 81px,#10d9df 100px,#01b5ed 111px,#005dee 124px,#0087ee 135px,#00b4f5 141px)"></i><i style="left:1110px;top:59px;height:142px;background:linear-gradient(#004dde,#0076de 10px,#0048e0 29px,#0093ee 40px,#13c7db 46px,#44d5aa 57px,#00bcee 78px,#16d2e5 90px,#32e2cd 103px,#00c6ff 113px,#0079f6 125px,#00abff 136px,#00d8ff 141px)"></i><i style="left:1111px;top:59px;height:142px;background:linear-gradient(#0010a0,#0022a0 42px,#03269e 72px,#0025b1 84px,#0933e6 94px,#084ce6 106px,#001fe0 116px,#0017c9 127px,#002cee 136px,#0056ee 141px)"></i><i style="left:1112px;top:59px;height:142px;background:linear-gradient(#00008f,#00009e 91px,#000ba0 141px)"></i><i style="left:1113px;top:59px;height:142px;background:linear-gradient(#00008f,#00009b 57px,#0003a0 78px,#000fa0 108px,#0019a0 129px,#0019a0 141px)"></i><i style="left:1114px;top:59px;height:142px;background:linear-gradient(#00008f,#0013a0 46px,#0826ad 55px,#132fdc 59px,#1a6ed4 67px,#0f4fdf 74px,#0434ea 83px,#139adb 98px,#0876e6 107px,#003bee 117px,#0fb6e0 134px,#089ce7 141px)"></i><i style="left:1115px;top:59px;height:142px;background:linear-gradient(#00008f,#00009e 22px,#0011e6 37px,#004bee 44px,#0bd8e3 53px,#87e478 63px,#7de782 71px,#2cdbd3 80px,#49e3b6 88px,#80e97f 98px,#43debc 108px,#26d0d9 113px,#16cbe9 120px,#1dece2 126px,#43f7bc 136px,#26f2d9 141px)"></i><i style="left:1116px;top:59px;height:142px;background:linear-gradient(#00008f,#0000a1 17px,#00009a 29px,#0002b6 35px,#0015ff 41px,#02fcfd 53px,#7cff83 63px,#8eff71 72px,#88ff77 82px,#e7ef18 92px,#e5bd1a 105px,#cffa30 115px,#23ffdc 127px,#11ffee 140px,#12ffed 141px)"></i><i style="left:1117px;top:59px;height:142px;background:linear-gradient(#00008f,#0000a1 17px,#000090 33px,#000dee 41px,#00d6ee 53px,#6dd981 65px,#75d97e 75px,#9adc65 85px,#d9e026 92px,#dabf25 106px,#cff830 115px,#15ddea 128px,#04ddfb 139px,#0adff5 141px)"></i><i style="left:1118px;top:59px;height:142px;background:linear-gradient(#00008f,#000ea0 45px,#13268d 65px,#1526b5 79px,#1b36d3 85px,#26a9c8 96px,#2ccec2 107px,#25b8ca 115px,#0234ec 129px,#0245ec 141px)"></i><i style="left:1119px;top:59px;height:142px;background:linear-gradient(#00008f,#000ea0 89px,#0021a0 114px,#0005a0 139px,#0007a0 141px)"></i><i style="left:1122px;top:59px;height:142px;background:linear-gradient(#00008f,#00009e 134px,#0006a0 141px)"></i><i style="left:1123px;top:59px;height:142px;background:linear-gradient(#000091,#00009e 38px,#000ba0 64px,#001dae 96px,#000fa6 127px,#0028ee 137px,#003aee 141px)"></i><i style="left:1124px;top:59px;height:142px;background:linear-gradient(#000098,#0000aa 10px,#00008f 21px,#000096 33px,#0000de 39px,#0057de 51px,#0037de 63px,#0016de 76px,#0085e3 96px,#004ade 109px,#0023de 120px,#009fff 141px)"></i><i style="left:1125px;top:59px;height:142px;background:linear-gradient(#000091,#00009e 38px,#000ba0 64px,#001dae 96px,#000fa6 127px,#0028ee 137px,#003aee 141px)"></i><i style="left:1126px;top:59px;height:142px;background:linear-gradient(#00008f,#00009e 134px,#0006a0 141px)"></i><i style="left:1129px;top:59px;height:142px;background:linear-gradient(#00008f,#00009f 73px,#0007a0 129px,#0001a0 141px)"></i><i style="left:1130px;top:59px;height:142px;background:linear-gradient(#00008f,#000096 66px,#0007ed 74px,#0011ee 84px,#0000cc 97px,#001cee 105px,#0071ee 116px,#0046ee 126px,#0003ed 137px,#000bee 141px)"></i><i style="left:1131px;top:59px;height:142px;background:linear-gradient(#00008f,#000096 64px,#000be9 71px,#002fee 81px,#0000dc 94px,#0012ed 102px,#007eef 115px,#0065ee 124px,#000fee 137px,#0017ee 141px)"></i><i style="left:1132px;top:59px;height:142px;background:linear-gradient(#00008f,#00009e 69px,#0013a0 111px,#0005a0 141px)"></i><i style="left:1134px;top:59px;height:142px;background:linear-gradient(#00008f,#00009f 52px,#0006a0 79px,#0004a0 124px,#00009d 141px)"></i><i style="left:1135px;top:59px;height:142px;background:linear-gradient(#26227a,#26237a 27px,#25268c 47px,#2632c8 54px,#266ec8 66px,#0f39df 87px,#1178dd 109px,#002dee 125px,#0017d8 139px,#0018df 141px)"></i><i style="left:1136px;top:59px;height:142px;background:linear-gradient(#b29e2b,#b2622b 13px,#b2a42b 27px,#99b245 41px,#b29f3b 52px,#b2a33c 65px,#a4c04b 72px,#48b6a6 86px,#4dc4b0 110px,#00acf2 124px,#006ae8 136px,#0071eb 141px)"></i><i style="left:1137px;top:59px;height:142px;background:linear-gradient(#26227a,#26237a 27px,#15268b 80px,#1026a7 96px,#1026d7 111px,#0018a0 133px,#0019b1 141px)"></i><i style="left:1138px;top:59px;height:142px;background:linear-gradient(#0001a0,#0013a0 64px,#0020a0 82px,#0025a7 134px,#0c2ae2 141px)"></i><i style="left:1139px;top:59px;height:142px;background:linear-gradient(#0005de,#000fde 8px,#0000a1 22px,#000bde 31px,#0043ee 40px,#0010ed 56px,#0069ee 64px,#00d6ee 72px,#00c8ee 80px,#007dee 90px,#00a4ee 97px,#15d9da 103px,#3dd9b3 110px,#04cbea 119px,#00a3ee 127px,#1ad9db 136px,#4edab1 141px)"></i><i style="left:1140px;top:59px;height:142px;background:linear-gradient(#0001a0,#0002a0 31px,#0010ee 39px,#000cee 58px,#00d8ee 72px,#00c8ee 81px,#008cee 91px,#08d5e7 100px,#54dcab 109px,#1cd8e2 118px,#00bff9 125px,#0dd7f2 132px,#6cf293 141px)"></i><i style="left:1141px;top:59px;height:142px;background:linear-gradient(#00008f,#000ea0 63px,#0024a0 81px,#0426a3 101px,#0f2edf 108px,#0a2de5 116px,#0024dc 128px,#074fe7 134px,#159eda 141px)"></i><i style="left:1142px;top:59px;height:142px;background:linear-gradient(#00008f,#00009c 105px,#0011a0 137px,#001aa0 141px)"></i><i style="left:1146px;top:59px;height:142px;background:linear-gradient(#00008f,#000091 69px,#0002a0 121px,#0013a0 141px)"></i><i style="left:1147px;top:59px;height:142px;background:linear-gradient(#00008f,#000093 42px,#0000a5 54px,#000be2 60px,#0000ad 68px,#00009a 75px,#001dee 83px,#0036ee 88px,#0005df 94px,#0000b7 100px,#0019ee 107px,#005aee 113px,#002eee 119px,#0002db 124px,#0004e7 130px,#0072ee 139px,#0073ee 141px)"></i><i style="left:1148px;top:59px;height:142px;background:linear-gradient(#00008f,#00009b 27px,#0000da 33px,#0000b3 40px,#00008f 47px,#000be2 55px,#0034ec 61px,#0000ce 69px,#0000c0 75px,#000ce6 79px,#005aee 86px,#0032ee 92px,#0000d9 98px,#000be9 104px,#0070ee 112px,#005fee 117px,#0005e9 125px,#001fee 131px,#0086ee 139px,#0087ee 141px)"></i><i style="left:1149px;top:59px;height:142px;background:linear-gradient(#00008f,#000093 42px,#0011a0 85px,#000aa0 107px,#0006a0 122px,#0019a0 141px)"></i><i style="left:1151px;top:59px;height:142px;background:linear-gradient(#00008f,#00009e 129px,#0009a0 141px)"></i><i style="left:1152px;top:59px;height:142px;background:linear-gradient(#00008f,#00009e 98px,#00009c 121px,#0013ee 132px,#003aee 141px)"></i><i style="left:1153px;top:59px;height:142px;background:linear-gradient(#00008f,#00009d 91px,#0000c1 105px,#0000a3 117px,#000fec 129px,#004dee 140px,#004dee 141px)"></i><i style="left:1154px;top:59px;height:142px;background:linear-gradient(#00008f,#000fa0 141px)"></i><i style="left:1155px;top:59px;height:142px;background:linear-gradient(#00008f,#00009e 101px,#0013a0 126px,#000ca0 141px)"></i><i style="left:1156px;top:59px;height:142px;background:linear-gradient(#00008f,#00009b 93px,#000dad 97px,#0018ea 102px,#000cc2 115px,#002bee 121px,#0494ea 128px,#0393eb 134px,#0054ee 141px)"></i><i style="left:1157px;top:59px;height:142px;background:linear-gradient(#00008f,#00009d 13px,#0000ad 19px,#00008f 26px,#000098 40px,#0000b8 46px,#00008f 54px,#00009d 68px,#0000bf 74px,#00008f 82px,#00008f 90px,#0000dc 94px,#0067f7 100px,#0061f9 107px,#003aec 115px,#007aff 121px,#0cdef3 127px,#15e4ea 133px,#009eff 141px)"></i><i style="left:1158px;top:59px;height:142px;background:linear-gradient(#00008f,#00009b 93px,#000dad 97px,#0018ea 102px,#000cc2 115px,#002bee 121px,#0494ea 128px,#0393eb 134px,#0054ee 141px)"></i><i style="left:1159px;top:59px;height:142px;background:linear-gradient(#00008f,#00009e 101px,#0013a0 126px,#000ca0 141px)"></i><i style="left:1173px;top:59px;height:142px;background:linear-gradient(#00008f,#00008f 141px)"></i><i style="left:1174px;top:59px;height:142px;background:linear-gradient(#000aa0,#0011a0 35px,#000ba0 57px,#0013ab 75px,#0013b3 78px,#00008f 93px,#00008f 141px)"></i><i style="left:1175px;top:59px;height:142px;background:linear-gradient(#002fde,#0057de 8px,#0005de 25px,#0083de 43px,#0053de 53px,#0019de 63px,#0059e1 78px,#0000d1 83px,#00009f 86px,#00008f 103px,#00009d 111px,#0000b7 119px,#00008f 129px,#00008f 141px)"></i><i style="left:1176px;top:59px;height:142px;background:linear-gradient(#000aa0,#0011a0 35px,#000ba0 57px,#0007a0 81px,#000094 112px,#00008f 141px)"></i><i style="left:1179px;top:59px;height:142px;background:linear-gradient(#000ea0,#0011a0 24px,#000098 70px,#00008f 141px)"></i><i style="left:1180px;top:59px;height:142px;background:linear-gradient(#0042de,#0006de 11px,#0063de 28px,#0000db 33px,#0000a4 36px,#00008f 48px,#000099 65px,#0000bb 74px,#00008f 85px,#000099 106px,#0000bb 116px,#00008f 127px,#00008f 141px)"></i><i style="left:1181px;top:59px;height:142px;background:linear-gradient(#000ea0,#0011a0 24px,#000098 70px,#00008f 141px)"></i><i style="left:1184px;top:59px;height:142px;background:linear-gradient(#00008f,#00009e 138px,#0001a0 141px)"></i><i style="left:1185px;top:59px;height:142px;background:linear-gradient(#000094,#0001a0 129px,#0018ee 141px)"></i><i style="left:1186px;top:59px;height:142px;background:linear-gradient(#0000a4,#00008f 18px,#000096 31px,#00009b 39px,#0000b3 50px,#00008f 62px,#00009b 86px,#0000bb 98px,#00009a 108px,#000bde 130px,#0055f8 141px)"></i><i style="left:1187px;top:59px;height:142px;background:linear-gradient(#000094,#00009b 19px,#0003de 28px,#00008f 34px,#0009a0 134px,#0012ce 141px)"></i><i style="left:1188px;top:59px;height:142px;background:linear-gradient(#00008f,#000096 31px,#00009d 82px,#001ca0 98px,#0000a9 141px)"></i><i style="left:1189px;top:59px;height:142px;background:linear-gradient(#0010a0,#0010a0 26px,#000da0 43px,#0023ad 63px,#001caf 71px,#0016ae 78px,#0021ee 83px,#11abdd 91px,#0eaee0 97px,#004fee 110px,#0083ee 124px,#0009e9 135px,#0007e8 141px)"></i><i style="left:1190px;top:59px;height:142px;background:linear-gradient(#0049de,#005ade 6px,#000ade 18px,#0058de 27px,#0083de 34px,#0022de 48px,#0060de 56px,#00a7e2 64px,#0066e1 78px,#10beeb 86px,#56dfa9 93px,#0ec7f1 102px,#0090f5 112px,#00b2fc 124px,#001deb 137px,#0021ed 141px)"></i><i style="left:1191px;top:59px;height:142px;background:linear-gradient(#0010a0,#0010a0 26px,#000da0 43px,#001aa0 72px,#0020aa 83px,#0a33e5 88px,#1263dc 93px,#0126e5 103px,#001cbe 112px,#0022e2 124px,#000fa0 132px,#0007a0 141px)"></i><i style="left:1192px;top:59px;height:142px;background:linear-gradient(#000fa0,#000098 85px,#00009f 105px,#000093 141px)"></i><i style="left:1193px;top:59px;height:142px;background:linear-gradient(#0044de,#0000d8 8px,#0000b5 27px,#00008f 39px,#00009e 58px,#0000b6 66px,#000091 74px,#000097 92px,#0000bc 100px,#00009d 110px,#0000ad 128px,#0000c0 136px,#0000a0 141px)"></i><i style="left:1194px;top:59px;height:142px;background:linear-gradient(#000fa0,#000097 74px,#0000bf 84px,#000093 93px,#0000b0 105px,#000dee 114px,#001aee 123px,#0000d7 131px,#00009a 141px)"></i><i style="left:1195px;top:59px;height:142px;background:linear-gradient(#00008f,#000097 74px,#0000bf 84px,#00008f 93px,#00009b 103px,#000dee 114px,#001aee 123px,#0000d8 130px,#000096 141px)"></i><i style="left:1196px;top:59px;height:142px;background:linear-gradient(#00008f,#00009e 111px,#00009d 133px,#000091 141px)"></i><i style="left:1197px;top:59px;height:142px;background:linear-gradient(#00008f,#000da0 64px,#0012a0 78px,#001ba0 106px,#0026a9 122px,#0526cc 129px,#0018a0 139px,#0018a0 141px)"></i><i style="left:1198px;top:59px;height:142px;background:linear-gradient(#000095,#0002a0 22px,#0015af 43px,#0013c2 56px,#0026ee 61px,#0ba1e3 69px,#0796e7 75px,#004eee 84px,#0293ec 91px,#0fd6df 98px,#03a3eb 106px,#0076ee 113px,#16d9dd 123px,#25d9d4 129px,#05bfec 134px,#0090ee 141px)"></i><i style="left:1199px;top:59px;height:142px;background:linear-gradient(#0000aa,#000dde 7px,#0047de 14px,#0000ce 25px,#0000d5 31px,#005edf 42px,#0056e5 56px,#0097ee 62px,#18c6da 66px,#36cec7 72px,#00b6f4 79px,#0094f1 85px,#0bcaf4 91px,#48e9b7 98px,#0ed5f1 106px,#00a8ff 113px,#13ddec 119px,#57f5a8 127px,#00c9ff 138px,#00bfff 141px)"></i><i style="left:1200px;top:59px;height:142px;background:linear-gradient(#000095,#0002a0 22px,#0526ad 66px,#0c26da 72px,#001da9 84px,#0537e9 92px,#0f76df 99px,#0021f5 112px,#0054ff 117px,#11c2ee 126px,#089ef7 133px,#0060ff 141px)"></i><i style="left:1201px;top:59px;height:142px;background:linear-gradient(#00008f,#00009e 71px,#0005ad 107px,#000dba 111px,#001cfd 114px,#006dff 118px,#09b5f6 127px,#0077ff 140px,#0071ff 141px)"></i><i style="left:1202px;top:59px;height:142px;background:linear-gradient(#00008f,#00009c 30px,#0000af 40px,#00008f 50px,#00009d 73px,#0000ba 84px,#00008f 95px,#00009d 104px,#0001de 108px,#00a1ff 115px,#08d9f7 119px,#2becd4 129px,#00c7ff 141px)"></i><i style="left:1203px;top:59px;height:142px;background:linear-gradient(#00008f,#00009c 107px,#000dd4 111px,#0042ee 114px,#008aee 118px,#09bde5 128px,#0087ee 141px)"></i><i style="left:1204px;top:59px;height:142px;background:linear-gradient(#00008f,#00009b 111px,#001ea0 133px,#0015a0 141px)"></i><i style="left:1214px;top:59px;height:142px;background:linear-gradient(#00008f,#00008f 141px)"></i><i style="left:1215px;top:59px;height:142px;background:linear-gradient(#00008f,#0009a3 122px,#000cb9 130px,#00009b 141px)"></i><i style="left:1216px;top:59px;height:142px;background:linear-gradient(#00008f,#0000a2 10px,#000092 19px,#00009d 45px,#0000b1 54px,#000098 68px,#000dde 81px,#0036de 90px,#0000cb 101px,#0000af 110px,#0013de 119px,#003de3 128px,#0000cb 140px,#0000c4 141px)"></i><i style="left:1217px;top:59px;height:142px;background:linear-gradient(#00008f,#00009b 141px)"></i><i style="left:1226px;top:59px;height:142px;background:linear-gradient(#00008f,#000091 88px,#000094 114px,#000093 141px)"></i><i style="left:1227px;top:59px;height:142px;background:linear-gradient(#00008f,#000094 74px,#0000d1 80px,#0000a2 87px,#00008f 94px,#0000b3 99px,#000de2 105px,#0000d3 110px,#00008f 117px,#000099 123px,#0009e5 130px,#0000d5 137px,#0000a1 141px)"></i><i style="left:1228px;top:59px;height:142px;background:linear-gradient(#00008f,#000091 88px,#0001a8 103px,#0000a9 109px,#000091 123px,#0000b9 129px,#0002c2 135px,#000093 141px)"></i><i style="left:1229px;top:59px;height:142px;background:linear-gradient(#00008f,#00008f 141px)"></i><i style="left:1235px;top:59px;height:142px;background:linear-gradient(#00008f,#00009b 129px,#0002a0 141px)"></i><i style="left:1236px;top:59px;height:142px;background:linear-gradient(#00008f,#00009d 105px,#000bce 113px,#00009d 122px,#0004ba 127px,#0023ee 132px,#003eee 137px,#0017ee 141px)"></i><i style="left:1237px;top:59px;height:142px;background:linear-gradient(#00008f,#0000a2 8px,#00008f 18px,#00009d 28px,#0000ab 34px,#00008f 40px,#00009a 53px,#0000b8 59px,#00008f 66px,#000094 78px,#0000be 84px,#00008f 92px,#000092 102px,#0001de 106px,#0034e8 112px,#0000d1 122px,#0014e3 127px,#0073ff 135px,#0049fa 141px)"></i><i style="left:1238px;top:59px;height:142px;background:linear-gradient(#00008f,#00009d 105px,#0007a4 128px,#0017ee 134px,#000fd7 141px)"></i><i style="left:1239px;top:59px;height:142px;background:linear-gradient(#00008f,#00009c 132px,#00009b 141px)"></i><i style="left:1250px;top:59px;height:142px;background:linear-gradient(#00008f,#00009c 141px)"></i><i style="left:1251px;top:59px;height:142px;background:linear-gradient(#00008f,#000da0 70px,#0018a0 87px,#0022aa 106px,#0020be 113px,#000fa0 120px,#0010ab 134px,#0017db 141px)"></i><i style="left:1252px;top:59px;height:142px;background:linear-gradient(#000097,#000aa0 24px,#0018a0 43px,#001bd6 50px,#000dca 62px,#0022ee 67px,#03aeec 76px,#00b4ee 83px,#0062ee 94px,#0097ee 102px,#00caf5 109px,#0090f0 116px,#0023ee 125px,#003fee 132px,#007bfa 140px,#007afb 141px)"></i><i style="left:1253px;top:59px;height:142px;background:linear-gradient(#0000b3,#0013de 7px,#005dde 15px,#0037de 23px,#0007de 31px,#0051de 40px,#0085e8 48px,#003fe7 62px,#0070ee 68px,#05cee9 75px,#09d2e6 82px,#006eee 95px,#00c7f2 109px,#0087ee 116px,#0014ee 125px,#002cee 132px,#0063ee 140px,#0062ee 141px)"></i><i style="left:1254px;top:59px;height:142px;background:linear-gradient(#000097,#000aa0 24px,#0018a0 43px,#001ca0 70px,#0015a0 93px,#0020ac 112px,#0007a0 132px,#0010a0 141px)"></i><i style="left:1255px;top:59px;height:142px;background:linear-gradient(#00008f,#00008f 141px)"></i><i style="left:1256px;top:59px;height:142px;background:linear-gradient(#00008f,#00009f 127px,#0010a0 141px)"></i><i style="left:1257px;top:59px;height:142px;background:linear-gradient(#00008f,#00009c 57px,#000096 66px,#00009c 94px,#0000ab 103px,#000098 117px,#000ce8 129px,#0056ee 139px,#0055ee 141px)"></i><i style="left:1258px;top:59px;height:142px;background:linear-gradient(#00008f,#000099 124px,#0012ee 133px,#0036ee 141px)"></i><i style="left:1259px;top:59px;height:142px;background:linear-gradient(#00008f,#00009e 131px,#0008a0 141px)"></i><i style="left:1262px;top:59px;height:142px;background:linear-gradient(#00008f,#000097 141px)"></i><i style="left:1263px;top:59px;height:142px;background:linear-gradient(#00008f,#00009d 90px,#0018a7 124px,#0021e1 134px,#0018c3 141px)"></i><i style="left:1264px;top:59px;height:142px;background:linear-gradient(#00008f,#00008f 86px,#000dee 92px,#004bee 99px,#001eee 112px,#00bbfb 131px,#009ef9 139px,#008af6 141px)"></i><i style="left:1265px;top:59px;height:142px;background:linear-gradient(#00008f,#00008f 86px,#000dee 92px,#004bee 99px,#001eee 112px,#00bbfb 131px,#009ef9 139px,#008af6 141px)"></i><i style="left:1266px;top:59px;height:142px;background:linear-gradient(#00008f,#00009d 90px,#0018a7 124px,#0021e1 134px,#0018c3 141px)"></i><i style="left:1267px;top:59px;height:142px;background:linear-gradient(#00008f,#000097 141px)"></i>
<i style="left:811px;top:295px;height:142px;background:linear-gradient(#00008f,#000092 63px,#000093 115px,#0006a0 141px)"></i><i style="left:812px;top:295px;height:142px;background:linear-gradient(#00008f,#000098 36px,#0000e4 47px,#0000b7 59px,#00008f 69px,#0000a0 78px,#000cee 89px,#0021ee 99px,#0000df 107px,#000096 120px,#0000d1 132px,#0017ee 139px,#0021ee 141px)"></i><i style="left:813px;top:295px;height:142px;background:linear-gradient(#00008f,#000098 36px,#0000e4 47px,#0000b7 59px,#00008f 69px,#0000a0 78px,#000cee 89px,#0021ee 99px,#0000df 107px,#000096 120px,#0000d1 132px,#0017ee 139px,#0021ee 141px)"></i><i style="left:814px;top:295px;height:142px;background:linear-gradient(#00008f,#000092 63px,#000093 115px,#0006a0 141px)"></i><i style="left:815px;top:295px;height:142px;background:linear-gradient(#00008f,#00009f 98px,#00009c 133px,#0008a0 141px)"></i><i style="left:816px;top:295px;height:142px;background:linear-gradient(#00008f,#000093 91px,#0000e6 100px,#0000b6 111px,#00008f 122px,#0000bd 131px,#000fec 137px,#002aee 141px)"></i><i style="left:817px;top:295px;height:142px;background:linear-gradient(#00008f,#000097 94px,#0000ca 101px,#000090 118px,#00009e 130px,#0011ee 140px,#0017ee 141px)"></i><i style="left:818px;top:295px;height:142px;background:linear-gradient(#00008f,#00009e 137px,#0003a0 141px)"></i><i style="left:822px;top:295px;height:142px;background:linear-gradient(#00008f,#00008f 141px)"></i><i style="left:823px;top:295px;height:142px;background:linear-gradient(#00008f,#00009e 118px,#000ab5 132px,#00009b 141px)"></i><i style="left:824px;top:295px;height:142px;background:linear-gradient(#00008f,#00009b 18px,#0000ae 26px,#00008f 35px,#00009c 52px,#0000ba 60px,#00008f 69px,#000099 86px,#0000bf 94px,#000092 109px,#0009de 120px,#003bea 129px,#0000cb 140px,#0000c4 141px)"></i><i style="left:825px;top:295px;height:142px;background:linear-gradient(#00008f,#00009e 118px,#000ab5 132px,#00009b 141px)"></i><i style="left:826px;top:295px;height:142px;background:linear-gradient(#00008f,#000094 59px,#000093 85px,#000092 141px)"></i><i style="left:827px;top:295px;height:142px;background:linear-gradient(#00008f,#00009f 13px,#000095 28px,#000fde 39px,#0024de 47px,#0000cb 54px,#0000a1 62px,#0007de 73px,#0000ce 81px,#00008f 88px,#00009d 107px,#0000bb 115px,#00008f 124px,#00009a 141px)"></i><i style="left:828px;top:295px;height:142px;background:linear-gradient(#00008f,#000094 59px,#000093 85px,#000092 141px)"></i><i style="left:831px;top:295px;height:142px;background:linear-gradient(#00008f,#00009e 124px,#0011a0 141px)"></i><i style="left:832px;top:295px;height:142px;background:linear-gradient(#00008f,#000098 113px,#0010ee 126px,#006bee 135px,#0062ee 141px)"></i><i style="left:833px;top:295px;height:142px;background:linear-gradient(#00008f,#000098 94px,#0000a6 102px,#000097 109px,#0008ec 124px,#0078f5 135px,#006ef5 141px)"></i><i style="left:834px;top:295px;height:142px;background:linear-gradient(#00008f,#00009e 122px,#0014b2 133px,#0014bf 141px)"></i><i style="left:835px;top:295px;height:142px;background:linear-gradient(#00008f,#000096 141px)"></i><i style="left:839px;top:295px;height:142px;background:linear-gradient(#00008f,#00009d 137px,#0001a0 141px)"></i><i style="left:840px;top:295px;height:142px;background:linear-gradient(#00008f,#000094 56px,#0000a0 84px,#00009f 102px,#0009d7 110px,#000096 122px,#0000a8 132px,#000eee 140px,#0011ee 141px)"></i><i style="left:841px;top:295px;height:142px;background:linear-gradient(#00008f,#00009a 10px,#0000b5 17px,#00008f 26px,#000098 37px,#0004de 45px,#0000c9 52px,#00008f 60px,#0000a5 67px,#0008de 73px,#001cdf 80px,#0000c8 86px,#00009a 94px,#000fe2 104px,#002aeb 111px,#0000d0 118px,#0000a5 126px,#0000d9 132px,#0037ff 139px,#003dff 141px)"></i><i style="left:842px;top:295px;height:142px;background:linear-gradient(#00008f,#00009f 43px,#00009a 55px,#00009f 70px,#0002ae 85px,#0000a1 97px,#0025bd 113px,#0014a8 129px,#0030ff 136px,#014efe 141px)"></i><i style="left:843px;top:295px;height:142px;background:linear-gradient(#00008f,#00009b 44px,#0000c9 50px,#00008f 60px,#000094 69px,#0004ee 75px,#0028ee 81px,#0000dd 88px,#0000c1 94px,#0001ee 99px,#009dee 108px,#00adf1 113px,#004dee 123px,#0070ee 129px,#05ddfa 138px,#08dff7 141px)"></i><i style="left:844px;top:295px;height:142px;background:linear-gradient(#00008f,#00009b 44px,#0000c9 50px,#00008f 60px,#000094 69px,#0004ee 75px,#0028ee 81px,#0000dd 88px,#0000c1 94px,#0001ee 99px,#009dee 108px,#00adf1 113px,#004dee 123px,#0070ee 129px,#05ddfa 138px,#08dff7 141px)"></i><i style="left:845px;top:295px;height:142px;background:linear-gradient(#00008f,#00009e 74px,#000ea0 103px,#0015a0 118px,#0016a7 130px,#002aee 136px,#0142ed 141px)"></i><i style="left:846px;top:295px;height:142px;background:linear-gradient(#00008f,#00009e 119px,#0006ab 141px)"></i><i style="left:847px;top:295px;height:142px;background:linear-gradient(#00008f,#00009d 105px,#0015aa 114px,#002fee 121px,#0150ed 128px,#0017da 139px,#0015d4 141px)"></i><i style="left:848px;top:295px;height:142px;background:linear-gradient(#00008f,#00009b 51px,#000099 59px,#000096 84px,#0000b1 92px,#00008f 100px,#000be7 108px,#009efa 118px,#07dbf8 125px,#00c4ff 132px,#0071f9 141px)"></i><i style="left:849px;top:295px;height:142px;background:linear-gradient(#001da0,#0017a0 31px,#000099 60px,#00009f 102px,#0015ee 111px,#008bee 119px,#02bdef 126px,#0091f1 134px,#0059f9 141px)"></i><i style="left:850px;top:295px;height:142px;background:linear-gradient(#0087de,#0096de 9px,#0fb2ce 16px,#00a3de 26px,#0003de 42px,#0000cd 52px,#0000ab 57px,#0000b5 66px,#00008f 75px,#00009b 94px,#0000bd 104px,#0015a0 118px,#0018ae 134px,#000ed0 141px)"></i><i style="left:851px;top:295px;height:142px;background:linear-gradient(#001da0,#0017a0 31px,#000098 60px,#00009a 141px)"></i><i style="left:859px;top:295px;height:142px;background:linear-gradient(#00008f,#000097 141px)"></i><i style="left:860px;top:295px;height:142px;background:linear-gradient(#00009c,#0003a0 45px,#000da0 85px,#001ca0 110px,#001fc1 120px,#0011a0 134px,#0018c2 141px)"></i><i style="left:861px;top:295px;height:142px;background:linear-gradient(#0000c9,#00009e 12px,#000bde 23px,#0049de 33px,#0008de 46px,#0000da 57px,#0072ee 74px,#0034ea 86px,#001be7 96px,#0079ee 107px,#00aff5 116px,#005aee 135px,#007ef5 141px)"></i><i style="left:862px;top:295px;height:142px;background:linear-gradient(#00009c,#000daf 38px,#0005a9 61px,#0027ff 70px,#003eff 77px,#000ced 86px,#0017db 96px,#0046ff 104px,#008cff 114px,#0067ff 128px,#005cff 138px,#006eff 141px)"></i><i style="left:863px;top:295px;height:142px;background:linear-gradient(#00008f,#00009a 10px,#0000cc 16px,#00008f 28px,#0000a1 34px,#000dde 40px,#0025de 46px,#0000d1 52px,#0000a7 59px,#0010eb 67px,#004cee 75px,#0003e9 87px,#0085fa 103px,#0034ee 117px,#007bff 126px,#00a3ff 132px,#0054fd 141px)"></i><i style="left:864px;top:295px;height:142px;background:linear-gradient(#00008f,#0001a0 85px,#0017af 98px,#001bd6 104px,#0007a0 115px,#000bb2 121px,#002cee 127px,#0051ee 133px,#000fe5 141px)"></i><i style="left:865px;top:295px;height:142px;background:linear-gradient(#00008f,#00009c 124px,#00009e 141px)"></i><i style="left:871px;top:295px;height:142px;background:linear-gradient(#00008f,#000096 141px)"></i><i style="left:872px;top:295px;height:142px;background:linear-gradient(#00008f,#00009c 101px,#0006a0 121px,#000bac 139px,#000fc1 141px)"></i><i style="left:873px;top:295px;height:142px;background:linear-gradient(#00008f,#00009b 12px,#0000a4 19px,#00008f 28px,#00009b 43px,#0000b4 50px,#00008f 58px,#000097 74px,#0000bc 82px,#00008f 90px,#000098 98px,#0004de 103px,#004ee9 112px,#0026e2 120px,#0000cf 126px,#0000d7 133px,#0047f4 141px)"></i><i style="left:874px;top:295px;height:142px;background:linear-gradient(#00008f,#00009f 74px,#00009c 101px,#000cb9 108px,#0010d5 115px,#00009e 125px,#0004b5 136px,#000fe8 141px)"></i><i style="left:875px;top:295px;height:142px;background:linear-gradient(#00008f,#00009a 43px,#000097 49px,#000090 67px,#0000de 74px,#0000c5 79px,#00008f 83px,#000099 132px,#00009f 141px)"></i><i style="left:876px;top:295px;height:142px;background:linear-gradient(#00008f,#00009a 43px,#000097 49px,#000090 67px,#0000de 74px,#0000c5 79px,#00008f 83px,#000099 132px,#00008f 141px)"></i><i style="left:877px;top:295px;height:142px;background:linear-gradient(#00008f,#000090 82px,#00008f 141px)"></i><i style="left:879px;top:295px;height:142px;background:linear-gradient(#00008f,#000da0 139px,#0012a0 141px)"></i><i style="left:880px;top:295px;height:142px;background:linear-gradient(#00008f,#00009d 70px,#0015a0 102px,#0426b1 110px,#0426c6 120px,#0326d9 132px,#0d4be2 137px,#167cd8 141px)"></i><i style="left:881px;top:295px;height:142px;background:linear-gradient(#0019a0,#0016a0 33px,#0019ab 66px,#012eed 72px,#0757e7 80px,#0028ee 93px,#11a6dd 104px,#26d9ca 109px,#40d9b9 116px,#18d9e0 129px,#5ee1a1 137px,#8ce673 141px)"></i><i style="left:882px;top:295px;height:142px;background:linear-gradient(#0074de,#0095de 8px,#002dde 24px,#0071ee 34px,#00aaee 42px,#0075ee 51px,#004dee 59px,#0095f3 67px,#0dd9f2 73px,#22e3dd 80px,#00baff 90px,#00cdff 96px,#21e8de 100px,#baff45 111px,#b5ff4a 118px,#87ff78 128px,#b9ff46 135px,#ecea13 140px,#efde10 141px)"></i><i style="left:883px;top:295px;height:142px;background:linear-gradient(#0019a0,#000da9 28px,#002cee 35px,#006aee 42px,#0044ee 51px,#0028ee 59px,#0088ee 68px,#06d9ef 75px,#09d9f3 82px,#00adfa 93px,#0ce0f3 99px,#b8ff47 111px,#b8ff47 118px,#8eff71 128px,#c4ff3b 135px,#f2e30d 140px,#f4d70b 141px)"></i><i style="left:884px;top:295px;height:142px;background:linear-gradient(#00008f,#0014aa 67px,#002dbc 73px,#0245ef 81px,#003be5 93px,#0047ff 97px,#2bffd4 109px,#61ff9e 116px,#44ffbb 130px,#bff840 141px)"></i><i style="left:885px;top:295px;height:142px;background:linear-gradient(#000aa0,#001ca0 18px,#0726a4 50px,#001dbb 65px,#0036ee 71px,#12b8ea 81px,#0cbaec 90px,#03abfc 99px,#14f8eb 106px,#b1ff4e 116px,#c0ff3f 122px,#73ff8c 134px,#9fff60 141px)"></i><i style="left:886px;top:295px;height:142px;background:linear-gradient(#0030de,#0098e9 9px,#0084e1 18px,#0061de 28px,#10b2dc 40px,#2bb7c4 48px,#00a0e7 57px,#0086e7 65px,#06b9f7 72px,#57e4a8 82px,#24d6db 93px,#12d4ed 101px,#68ee97 109px,#d2ff2d 118px,#c1fe3e 124px,#6cf093 135px,#84f57b 141px)"></i><i style="left:887px;top:295px;height:142px;background:linear-gradient(#000aa0,#0022d8 11px,#0016a0 23px,#001dab 34px,#072ce8 42px,#0732e7 50px,#001db9 66px,#0635e8 74px,#1375db 83px,#0335f0 100px,#19a3e1 111px,#2ed9c5 118px,#1ec2e1 127px,#13adec 137px,#17c2e8 141px)"></i><i style="left:888px;top:295px;height:142px;background:linear-gradient(#0017a0,#000ea1 20px,#0013a9 37px,#001eb6 56px,#0020cc 63px,#0015ad 71px,#0f29ad 99px,#1536de 107px,#074cc8 121px,#0e50f1 127px,#21b8de 138px,#1fbae0 141px)"></i><i style="left:889px;top:295px;height:142px;background:linear-gradient(#0080ee,#0021ee 14px,#0060ee 22px,#00a1ee 30px,#005bee 40px,#0047ee 47px,#00b4f7 60px,#038cee 68px,#007bee 80px,#0078ee 87px,#19d9d5 95px,#72d981 100px,#87d975 107px,#27d9cd 120px,#5adba5 127px,#bbed44 136px,#b8ef47 141px)"></i><i style="left:890px;top:295px;height:142px;background:linear-gradient(#0087ff,#008fff 6px,#0034ff 18px,#0066ff 25px,#01c9fe 34px,#00b8ff 41px,#006eff 51px,#009aff 58px,#0ff1f0 67px,#1aefe5 75px,#00cbff 85px,#1aede5 91px,#bcff43 101px,#bfff40 107px,#56f3a9 119px,#78fb87 126px,#dff620 134px,#e4f11b 141px)"></i><i style="left:891px;top:295px;height:142px;background:linear-gradient(#004aee,#004bee 7px,#002cee 17px,#009aee 27px,#06d0e9 34px,#00b4ee 41px,#0075ee 50px,#00aef9 58px,#12d7ed 62px,#32f1cd 70px,#03defc 77px,#00a7ff 85px,#19fce6 95px,#54ffab 102px,#1ef3e1 111px,#11bfee 120px,#25ffda 128px,#85fc7a 135px,#87fc78 141px)"></i><i style="left:892px;top:295px;height:142px;background:linear-gradient(#000ba0,#0019a0 25px,#0018a0 46px,#001ba0 55px,#002eee 60px,#0a90e4 68px,#0081ee 76px,#005bee 84px,#00a4ee 92px,#0ed9e0 97px,#2fd9c1 103px,#00c6ee 112px,#00a5f0 120px,#0fdaf0 127px,#63f09c 136px,#52f0ad 141px)"></i><i style="left:893px;top:295px;height:142px;background:linear-gradient(#00008f,#00009e 59px,#0012a0 77px,#0826a5 104px,#001eaa 120px,#0334eb 127px,#1193dd 136px,#0e91e1 141px)"></i><i style="left:894px;top:295px;height:142px;background:linear-gradient(#00008f,#00009d 61px,#000fa8 131px,#001cb1 141px)"></i><i style="left:895px;top:295px;height:142px;background:linear-gradient(#00008f,#00009e 16px,#0000ab 26px,#00008f 36px,#000095 56px,#0005de 63px,#0020de 71px,#0000c4 79px,#0000af 89px,#000dde 98px,#003ade 109px,#0000d0 121px,#0000b4 131px,#000ede 140px,#0016de 141px)"></i><i style="left:896px;top:295px;height:142px;background:linear-gradient(#00008f,#00009d 61px,#0007ac 135px,#0005ae 141px)"></i><i style="left:897px;top:295px;height:142px;background:linear-gradient(#00008f,#000ca0 96px,#01269f 110px,#09269d 123px,#172fd7 128px,#1a4bd4 134px,#0d26d5 141px)"></i><i style="left:898px;top:295px;height:142px;background:linear-gradient(#000ca0,#000ea0 20px,#000da0 44px,#000da0 60px,#0026a7 74px,#0726d6 82px,#0326d9 91px,#0a3ae5 94px,#26d6c8 103px,#30d7be 109px,#20c9ce 118px,#5dd197 124px,#a7cb58 131px,#73d08c 139px,#62d49b 141px)"></i><i style="left:899px;top:295px;height:142px;background:linear-gradient(#0036de,#0000cf 7px,#0000c9 13px,#0018e1 17px,#0063ee 24px,#003cee 30px,#0002e8 37px,#0035ee 43px,#0093ee 50px,#0075ee 56px,#003fee 63px,#006aee 68px,#03d6ed 74px,#2fd9cd 81px,#0dd9ed 90px,#4fe1b0 95px,#d9f726 102px,#dce523 108px,#befb41 118px,#deed21 122px,#f3800c 130px,#f09d0f 136px,#e6dd19 141px)"></i><i style="left:900px;top:295px;height:142px;background:linear-gradient(#000ca0,#0002a0 16px,#0020ee 22px,#0033ee 27px,#0002d6 35px,#0015ee 42px,#008dee 50px,#0075ee 56px,#0044ee 63px,#0072ee 68px,#0cd8ed 74px,#3ee0c1 80px,#1ee2e1 90px,#78f587 96px,#e1f11e 101px,#eec911 106px,#e0ff1f 117px,#f8b507 124px,#ff5a00 131px,#ff7e00 136px,#fac305 141px)"></i><i style="left:901px;top:295px;height:142px;background:linear-gradient(#000ba0,#000096 18px,#0010a0 46px,#001fa0 71px,#0728e7 76px,#0a4de4 83px,#0758e7 91px,#1ed5d0 98px,#76d181 103px,#84d07a 109px,#6ad995 117px,#d9d626 127px,#ddb622 133px,#c4ed3b 141px)"></i><i style="left:902px;top:295px;height:142px;background:linear-gradient(#0034de,#0000d2 3px,#000095 6px,#000fa0 37px,#000091 71px,#0011b1 82px,#0b27aa 101px,#1526e7 108px,#103cef 118px,#26edd9 129px,#34ebcb 135px,#22cedd 141px)"></i><i style="left:903px;top:295px;height:142px;background:linear-gradient(#001fb1,#0012b9 6px,#0011ee 11px,#0085ee 32px,#005dee 38px,#0126e2 42px,#0025a0 46px,#0d269c 71px,#052bea 78px,#0b62e3 88px,#001cf6 106px,#003efd 114px,#0dd1f2 129px,#019ffe 140px,#0097ff 141px)"></i><i style="left:904px;top:295px;height:142px;background:linear-gradient(#0062ee,#0018f8 21px,#004eee 30px,#00aaee 35px,#04b4ea 41px,#00a2ec 50px,#0fd9df 59px,#6ad985 68px,#4dd3a7 73px,#2dd6cf 76px,#4ae5b5 86px,#0ccef3 99px,#06abf8 109px,#0fd2f0 119px,#3eebc1 130px,#00d4ff 141px)"></i><i style="left:905px;top:295px;height:142px;background:linear-gradient(#0024ee,#000fac 8px,#001de7 19px,#0020b1 27px,#074ab5 47px,#0753f8 51px,#07f8f8 59px,#c6fe39 68px,#d0e42f 73px,#bcff43 80px,#57ffa8 90px,#53eeac 107px,#26e4d9 113px,#1b94e4 118px,#0fd1f0 130px,#049dfb 141px)"></i><i style="left:906px;top:295px;height:142px;background:linear-gradient(#0003a0,#00009a 9px,#0012e4 13px,#0087e9 20px,#0082de 26px,#0058de 35px,#00a1ee 42px,#20ced1 47px,#13e2ec 53px,#01dcfe 59px,#3dffc2 67px,#bdf242 74px,#d2ed2d 79px,#86f879 88px,#d8ee27 99px,#e1c81e 108px,#c3ec3c 115px,#3aeec5 127px,#35eaca 141px)"></i><i style="left:907px;top:295px;height:142px;background:linear-gradient(#00008f,#0011a0 16px,#0017a0 38px,#0034ee 42px,#08b3e7 48px,#02cfec 54px,#0ed2e0 63px,#67e398 68px,#c5fa3a 72px,#e8b017 78px,#e6c119 85px,#e7eb18 92px,#fab305 98px,#ff6200 105px,#ff8e00 111px,#f2f20d 118px,#e0e21f 125px,#dca123 133px,#dcd723 139px,#d5ec2a 141px)"></i><i style="left:908px;top:295px;height:142px;background:linear-gradient(#00008f,#00009f 41px,#0024a0 55px,#0626a9 64px,#1139de 67px,#26cfc8 72px,#a4c74a 79px,#b4ce4a 86px,#bfe240 93px,#d9d226 97px,#f4640b 105px,#f77c08 111px,#f1ce0e 119px,#ffac00 125px,#ff4c00 132px,#ff5b00 137px,#fe9801 141px)"></i><i style="left:909px;top:295px;height:142px;background:linear-gradient(#0004a0,#0005a0 35px,#0016a0 57px,#0035b1 70px,#1d439b 80px,#224ddd 87px,#2aa1d5 94px,#27efd8 98px,#add452 106px,#a8e357 114px,#a4f55b 120px,#dfdf20 126px,#eb7e14 133px,#ed9512 139px,#ebae14 141px)"></i><i style="left:910px;top:295px;height:142px;background:linear-gradient(#0013de,#0000b9 9px,#0011de 17px,#0053de 26px,#0010de 36px,#0000d6 45px,#008ded 63px,#007aee 78px,#0cc5f3 86px,#26dad9 93px,#04e5fb 99px,#1e98e1 107px,#1cb8e3 114px,#2ef4d1 121px,#3ff0c0 127px,#50e3af 130px,#8ad175 136px,#7bd484 141px)"></i><i style="left:911px;top:295px;height:142px;background:linear-gradient(#0004a0,#0005a0 35px,#0013a7 56px,#001eec 64px,#0026ee 79px,#0899e6 90px,#0182ed 98px,#0031ee 107px,#0056ee 114px,#06afe8 123px,#0c93e2 131px,#124ddc 141px)"></i><i style="left:912px;top:295px;height:142px;background:linear-gradient(#00008f,#00009f 63px,#0010b0 100px,#003fb1 128px,#0e2fa3 141px)"></i><i style="left:913px;top:295px;height:142px;background:linear-gradient(#0000a0,#000da0 27px,#0011a0 44px,#0015a0 63px,#0726a7 78px,#142dda 85px,#1035de 102px,#2acec4 113px,#4dc9a2 120px,#26c4c8 129px,#36d1b8 137px,#66c889 141px)"></i><i style="left:914px;top:295px;height:142px;background:linear-gradient(#0000dc,#0011de 8px,#006dde 19px,#0035de 28px,#000bde 36px,#004fee 44px,#00a7ee 51px,#0097ee 58px,#006bee 67px,#00abee 73px,#1bd9d3 77px,#72d98d 84px,#53d9aa 93px,#4fd9af 100px,#d9df26 110px,#e0971f 117px,#deae21 123px,#d9e926 131px,#dfba20 138px,#e69119 141px)"></i><i style="left:915px;top:295px;height:142px;background:linear-gradient(#0000a0,#000da0 27px,#0007aa 40px,#0022ee 45px,#0083ee 52px,#0072ee 60px,#0065ee 67px,#00afee 73px,#11d9e0 76px,#7de682 83px,#80ed7f 90px,#68f097 99px,#b9ff46 105px,#f0c00f 110px,#ff6900 117px,#ff7e00 123px,#fbbe04 131px,#ff8f00 137px,#ff4d00 141px)"></i><i style="left:916px;top:295px;height:142px;background:linear-gradient(#00008f,#00009c 43px,#0011a0 63px,#0326aa 76px,#1037de 80px,#1981d5 87px,#1495da 99px,#31d9bd 105px,#d2ce2d 114px,#d9c226 122px,#c8e437 131px,#d9cf26 137px,#e69219 141px)"></i><i style="left:917px;top:295px;height:142px;background:linear-gradient(#00008f,#00009b 78px,#002bb1 103px,#103daf 108px,#1b47e4 111px,#26a3d9 117px,#26add9 125px,#23b6dc 132px,#35f3ca 138px,#68ee97 141px)"></i><i style="left:918px;top:295px;height:142px;background:linear-gradient(#00008f,#0014a0 61px,#182688 86px,#212687 95px,#262ac8 101px,#26a6d9 114px,#269ad9 131px,#35e9ca 140px,#44e7bb 141px)"></i><i style="left:919px;top:295px;height:142px;background:linear-gradient(#0f2692,#0d2693 25px,#1a269b 30px,#232ccb 35px,#2144cd 44px,#1a46d4 55px,#2ecac1 67px,#86bb69 75px,#b9b635 94px,#d39c25 100px,#c65526 112px,#d7a426 131px,#cc6b23 141px)"></i><i style="left:920px;top:295px;height:142px;background:linear-gradient(#44b299,#00acde 15px,#19b2c6 22px,#a4d65b 35px,#9ddf62 44px,#7cde83 54px,#cbe634 63px,#ed5f12 75px,#f54d0a 91px,#ec2400 99px,#931100 107px,#a31300 119px,#f41f00 129px,#cd1700 137px,#a20f00 141px)"></i><i style="left:921px;top:295px;height:142px;background:linear-gradient(#0f2692,#0526a3 22px,#1032de 26px,#23c7cd 35px,#31d9bd 44px,#2dd9c8 54px,#7ce083 61px,#d9da26 67px,#d97a26 75px,#e5611a 91px,#e62605 100px,#931400 108px,#a21200 119px,#ee1a00 129px,#c41000 137px,#980600 141px)"></i><i style="left:922px;top:295px;height:142px;background:linear-gradient(#0010a0,#0831b0 28px,#0447ad 42px,#034ac1 53px,#1654e9 59px,#40acbf 69px,#3ebfc1 76px,#3fe8c0 85px,#aadc55 97px,#ebd20c 102px,#ec6f00 111px,#eb8005 120px,#e9a012 130px,#e1440c 141px)"></i><i style="left:923px;top:295px;height:142px;background:linear-gradient(#004dde,#0058de 10px,#0db2d0 22px,#24b2bd 31px,#009ede 41px,#0099de 51px,#16b2e3 57px,#78e587 69px,#59f4a6 80px,#3bf3c4 90px,#80ff7f 99px,#ecea13 110px,#ddeb22 119px,#89f176 132px,#b6df49 141px)"></i><i style="left:924px;top:295px;height:142px;background:linear-gradient(#0010a0,#0021a0 42px,#0023a9 53px,#0936e5 59px,#1ab3d4 70px,#12aedc 81px,#0ba9e3 92px,#1fd9dc 99px,#91da6e 110px,#8be074 119px,#43e2bc 132px,#77ef88 141px)"></i><i style="left:925px;top:295px;height:142px;background:linear-gradient(#00008f,#0010a0 50px,#003db1 73px,#0545b9 94px,#134ce3 102px,#194ce1 109px,#1562ea 120px,#0b60f4 130px,#21b4de 141px)"></i><i style="left:926px;top:295px;height:142px;background:linear-gradient(#00008f,#0002b0 14px,#0008ec 22px,#0000c7 39px,#000ced 45px,#00b8ee 58px,#00c3ee 66px,#007bee 80px,#00c2ee 90px,#31d8cc 102px,#00bbff 113px,#0098ff 122px,#10d9ef 132px,#3eefc1 141px)"></i><i style="left:927px;top:295px;height:142px;background:linear-gradient(#00008f,#0000a2 7px,#0011e4 15px,#001dee 24px,#0000d0 33px,#0000c7 41px,#0017ee 47px,#009dee 58px,#009fee 67px,#0055f7 80px,#0087ff 87px,#09e9f6 97px,#07dbf8 106px,#007fff 119px,#09baf6 129px,#1fffe0 140px,#1fffe0 141px)"></i><i style="left:928px;top:295px;height:142px;background:linear-gradient(#0007a0,#0018b1 24px,#0013aa 42px,#0043b1 64px,#0034b9 77px,#1047ef 84px,#23c8dc 95px,#1ec3e1 104px,#18a3e7 116px,#34eacb 126px,#76ef89 136px,#6bf594 141px)"></i><i style="left:929px;top:295px;height:142px;background:linear-gradient(#0020de,#007fde 14px,#004ade 25px,#0028de 34px,#0079e2 45px,#08bce6 53px,#00b1ee 69px,#11cee3 79px,#baf345 94px,#adf352 103px,#81ef7e 114px,#bdfb42 123px,#deec21 127px,#eab415 136px,#e7c718 141px)"></i><i style="left:930px;top:295px;height:142px;background:linear-gradient(#0007a0,#0013a0 23px,#0018a6 44px,#0031ee 50px,#036feb 59px,#0077ee 74px,#1ed9d1 84px,#89d970 92px,#a0df5f 100px,#71e28e 114px,#b4f34b 123px,#dbe824 128px,#e8b617 136px,#e7c718 141px)"></i><i style="left:931px;top:295px;height:142px;background:linear-gradient(#00008f,#00009d 48px,#102696 89px,#1b31d3 96px,#145bda 116px,#30d5bf 128px,#6ecc80 137px,#6acf87 141px)"></i><i style="left:932px;top:295px;height:142px;background:linear-gradient(#00008f,#00009b 91px,#0017b1 112px,#073faa 130px,#154ca6 141px)"></i><i style="left:933px;top:295px;height:142px;background:linear-gradient(#00008f,#00009a 58px,#0f2691 86px,#18269b 91px,#0c26cb 106px,#123bdc 109px,#26c1c8 118px,#1fb8cf 125px,#139cdb 133px,#2fd9c1 140px,#41d9af 141px)"></i><i style="left:934px;top:295px;height:142px;background:linear-gradient(#00008f,#000fa0 27px,#05269b 56px,#1026da 59px,#1779d7 66px,#1098de 77px,#21d9cd 82px,#8dd662 89px,#87d96f 95px,#44d9b2 104px,#7ce183 110px,#d6f729 117px,#c5fb3a 123px,#68f197 132px,#8efc71 138px,#bfff40 141px)"></i><i style="left:935px;top:295px;height:142px;background:linear-gradient(#0010a0,#0000a8 18px,#0013ec 24px,#0092ee 32px,#0088ee 38px,#005ee6 46px,#00a2ee 53px,#6cd993 63px,#4bdab4 77px,#c7f738 88px,#bafa45 95px,#63e99c 104px,#9cf263 111px,#d8f827 117px,#c3f83c 123px,#59e5a6 132px,#78eb87 138px,#a0f25f 141px)"></i><i style="left:936px;top:295px;height:142px;background:linear-gradient(#004ade,#004ade 6px,#0000cc 14px,#0000bc 20px,#0015ee 26px,#0056ee 33px,#0016de 42px,#0016cb 48px,#002dee 53px,#169ad8 62px,#1279dd 72px,#1174dd 78px,#28dcd7 89px,#21b6d8 96px,#1372e6 104px,#1a9ee5 110px,#26e1d9 117px,#22bfdd 123px,#106aef 131px,#1286ed 137px,#1bb6e4 141px)"></i><i style="left:937px;top:295px;height:142px;background:linear-gradient(#0013b1,#0014b1 10px,#0006b1 25px,#0020b1 36px,#0009ac 50px,#003db1 65px,#0034b4 79px,#0a50f5 85px,#0a63f5 90px,#0045ec 95px,#002ed2 102px,#0040ff 107px,#0d9bf2 114px,#0583fa 120px,#0031ff 128px,#0069ff 134px,#0ebdf1 141px)"></i><i style="left:938px;top:295px;height:142px;background:linear-gradient(#000ede,#0049de 7px,#0000d1 18px,#000ede 24px,#006ede 33px,#0044de 40px,#0016de 47px,#0074de 56px,#00ade9 62px,#007de6 75px,#10bce9 82px,#36ccc9 88px,#00b4fb 95px,#0082f5 101px,#08c8f7 108px,#3be2c4 115px,#00b9ff 123px,#008fff 128px,#0dd9f2 135px,#40f1bf 141px)"></i><i style="left:939px;top:295px;height:142px;background:linear-gradient(#0003a0,#0011a0 29px,#0013a0 54px,#001fad 58px,#0025da 64px,#001bc8 75px,#0035ee 80px,#0c83e3 87px,#015ded 94px,#0026ee 101px,#0275fd 108px,#0db7f2 114px,#0594fa 120px,#004cff 127px,#0071ff 132px,#0eeaf1 141px)"></i><i style="left:940px;top:295px;height:142px;background:linear-gradient(#00008f,#00009d 60px,#0034b1 87px,#0f2aa4 103px,#1e46e1 109px,#216fde 116px,#1336ec 127px,#1b76e4 134px,#26d6d9 141px)"></i><i style="left:941px;top:295px;height:142px;background:linear-gradient(#0012a0,#0011a0 31px,#0019a0 51px,#001ba7 59px,#0226ec 63px,#23d2cb 72px,#30d9be 80px,#17b6d7 93px,#2ed9c0 99px,#a1c95b 107px,#c2cd3d 115px,#80d67f 128px,#d9d026 140px,#d9c726 141px)"></i><i style="left:942px;top:295px;height:142px;background:linear-gradient(#0052de,#0065de 8px,#000ede 22px,#0041de 30px,#009fdf 40px,#007ae1 50px,#0067e3 57px,#09bdf6 63px,#b0fd4f 72px,#c4ff3b 79px,#73f78c 91px,#9dff62 98px,#dbf224 102px,#f99006 111px,#f6a709 118px,#e9e716 127px,#f4c10b 134px,#ff6800 141px)"></i><i style="left:943px;top:295px;height:142px;background:linear-gradient(#0012a0,#0011a0 31px,#0022ae 41px,#0016b9 57px,#002bee 61px,#1fd9cf 69px,#62d98d 73px,#71d97d 80px,#39d9b6 92px,#77d988 99px,#d9de26 106px,#dcb223 114px,#d0f52f 125px,#dcee23 132px,#f3810c 141px)"></i><i style="left:944px;top:295px;height:142px;background:linear-gradient(#00008f,#000ba0 63px,#102690 75px,#0926a4 94px,#1326db 99px,#26b7c8 108px,#38cdb7 115px,#25d5c9 130px,#a0c75f 141px)"></i><i style="left:945px;top:295px;height:142px;background:linear-gradient(#00008f,#00009c 61px,#0011a0 87px,#0342ae 113px,#0d42b4 136px,#1c5be3 141px)"></i><i style="left:946px;top:295px;height:142px;background:linear-gradient(#0011a0,#0022a0 18px,#0025a0 33px,#0026a5 58px,#0d35e1 63px,#105bde 69px,#0023ee 80px,#15b9d9 93px,#0b99e3 100px,#0070ee 107px,#25d9c9 118px,#31d9be 123px,#0cc6e3 128px,#02a4ec 135px,#17dce8 141px)"></i><i style="left:947px;top:295px;height:142px;background:linear-gradient(#004ede,#0ab2d4 10px,#00aade 17px,#0067de 25px,#009dde 32px,#23b2bb 37px,#1cb2c2 43px,#0093de 49px,#0090e0 55px,#0bb2e0 59px,#51beae 66px,#25b9d6 73px,#00a8f5 78px,#0ac1f5 84px,#62e49d 93px,#34d5cb 100px,#00c3ff 107px,#39e1c6 114px,#76f689 121px,#0adff5 134px,#45f0ba 141px)"></i><i style="left:948px;top:295px;height:142px;background:linear-gradient(#002fb1,#073faa 22px,#0a45b3 55px,#144ce5 64px,#0f4df0 70px,#0044d3 78px,#045efb 83px,#20a0df 91px,#0f86f0 99px,#004dff 106px,#0774f8 112px,#22d1dd 120px,#15d1ea 128px,#0584fa 137px,#0eb1f1 141px)"></i><i style="left:949px;top:295px;height:142px;background:linear-gradient(#008ede,#0064de 8px,#0bb2d3 19px,#23b2bb 26px,#00a1de 33px,#0076de 41px,#07b2d6 50px,#37b2ad 57px,#15b2d8 64px,#008eee 71px,#0095e5 78px,#11b6de 83px,#3dc4bc 91px,#00b8f0 100px,#0087ee 107px,#0ec8ed 116px,#3cdbc3 124px,#00b6fb 134px,#0098f6 140px,#009cf7 141px)"></i><i style="left:950px;top:295px;height:142px;background:linear-gradient(#001ea0,#06269a 84px,#0d2eda 91px,#003cb1 107px,#0044cb 113px,#095af6 119px,#1475eb 126px,#184cdf 133px,#2643b2 141px)"></i><i style="left:951px;top:295px;height:142px;background:linear-gradient(#00008f,#0012a0 32px,#1b2686 55px,#261f7a 84px,#261ad2 89px,#2683ca 100px,#30c5cf 123px,#c9b21e 141px)"></i><i style="left:952px;top:295px;height:142px;background:linear-gradient(#26267a,#262689 8px,#1930d6 25px,#2bd0c3 39px,#97c158 50px,#8fcb5f 66px,#afc83f 77px,#d9b416 82px,#d24b26 91px,#cb3526 103px,#d55826 122px,#cb2611 132px,#a32600 141px)"></i><i style="left:953px;top:295px;height:142px;background:linear-gradient(#b1b22c,#a3b241 11px,#71b37d 24px,#b2c43c 36px,#c87537 48px,#ccb533 74px,#e1821e 82px,#e63909 89px,#bd2300 101px,#ee2b00 121px,#9b0700 136px,#960100 141px)"></i><i style="left:954px;top:295px;height:142px;background:linear-gradient(#26267a,#25267b 34px,#261984 41px,#261bc8 46px,#2669ce 57px,#32ebcd 79px,#d0d925 93px,#deb114 104px,#f1b60a 122px,#d92f13 140px,#da2b12 141px)"></i><i style="left:955px;top:295px;height:142px;background:linear-gradient(#00008f,#00009c 44px,#001bba 56px,#0034ff 60px,#12e8ed 68px,#4ff3b0 73px,#43fdbc 94px,#e4f41b 113px,#c9f636 123px,#85e37a 134px,#a4da5b 141px)"></i><i style="left:956px;top:295px;height:142px;background:linear-gradient(#00008f,#00009c 49px,#0014de 55px,#09c6e5 64px,#88d96f 71px,#87d977 80px,#4cd9b1 93px,#a2ed5d 104px,#d0ef2f 110px,#d1f22e 120px,#7ff480 135px,#9cfb63 141px)"></i><i style="left:957px;top:295px;height:142px;background:linear-gradient(#00008f,#00009d 53px,#16268c 69px,#1d26ca 76px,#1233e8 96px,#2ae5d5 115px,#25e4da 123px,#18ade7 134px,#1ddbe2 141px)"></i><i style="left:958px;top:295px;height:142px;background:linear-gradient(#00008f,#000fa0 53px,#0f26a1 81px,#1a26a8 85px,#1d26d6 93px,#0e3dcd 105px,#1658e9 110px,#27bbd8 118px,#1faae0 125px,#1070ef 134px,#19aee6 141px)"></i><i style="left:959px;top:295px;height:142px;background:linear-gradient(#00008f,#00009d 19px,#0001ee 24px,#001eee 30px,#0000dd 36px,#0000c2 43px,#0006ee 48px,#00b3ee 61px,#0dd9e1 76px,#9dd958 86px,#aad953 92px,#4fd9a7 104px,#8cdf73 111px,#d8f127 119px,#a6ec59 126px,#5be3a4 134px,#8dee72 141px)"></i><i style="left:960px;top:295px;height:142px;background:linear-gradient(#00008f,#00009d 19px,#0001ee 24px,#001eee 30px,#0000dd 36px,#0000c2 43px,#0006ee 48px,#00b3ee 61px,#0dd9eb 76px,#ace353 88px,#92eb6d 95px,#5bffa4 102px,#91ff6e 109px,#f6ff09 118px,#d4ff2b 125px,#82ed7d 134px,#b4e74b 141px)"></i><i style="left:961px;top:295px;height:142px;background:linear-gradient(#00008f,#000fa5 53px,#0025a9 72px,#0134bc 75px,#0442fa 77px,#0f78f0 81px,#1d8be2 93px,#25fbda 100px,#c0f53f 108px,#e6f219 116px,#eef111 127px,#ea6d15 137px,#f26a0d 141px)"></i><i style="left:962px;top:295px;height:142px;background:linear-gradient(#00008f,#00009d 15px,#0000a3 22px,#00008f 32px,#00009f 44px,#0000b2 51px,#00008f 58px,#000093 71px,#0000db 73px,#009af6 78px,#00b2fd 85px,#00b1ff 92px,#17d3e8 96px,#a6ff59 103px,#d8e927 106px,#eebe11 113px,#eecb11 125px,#ff6f00 132px,#ff2400 138px,#ff2700 141px)"></i><i style="left:963px;top:295px;height:142px;background:linear-gradient(#00008f,#000098 72px,#001bad 77px,#0024e4 82px,#0031ee 93px,#2bd9c3 103px,#8ccd64 109px,#96ce65 121px,#b0d04f 127px,#d9ca26 131px,#da8625 139px,#da8925 141px)"></i><i style="left:964px;top:295px;height:142px;background:linear-gradient(#00008f,#000ea0 97px,#162694 109px,#1b36d3 126px,#26c2c8 137px,#2ec8c0 141px)"></i><i style="left:965px;top:295px;height:142px;background:linear-gradient(#00008f,#00009f 124px,#02269e 141px)"></i><i style="left:968px;top:295px;height:142px;background:linear-gradient(#00008f,#00009c 141px)"></i><i style="left:969px;top:295px;height:142px;background:linear-gradient(#00008f,#000ea0 77px,#0011a0 93px,#001fa0 111px,#001aa0 136px,#0025da 141px)"></i><i style="left:970px;top:295px;height:142px;background:linear-gradient(#00008f,#00009a 60px,#0000e0 69px,#0060ee 78px,#00a4ee 85px,#006fee 92px,#0033ee 99px,#005fee 105px,#00c1ee 113px,#00aeee 119px,#0053ee 128px,#0075ee 134px,#00d2fb 141px)"></i><i style="left:971px;top:295px;height:142px;background:linear-gradient(#00008f,#00009a 60px,#0000e0 69px,#0060ee 78px,#00a4ee 85px,#006fee 92px,#0033ee 99px,#005fee 105px,#00c1ee 113px,#00aeee 119px,#0053ee 128px,#0075ee 134px,#00d2fb 141px)"></i><i style="left:972px;top:295px;height:142px;background:linear-gradient(#00008f,#000ea0 77px,#0011a0 93px,#001fa0 111px,#001aa0 136px,#0025da 141px)"></i><i style="left:973px;top:295px;height:142px;background:linear-gradient(#00008f,#00009c 141px)"></i><i style="left:974px;top:295px;height:142px;background:linear-gradient(#00008f,#00009e 93px,#0010a0 141px)"></i><i style="left:975px;top:295px;height:142px;background:linear-gradient(#00008f,#00009e 49px,#0022a0 77px,#0126b2 88px,#0a2fe4 95px,#0d60e2 106px,#001ae9 127px,#004dee 137px,#0073ee 141px)"></i><i style="left:976px;top:295px;height:142px;background:linear-gradient(#00008f,#000096 38px,#0025b1 46px,#0a38e4 51px,#1ac5d4 66px,#18d2d7 73px,#11d1de 85px,#5ce4a3 102px,#24e1db 112px,#00bbff 120px,#009bff 130px,#02e9fd 141px)"></i><i style="left:977px;top:295px;height:142px;background:linear-gradient(#00008f,#00008f 37px,#0000da 39px,#0082ee 42px,#07cbee 47px,#7cf883 64px,#88ff77 71px,#4cf9b3 81px,#79ff86 94px,#86ff79 104px,#00dbff 121px,#00b5ff 130px,#0aeff5 141px)"></i><i style="left:978px;top:295px;height:142px;background:linear-gradient(#00008f,#000096 38px,#001eee 41px,#0066ee 43px,#0fd1e0 54px,#46d9aa 71px,#11d3dd 79px,#28d9cd 93px,#34d9c8 104px,#0fc9e5 111px,#005aee 127px,#007cee 138px,#028fee 141px)"></i><i style="left:979px;top:295px;height:142px;background:linear-gradient(#00008f,#00009a 40px,#06269a 62px,#0126ae 90px,#0526d6 105px,#0017a0 118px,#0016a7 141px)"></i><i style="left:980px;top:295px;height:142px;background:linear-gradient(#00008f,#00009e 85px,#0026a2 114px,#14269a 123px,#0f26a4 132px,#06269d 141px)"></i><i style="left:981px;top:295px;height:142px;background:linear-gradient(#00008f,#00009d 59px,#0024a6 82px,#0d2ee2 86px,#1d8ed1 93px,#1eb9d1 111px,#31d9be 115px,#85cb6c 123px,#74d17f 131px,#3cd9b2 141px)"></i><i style="left:982px;top:295px;height:142px;background:linear-gradient(#00008f,#00009b 55px,#0009df 61px,#0069ee 77px,#08ceec 83px,#92ed6d 92px,#95f26a 101px,#9ff860 111px,#d7f828 116px,#eeb311 125px,#d2ff2d 136px,#b9ff46 141px)"></i><i style="left:983px;top:295px;height:142px;background:linear-gradient(#00008f,#00009d 59px,#0011ee 73px,#0068ee 80px,#0ed9e1 86px,#69d989 92px,#6fd98a 101px,#7edd81 111px,#d9e226 120px,#d9d226 127px,#c1f33e 134px,#9af165 141px)"></i><i style="left:984px;top:295px;height:142px;background:linear-gradient(#00008f,#000da0 79px,#10269f 92px,#1331db 110px,#26c1c8 123px,#25b8c9 132px,#1a96d4 141px)"></i><i style="left:985px;top:295px;height:142px;background:linear-gradient(#00008f,#00009b 51px,#0022a0 67px,#0000a2 97px,#001aa0 119px,#0018a9 141px)"></i><i style="left:986px;top:295px;height:142px;background:linear-gradient(#00008f,#00009a 49px,#0000db 52px,#03baeb 63px,#006fee 77px,#0026e2 86px,#0526a9 92px,#0022c7 102px,#0020a0 113px,#152696 130px,#0c26bc 141px)"></i><i style="left:987px;top:295px;height:142px;background:linear-gradient(#00008f,#0013a0 36px,#0c37a5 56px,#0d4ef2 61px,#1074ef 64px,#154cea 69px,#2cd1ce 87px,#3ad2ba 94px,#21c4d6 102px,#1ab5d4 112px,#2ad9c4 118px,#87ce68 129px,#6bd78a 139px,#5bd99b 141px)"></i><i style="left:988px;top:295px;height:142px;background:linear-gradient(#00008f,#0000a3 13px,#0010de 27px,#006fde 38px,#07b2d7 44px,#3cb5b2 53px,#4cc7b3 66px,#bcec43 83px,#cad935 93px,#abfc54 101px,#78f687 110px,#b6ff49 119px,#e5ce1a 129px,#d8f627 139px,#cbff34 141px)"></i><i style="left:989px;top:295px;height:142px;background:linear-gradient(#00008f,#0013a0 36px,#0426ac 45px,#0d2ee2 52px,#137ddc 68px,#32d9bd 80px,#7bd078 89px,#60e99f 99px,#24f3db 109px,#5be7a4 118px,#b3e24c 129px,#8eff71 140px,#86ff79 141px)"></i><i style="left:990px;top:295px;height:142px;background:linear-gradient(#23267d,#192687 22px,#182688 44px,#152a9b 56px,#263793 69px,#2d4c90 88px,#375cc8 95px,#2bb3d4 105px,#3d8ac2 125px,#46edb9 139px,#4becb4 141px)"></i><i style="left:991px;top:295px;height:142px;background:linear-gradient(#a8d946,#54d99b 14px,#8fd95f 22px,#d9cd16 30px,#c5d129 39px,#72d97d 50px,#a6d248 59px,#d9ba16 66px,#d9b919 73px,#a3d04c 87px,#d9ba26 95px,#d97726 103px,#d99826 112px,#cfd330 120px,#d9ca26 130px,#db8023 141px)"></i><i style="left:992px;top:295px;height:142px;background:linear-gradient(#3bd9b3,#43d9ac 15px,#d5cf19 27px,#d9a416 35px,#b3d93b 47px,#b7d941 54px,#de9021 71px,#d2d92d 86px,#f3920c 95px,#fe3200 103px,#ff3f00 110px,#f9ad06 121px,#ffa000 128px,#ff2200 139px,#fa2000 141px)"></i><i style="left:993px;top:295px;height:142px;background:linear-gradient(#05269b,#26267a 44px,#212692 52px,#2632c8 57px,#26bfc8 67px,#3dc7b1 76px,#44d0ab 87px,#d9b220 99px,#d88926 106px,#cbd334 121px,#d9ca26 129px,#e96115 141px)"></i><i style="left:994px;top:295px;height:142px;background:linear-gradient(#00008f,#00009c 55px,#0136b0 68px,#14349d 93px,#213c97 97px,#2649d9 102px,#2674d9 110px,#236ddc 123px,#2fe4d0 134px,#75da8a 141px)"></i><i style="left:995px;top:295px;height:142px;background:linear-gradient(#11268f,#11268f 21px,#11268f 41px,#172698 56px,#2234cc 61px,#266fc8 69px,#0d29e2 84px,#1982d6 96px,#1aa8e5 105px,#014dfe 120px,#0886f7 128px,#1ad1e5 136px,#21ccde 141px)"></i><i style="left:996px;top:295px;height:142px;background:linear-gradient(#4fb29a,#10b2dc 12px,#4ec6a0 21px,#91d95e 31px,#36cfb9 48px,#70d981 56px,#c8e237 64px,#b8e747 72px,#3fd9c0 83px,#56e2a9 91px,#98f367 101px,#63ed9c 109px,#09d8f6 118px,#16e1e9 126px,#62f69d 137px,#54f4ab 141px)"></i><i style="left:997px;top:295px;height:142px;background:linear-gradient(#1126c7,#0634e9 15px,#1ed8d0 29px,#15c7d9 39px,#0cabe3 48px,#1dd9d1 55px,#92d85d 65px,#82d96d 72px,#10d9de 83px,#2bd9c3 91px,#73d988 101px,#41d9b6 109px,#06cdee 115px,#01bafe 122px,#1defe2 130px,#48e8b7 138px,#3ce3c3 141px)"></i><i style="left:998px;top:295px;height:142px;background:linear-gradient(#00009b,#0016a0 22px,#001da0 44px,#0e2692 75px,#0936a8 93px,#1146dd 105px,#003bcc 115px,#0042ff 121px,#0eb0f1 129px,#14a6eb 136px,#097df6 141px)"></i><i style="left:999px;top:295px;height:142px;background:linear-gradient(#00008f,#00009e 74px,#000baa 82px,#0026ee 89px,#0cb2ea 98px,#0dbdee 105px,#0295f3 116px,#1ee3e1 124px,#5bf0a4 131px,#0cdef3 141px)"></i><i style="left:1000px;top:295px;height:142px;background:linear-gradient(#00008f,#000097 42px,#000095 65px,#0000e4 74px,#004bf3 83px,#00bbff 91px,#0eecf1 94px,#54faab 100px,#39f6c6 107px,#0bf0f4 115px,#49fcb6 122px,#a7ff58 129px,#93ff6c 135px,#43febc 141px)"></i><i style="left:1001px;top:295px;height:142px;background:linear-gradient(#00008f,#000097 42px,#000095 65px,#0000e4 74px,#004bf3 83px,#00bbff 91px,#0eecf1 94px,#54faab 100px,#39f6c6 107px,#0bf0f4 115px,#49fcb6 122px,#a7ff58 129px,#93ff6c 135px,#43febc 141px)"></i><i style="left:1002px;top:295px;height:142px;background:linear-gradient(#00008f,#00009e 74px,#000baa 82px,#0026ee 89px,#0cb2e7 98px,#0dbdec 105px,#0295f3 116px,#1ee3e1 124px,#5bf0a4 131px,#0cdef3 141px)"></i><i style="left:1003px;top:295px;height:142px;background:linear-gradient(#00008f,#00009e 87px,#001cac 97px,#0022e4 103px,#0019d0 116px,#0034f9 122px,#0d8eea 130px,#0063ff 141px)"></i><i style="left:1004px;top:295px;height:142px;background:linear-gradient(#00009a,#001aa0 37px,#0025a3 97px,#0b2aee 105px,#0a37ea 114px,#002ed8 126px,#0046ff 137px,#0767f8 141px)"></i><i style="left:1005px;top:295px;height:142px;background:linear-gradient(#0000ca,#0000e1 9px,#0046ee 16px,#00b2ee 26px,#00a1ee 35px,#0064ee 46px,#009cee 55px,#07d9e7 61px,#33d9bb 69px,#00c9ee 79px,#0098ee 88px,#0dd9e6 99px,#4addb5 108px,#1cd9e3 117px,#00c6f9 122px,#00a9f7 130px,#09def6 138px,#28e4d7 141px)"></i><i style="left:1006px;top:295px;height:142px;background:linear-gradient(#0000ca,#0000e1 9px,#0046ee 16px,#00b2ee 26px,#00a1ee 35px,#0064ee 46px,#009cee 55px,#07d9e7 61px,#33d9bb 69px,#00c9ee 79px,#0098ee 88px,#0dd9e6 99px,#4addb5 108px,#1cd9e3 117px,#00c6f9 122px,#00a9f7 130px,#09def6 138px,#28e4d7 141px)"></i><i style="left:1007px;top:295px;height:142px;background:linear-gradient(#00009a,#001aa0 37px,#0025a4 97px,#0c31ee 106px,#0049f0 120px,#0d44cf 130px,#095bf6 137px,#0c83f3 141px)"></i><i style="left:1008px;top:295px;height:142px;background:linear-gradient(#00008f,#000098 75px,#0226ab 96px,#0a33f5 109px,#26d3d4 121px,#62cd95 130px,#3de4c2 141px)"></i><i style="left:1009px;top:295px;height:142px;background:linear-gradient(#00008f,#000097 74px,#0000e8 76px,#0054ee 79px,#00d0ee 88px,#16d9e2 105px,#63e39c 112px,#cef931 119px,#e6bb19 130px,#defe21 141px)"></i><i style="left:1010px;top:295px;height:142px;background:linear-gradient(#00008f,#000097 74px,#0000e8 76px,#0054ee 79px,#00d0ee 88px,#16d9e2 105px,#63e39c 112px,#cef931 119px,#e6bb19 130px,#defe21 141px)"></i><i style="left:1011px;top:295px;height:142px;background:linear-gradient(#00008f,#000098 75px,#0226ab 96px,#0a2ef5 109px,#26cad1 120px,#63cd92 131px,#3de2c2 141px)"></i><i style="left:1012px;top:295px;height:142px;background:linear-gradient(#00008f,#0010a0 57px,#001ea0 77px,#0025b2 100px,#082cf7 110px,#0a40bc 127px,#0b47ed 136px,#0977f6 141px)"></i><i style="left:1013px;top:295px;height:142px;background:linear-gradient(#00008f,#000097 13px,#000cde 22px,#0012de 31px,#0000b4 45px,#000bde 52px,#00bdee 67px,#00bbee 73px,#0063ee 86px,#0091ee 95px,#12d0e6 103px,#1dd4e2 112px,#00bbf9 119px,#0089f4 129px,#0bdaf4 140px,#13deec 141px)"></i><i style="left:1014px;top:295px;height:142px;background:linear-gradient(#00008f,#0007a2 54px,#0021ee 60px,#007bee 68px,#0072ee 74px,#002cee 86px,#005fee 95px,#07c1e7 106px,#01aded 116px,#0066ee 128px,#009eee 137px,#04c5eb 141px)"></i><i style="left:1015px;top:295px;height:142px;background:linear-gradient(#00008f,#00009c 58px,#000ba0 79px,#0019a0 119px,#0022b1 141px)"></i><i style="left:1016px;top:295px;height:142px;background:linear-gradient(#00008f,#00009f 66px,#0018a0 93px,#001aa0 108px,#0016a0 124px,#0022ae 137px,#0326d8 141px)"></i><i style="left:1017px;top:295px;height:142px;background:linear-gradient(#00008f,#00009a 59px,#0008e7 66px,#0048ee 77px,#01bbed 86px,#009dee 92px,#004dee 100px,#007aee 106px,#04d2ea 113px,#01c4ee 119px,#0067ee 128px,#0096ee 134px,#0fd9ea 140px,#16d9e4 141px)"></i><i style="left:1018px;top:295px;height:142px;background:linear-gradient(#00008f,#0006a0 56px,#000bf5 62px,#004af6 72px,#0075ff 78px,#01dffe 85px,#00d4ff 91px,#0069ff 100px,#0083fd 105px,#0dd7f2 112px,#0ce3f3 118px,#008fff 129px,#0adff5 138px,#26e1d9 141px)"></i><i style="left:1019px;top:295px;height:142px;background:linear-gradient(#00008f,#00009a 41px,#0007ee 48px,#0026ee 55px,#0002f6 62px,#000fc9 71px,#0022ff 79px,#0182fe 87px,#007aff 93px,#0016fb 104px,#0542fa 114px,#0097ff 123px,#0083ff 132px,#064af9 140px,#0751f8 141px)"></i><i style="left:1020px;top:295px;height:142px;background:linear-gradient(#00008f,#00009a 41px,#0007ee 48px,#0026ee 55px,#0000dc 63px,#0000b8 71px,#0009ee 79px,#0060ee 88px,#0044ee 96px,#0000e6 105px,#0012ee 113px,#0083ee 125px,#0060ee 133px,#001bee 141px)"></i><i style="left:1021px;top:295px;height:142px;background:linear-gradient(#00008f,#000fa0 86px,#000da0 118px,#0004a0 141px)"></i><i style="left:1023px;top:295px;height:142px;background:linear-gradient(#00008f,#00009e 98px,#0006a0 141px)"></i><i style="left:1024px;top:295px;height:142px;background:linear-gradient(#00008f,#00009b 62px,#04269d 74px,#0022ad 94px,#082ce7 100px,#0024dc 109px,#001ab9 117px,#0035ee 124px,#0c7de2 132px,#0041ee 141px)"></i><i style="left:1025px;top:295px;height:142px;background:linear-gradient(#00008f,#00009a 38px,#00009f 45px,#000091 60px,#0003de 63px,#08bee6 70px,#0bc1e4 75px,#0066ed 86px,#0090ee 92px,#0dc8ec 97px,#22d1dd 104px,#00b0f9 110px,#0081f4 117px,#09d2f6 125px,#38eac7 132px,#00c3ff 141px)"></i><i style="left:1026px;top:295px;height:142px;background:linear-gradient(#00008f,#00009b 62px,#000da0 65px,#0023ee 68px,#046cea 71px,#0050ee 78px,#0016eb 85px,#0035ee 91px,#08a3e7 100px,#0392ec 107px,#0046ee 116px,#0082ee 123px,#0cd0e2 131px,#02a5ed 139px,#008fee 141px)"></i><i style="left:1027px;top:295px;height:142px;background:linear-gradient(#00008f,#00009b 67px,#0006a0 80px,#0011a0 110px,#0019a0 140px,#0017a0 141px)"></i><i style="left:1029px;top:295px;height:142px;background:linear-gradient(#00008f,#000ea0 88px,#0016a0 124px,#0019a0 141px)"></i><i style="left:1030px;top:295px;height:142px;background:linear-gradient(#00008f,#000fa0 64px,#001ab6 69px,#001bc6 73px,#0030ee 83px,#0c90e2 94px,#016aee 104px,#0038ee 113px,#007bee 122px,#0dc3e1 132px,#049deb 141px)"></i><i style="left:1031px;top:295px;height:142px;background:linear-gradient(#00008f,#00009b 14px,#0000a7 22px,#00008f 32px,#00009a 50px,#0000c4 57px,#0025de 61px,#0089e7 71px,#0085ea 79px,#12bfea 87px,#36d3c9 96px,#00b0ff 106px,#0089fa 114px,#08d1f7 123px,#3eedc1 133px,#12dded 141px)"></i><i style="left:1032px;top:295px;height:142px;background:linear-gradient(#00008f,#00009b 57px,#0031b1 70px,#0029b8 82px,#0732f8 89px,#0a5af5 98px,#0037f2 108px,#003af8 117px,#0da2f2 131px,#047dfb 141px)"></i><i style="left:1033px;top:295px;height:142px;background:linear-gradient(#00008f,#00009a 58px,#000fde 63px,#0064ec 71px,#0010ef 89px,#007bfb 109px,#0089ff 120px,#0030fb 141px)"></i><i style="left:1034px;top:295px;height:142px;background:linear-gradient(#00008f,#00009d 61px,#000cb0 66px,#0015e5 71px,#0003a7 90px,#001cee 104px,#005eee 115px,#002aee 127px,#0007dd 136px,#0007dc 141px)"></i><i style="left:1035px;top:295px;height:142px;background:linear-gradient(#00008f,#0010a0 62px,#0014ae 73px,#000091 86px,#0000a0 131px,#00009c 141px)"></i><i style="left:1036px;top:295px;height:142px;background:linear-gradient(#00008f,#000098 43px,#0000d2 55px,#0097ee 69px,#0075ee 72px,#0000d4 77px,#00008f 80px,#00009b 93px,#0000a7 99px,#00008f 105px,#000baa 120px,#0005c0 126px,#00009e 133px,#0008a0 141px)"></i><i style="left:1037px;top:295px;height:142px;background:linear-gradient(#00008f,#000aa0 60px,#0022ee 66px,#0041ee 70px,#0014e0 73px,#0004a0 76px,#001fa0 105px,#0932e5 112px,#0f5be2 120px,#0022e5 134px,#0242ed 140px,#044deb 141px)"></i><i style="left:1038px;top:295px;height:142px;background:linear-gradient(#000ba0,#000fa0 37px,#000da9 63px,#000fa0 78px,#0024ee 84px,#0058ee 93px,#007fee 102px,#04d9f2 108px,#57e4a8 117px,#2adfd5 125px,#00cafe 131px,#00d2ff 138px,#15e1ea 141px)"></i><i style="left:1039px;top:295px;height:142px;background:linear-gradient(#0034de,#0039de 10px,#0000dd 25px,#004ede 38px,#0084ea 49px,#0029e0 71px,#006dff 83px,#00b4ff 92px,#0094ff 103px,#04dbfb 108px,#57e4a8 117px,#2ae0d5 125px,#00dcff 131px,#00e8ff 138px,#15f0ea 141px)"></i><i style="left:1040px;top:295px;height:142px;background:linear-gradient(#000ba0,#0010b1 30px,#001ebf 42px,#0024ec 52px,#052fb8 72px,#0048ff 83px,#0084ff 94px,#124ded 111px,#1f82e0 119px,#0f76f0 126px,#00b7ff 139px,#04b5fb 141px)"></i><i style="left:1041px;top:295px;height:142px;background:linear-gradient(#000092,#000aa8 16px,#001dee 22px,#0059ee 31px,#0030fa 49px,#0083f6 59px,#11d9df 68px,#25d9d1 76px,#01c4fe 86px,#00b1ff 97px,#11ddee 106px,#5de4a2 117px,#2ae5d5 128px,#01e2fe 136px,#01dffe 141px)"></i><i style="left:1042px;top:295px;height:142px;background:linear-gradient(#00009b,#0000d5 11px,#0097ee 28px,#007cee 39px,#0063ee 50px,#0ad1e4 63px,#49d9a5 73px,#00bfee 90px,#00c4ee 99px,#3ad9c2 108px,#70e58f 118px,#22dddd 131px,#03d7fc 141px)"></i><i style="left:1043px;top:295px;height:142px;background:linear-gradient(#0022a3,#0025b1 17px,#0036b1 33px,#0014a3 50px,#01269f 86px,#0326a8 103px,#1036de 111px,#1460db 121px,#0028ee 139px,#012dee 141px)"></i><i style="left:1044px;top:295px;height:142px;background:linear-gradient(#009dde,#0069de 12px,#00a2ee 30px,#0045ee 40px,#001fd5 45px,#0021a0 54px,#1126aa 72px,#092698 79px,#0021b0 109px,#0019b1 125px,#0001af 141px)"></i><i style="left:1045px;top:295px;height:142px;background:linear-gradient(#0022a0,#001aa0 18px,#0028ee 22px,#00a1ee 29px,#00b8ee 37px,#008ee0 50px,#12b2d5 60px,#4fcfa6 71px,#1fd4d0 80px,#00bdee 85px,#0084ee 94px,#13c2db 114px,#0561e9 126px,#0021e7 134px,#0023e4 141px)"></i><i style="left:1046px;top:295px;height:142px;background:linear-gradient(#00008f,#0010a0 25px,#001fa0 47px,#0226a9 59px,#0933e5 63px,#11b2de 72px,#02bcec 82px,#009dee 94px,#15cee7 103px,#58eea7 114px,#20dcdf 125px,#00b8ff 132px,#00c1fd 141px)"></i><i style="left:1047px;top:295px;height:142px;background:linear-gradient(#00008f,#00009a 61px,#0020a0 82px,#0025ac 100px,#0837e6 105px,#13a2db 114px,#09a7e6 124px,#0090ee 136px,#00b1f0 141px)"></i><i style="left:1048px;top:295px;height:142px;background:linear-gradient(#00008f,#00009d 103px,#001ba0 125px,#001fa7 141px)"></i><i style="left:1049px;top:295px;height:142px;background:linear-gradient(#00008f,#00009d 120px,#000097 141px)"></i><i style="left:1050px;top:295px;height:142px;background:linear-gradient(#00008f,#0009a0 42px,#0024a0 68px,#01269f 101px,#0626a7 116px,#122ddd 123px,#0626cd 132px,#0023b8 140px,#0023bd 141px)"></i><i style="left:1051px;top:295px;height:142px;background:linear-gradient(#000fa0,#000aa8 16px,#002cee 22px,#0184ee 29px,#006dee 36px,#0044ee 44px,#008bee 51px,#16d9d8 58px,#1fd9d0 64px,#009fee 76px,#0ed9e0 84px,#57d998 92px,#19d9d5 100px,#00b8ee 108px,#10d9df 114px,#69da96 123px,#3ed9bf 130px,#03d1f1 136px,#01caf3 141px)"></i><i style="left:1052px;top:295px;height:142px;background:linear-gradient(#0044de,#0019de 13px,#007bee 22px,#02c7ec 29px,#00a9ee 36px,#0078ee 44px,#00b9ee 51px,#46d9a8 59px,#34d9ba 66px,#00c3ee 74px,#14d5da 82px,#6fd98b 91px,#49d9af 98px,#00d1ef 106px,#18d8e1 113px,#79e886 122px,#5ae6a5 129px,#03d6fc 138px,#05d8fa 141px)"></i><i style="left:1053px;top:295px;height:142px;background:linear-gradient(#000fa0,#0014a0 20px,#001fa0 37px,#04269d 70px,#1026a0 87px,#1326cb 95px,#0025a8 108px,#0c30e2 116px,#1775d8 124px,#0029ee 139px,#012fed 141px)"></i><i style="left:1054px;top:295px;height:142px;background:linear-gradient(#00009b,#00009e 50px,#001ca0 76px,#0426a1 102px,#0006a6 133px,#0002a5 141px)"></i><i style="left:1055px;top:295px;height:142px;background:linear-gradient(#0000c6,#001eee 11px,#0022ee 20px,#0016a0 35px,#0023b7 45px,#1039de 53px,#26a9c8 65px,#26b0c8 73px,#268fc8 87px,#37c3b7 102px,#3ec2b1 108px,#26b7c8 113px,#0e26d4 127px,#0326b1 139px,#0426b4 141px)"></i><i style="left:1056px;top:295px;height:142px;background:linear-gradient(#00009b,#0001a9 6px,#000cee 10px,#0065ee 18px,#0075de 39px,#06bef1 47px,#87e578 57px,#d4eb2b 62px,#d9b026 71px,#d9d426 86px,#d6631f 106px,#d4d42b 118px,#55d8a3 129px,#2fd9c3 139px,#33d9c0 141px)"></i><i style="left:1057px;top:295px;height:142px;background:linear-gradient(#00008f,#001aa6 40px,#0034ee 45px,#1ed9d0 54px,#d2e12d 63px,#dfab20 72px,#f2b20d 86px,#ff3500 98px,#d50f00 107px,#ff3000 114px,#e9de16 126px,#cfff30 132px,#c9fc36 141px)"></i><i style="left:1058px;top:295px;height:142px;background:linear-gradient(#00008f,#0016b1 45px,#124c9f 55px,#224c8f 58px,#2c51d3 61px,#2cedd3 69px,#fce803 91px,#ed3309 105px,#ff4500 114px,#f5ec0a 128px,#fafb05 138px,#fbe904 141px)"></i><i style="left:1059px;top:295px;height:142px;background:linear-gradient(#0016a0,#0006a5 17px,#0015ee 21px,#006eee 27px,#0059ee 34px,#0034ee 41px,#007fee 47px,#14cdda 52px,#47d5a7 58px,#1deee2 70px,#71fb8e 78px,#d6fe29 85px,#cefc31 92px,#97e368 100px,#beda41 106px,#e8c217 111px,#ecb713 117px,#d2f52d 124px,#a7fc58 130px,#e5f21a 138px,#ebd014 141px)"></i><i style="left:1060px;top:295px;height:142px;background:linear-gradient(#0068de,#0003de 12px,#003deb 20px,#0081ee 27px,#004eee 34px,#0012ee 41px,#004eee 47px,#0ab7e4 54px,#0ebce0 61px,#0689f3 71px,#15d8ea 78px,#59eaa6 84px,#57e0a8 90px,#19d9e6 98px,#23f8dc 105px,#82e87d 114px,#65e39a 121px,#1cf1e3 129px,#2effd1 134px,#7ef081 141px)"></i><i style="left:1061px;top:295px;height:142px;background:linear-gradient(#0016a4,#0008a0 18px,#000da1 34px,#000db1 44px,#0d45a4 54px,#1f3b9c 69px,#264ad9 74px,#2b93d4 81px,#2964d6 94px,#2fd5d0 108px,#2f92d0 122px,#32eccd 134px,#39dcc6 141px)"></i><i style="left:1062px;top:295px;height:142px;background:linear-gradient(#0000a2,#00008f 12px,#0000a3 38px,#0000df 42px,#01d4ed 50px,#58d996 56px,#80d96e 66px,#d9cd21 71px,#d97426 79px,#d98b26 85px,#d4d02b 93px,#d9b326 99px,#d86e26 107px,#d9a126 114px,#d1d72e 120px,#d9c926 126px,#da7d24 135px,#d9ac26 141px)"></i><i style="left:1063px;top:295px;height:142px;background:linear-gradient(#000093,#00009c 41px,#0009e7 44px,#06d9e9 51px,#57d997 56px,#94d961 66px,#d6d029 70px,#e65c19 80px,#e77f18 86px,#e2c01d 93px,#f1910e 99px,#fc2f00 107px,#ff4900 112px,#f8b007 120px,#ff9f00 125px,#ff2500 133px,#ff2c00 138px,#ff5800 141px)"></i><i style="left:1064px;top:295px;height:142px;background:linear-gradient(#00008f,#000da0 36px,#0b3fa6 54px,#274c97 65px,#364ec9 68px,#2fded0 75px,#73de8c 83px,#68f197 94px,#d9ca26 104px,#d8a426 109px,#d0eb2f 118px,#dbdd24 126px,#e0751f 133px,#e37c1c 139px,#e0931f 141px)"></i><i style="left:1065px;top:295px;height:142px;background:linear-gradient(#261d7a,#260a85 18px,#261f9e 30px,#262dc8 34px,#26a1c8 42px,#2698c8 50px,#269fc8 57px,#3dc5b1 62px,#80ba7a 67px,#78d587 72px,#32f6cd 79px,#44fcbb 87px,#70f68f 95px,#3eefc1 102px,#39c4c6 108px,#4afcb5 114px,#7eff81 120px,#3ef6c1 127px,#38d7c7 129px,#51e9ae 133px,#67ec98 140px,#62ee9d 141px)"></i><i style="left:1066px;top:295px;height:142px;background:linear-gradient(#b2892b,#b28e2b 6px,#b22a2b 16px,#b2602f 23px,#b29231 29px,#b2474a 43px,#b2a749 56px,#c86b37 69px,#aef451 81px,#bcf143 87px,#cfcf30 94px,#ceff31 99px,#81f47e 106px,#97f268 112px,#e2f41d 119px,#c3f93c 124px,#5bffa4 132px,#7fff80 139px,#94ff6b 141px)"></i><i style="left:1067px;top:295px;height:142px;background:linear-gradient(#261d7a,#26127a 22px,#26137a 36px,#260c87 39px,#2609c3 44px,#261eb1 55px,#2631c8 59px,#26a7c8 68px,#2696cc 74px,#267bd9 77px,#2ef1d1 84px,#7af685 95px,#baff45 100px,#e3f11c 108px,#fec901 118px,#d5ff2a 129px,#a2ff5d 137px,#b0ff4f 141px)"></i><i style="left:1068px;top:295px;height:142px;background:linear-gradient(#00008f,#000ca0 61px,#001ea0 73px,#0017ee 77px,#04a5ea 85px,#15d9d9 94px,#70d97e 101px,#d9d826 115px,#c0e13f 125px,#73df8c 138px,#7ae185 141px)"></i><i style="left:1069px;top:295px;height:142px;background:linear-gradient(#00008f,#00009e 74px,#0024b1 86px,#15269b 103px,#2134d7 110px,#2678d9 121px,#134dec 140px,#1451eb 141px)"></i><i style="left:1070px;top:295px;height:142px;background:linear-gradient(#0004a0,#0012a0 37px,#0009ab 70px,#0025ee 79px,#003cee 88px,#000cd9 98px,#0005cb 106px,#0029ff 116px,#0076ff 126px,#004eff 136px,#0027ff 141px)"></i><i style="left:1071px;top:295px;height:142px;background:linear-gradient(#0011de,#0000c6 11px,#0000b9 21px,#0013de 29px,#0060de 41px,#0022ee 60px,#0069f9 74px,#00a1ff 86px,#0e40e7 106px,#037dfc 117px,#00bbff 128px,#0985f6 138px,#0e70f1 141px)"></i><i style="left:1072px;top:295px;height:142px;background:linear-gradient(#0004a0,#0012a0 37px,#000ead 50px,#001eff 54px,#0093ff 61px,#03cffc 71px,#00abff 83px,#11e9ee 95px,#54deab 105px,#1fe9e0 116px,#00dfff 125px,#16f0e9 135px,#52e8ad 141px)"></i><i style="left:1073px;top:295px;height:142px;background:linear-gradient(#00008f,#000098 48px,#000ee7 52px,#00a5ee 60px,#09d3e5 67px,#00c3ee 75px,#00a9ee 84px,#13d7e4 93px,#65e59a 104px,#3fe3c0 114px,#00d3ff 125px,#1ae4e5 134px,#5ef2a1 141px)"></i><i style="left:1074px;top:295px;height:142px;background:linear-gradient(#00008f,#00009a 50px,#02269f 72px,#0025a7 90px,#0d35e2 98px,#1268dc 108px,#0032ee 127px,#119cdd 141px)"></i><i style="left:1075px;top:295px;height:142px;background:linear-gradient(#00008f,#00009d 95px,#0017a0 140px,#0019a0 141px)"></i><i style="left:1078px;top:295px;height:142px;background:linear-gradient(#00008f,#00009d 74px,#0011a0 94px,#001fa0 108px,#06269a 136px,#0026a0 141px)"></i><i style="left:1079px;top:295px;height:142px;background:linear-gradient(#00008f,#0010a0 39px,#0026a0 55px,#262480 70px,#261dc2 75px,#2026bb 87px,#2640c8 91px,#26b8c8 100px,#26a9c8 108px,#269dc8 116px,#3ac9b4 122px,#76bf78 128px,#44cdaa 136px,#28d5c6 141px)"></i><i style="left:1080px;top:295px;height:142px;background:linear-gradient(#00008f,#00008f 11px,#0002ee 16px,#002eee 21px,#0000df 29px,#000cee 35px,#00d7ee 45px,#19d9d6 51px,#00d7ee 59px,#4bd9a4 64px,#d9ce17 70px,#d9a225 75px,#cad930 83px,#bbd941 88px,#d9d226 92px,#d97826 100px,#d9a526 107px,#d9e526 114px,#dab325 121px,#e96e16 127px,#e5921a 133px,#d9ea26 141px)"></i><i style="left:1081px;top:295px;height:142px;background:linear-gradient(#00008f,#00008f 11px,#0002ee 16px,#002eee 21px,#0000df 29px,#000cee 35px,#00d7ee 45px,#19d9d6 51px,#00d7ee 59px,#4bd9a4 64px,#d9ce17 70px,#d9a225 75px,#cad930 83px,#bbd941 88px,#d9d226 92px,#d97826 100px,#d9a526 107px,#d9e526 114px,#dab325 121px,#e96e16 127px,#e5921a 133px,#d9ea26 141px)"></i><i style="left:1082px;top:295px;height:142px;background:linear-gradient(#00008f,#0010a0 39px,#0026a0 55px,#262480 70px,#261dc2 75px,#2026bb 87px,#2640c8 91px,#26b8c8 100px,#26a9c8 108px,#269dc8 116px,#3ac9b4 122px,#76bf78 128px,#44cdaa 136px,#28d5c6 141px)"></i><i style="left:1083px;top:295px;height:142px;background:linear-gradient(#00008f,#00009d 74px,#0011a0 94px,#001fa0 108px,#06269a 136px,#0026a0 141px)"></i><i style="left:1088px;top:295px;height:142px;background:linear-gradient(#00008f,#00009e 130px,#00009a 141px)"></i><i style="left:1089px;top:295px;height:142px;background:linear-gradient(#00008f,#00009c 63px,#0025a0 81px,#172689 99px,#212693 106px,#0d269f 125px,#172cd7 132px,#0d26d1 140px,#0a26c9 141px)"></i><i style="left:1090px;top:295px;height:142px;background:linear-gradient(#001da0,#082698 22px,#14268c 40px,#0626ab 60px,#0f27df 64px,#26c3c8 73px,#23cfcb 82px,#1dcbd1 90px,#43d9ac 94px,#b2c73c 102px,#b0cb42 109px,#46d9a8 120px,#7fd97b 129px,#8fdc70 135px,#45d9b5 141px)"></i><i style="left:1091px;top:295px;height:142px;background:linear-gradient(#0085de,#0eb2cf 6px,#56b288 14px,#1bb2c2 23px,#00b0de 30px,#71b57d 44px,#3db2ad 52px,#16b2cf 58px,#54beab 65px,#b2f04c 72px,#a5f65a 82px,#87f178 90px,#c3ee3c 96px,#e6aa19 103px,#dec821 110px,#aeff51 116px,#89fa76 122px,#d0ff2f 133px,#95fe6a 139px,#72f88d 141px)"></i><i style="left:1092px;top:295px;height:142px;background:linear-gradient(#001da0,#082698 22px,#0d26a1 37px,#182dd6 43px,#0b26ca 53px,#0626c9 60px,#0f39df 64px,#26bec8 73px,#25bec9 81px,#1ca1d2 89px,#37d5b8 96px,#84c66a 103px,#6dcd81 110px,#20d2ce 117px,#1dc9d2 124px,#48d9a6 134px,#1ac8d5 140px,#16bad8 141px)"></i><i style="left:1093px;top:295px;height:142px;background:linear-gradient(#00008f,#00009e 41px,#000fa0 67px,#001ea0 83px,#0b2695 112px,#0020a8 141px)"></i><i style="left:1094px;top:295px;height:142px;background:linear-gradient(#00008f,#00009c 61px,#001fa0 104px,#0022a6 123px,#0726e7 132px,#0020c4 141px)"></i><i style="left:1095px;top:295px;height:142px;background:linear-gradient(#00008f,#00008f 58px,#0000ee 62px,#0071ee 70px,#0045ee 79px,#0097ee 88px,#01d9ed 95px,#00c3ee 102px,#006fee 112px,#0091ee 119px,#0cd9eb 126px,#25d9da 133px,#00cef9 139px,#00b8f6 141px)"></i><i style="left:1096px;top:295px;height:142px;background:linear-gradient(#00008f,#00008f 58px,#0000ee 62px,#0071ee 70px,#0045ee 79px,#0097ee 88px,#01d9ed 95px,#00c3ee 102px,#006fee 112px,#0091ee 119px,#0cd9eb 126px,#25d9da 133px,#00cef9 139px,#00b8f6 141px)"></i><i style="left:1097px;top:295px;height:142px;background:linear-gradient(#00008f,#00009c 61px,#001fa0 104px,#0022a6 123px,#0726e7 132px,#0020c4 141px)"></i><i style="left:1098px;top:295px;height:142px;background:linear-gradient(#00008f,#00009e 129px,#000097 141px)"></i><i style="left:1099px;top:295px;height:142px;background:linear-gradient(#00008f,#00009f 112px,#06269a 131px,#0025a0 141px)"></i><i style="left:1100px;top:295px;height:142px;background:linear-gradient(#00008f,#000fa0 80px,#0f2695 97px,#0826d3 111px,#104cdf 115px,#25d6ca 124px,#40d9ae 131px,#16d2d8 141px)"></i><i style="left:1101px;top:295px;height:142px;background:linear-gradient(#00008f,#000fa0 46px,#0e269a 61px,#052de9 75px,#23d9cc 87px,#69d985 94px,#2bd9cc 109px,#69e496 116px,#d9fe26 126px,#bfff40 133px,#74fd8b 141px)"></i><i style="left:1102px;top:295px;height:142px;background:linear-gradient(#000ba0,#0020ae 24px,#0017df 31px,#000fee 41px,#009eee 50px,#14d1db 54px,#43d4ad 61px,#1ac4e5 76px,#abfd54 92px,#90f56f 99px,#43e4bc 108px,#64e89b 115px,#c7f738 125px,#acf153 132px,#4fe0b0 141px)"></i><i style="left:1103px;top:295px;height:142px;background:linear-gradient(#0034de,#002bde 9px,#0096de 23px,#0061eb 32px,#0023ee 41px,#0074ee 49px,#09bfe5 56px,#0db0e1 64px,#0669f8 76px,#21ddde 91px,#1cace3 99px,#0d62f2 108px,#148eeb 116px,#23d0dc 125px,#1b9ee4 133px,#0c55f3 141px)"></i><i style="left:1104px;top:295px;height:142px;background:linear-gradient(#000ba0,#0022b1 31px,#0935a8 47px,#0f40a2 66px,#1735ca 74px,#2155de 79px,#269ad9 87px,#1d79e2 95px,#1244ed 104px,#1f8de0 113px,#26d0d9 121px,#1dabe2 129px,#116cee 138px,#1273ed 141px)"></i><i style="left:1105px;top:295px;height:142px;background:linear-gradient(#00008f,#0000a0 13px,#000fde 19px,#0036de 30px,#005bde 38px,#0cb2dc 45px,#5ac694 53px,#4ed1a1 69px,#9cdd63 78px,#cbe034 84px,#bae845 92px,#5ddba2 102px,#7be384 109px,#d6f129 119px,#c2f43d 126px,#5ee5a1 137px,#67e898 141px)"></i><i style="left:1106px;top:295px;height:142px;background:linear-gradient(#00008f,#001fa0 42px,#0930e6 47px,#1489da 54px,#11b5de 69px,#2dd9c1 75px,#9dd651 85px,#8dd961 92px,#3dd9b1 102px,#62d993 109px,#cbe934 119px,#b8ec47 126px,#5be3a4 137px,#67e898 141px)"></i><i style="left:1107px;top:295px;height:142px;background:linear-gradient(#00008f,#00009e 46px,#11268f 80px,#0d269b 107px,#1933d5 113px,#2485ca 121px,#1561d9 132px,#1164dd 140px,#126cdc 141px)"></i><i style="left:1108px;top:295px;height:142px;background:linear-gradient(#00008f,#00009d 111px,#000ea0 131px,#000fa0 141px)"></i><i style="left:1109px;top:295px;height:142px;background:linear-gradient(#00008f,#00009d 117px,#000094 141px)"></i><i style="left:1110px;top:295px;height:142px;background:linear-gradient(#00009d,#000ea0 21px,#001ca0 44px,#0018a0 78px,#0023c3 92px,#0017a0 103px,#001cb2 112px,#0432ea 120px,#0743e8 128px,#0022dc 135px,#0019b5 141px)"></i><i style="left:1111px;top:295px;height:142px;background:linear-gradient(#0000cf,#0065de 12px,#002fde 24px,#0024de 33px,#0098de 49px,#0066de 59px,#0037de 69px,#007fee 79px,#00c3f7 89px,#007cee 105px,#00b1f6 114px,#16dbe9 120px,#26dfd9 128px,#00c2fb 135px,#008ff3 141px)"></i><i style="left:1112px;top:295px;height:142px;background:linear-gradient(#00009d,#000ea0 21px,#001ca0 44px,#000caa 70px,#0028ee 78px,#008dee 88px,#0074ee 98px,#006aee 107px,#11d9ec 120px,#28e1d7 128px,#00ccff 135px,#009bfd 141px)"></i><i style="left:1113px;top:295px;height:142px;background:linear-gradient(#00008f,#0010a8 73px,#0029b1 93px,#0022b1 111px,#0034c2 116px,#064df9 122px,#0567fa 130px,#002ef4 141px)"></i><i style="left:1114px;top:295px;height:142px;background:linear-gradient(#00008f,#00009a 23px,#0006ee 30px,#0044ee 39px,#0000e4 57px,#0017ee 66px,#0096ee 81px,#0078ee 91px,#0041ee 107px,#008cfb 119px,#0ac3f5 127px,#0e8ff0 138px,#097af3 141px)"></i><i style="left:1115px;top:295px;height:142px;background:linear-gradient(#00008f,#00009d 23px,#0016ff 30px,#0056ff 38px,#0021f7 56px,#253dda 66px,#1dbce2 81px,#26a3d9 90px,#269bd9 93px,#26c2d9 102px,#21a3de 115px,#2eefd1 124px,#77e388 132px,#52e2ad 141px)"></i><i style="left:1116px;top:295px;height:142px;background:linear-gradient(#00008f,#00009d 23px,#0007e6 26px,#0056ff 31px,#006cff 38px,#004fff 48px,#009ffe 55px,#14d2e9 58px,#c6dd39 66px,#d5ca2a 71px,#b2ef4d 77px,#a1f45e 84px,#d4e52b 90px,#d9a826 98px,#d9d126 106px,#c3f03c 112px,#c7f538 119px,#ddcc22 125px,#ea9315 132px,#e4c71b 140px,#e2d31d 141px)"></i><i style="left:1117px;top:295px;height:142px;background:linear-gradient(#00008f,#00009c 25px,#001aee 32px,#001fee 40px,#0018ee 48px,#0086ee 56px,#1dd9d1 60px,#afd83f 67px,#c9d325 71px,#7ed970 81px,#aad947 88px,#d9c926 93px,#d9b026 101px,#c7e038 109px,#a4e05b 116px,#d9dd26 124px,#dda322 133px,#d9df26 141px)"></i><i style="left:1118px;top:295px;height:142px;background:linear-gradient(#00008f,#000fa0 54px,#21267f 69px,#1d268f 88px,#262ec8 93px,#2668c8 101px,#1c4ad2 116px,#2dcbc1 130px,#2dcfc1 138px,#26c6c8 141px)"></i><i style="left:1119px;top:295px;height:142px;background:linear-gradient(#00008f,#00009c 91px,#001ca0 125px,#0023a0 141px)"></i><i style="left:1125px;top:295px;height:142px;background:linear-gradient(#00008f,#00009e 141px)"></i><i style="left:1126px;top:295px;height:142px;background:linear-gradient(#00008f,#00009b 92px,#0021a0 104px,#001aa0 131px,#0326df 141px)"></i><i style="left:1127px;top:295px;height:142px;background:linear-gradient(#00008f,#00009a 89px,#000bd4 92px,#0033ee 94px,#0abce5 99px,#04abea 109px,#0061ee 121px,#0095ee 130px,#12d9e8 139px,#1bd9e2 141px)"></i><i style="left:1128px;top:295px;height:142px;background:linear-gradient(#00008f,#000097 24px,#00009b 54px,#0000b1 63px,#00008f 73px,#00008f 87px,#0000dd 90px,#02cafd 97px,#2fe0d0 100px,#0cd6f3 110px,#008efe 121px,#00bcff 129px,#2befd4 137px,#40f4bf 141px)"></i><i style="left:1129px;top:295px;height:142px;background:linear-gradient(#00008f,#00009c 79px,#002ab4 94px,#013afe 97px,#0a69f5 100px,#004fff 113px,#0040ff 124px,#0db8f2 141px)"></i><i style="left:1130px;top:295px;height:142px;background:linear-gradient(#00008f,#00009c 76px,#0019ee 80px,#039eec 85px,#0084ee 93px,#004aff 102px,#006dff 110px,#07cbf6 121px,#00a5ff 131px,#0080ff 140px,#0083ff 141px)"></i><i style="left:1131px;top:295px;height:142px;background:linear-gradient(#00008f,#00009d 49px,#000095 74px,#0005de 77px,#00c6ee 84px,#04cbea 90px,#0069ee 103px,#009aef 111px,#0ed1f0 117px,#1cdae3 125px,#00bbfd 131px,#0083f6 139px,#0086f7 141px)"></i><i style="left:1132px;top:295px;height:142px;background:linear-gradient(#00008f,#00009d 72px,#0021ac 83px,#002db5 111px,#042efb 118px,#043efb 127px,#0034d9 141px)"></i><i style="left:1133px;top:295px;height:142px;background:linear-gradient(#00008f,#00009d 63px,#001fa1 69px,#0426db 72px,#0024df 82px,#0017b4 91px,#0032ee 99px,#0979e5 107px,#004bf9 115px,#0020ff 122px,#0064ff 130px,#0ba9eb 138px,#0aa5ed 141px)"></i><i style="left:1134px;top:295px;height:142px;background:linear-gradient(#00008f,#0000a4 9px,#0000a4 16px,#00008f 25px,#000097 38px,#0000b7 45px,#00008f 54px,#00008f 60px,#0009de 64px,#00abeb 70px,#1cb6e3 77px,#00a0f5 83px,#006ce6 91px,#009bff 98px,#1acde5 103px,#20d4df 110px,#00a8ff 116px,#0077ff 122px,#00a7ff 128px,#18dce7 133px,#31eace 140px,#2de9d2 141px)"></i><i style="left:1135px;top:295px;height:142px;background:linear-gradient(#00008f,#00009b 59px,#0032b1 69px,#0437eb 72px,#0026f4 81px,#0017c3 90px,#003eff 99px,#097ef6 106px,#004bf7 115px,#001bfd 122px,#0062ff 129px,#0bb4f4 137px,#0aabf5 141px)"></i><i style="left:1136px;top:295px;height:142px;background:linear-gradient(#0a2696,#0e2692 30px,#0b269c 56px,#192fd5 61px,#257fc9 69px,#1440eb 77px,#0726dd 83px,#0c36e8 92px,#1069ef 103px,#0035f3 111px,#0022dd 118px,#0134fe 124px,#0d89f2 133px,#0469fb 140px,#015ffe 141px)"></i><i style="left:1137px;top:295px;height:142px;background:linear-gradient(#30b2ae,#1bb2c2 8px,#009cde 14px,#009bde 21px,#17b2c6 26px,#58b286 35px,#0cb2d2 50px,#4eb9a9 58px,#abe654 67px,#9de762 72px,#26c4d5 82px,#29c9d6 90px,#53e3ac 100px,#12cded 109px,#00a2f8 118px,#0fd5f0 125px,#41e9be 133px,#06d8f9 141px)"></i><i style="left:1138px;top:295px;height:142px;background:linear-gradient(#0a2696,#0e2692 30px,#0426ab 52px,#0e30e0 57px,#25c8ca 67px,#22cdcd 72px,#0773e7 83px,#0ca0e3 92px,#12ceea 101px,#008eff 111px,#006cfc 117px,#17d9e6 131px,#06d9f9 139px,#01c9fe 141px)"></i><i style="left:1139px;top:295px;height:142px;background:linear-gradient(#00008f,#00009f 56px,#034aae 72px,#002ab1 89px,#0043c3 97px,#0652f9 104px,#0242fd 113px,#0038d5 126px,#035bfc 134px,#0999f6 141px)"></i><i style="left:1140px;top:295px;height:142px;background:linear-gradient(#00008f,#00009d 28px,#00008f 58px,#0000da 61px,#0abfe4 70px,#00a8ee 77px,#0064ed 87px,#0093ee 95px,#13caea 102px,#1dd2e2 110px,#00aefc 117px,#007df6 126px,#00bdff 134px,#29e7d6 141px)"></i><i style="left:1141px;top:295px;height:142px;background:linear-gradient(#00008f,#00009a 60px,#000fa6 64px,#001ded 67px,#0468eb 71px,#0016e9 86px,#0033ee 93px,#06a2e8 104px,#0296ec 113px,#0048ee 124px,#0071ee 132px,#09c7e6 141px)"></i><i style="left:1142px;top:295px;height:142px;background:linear-gradient(#00008f,#00009b 66px,#0001a0 83px,#0015a0 115px,#001aa0 136px,#0023a0 141px)"></i><i style="left:1147px;top:295px;height:142px;background:linear-gradient(#00008f,#00009c 105px,#000ea0 141px)"></i><i style="left:1148px;top:295px;height:142px;background:linear-gradient(#00008f,#00009d 49px,#000098 75px,#0000ab 81px,#00008f 89px,#00009a 102px,#000be5 108px,#0007e5 114px,#0000a9 122px,#0000d2 128px,#004dee 136px,#0046ee 141px)"></i><i style="left:1149px;top:295px;height:142px;background:linear-gradient(#00008f,#000099 104px,#0004cf 111px,#000095 121px,#0000a2 127px,#000fee 133px,#0032ee 139px,#0028ee 141px)"></i><i style="left:1150px;top:295px;height:142px;background:linear-gradient(#00008f,#00009c 131px,#0006a0 141px)"></i><i style="left:1155px;top:295px;height:142px;background:linear-gradient(#00008f,#000091 98px,#000094 135px,#00008f 141px)"></i><i style="left:1156px;top:295px;height:142px;background:linear-gradient(#00008f,#00009b 44px,#0000b8 52px,#00008f 62px,#000097 77px,#0000de 87px,#000097 98px,#00009a 113px,#0005e9 123px,#0000cc 131px,#00008f 139px,#00008f 141px)"></i><i style="left:1157px;top:295px;height:142px;background:linear-gradient(#00008f,#000099 81px,#0000b9 89px,#00008f 100px,#00009e 116px,#0001d7 124px,#0000ad 132px,#00008f 139px,#00008f 141px)"></i><i style="left:1158px;top:295px;height:142px;background:linear-gradient(#00008f,#00008f 141px)"></i><i style="left:1164px;top:295px;height:142px;background:linear-gradient(#00008f,#000da0 131px,#0018a0 141px)"></i><i style="left:1165px;top:295px;height:142px;background:linear-gradient(#00008f,#000fa0 82px,#0018af 89px,#0016d7 99px,#0003bd 116px,#001bee 126px,#0082ee 138px,#0087ee 141px)"></i><i style="left:1166px;top:295px;height:142px;background:linear-gradient(#0005a0,#000096 35px,#0005eb 43px,#001ce5 53px,#0000d7 69px,#003fde 81px,#0078ed 93px,#0025e4 109px,#0013e8 120px,#0088ee 139px,#0088ee 141px)"></i><i style="left:1167px;top:295px;height:142px;background:linear-gradient(#0019de,#0000ca 8px,#00008f 18px,#0000a2 33px,#0004e2 45px,#0000a0 61px,#0015b1 86px,#0018b1 97px,#0003a0 115px,#0018a0 141px)"></i><i style="left:1168px;top:295px;height:142px;background:linear-gradient(#0005a0,#000099 37px,#00008f 141px)"></i><i style="left:1174px;top:295px;height:142px;background:linear-gradient(#00008f,#0011a0 51px,#000ba0 97px,#000aa1 139px,#000ba8 141px)"></i><i style="left:1175px;top:295px;height:142px;background:linear-gradient(#00008f,#0000a1 11px,#0000aa 20px,#0000b1 36px,#0012de 43px,#006dde 57px,#003fde 68px,#0000d4 78px,#0010de 89px,#0035de 101px,#0000d2 112px,#0000a8 122px,#000bde 133px,#0035e1 141px)"></i><i style="left:1176px;top:295px;height:142px;background:linear-gradient(#00008f,#0011a0 51px,#000ba0 97px,#000aa1 139px,#000ba8 141px)"></i><i style="left:1178px;top:295px;height:142px;background:linear-gradient(#00008f,#00008f 141px)"></i><i style="left:1179px;top:295px;height:142px;background:linear-gradient(#00009a,#0008a0 22px,#0009a0 50px,#0012a0 67px,#0012a4 74px,#0007a0 91px,#0011cc 99px,#00009e 108px,#0005ab 120px,#000cd4 127px,#000098 136px,#000094 141px)"></i><i style="left:1180px;top:295px;height:142px;background:linear-gradient(#0000bf,#0010de 7px,#0058de 15px,#000ede 24px,#000bde 33px,#0061de 42px,#0035de 49px,#0000d7 56px,#001ede 62px,#0065e0 70px,#0030de 77px,#0000d7 82px,#0009de 89px,#0052e7 98px,#000cde 106px,#0000bd 114px,#000dde 119px,#003ce9 126px,#0000d0 134px,#0000a5 141px)"></i><i style="left:1181px;top:295px;height:142px;background:linear-gradient(#00009a,#0008a0 22px,#0009a0 50px,#0012a0 67px,#0009a0 92px,#000094 141px)"></i><i style="left:1185px;top:295px;height:142px;background:linear-gradient(#00008f,#000098 141px)"></i><i style="left:1186px;top:295px;height:142px;background:linear-gradient(#000da0,#000da0 38px,#000da0 79px,#0009a0 104px,#0016a9 126px,#001cd7 136px,#0017c8 141px)"></i><i style="left:1187px;top:295px;height:142px;background:linear-gradient(#003bde,#001bde 11px,#0000c9 19px,#0000d5 29px,#005ede 46px,#0001de 68px,#0075e3 90px,#0012e6 112px,#0072f4 128px,#0086fa 137px,#006ff7 141px)"></i><i style="left:1188px;top:295px;height:142px;background:linear-gradient(#000da0,#000da0 38px,#001eb1 68px,#0e3da4 85px,#043ec8 93px,#17309d 104px,#162ac4 112px,#0532b8 120px,#0449fb 129px,#0b58f4 138px,#0648f9 141px)"></i><i style="left:1189px;top:295px;height:142px;background:linear-gradient(#00008f,#001ea0 32px,#261a7a 46px,#261ac8 53px,#266ec8 64px,#34c0ba 71px,#81b96d 78px,#5dc993 86px,#37d7bd 93px,#9acc59 106px,#82d574 113px,#16d9e1 123px,#30dccf 130px,#4fdeb0 137px,#2ddbd2 141px)"></i><i style="left:1190px;top:295px;height:142px;background:linear-gradient(#0012a0,#001fa0 11px,#0128ed 15px,#0676e9 21px,#0099ee 30px,#19d9d5 35px,#d9d416 42px,#d9841c 48px,#d99c26 55px,#d7b728 63px,#df7820 72px,#ec5a13 78px,#e1b51e 86px,#c9f936 93px,#e9c316 108px,#c7ff38 115px,#55faaa 123px,#6bfd94 131px,#74fe8b 138px,#53f8ac 141px)"></i><i style="left:1191px;top:295px;height:142px;background:linear-gradient(#0053de,#0068de 7px,#10b7df 16px,#12c5dc 23px,#02ceec 31px,#48d9a7 36px,#d9d316 42px,#d99416 48px,#ccd022 61px,#d9b71a 68px,#d97726 76px,#d99c26 82px,#cad535 86px,#81e67e 93px,#aecf51 108px,#54e9ab 116px,#15edea 121px,#13e8ec 129px,#18f2e7 137px,#10ccef 141px)"></i><i style="left:1192px;top:295px;height:142px;background:linear-gradient(#0027b1,#0645ab 19px,#12449f 37px,#314580 53px,#264693 67px,#264ad9 74px,#355dca 82px,#2f93d0 89px,#1e59e1 107px,#14b0eb 118px,#19e9e6 128px,#0ab5f5 139px,#07a5f8 141px)"></i><i style="left:1193px;top:295px;height:142px;background:linear-gradient(#0061de,#00aede 10px,#008ade 20px,#0062de 30px,#0cb2d2 42px,#38b3b6 51px,#00a3e8 64px,#00aeff 73px,#60de9f 88px,#1dcbe2 100px,#02c6fd 109px,#7afb85 127px,#21e4de 141px)"></i><i style="left:1194px;top:295px;height:142px;background:linear-gradient(#0015a0,#001ba0 22px,#0526a5 43px,#0c29e3 52px,#0021d8 69px,#023eec 75px,#14acda 87px,#0b92e3 97px,#0069ee 107px,#0ebae0 118px,#2ad9c5 124px,#25d9c9 132px,#07ace7 141px)"></i><i style="left:1195px;top:295px;height:142px;background:linear-gradient(#00008f,#000fa0 79px,#0012a0 101px,#0023b1 138px,#001eb1 141px)"></i><i style="left:1196px;top:295px;height:142px;background:linear-gradient(#00008f,#00009a 68px,#0014a0 95px,#0526aa 116px,#0e2de1 123px,#093ee5 134px,#002aee 141px)"></i><i style="left:1197px;top:295px;height:142px;background:linear-gradient(#00008f,#000096 54px,#0016a5 66px,#0034ee 70px,#088de6 79px,#0087ee 92px,#008bee 104px,#14d9da 115px,#52ddad 125px,#19dce6 137px,#00d6ff 141px)"></i><i style="left:1198px;top:295px;height:142px;background:linear-gradient(#00008f,#00009d 14px,#000dde 23px,#0033de 33px,#0000cc 46px,#0000b0 56px,#0013de 61px,#04baea 71px,#24cacf 82px,#00b4ee 94px,#00aeee 105px,#19d9df 114px,#53ddac 125px,#0dd9eb 137px,#00c6f4 141px)"></i><i style="left:1199px;top:295px;height:142px;background:linear-gradient(#00008f,#000096 54px,#0826b0 80px,#0024a6 109px,#0d32e1 121px,#0326d4 136px,#0022b9 141px)"></i><i style="left:1200px;top:295px;height:142px;background:linear-gradient(#00008f,#00009e 117px,#0000a6 134px,#000095 141px)"></i><i style="left:1201px;top:295px;height:142px;background:linear-gradient(#00008f,#00009d 92px,#0022a0 102px,#0019a0 119px,#0326e6 128px,#0015a2 141px)"></i><i style="left:1202px;top:295px;height:142px;background:linear-gradient(#00008f,#00009c 90px,#0017ee 93px,#02caec 99px,#00a6ee 105px,#005cee 112px,#0084ee 118px,#0bd9f0 125px,#01caf9 132px,#0078ee 140px,#0078ef 141px)"></i><i style="left:1203px;top:295px;height:142px;background:linear-gradient(#00008f,#000097 69px,#000098 75px,#000095 89px,#000beb 92px,#00caf4 98px,#00cff8 103px,#006dee 112px,#0093f4 118px,#07daf8 123px,#1ce3e3 129px,#00cfff 133px,#0085f8 140px,#0085f9 141px)"></i><i style="left:1204px;top:295px;height:142px;background:linear-gradient(#00008f,#00009c 91px,#0020a2 97px,#0226d0 100px,#0015a0 111px,#0018ad 117px,#0238ed 123px,#0655e9 129px,#001de3 136px,#0018d1 141px)"></i><i style="left:1205px;top:295px;height:142px;background:linear-gradient(#00008f,#00009e 121px,#00009a 141px)"></i><i style="left:1242px;top:295px;height:142px;background:linear-gradient(#00008f,#00009d 113px,#00009b 141px)"></i><i style="left:1243px;top:295px;height:142px;background:linear-gradient(#00008f,#00008f 109px,#0001ee 115px,#000dee 121px,#0000c1 127px,#000094 134px,#0000d3 141px)"></i><i style="left:1244px;top:295px;height:142px;background:linear-gradient(#00008f,#00008f 109px,#0001ee 115px,#000dee 121px,#0000c1 127px,#000094 134px,#0000d5 141px)"></i><i style="left:1245px;top:295px;height:142px;background:linear-gradient(#00008f,#00009a 25px,#0000cd 32px,#0000b6 36px,#00008f 39px,#00009d 113px,#000098 135px,#0000aa 141px)"></i><i style="left:1246px;top:295px;height:142px;background:linear-gradient(#00008f,#00009a 25px,#0000cd 32px,#0000b6 36px,#00008f 39px,#00009d 136px,#00009e 141px)"></i><i style="left:1247px;top:295px;height:142px;background:linear-gradient(#00008f,#000092 141px)"></i><i style="left:1249px;top:295px;height:142px;background:linear-gradient(#00008f,#00009c 108px,#0011a0 135px,#000ea0 141px)"></i><i style="left:1250px;top:295px;height:142px;background:linear-gradient(#00008f,#00009d 63px,#0019a3 104px,#002aee 110px,#0689e8 120px,#0080ee 131px,#0056ee 141px)"></i><i style="left:1251px;top:295px;height:142px;background:linear-gradient(#00008f,#001ba0 53px,#0025a4 59px,#0534e9 65px,#0383eb 76px,#0057ee 96px,#00bcff 110px,#1de2e2 120px,#00c8ff 130px,#0070f9 141px)"></i><i style="left:1252px;top:295px;height:142px;background:linear-gradient(#0009a0,#001ca7 21px,#001dee 27px,#0040ee 39px,#006feb 51px,#07b4ef 61px,#17c5e4 74px,#00b5ef 81px,#0052ee 95px,#007aee 107px,#06a4e8 118px,#006aee 129px,#0018e5 138px,#0015d3 141px)"></i><i style="left:1253px;top:295px;height:142px;background:linear-gradient(#0029de,#0081df 21px,#0029ee 38px,#0011df 46px,#062ae8 68px,#0024ab 80px,#0015a0 108px,#0001a0 136px,#00009a 141px)"></i><i style="left:1254px;top:295px;height:142px;background:linear-gradient(#0009a0,#0012a0 31px,#00008f 87px,#00008f 141px)"></i><i style="left:1255px;top:295px;height:142px;background:linear-gradient(#00008f,#00009e 73px,#0011a0 106px,#0017a0 141px)"></i><i style="left:1256px;top:295px;height:142px;background:linear-gradient(#00009f,#0023a0 32px,#0b26a7 69px,#1230dc 76px,#0023e7 97px,#11a9dd 113px,#0481ea 123px,#0050ee 132px,#0190ed 141px)"></i><i style="left:1257px;top:295px;height:142px;background:linear-gradient(#0000d7,#0020de 10px,#002ede 21px,#06b5e8 34px,#1dbad1 42px,#0099ec 52px,#00a2ee 61px,#3dc5b8 70px,#52cead 78px,#00affa 91px,#00afff 98px,#51ebae 113px,#14d6eb 123px,#009fff 131px,#00baff 138px,#05d7fa 141px)"></i><i style="left:1258px;top:295px;height:142px;background:linear-gradient(#00009f,#0017a6 27px,#0130ed 34px,#064ce8 42px,#001fde 55px,#002fee 62px,#1298dc 75px,#076ce7 85px,#0038ee 95px,#11a9dd 113px,#0471ea 123px,#0034ee 132px,#0169ed 141px)"></i><i style="left:1259px;top:295px;height:142px;background:linear-gradient(#00008f,#000fa0 68px,#0013a0 105px,#0007a0 128px,#000ea0 141px)"></i><i style="left:1264px;top:295px;height:142px;background:linear-gradient(#00008f,#00008f 141px)"></i><i style="left:1265px;top:295px;height:142px;background:linear-gradient(#00008f,#00009f 44px,#000098 84px,#0010ad 89px,#001dde 92px,#0010a0 99px,#0008a0 137px,#0000a0 141px)"></i><i style="left:1266px;top:295px;height:142px;background:linear-gradient(#00008f,#00009d 80px,#0000c3 85px,#001cde 87px,#0089fb 92px,#0020eb 106px,#003cee 114px,#008bee 125px,#0064ee 133px,#000deb 141px)"></i><i style="left:1267px;top:295px;height:142px;background:linear-gradient(#00008f,#00009b 85px,#0010b4 89px,#001aec 91px,#002bee 93px,#0007ed 109px,#009df9 125px,#0086fd 133px,#003bf7 141px)"></i><i style="left:1268px;top:295px;height:142px;background:linear-gradient(#00008f,#00009a 90px,#0016a0 120px,#001de8 129px,#000dca 141px)"></i><i style="left:1269px;top:295px;height:142px;background:linear-gradient(#00008f,#00009e 128px,#000098 141px)"></i>
<i style="left:890px;top:531px;height:142px;background:linear-gradient(#00008f,#00009e 95px,#00009d 125px,#00008f 141px)"></i><i style="left:891px;top:531px;height:142px;background:linear-gradient(#00008f,#00009b 88px,#000deb 97px,#0001b9 105px,#000096 111px,#0000a1 119px,#0008e9 127px,#000093 134px,#00008f 141px)"></i><i style="left:892px;top:531px;height:142px;background:linear-gradient(#00008f,#00009c 61px,#00009d 68px,#00009a 84px,#000fe3 91px,#003bee 98px,#0000d8 106px,#0000a8 113px,#000ee7 123px,#0020ec 128px,#0000ca 132px,#00008f 136px,#00008f 141px)"></i><i style="left:893px;top:531px;height:142px;background:linear-gradient(#00008f,#00009e 89px,#000091 135px,#00008f 141px)"></i><i style="left:907px;top:531px;height:142px;background:linear-gradient(#00008f,#00008f 141px)"></i><i style="left:908px;top:531px;height:142px;background:linear-gradient(#00008f,#000097 103px,#0001d1 113px,#000090 128px,#00008f 141px)"></i><i style="left:909px;top:531px;height:142px;background:linear-gradient(#00008f,#00009b 100px,#0003e8 112px,#0000c6 121px,#00008f 130px,#000090 141px)"></i><i style="left:910px;top:531px;height:142px;background:linear-gradient(#00008f,#00009e 108px,#00008f 141px)"></i><i style="left:914px;top:531px;height:142px;background:linear-gradient(#00008f,#00009c 115px,#00009a 141px)"></i><i style="left:915px;top:531px;height:142px;background:linear-gradient(#00008f,#00009a 63px,#0000a3 73px,#00008f 86px,#00009e 109px,#0000cd 115px,#0021eb 121px,#0000c7 134px,#0000c6 141px)"></i><i style="left:916px;top:531px;height:142px;background:linear-gradient(#00008f,#000099 114px,#0007e0 121px,#0000a1 139px,#0000a7 141px)"></i><i style="left:917px;top:531px;height:142px;background:linear-gradient(#00008f,#000092 141px)"></i><i style="left:918px;top:531px;height:142px;background:linear-gradient(#00008f,#00009d 118px,#0008a0 141px)"></i><i style="left:919px;top:531px;height:142px;background:linear-gradient(#00008f,#00009f 65px,#0017a0 106px,#172689 116px,#2632c8 119px,#265fc8 129px,#204dcf 141px)"></i><i style="left:920px;top:531px;height:142px;background:linear-gradient(#00008f,#00009e 23px,#0000b6 33px,#00008f 47px,#0000a0 59px,#000de1 67px,#003eee 78px,#000de6 94px,#004fee 103px,#10d3de 113px,#c3d938 118px,#d9bd26 123px,#c3e23c 137px,#ade152 141px)"></i><i style="left:921px;top:531px;height:142px;background:linear-gradient(#00008f,#00009f 65px,#000deb 77px,#0003c7 94px,#001dee 102px,#10d9df 114px,#c3d52c 119px,#d8d11d 127px,#94d95f 141px)"></i><i style="left:922px;top:531px;height:142px;background:linear-gradient(#00008f,#000da0 106px,#0e2692 116px,#262682 122px,#1e269c 136px,#19269c 141px)"></i><i style="left:923px;top:531px;height:142px;background:linear-gradient(#00008f,#000094 141px)"></i><i style="left:928px;top:531px;height:142px;background:linear-gradient(#000094,#000092 39px,#000092 77px,#000093 113px,#0006a5 137px,#0000a0 141px)"></i><i style="left:929px;top:531px;height:142px;background:linear-gradient(#0000a5,#00008f 8px,#0000b0 15px,#000ede 22px,#0009de 30px,#000091 43px,#0000d0 53px,#0022de 63px,#0000c8 71px,#00009a 80px,#0012de 92px,#0021de 100px,#0000c9 107px,#00009b 116px,#000bde 127px,#0026e0 135px,#0000dc 141px)"></i><i style="left:930px;top:531px;height:142px;background:linear-gradient(#000094,#000092 39px,#000092 77px,#000093 113px,#0000a0 141px)"></i><i style="left:938px;top:531px;height:142px;background:linear-gradient(#00008f,#000097 20px,#0002a0 141px)"></i><i style="left:939px;top:531px;height:142px;background:linear-gradient(#00008f,#0000a5 5px,#0009de 11px,#0000ca 18px,#00008f 25px,#0000b2 31px,#0013de 36px,#0021de 42px,#0000cb 47px,#0000a1 53px,#000bde 61px,#0034de 67px,#0000d6 74px,#0000ab 81px,#0011de 88px,#0039de 94px,#0000ce 102px,#0000af 108px,#0008de 114px,#003de2 121px,#0000d2 129px,#0000b3 135px,#000cde 141px)"></i><i style="left:940px;top:531px;height:142px;background:linear-gradient(#00008f,#000097 20px,#0009a0 117px,#000baf 123px,#00009d 139px,#0002a0 141px)"></i><i style="left:941px;top:531px;height:142px;background:linear-gradient(#00008f,#00008f 141px)"></i><i style="left:942px;top:531px;height:142px;background:linear-gradient(#00008f,#00009b 119px,#0006a0 141px)"></i><i style="left:943px;top:531px;height:142px;background:linear-gradient(#00008f,#00009e 79px,#0000a7 89px,#00008f 101px,#00008f 116px,#0006e6 121px,#0042ee 132px,#001eec 141px)"></i><i style="left:944px;top:531px;height:142px;background:linear-gradient(#00008f,#000097 118px,#0009ee 126px,#001dee 135px,#0006e6 141px)"></i><i style="left:945px;top:531px;height:142px;background:linear-gradient(#00008f,#00009d 124px,#00009e 141px)"></i><i style="left:951px;top:531px;height:142px;background:linear-gradient(#00008f,#00009e 78px,#0011a0 111px,#12268e 123px,#0f2691 141px)"></i><i style="left:952px;top:531px;height:142px;background:linear-gradient(#00008f,#0000a2 71px,#0016ee 80px,#0039ee 91px,#0017ee 104px,#0052ee 110px,#0dd9e1 115px,#49d9a5 119px,#91d95d 129px,#6bd983 139px,#5bd993 141px)"></i><i style="left:953px;top:531px;height:142px;background:linear-gradient(#00008f,#000096 29px,#0008de 39px,#0000cc 52px,#0000af 64px,#000de2 73px,#0064ee 86px,#003fee 99px,#0042ee 105px,#008eee 111px,#13d4db 114px,#54d99b 117px,#abd953 128px,#8dda72 138px,#74d989 141px)"></i><i style="left:954px;top:531px;height:142px;background:linear-gradient(#00008f,#000fa0 80px,#001ba0 111px,#172697 121px,#202ece 130px,#1626d0 141px)"></i><i style="left:955px;top:531px;height:142px;background:linear-gradient(#00008f,#00009d 126px,#00009e 141px)"></i><i style="left:960px;top:531px;height:142px;background:linear-gradient(#00008f,#00009d 135px,#0006a0 141px)"></i><i style="left:961px;top:531px;height:142px;background:linear-gradient(#00008f,#00009e 95px,#0009af 113px,#0003a4 128px,#001eee 138px,#0033ee 141px)"></i><i style="left:962px;top:531px;height:142px;background:linear-gradient(#00008f,#0000a3 13px,#000099 23px,#00009c 52px,#0000b6 62px,#00008f 72px,#000096 90px,#0008de 97px,#0035e2 107px,#0000db 124px,#0070fd 141px)"></i><i style="left:963px;top:531px;height:142px;background:linear-gradient(#00008f,#00009e 95px,#000dad 134px,#0017e4 141px)"></i><i style="left:964px;top:531px;height:142px;background:linear-gradient(#00008f,#00009e 141px)"></i><i style="left:987px;top:531px;height:142px;background:linear-gradient(#00008f,#00009e 53px,#00009d 90px,#000097 141px)"></i><i style="left:988px;top:531px;height:142px;background:linear-gradient(#00008f,#000092 48px,#0008de 55px,#0004de 63px,#000091 78px,#0000cf 90px,#0020e6 103px,#0000ce 111px,#00008f 117px,#00009e 137px,#0000b1 141px)"></i><i style="left:989px;top:531px;height:142px;background:linear-gradient(#00008f,#00009e 53px,#00009d 90px,#0007c6 103px,#00008f 119px,#000097 141px)"></i><i style="left:990px;top:531px;height:142px;background:linear-gradient(#00008f,#00009e 96px,#00009c 136px,#0001a0 141px)"></i><i style="left:991px;top:531px;height:142px;background:linear-gradient(#00008f,#000094 72px,#0004ae 91px,#000ad0 101px,#000096 116px,#0000a9 130px,#000fee 141px)"></i><i style="left:992px;top:531px;height:142px;background:linear-gradient(#00008f,#0000c4 13px,#00008f 27px,#00009c 39px,#000cde 49px,#0014de 59px,#0000b9 68px,#00009f 78px,#000ddf 90px,#002fe8 100px,#0000ce 111px,#0000a7 122px,#0012e7 134px,#0035ee 141px)"></i><i style="left:993px;top:531px;height:142px;background:linear-gradient(#00008f,#000094 72px,#000ba0 141px)"></i><i style="left:994px;top:531px;height:142px;background:linear-gradient(#00008f,#000096 135px,#00008f 141px)"></i><i style="left:995px;top:531px;height:142px;background:linear-gradient(#00008f,#00009f 24px,#0000a7 35px,#00008f 47px,#0000aa 59px,#000dde 69px,#0036de 81px,#0000d1 94px,#0000b0 106px,#000ede 117px,#003fe4 127px,#0000c6 133px,#00008f 141px)"></i><i style="left:996px;top:531px;height:142px;background:linear-gradient(#00008f,#000aa6 122px,#000bb3 128px,#00008f 141px)"></i><i style="left:997px;top:531px;height:142px;background:linear-gradient(#00008f,#00008f 141px)"></i><i style="left:1011px;top:531px;height:142px;background:linear-gradient(#00008f,#00008f 141px)"></i><i style="left:1012px;top:531px;height:142px;background:linear-gradient(#00008f,#00009e 71px,#00009c 115px,#0003c4 126px,#000091 141px)"></i><i style="left:1013px;top:531px;height:142px;background:linear-gradient(#00008f,#000095 65px,#0000dd 73px,#0000c8 85px,#00008f 96px,#0000a1 109px,#000ce4 121px,#0000d6 132px,#000098 141px)"></i><i style="left:1014px;top:531px;height:142px;background:linear-gradient(#00008f,#00009e 71px,#00009c 115px,#000091 141px)"></i><i style="left:1028px;top:531px;height:142px;background:linear-gradient(#00008f,#00009f 75px,#00009c 112px,#00009f 127px,#00008f 141px)"></i><i style="left:1029px;top:531px;height:142px;background:linear-gradient(#00008f,#00009c 39px,#000097 48px,#00009c 69px,#0006de 77px,#0007de 86px,#00008f 99px,#0000a1 107px,#000bde 116px,#0009de 125px,#00008f 139px,#00008f 141px)"></i><i style="left:1030px;top:531px;height:142px;background:linear-gradient(#00008f,#00009f 75px,#00009c 112px,#00008f 141px)"></i><i style="left:1039px;top:531px;height:142px;background:linear-gradient(#00008f,#00008f 141px)"></i><i style="left:1040px;top:531px;height:142px;background:linear-gradient(#00008f,#00009c 74px,#0000ab 79px,#00008f 92px,#0000a7 100px,#0000ca 106px,#00008f 114px,#0000a2 126px,#0002db 132px,#0000b0 138px,#000092 141px)"></i><i style="left:1041px;top:531px;height:142px;background:linear-gradient(#00008f,#000095 70px,#0000d6 77px,#00008f 87px,#00009d 97px,#0000e7 104px,#0000bf 110px,#00008f 115px,#00009e 124px,#0006ea 131px,#0000d2 137px,#00009c 141px)"></i><i style="left:1042px;top:531px;height:142px;background:linear-gradient(#00008f,#000090 85px,#000094 112px,#000092 141px)"></i><i style="left:1054px;top:531px;height:142px;background:linear-gradient(#00008f,#00009d 98px,#00008f 141px)"></i><i style="left:1055px;top:531px;height:142px;background:linear-gradient(#00008f,#00009d 92px,#0012ee 100px,#002bee 108px,#0007de 115px,#0000b8 118px,#000095 120px,#000094 141px)"></i><i style="left:1056px;top:531px;height:142px;background:linear-gradient(#00008f,#00009d 62px,#00009c 71px,#00009b 76px,#0000ae 83px,#0000d1 92px,#0059ee 105px,#002bed 114px,#0000df 118px,#000092 121px,#000099 139px,#0000a6 141px)"></i><i style="left:1057px;top:531px;height:142px;background:linear-gradient(#00008f,#000fa0 101px,#000094 141px)"></i><i style="left:1058px;top:531px;height:142px;background:linear-gradient(#00008f,#0006a0 141px)"></i><i style="left:1059px;top:531px;height:142px;background:linear-gradient(#00008f,#0000a0 12px,#0000aa 22px,#00008f 32px,#00009a 54px,#0000bc 64px,#00008f 77px,#00009a 98px,#0000bd 109px,#0000b7 116px,#0000b4 123px,#0000b9 133px,#0013de 140px,#001cde 141px)"></i><i style="left:1060px;top:531px;height:142px;background:linear-gradient(#00008f,#0006a0 141px)"></i><i style="left:1061px;top:531px;height:142px;background:linear-gradient(#00008f,#00009d 110px,#00009c 134px,#0005a0 141px)"></i><i style="left:1062px;top:531px;height:142px;background:linear-gradient(#00008f,#00009c 78px,#000ab7 89px,#000098 99px,#0004ad 106px,#0010ed 113px,#00009b 125px,#0001b2 131px,#001cee 137px,#002bee 141px)"></i><i style="left:1063px;top:531px;height:142px;background:linear-gradient(#00008f,#000097 29px,#00009a 35px,#00009c 55px,#0000ad 61px,#00008f 68px,#000097 75px,#0007de 80px,#0038e4 86px,#0000ce 95px,#0000be 101px,#0013e0 106px,#004cee 113px,#0000ca 124px,#0000d8 130px,#005af4 140px,#0058f4 141px)"></i><i style="left:1064px;top:531px;height:142px;background:linear-gradient(#00008f,#00009c 78px,#0004a0 120px,#0010aa 137px,#0012ba 141px)"></i><i style="left:1065px;top:531px;height:142px;background:linear-gradient(#00009c,#00009e 28px,#00009b 137px,#00009c 141px)"></i><i style="left:1066px;top:531px;height:142px;background:linear-gradient(#0000c8,#00008f 13px,#0000bf 25px,#0014de 33px,#0011de 44px,#00008f 64px,#00009e 78px,#0000ba 89px,#00008f 102px,#00009b 126px,#0000bb 138px,#0000b0 141px)"></i><i style="left:1067px;top:531px;height:142px;background:linear-gradient(#00009c,#00009e 28px,#000096 141px)"></i><i style="left:1080px;top:531px;height:142px;background:linear-gradient(#00008f,#00009e 67px,#0004a0 85px,#000097 141px)"></i><i style="left:1081px;top:531px;height:142px;background:linear-gradient(#00008f,#00009e 11px,#00009b 18px,#00009a 40px,#0000b1 47px,#00008f 55px,#000093 61px,#0011de 69px,#0049de 76px,#0012de 85px,#0000c7 94px,#001bde 100px,#003fde 107px,#0000cd 116px,#00008f 121px,#00009e 132px,#0000bc 139px,#0000b2 141px)"></i><i style="left:1082px;top:531px;height:142px;background:linear-gradient(#00008f,#00009e 67px,#0004a0 85px,#000097 141px)"></i><i style="left:1092px;top:531px;height:142px;background:linear-gradient(#00008f,#00009f 58px,#000096 141px)"></i><i style="left:1093px;top:531px;height:142px;background:linear-gradient(#00008f,#00009d 19px,#0000af 28px,#00008f 38px,#000093 51px,#0008de 60px,#0015de 69px,#0000c2 76px,#00008f 80px,#00009b 98px,#0000bd 108px,#00008f 119px,#000098 138px,#0000ad 141px)"></i><i style="left:1094px;top:531px;height:142px;background:linear-gradient(#00008f,#00009f 58px,#000096 141px)"></i><i style="left:1099px;top:531px;height:142px;background:linear-gradient(#00008f,#00009b 97px,#000098 141px)"></i><i style="left:1100px;top:531px;height:142px;background:linear-gradient(#00008f,#000098 95px,#0000e5 98px,#0017eb 103px,#0000ce 108px,#00009c 114px,#0000c7 120px,#0019ed 124px,#003cee 130px,#0000de 137px,#0000bd 141px)"></i><i style="left:1101px;top:531px;height:142px;background:linear-gradient(#00008f,#000097 96px,#0005df 100px,#0000cc 106px,#000094 112px,#0000a1 119px,#000fee 125px,#0027ee 130px,#0000d7 136px,#0000aa 141px)"></i><i style="left:1102px;top:531px;height:142px;background:linear-gradient(#00008f,#000090 110px,#000095 139px,#000093 141px)"></i><i style="left:1116px;top:531px;height:142px;background:linear-gradient(#00008f,#000095 134px,#00008f 141px)"></i><i style="left:1117px;top:531px;height:142px;background:linear-gradient(#00008f,#00009c 36px,#000095 46px,#000099 76px,#0000d6 88px,#0000cc 95px,#0000ad 107px,#000cde 118px,#002fe7 129px,#0012e1 132px,#00009d 135px,#00008f 141px)"></i><i style="left:1118px;top:531px;height:142px;background:linear-gradient(#00008f,#0004a6 119px,#000acb 129px,#0004b1 132px,#000091 136px,#00008f 141px)"></i><i style="left:1119px;top:531px;height:142px;background:linear-gradient(#00008f,#00008f 141px)"></i><i style="left:1132px;top:531px;height:142px;background:linear-gradient(#00008f,#00009d 77px,#00009d 107px,#000098 141px)"></i><i style="left:1133px;top:531px;height:142px;background:linear-gradient(#00008f,#00009d 20px,#00009e 27px,#000096 48px,#0000b4 55px,#00008f 63px,#00009b 72px,#000dde 80px,#000cde 87px,#00008f 98px,#0000b9 105px,#000ede 110px,#000dde 117px,#00008f 121px,#00009f 138px,#0000b7 141px)"></i><i style="left:1134px;top:531px;height:142px;background:linear-gradient(#00008f,#00009d 77px,#00009d 107px,#000098 141px)"></i><i style="left:1189px;top:531px;height:142px;background:linear-gradient(#000094,#00009d 27px,#0011a0 70px,#00008f 141px)"></i><i style="left:1190px;top:531px;height:142px;background:linear-gradient(#0000a3,#00008f 12px,#000092 24px,#0006de 28px,#0036de 37px,#0000ca 51px,#0000d5 60px,#005fde 74px,#002bde 84px,#0000ca 91px,#0000c0 100px,#0018de 109px,#0000cc 112px,#00008f 128px,#00008f 141px)"></i><i style="left:1191px;top:531px;height:142px;background:linear-gradient(#000094,#00009d 27px,#0011a0 70px,#00008f 141px)"></i><i style="left:1196px;top:531px;height:142px;background:linear-gradient(#00008f,#00009d 80px,#000095 141px)"></i><i style="left:1197px;top:531px;height:142px;background:linear-gradient(#00008f,#00009d 78px,#0001e4 81px,#0000da 88px,#00009d 97px,#0000d0 104px,#0025ee 110px,#0018ed 116px,#0000c3 121px,#000097 128px,#0000c9 134px,#000093 137px,#0000ac 141px)"></i><i style="left:1198px;top:531px;height:142px;background:linear-gradient(#00008f,#000098 79px,#0001c5 82px,#0000ae 89px,#000092 97px,#0000a6 103px,#000bee 110px,#0003de 117px,#000093 124px,#00009b 132px,#0000b4 134px,#000090 137px,#000098 141px)"></i><i style="left:1199px;top:531px;height:142px;background:linear-gradient(#00008f,#00009e 108px,#000090 141px)"></i><i style="left:1202px;top:531px;height:142px;background:linear-gradient(#000094,#000099 129px,#00008f 141px)"></i><i style="left:1203px;top:531px;height:142px;background:linear-gradient(#0000a5,#00008f 11px,#00009b 31px,#0000b2 41px,#00008f 51px,#000099 71px,#0000be 81px,#0000be 87px,#0000c0 95px,#0000d1 107px,#0039de 122px,#0022de 127px,#0002de 128px,#000096 130px,#00008f 141px)"></i><i style="left:1204px;top:531px;height:142px;background:linear-gradient(#000094,#000099 129px,#00008f 141px)"></i>
<svg width="1418" height="788" style="position:absolute;left:0;top:0"><path d="M808.8 201.2h4.5M1283.5 201.2h-4.5" stroke="#000040" stroke-width="1" opacity=".5"/><path d="M808.8 184.7h4.5M1283.5 184.7h-4.5" stroke="#000040" stroke-width="1" opacity=".5"/><path d="M808.8 170.1h4.5M1283.5 170.1h-4.5" stroke="#000040" stroke-width="1" opacity=".5"/><path d="M808.8 157.1h4.5M1283.5 157.1h-4.5" stroke="#000040" stroke-width="1" opacity=".5"/><path d="M808.8 134.6h4.5M1283.5 134.6h-4.5" stroke="#000040" stroke-width="1" opacity=".5"/><path d="M808.8 115.6h4.5M1283.5 115.6h-4.5" stroke="#000040" stroke-width="1" opacity=".5"/><path d="M808.8 99.1h4.5M1283.5 99.1h-4.5" stroke="#000040" stroke-width="1" opacity=".5"/><path d="M808.8 84.5h4.5M1283.5 84.5h-4.5" stroke="#000040" stroke-width="1" opacity=".5"/><path d="M808.8 71.5h4.5M1283.5 71.5h-4.5" stroke="#000040" stroke-width="1" opacity=".5"/><path d="M808.8 59.7h4.5M1283.5 59.7h-4.5" stroke="#000040" stroke-width="1" opacity=".5"/><path d="M808.8 59.2v4.5M808.8 200.7v-4.5" stroke="#000040" stroke-width="1" opacity=".5"/><path d="M927.5 59.2v4.5M927.5 200.7v-4.5" stroke="#000040" stroke-width="1" opacity=".5"/><path d="M1046.2 59.2v4.5M1046.2 200.7v-4.5" stroke="#000040" stroke-width="1" opacity=".5"/><path d="M1164.8 59.2v4.5M1164.8 200.7v-4.5" stroke="#000040" stroke-width="1" opacity=".5"/><path d="M1283.5 59.2v4.5M1283.5 200.7v-4.5" stroke="#000040" stroke-width="1" opacity=".5"/><path d="M808.8 437.3h4.5M1283.5 437.3h-4.5" stroke="#000040" stroke-width="1" opacity=".5"/><path d="M808.8 420.8h4.5M1283.5 420.8h-4.5" stroke="#000040" stroke-width="1" opacity=".5"/><path d="M808.8 406.2h4.5M1283.5 406.2h-4.5" stroke="#000040" stroke-width="1" opacity=".5"/><path d="M808.8 393.2h4.5M1283.5 393.2h-4.5" stroke="#000040" stroke-width="1" opacity=".5"/><path d="M808.8 370.7h4.5M1283.5 370.7h-4.5" stroke="#000040" stroke-width="1" opacity=".5"/><path d="M808.8 351.7h4.5M1283.5 351.7h-4.5" stroke="#000040" stroke-width="1" opacity=".5"/><path d="M808.8 335.2h4.5M1283.5 335.2h-4.5" stroke="#000040" stroke-width="1" opacity=".5"/><path d="M808.8 320.6h4.5M1283.5 320.6h-4.5" stroke="#000040" stroke-width="1" opacity=".5"/><path d="M808.8 307.6h4.5M1283.5 307.6h-4.5" stroke="#000040" stroke-width="1" opacity=".5"/><path d="M808.8 295.8h4.5M1283.5 295.8h-4.5" stroke="#000040" stroke-width="1" opacity=".5"/><path d="M808.8 295.3v4.5M808.8 436.8v-4.5" stroke="#000040" stroke-width="1" opacity=".5"/><path d="M927.5 295.3v4.5M927.5 436.8v-4.5" stroke="#000040" stroke-width="1" opacity=".5"/><path d="M1046.2 295.3v4.5M1046.2 436.8v-4.5" stroke="#000040" stroke-width="1" opacity=".5"/><path d="M1164.8 295.3v4.5M1164.8 436.8v-4.5" stroke="#000040" stroke-width="1" opacity=".5"/><path d="M1283.5 295.3v4.5M1283.5 436.8v-4.5" stroke="#000040" stroke-width="1" opacity=".5"/><path d="M808.8 673.3h4.5M1283.5 673.3h-4.5" stroke="#000040" stroke-width="1" opacity=".5"/><path d="M808.8 656.8h4.5M1283.5 656.8h-4.5" stroke="#000040" stroke-width="1" opacity=".5"/><path d="M808.8 642.2h4.5M1283.5 642.2h-4.5" stroke="#000040" stroke-width="1" opacity=".5"/><path d="M808.8 629.2h4.5M1283.5 629.2h-4.5" stroke="#000040" stroke-width="1" opacity=".5"/><path d="M808.8 606.7h4.5M1283.5 606.7h-4.5" stroke="#000040" stroke-width="1" opacity=".5"/><path d="M808.8 587.7h4.5M1283.5 587.7h-4.5" stroke="#000040" stroke-width="1" opacity=".5"/><path d="M808.8 571.2h4.5M1283.5 571.2h-4.5" stroke="#000040" stroke-width="1" opacity=".5"/><path d="M808.8 556.6h4.5M1283.5 556.6h-4.5" stroke="#000040" stroke-width="1" opacity=".5"/><path d="M808.8 543.6h4.5M1283.5 543.6h-4.5" stroke="#000040" stroke-width="1" opacity=".5"/><path d="M808.8 531.8h4.5M1283.5 531.8h-4.5" stroke="#000040" stroke-width="1" opacity=".5"/><path d="M808.8 531.3v4.5M808.8 672.8v-4.5" stroke="#000040" stroke-width="1" opacity=".5"/><path d="M927.5 531.3v4.5M927.5 672.8v-4.5" stroke="#000040" stroke-width="1" opacity=".5"/><path d="M1046.2 531.3v4.5M1046.2 672.8v-4.5" stroke="#000040" stroke-width="1" opacity=".5"/><path d="M1164.8 531.3v4.5M1164.8 672.8v-4.5" stroke="#000040" stroke-width="1" opacity=".5"/><path d="M1283.5 531.3v4.5M1283.5 672.8v-4.5" stroke="#000040" stroke-width="1" opacity=".5"/></svg></body></html>
